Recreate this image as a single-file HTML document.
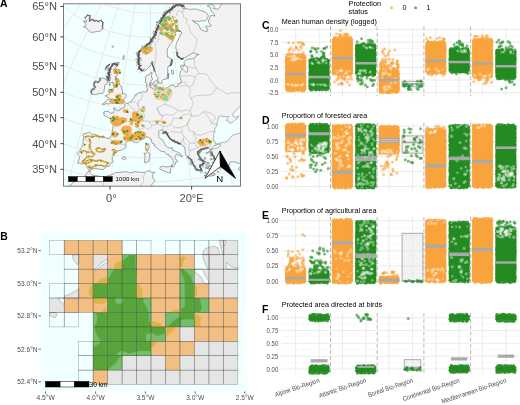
<!DOCTYPE html>
<html><head><meta charset="utf-8"><title>Figure</title>
<style>html,body{margin:0;padding:0;background:#fff;width:520px;height:405px;overflow:hidden}svg{display:block;will-change:transform}</style>
</head><body><svg width="520" height="405" viewBox="0 0 520 405"><defs><clipPath id="clipA"><rect x="63.5" y="3.8" width="177.0" height="182.39999999999998"/></clipPath></defs><g clip-path="url(#clipA)"><rect x="63.5" y="3.8" width="177.0" height="182.39999999999998" fill="#f0ffff"/><path d="M-119.7 94.9 L-114.6 102.2 L-109.2 109.4 L-103.5 116.4 L-97.7 123.2 L-91.6 129.8 L-85.4 136.2 L-79 142.4 L-72.3 148.4 L-65.5 154.2 L-58.6 159.8 L-51.4 165.2 L-44.2 170.4 L-36.7 175.3 L-29.2 180.1 L-21.5 184.6 L-13.6 188.9 L-5.7 193 L2.4 196.9 L10.5 200.6 L18.8 204.1 L27.2 207.3 L35.6 210.3 L44.2 213.1 L52.8 215.7 L61.4 218 L70.2 220.2 L79 222.1 L87.8 223.7 L96.7 225.2 L105.6 226.4 L114.6 227.4 L123.5 228.2 L132.5 228.8 L141.5 229.1 L150.5 229.2 L159.6 229.1 L168.6 228.8 L177.6 228.2 L186.5 227.4 L195.5 226.4 L204.4 225.2 L213.3 223.7 L222.1 222.1 L230.9 220.2 L239.6 218 L248.3 215.7 L256.9 213.1 L265.5 210.3 L273.9 207.3 L282.3 204.1 L290.5 200.6 L298.7 196.9 L306.8 193 L314.7 188.9 L322.6 184.6 L330.3 180.1 L337.8 175.3 L345.3 170.4 L352.5 165.2 L359.7 159.8 L366.6 154.2 L373.4 148.4 L380 142.4 L386.5 136.2 L392.7 129.8 L398.8 123.2 L404.6 116.4 L410.2 109.4 L415.6 102.2 L420.8 94.9 M-103.4 76.7 L-98.6 83.7 L-93.7 90.6 L-88.5 97.2 L-83.1 103.7 L-77.5 110.1 L-71.7 116.2 L-65.7 122.1 L-59.5 127.9 L-53.2 133.4 L-46.7 138.8 L-40 144 L-33.2 148.9 L-26.2 153.7 L-19.1 158.3 L-11.9 162.6 L-4.5 166.8 L2.9 170.7 L10.5 174.5 L18.2 178 L26 181.3 L33.9 184.5 L41.9 187.4 L49.9 190.1 L58.1 192.5 L66.2 194.8 L74.5 196.9 L82.8 198.7 L91.2 200.3 L99.6 201.7 L108 202.9 L116.5 203.9 L125 204.6 L133.5 205.2 L142 205.5 L150.5 205.6 L159.1 205.5 L167.6 205.2 L176.1 204.6 L184.6 203.9 L193.1 202.9 L201.5 201.7 L209.9 200.3 L218.3 198.7 L226.6 196.9 L234.8 194.8 L243 192.5 L251.2 190.1 L259.2 187.4 L267.2 184.5 L275.1 181.3 L282.9 178 L290.6 174.5 L298.1 170.7 L305.6 166.8 L313 162.6 L320.2 158.3 L327.3 153.7 L334.3 148.9 L341.1 144 L347.8 138.8 L354.3 133.4 L360.6 127.9 L366.8 122.1 L372.8 116.2 L378.6 110.1 L384.2 103.7 L389.6 97.2 L394.7 90.6 L399.7 83.7 L404.5 76.7 M-86.1 59.2 L-81.7 65.9 L-77.2 72.3 L-72.4 78.7 L-67.5 84.8 L-62.4 90.8 L-57 96.6 L-51.5 102.2 L-45.8 107.7 L-39.9 113 L-33.9 118.1 L-27.7 123 L-21.4 127.7 L-14.9 132.2 L-8.3 136.6 L-1.6 140.7 L5.3 144.7 L12.2 148.5 L19.3 152 L26.5 155.4 L33.8 158.6 L41.2 161.6 L48.6 164.3 L56.2 166.9 L63.8 169.3 L71.5 171.5 L79.2 173.4 L87 175.2 L94.8 176.7 L102.7 178.1 L110.6 179.2 L118.6 180.1 L126.5 180.9 L134.5 181.4 L142.5 181.7 L150.5 181.8 L158.6 181.7 L166.6 181.4 L174.5 180.9 L182.5 180.1 L190.5 179.2 L198.4 178.1 L206.3 176.7 L214.1 175.2 L221.9 173.4 L229.6 171.5 L237.3 169.3 L244.9 166.9 L252.5 164.3 L259.9 161.6 L267.3 158.6 L274.6 155.4 L281.8 152 L288.9 148.5 L295.8 144.7 L302.7 140.7 L309.4 136.6 L316 132.2 L322.5 127.7 L328.8 123 L335 118.1 L341 113 L346.9 107.7 L352.6 102.2 L358.1 96.6 L363.4 90.8 L368.6 84.8 L373.5 78.7 L378.3 72.3 L382.8 65.9 L387.1 59.2 M-67.8 42.5 L-63.9 48.7 L-59.8 54.8 L-55.5 60.7 L-51 66.4 L-46.4 72 L-41.5 77.5 L-36.5 82.8 L-31.2 87.9 L-25.9 92.9 L-20.4 97.7 L-14.7 102.3 L-8.9 106.7 L-2.9 111 L3.2 115.1 L9.4 119 L15.7 122.8 L22.2 126.3 L28.7 129.7 L35.4 132.9 L42.1 135.9 L48.9 138.7 L55.9 141.3 L62.8 143.7 L69.9 146 L77 148 L84.2 149.9 L91.5 151.5 L98.7 153 L106.1 154.3 L113.4 155.4 L120.8 156.2 L128.2 156.9 L135.7 157.4 L143.1 157.7 L150.5 157.8 L158 157.7 L165.4 157.4 L172.9 156.9 L180.3 156.2 L187.7 155.4 L195 154.3 L202.3 153 L209.6 151.5 L216.9 149.9 L224.1 148 L231.2 146 L238.2 143.7 L245.2 141.3 L252.1 138.7 L259 135.9 L265.7 132.9 L272.4 129.7 L278.9 126.3 L285.4 122.8 L291.7 119 L297.9 115.1 L304 111 L309.9 106.7 L315.8 102.3 L321.4 97.7 L327 92.9 L332.3 87.9 L337.5 82.8 L342.6 77.5 L347.4 72 L352.1 66.4 L356.6 60.7 L360.9 54.8 L365 48.7 L368.9 42.5 M-48.7 26.5 L-45.3 32.2 L-41.6 37.8 L-37.8 43.3 L-33.7 48.6 L-29.5 53.8 L-25.2 58.9 L-20.6 63.8 L-15.9 68.5 L-11 73.1 L-6 77.6 L-0.9 81.9 L4.4 86 L9.8 90 L15.4 93.8 L21 97.5 L26.8 101 L32.7 104.3 L38.7 107.4 L44.8 110.4 L51 113.2 L57.2 115.8 L63.5 118.3 L70 120.6 L76.4 122.7 L83 124.6 L89.6 126.3 L96.2 127.9 L102.9 129.2 L109.6 130.4 L116.4 131.4 L123.2 132.3 L130 132.9 L136.8 133.4 L143.7 133.6 L150.5 133.7 L157.4 133.6 L164.2 133.4 L171.1 132.9 L177.9 132.3 L184.7 131.4 L191.4 130.4 L198.2 129.2 L204.9 127.9 L211.5 126.3 L218.1 124.6 L224.7 122.7 L231.1 120.6 L237.5 118.3 L243.9 115.8 L250.1 113.2 L256.3 110.4 L262.4 107.4 L268.4 104.3 L274.3 101 L280 97.5 L285.7 93.8 L291.2 90 L296.7 86 L302 81.9 L307.1 77.6 L312.1 73.1 L317 68.5 L321.7 63.8 L326.2 58.9 L330.6 53.8 L334.8 48.6 L338.9 43.3 L342.7 37.8 L346.4 32.2 L349.8 26.5 M-28.9 11.3 L-25.9 16.5 L-22.6 21.6 L-19.2 26.6 L-15.7 31.4 L-11.9 36.2 L-8 40.8 L-4 45.3 L0.2 49.6 L4.5 53.9 L9 57.9 L13.6 61.9 L18.4 65.7 L23.2 69.3 L28.2 72.8 L33.3 76.2 L38.5 79.4 L43.8 82.4 L49.2 85.3 L54.7 88.1 L60.3 90.7 L65.9 93.1 L71.7 95.3 L77.5 97.4 L83.3 99.4 L89.3 101.1 L95.2 102.7 L101.3 104.2 L107.3 105.4 L113.4 106.5 L119.6 107.5 L125.7 108.2 L131.9 108.8 L138.1 109.2 L144.3 109.5 L150.5 109.6 L156.8 109.5 L163 109.2 L169.2 108.8 L175.4 108.2 L181.5 107.5 L187.7 106.5 L193.8 105.4 L199.8 104.2 L205.8 102.7 L211.8 101.1 L217.7 99.4 L223.6 97.4 L229.4 95.3 L235.1 93.1 L240.8 90.7 L246.4 88.1 L251.9 85.3 L257.3 82.4 L262.6 79.4 L267.8 76.2 L272.9 72.8 L277.8 69.3 L282.7 65.7 L287.4 61.9 L292.1 57.9 L296.5 53.9 L300.9 49.6 L305.1 45.3 L309.1 40.8 L313 36.2 L316.8 31.4 L320.3 26.6 L323.7 21.6 L326.9 16.5 L330 11.3 M-8.3 -3.2 L-5.7 1.5 L-2.9 6 L0 10.5 L3.1 14.9 L6.4 19.1 L9.8 23.3 L13.3 27.3 L17 31.2 L20.8 35 L24.7 38.7 L28.8 42.3 L33 45.7 L37.3 49 L41.7 52.1 L46.2 55.2 L50.8 58.1 L55.5 60.8 L60.3 63.4 L65.2 65.9 L70.1 68.2 L75.1 70.4 L80.2 72.5 L85.4 74.4 L90.6 76.1 L95.9 77.7 L101.2 79.2 L106.6 80.5 L112 81.6 L117.4 82.6 L122.9 83.5 L128.4 84.2 L133.9 84.7 L139.5 85.1 L145 85.3 L150.5 85.4 L156.1 85.3 L161.6 85.1 L167.2 84.7 L172.7 84.2 L178.2 83.5 L183.7 82.6 L189.1 81.6 L194.5 80.5 L199.9 79.2 L205.2 77.7 L210.5 76.1 L215.7 74.4 L220.9 72.5 L225.9 70.4 L231 68.2 L235.9 65.9 L240.8 63.4 L245.6 60.8 L250.3 58.1 L254.9 55.2 L259.4 52.1 L263.8 49 L268.1 45.7 L272.3 42.3 L276.3 38.7 L280.3 35 L284.1 31.2 L287.8 27.3 L291.3 23.3 L294.7 19.1 L298 14.9 L301.1 10.5 L304 6 L306.8 1.5 L309.4 -3.2 M12.9 -16.8 L15.1 -12.8 L17.4 -8.8 L19.9 -4.8 L22.6 -1 L25.4 2.7 L28.3 6.4 L31.3 9.9 L34.5 13.4 L37.7 16.7 L41.1 19.9 L44.6 23.1 L48.2 26.1 L51.9 29 L55.7 31.8 L59.6 34.5 L63.6 37 L67.7 39.5 L71.9 41.8 L76.1 44 L80.4 46 L84.8 48 L89.2 49.8 L93.7 51.5 L98.2 53 L102.8 54.4 L107.5 55.7 L112.2 56.9 L116.9 57.9 L121.6 58.8 L126.4 59.5 L131.2 60.2 L136 60.6 L140.9 61 L145.7 61.2 L150.5 61.3 L155.4 61.2 L160.2 61 L165.1 60.6 L169.9 60.2 L174.7 59.5 L179.5 58.8 L184.2 57.9 L188.9 56.9 L193.6 55.7 L198.3 54.4 L202.9 53 L207.4 51.5 L211.9 49.8 L216.3 48 L220.7 46 L225 44 L229.2 41.8 L233.4 39.5 L237.5 37 L241.5 34.5 L245.4 31.8 L249.2 29 L252.9 26.1 L256.5 23.1 L260 19.9 L263.4 16.7 L266.6 13.4 L269.8 9.9 L272.8 6.4 L275.7 2.7 L278.5 -1 L281.1 -4.8 L283.6 -8.8 L286 -12.8 L288.2 -16.8 M34.7 -29.7 L36.5 -26.2 L38.4 -22.8 L40.5 -19.5 L42.7 -16.2 L45 -13 L47.4 -9.9 L49.9 -6.9 L52.5 -3.9 L55.2 -1.1 L58.1 1.7 L61 4.4 L64 6.9 L67.1 9.4 L70.3 11.8 L73.6 14.1 L77 16.3 L80.4 18.4 L83.9 20.4 L87.5 22.3 L91.1 24.1 L94.8 25.7 L98.5 27.3 L102.3 28.8 L106.2 30.1 L110.1 31.3 L114 32.4 L118 33.4 L122 34.3 L126 35.1 L130.1 35.7 L134.1 36.2 L138.2 36.7 L142.3 37 L146.4 37.1 L150.5 37.2 L154.7 37.1 L158.8 37 L162.9 36.7 L167 36.2 L171 35.7 L175.1 35.1 L179.1 34.3 L183.1 33.4 L187.1 32.4 L191 31.3 L194.9 30.1 L198.7 28.8 L202.5 27.3 L206.3 25.7 L210 24.1 L213.6 22.3 L217.2 20.4 L220.7 18.4 L224.1 16.3 L227.5 14.1 L230.8 11.8 L234 9.4 L237.1 6.9 L240.1 4.4 L243 1.7 L245.8 -1.1 L248.6 -3.9 L251.2 -6.9 L253.7 -9.9 L256.1 -13 L258.4 -16.2 L260.6 -19.5 L262.7 -22.8 L264.6 -26.2 L266.4 -29.7 M57 -41.6 L58.4 -38.8 L60 -36 L61.6 -33.3 L63.3 -30.7 L65.1 -28.1 L67 -25.5 L69.1 -23 L71.2 -20.6 L73.3 -18.3 L75.6 -16 L77.9 -13.8 L80.4 -11.7 L82.9 -9.7 L85.4 -7.7 L88.1 -5.8 L90.8 -4 L93.6 -2.3 L96.4 -0.6 L99.3 0.9 L102.2 2.4 L105.2 3.8 L108.3 5.1 L111.3 6.3 L114.5 7.4 L117.6 8.4 L120.8 9.3 L124 10.1 L127.3 10.8 L130.6 11.5 L133.9 12 L137.2 12.5 L140.5 12.8 L143.9 13 L147.2 13.2 L150.5 13.2 L153.9 13.2 L157.2 13 L160.6 12.8 L163.9 12.5 L167.2 12 L170.5 11.5 L173.8 10.8 L177 10.1 L180.3 9.3 L183.5 8.4 L186.6 7.4 L189.7 6.3 L192.8 5.1 L195.9 3.8 L198.9 2.4 L201.8 0.9 L204.7 -0.6 L207.5 -2.3 L210.3 -4 L213 -5.8 L215.6 -7.7 L218.2 -9.7 L220.7 -11.7 L223.1 -13.8 L225.5 -16 L227.8 -18.3 L229.9 -20.6 L232 -23 L234 -25.5 L236 -28.1 L237.8 -30.7 L239.5 -33.3 L241.1 -36 L242.6 -38.8 L244.1 -41.6 M79.8 -52.7 L80.9 -50.6 L82 -48.5 L83.2 -46.4 L84.5 -44.3 L85.8 -42.4 L87.2 -40.4 L88.7 -38.5 L90.3 -36.7 L91.9 -34.9 L93.6 -33.1 L95.4 -31.4 L97.2 -29.8 L99.1 -28.2 L101.1 -26.7 L103 -25.3 L105.1 -23.9 L107.2 -22.5 L109.3 -21.3 L111.5 -20.1 L113.8 -18.9 L116 -17.9 L118.3 -16.9 L120.7 -16 L123.1 -15.1 L125.5 -14.3 L127.9 -13.6 L130.3 -13 L132.8 -12.4 L135.3 -11.9 L137.8 -11.5 L140.4 -11.2 L142.9 -10.9 L145.4 -10.7 L148 -10.6 L150.5 -10.6 L153.1 -10.6 L155.6 -10.7 L158.2 -10.9 L160.7 -11.2 L163.3 -11.5 L165.8 -11.9 L168.3 -12.4 L170.7 -13 L173.2 -13.6 L175.6 -14.3 L178 -15.1 L180.4 -16 L182.8 -16.9 L185.1 -17.9 L187.3 -18.9 L189.6 -20.1 L191.8 -21.3 L193.9 -22.5 L196 -23.9 L198 -25.3 L200 -26.7 L202 -28.2 L203.9 -29.8 L205.7 -31.4 L207.4 -33.1 L209.1 -34.9 L210.8 -36.7 L212.3 -38.5 L213.8 -40.4 L215.3 -42.4 L216.6 -44.3 L217.9 -46.4 L219.1 -48.5 L220.2 -50.6 L221.3 -52.7 M-69.6 181.1 L-65.3 172.5 L-60.8 164 L-56.3 155.6 L-51.5 147.2 L-46.7 138.8 L-41.7 130.5 L-36.5 122.2 L-31.3 114 L-25.9 105.8 L-20.4 97.7 L-14.7 89.6 L-8.9 81.6 L-3.1 73.6 L2.9 65.8 L9 57.9 L15.2 50.2 L21.6 42.5 L28 34.9 L34.5 27.4 L41.1 19.9 L47.8 12.6 L54.6 5.3 L61.5 -1.9 L68.5 -9 L75.6 -16 L82.8 -22.9 L90 -29.8 L97.3 -36.5 L104.7 -43.1 L112.2 -49.6 M-30.3 206.7 L-26.8 197.8 L-23.3 189 L-19.6 180.2 L-15.8 171.4 L-11.9 162.6 L-7.9 153.9 L-3.7 145.1 L0.5 136.4 L4.9 127.7 L9.4 119 L14 110.4 L18.7 101.8 L23.5 93.2 L28.3 84.7 L33.3 76.2 L38.4 67.7 L43.6 59.3 L48.8 51 L54.2 42.7 L59.6 34.5 L65.2 26.3 L70.8 18.2 L76.5 10.1 L82.2 2.1 L88.1 -5.8 L94 -13.6 L100 -21.4 L106.1 -29.1 L112.2 -36.7 L118.5 -44.2 M12.2 226.7 L14.8 217.7 L17.4 208.6 L20.2 199.5 L23.1 190.4 L26 181.3 L29.1 172.2 L32.2 163.1 L35.4 154 L38.7 145 L42.1 135.9 L45.6 126.8 L49.1 117.7 L52.8 108.7 L56.5 99.7 L60.3 90.7 L64.2 81.7 L68.1 72.7 L72.1 63.8 L76.2 54.9 L80.4 46 L84.6 37.2 L88.9 28.4 L93.3 19.7 L97.7 11 L102.2 2.4 L106.8 -6.2 L111.4 -14.7 L116.1 -23.2 L120.9 -31.6 L125.7 -39.9 M57 241.1 L58.7 231.9 L60.5 222.7 L62.4 213.4 L64.3 204.1 L66.2 194.8 L68.3 185.5 L70.4 176.1 L72.5 166.8 L74.8 157.4 L77 148 L79.4 138.6 L81.8 129.3 L84.2 119.9 L86.7 110.5 L89.3 101.1 L91.9 91.8 L94.5 82.4 L97.3 73.1 L100 63.7 L102.8 54.4 L105.7 45.2 L108.6 35.9 L111.6 26.7 L114.6 17.5 L117.6 8.4 L120.7 -0.7 L123.9 -9.8 L127.1 -18.8 L130.3 -27.8 L133.6 -36.7 M103.4 249.7 L104.3 240.4 L105.1 231.1 L106.1 221.7 L107 212.3 L108 202.9 L109 193.4 L110.1 184 L111.2 174.4 L112.3 164.9 L113.4 155.4 L114.6 145.8 L115.8 136.2 L117 126.6 L118.3 117 L119.6 107.5 L120.9 97.9 L122.2 88.3 L123.6 78.7 L125 69.1 L126.4 59.5 L127.8 50 L129.3 40.5 L130.8 31 L132.3 21.5 L133.9 12 L135.4 2.6 L137 -6.8 L138.6 -16.2 L140.3 -25.5 L141.9 -34.8 M150.5 252.6 L150.5 243.3 L150.5 233.9 L150.5 224.5 L150.5 215.1 L150.5 205.6 L150.5 196.1 L150.5 186.6 L150.5 177 L150.5 167.4 L150.5 157.8 L150.5 148.2 L150.5 138.6 L150.5 128.9 L150.5 119.2 L150.5 109.6 L150.5 99.9 L150.5 90.2 L150.5 80.6 L150.5 70.9 L150.5 61.3 L150.5 51.6 L150.5 42 L150.5 32.4 L150.5 22.8 L150.5 13.2 L150.5 3.7 L150.5 -5.8 L150.5 -15.3 L150.5 -24.7 L150.5 -34.1 M197.7 249.7 L196.8 240.4 L195.9 231.1 L195 221.7 L194.1 212.3 L193.1 202.9 L192.1 193.4 L191 184 L189.9 174.4 L188.8 164.9 L187.7 155.4 L186.5 145.8 L185.3 136.2 L184.1 126.6 L182.8 117 L181.5 107.5 L180.2 97.9 L178.9 88.3 L177.5 78.7 L176.1 69.1 L174.7 59.5 L173.2 50 L171.8 40.5 L170.3 31 L168.8 21.5 L167.2 12 L165.6 2.6 L164.1 -6.8 L162.4 -16.2 L160.8 -25.5 L159.2 -34.8 M244 241.1 L242.3 231.9 L240.6 222.7 L238.7 213.4 L236.8 204.1 L234.8 194.8 L232.8 185.5 L230.7 176.1 L228.5 166.8 L226.3 157.4 L224.1 148 L221.7 138.6 L219.3 129.3 L216.9 119.9 L214.4 110.5 L211.8 101.1 L209.2 91.8 L206.5 82.4 L203.8 73.1 L201.1 63.7 L198.3 54.4 L195.4 45.2 L192.5 35.9 L189.5 26.7 L186.5 17.5 L183.5 8.4 L180.4 -0.7 L177.2 -9.8 L174 -18.8 L170.8 -27.8 L167.5 -36.7 M288.9 226.7 L286.3 217.7 L283.6 208.6 L280.9 199.5 L278 190.4 L275.1 181.3 L272 172.2 L268.9 163.1 L265.7 154 L262.4 145 L259 135.9 L255.5 126.8 L251.9 117.7 L248.3 108.7 L244.6 99.7 L240.8 90.7 L236.9 81.7 L233 72.7 L229 63.8 L224.9 54.9 L220.7 46 L216.5 37.2 L212.2 28.4 L207.8 19.7 L203.4 11 L198.9 2.4 L194.3 -6.2 L189.7 -14.7 L185 -23.2 L180.2 -31.6 L175.4 -39.9 M331.4 206.7 L327.9 197.8 L324.4 189 L320.7 180.2 L316.9 171.4 L313 162.6 L308.9 153.9 L304.8 145.1 L300.5 136.4 L296.2 127.7 L291.7 119 L287.1 110.4 L282.4 101.8 L277.6 93.2 L272.7 84.7 L267.8 76.2 L262.7 67.7 L257.5 59.3 L252.2 51 L246.9 42.7 L241.5 34.5 L235.9 26.3 L230.3 18.2 L224.6 10.1 L218.8 2.1 L213 -5.8 L207.1 -13.6 L201.1 -21.4 L195 -29.1 L188.8 -36.7 L182.6 -44.2 M370.7 181.1 L366.4 172.5 L361.9 164 L357.4 155.6 L352.6 147.2 L347.8 138.8 L342.8 130.5 L337.6 122.2 L332.4 114 L327 105.8 L321.4 97.7 L315.8 89.6 L310 81.6 L304.2 73.6 L298.2 65.8 L292.1 57.9 L285.9 50.2 L279.5 42.5 L273.1 34.9 L266.6 27.4 L260 19.9 L253.3 12.6 L246.4 5.3 L239.5 -1.9 L232.6 -9 L225.5 -16 L218.3 -22.9 L211.1 -29.8 L203.8 -36.5 L196.4 -43.1 L188.9 -49.6 M405.9 150 L400.8 141.9 L395.4 133.8 L390 125.8 L384.3 117.9 L378.6 110.1 L372.6 102.3 L366.5 94.6 L360.3 87 L353.9 79.5 L347.4 72 L340.8 64.7 L334 57.4 L327.2 50.2 L320.2 43.2 L313 36.2 L305.8 29.3 L298.4 22.5 L291 15.8 L283.4 9.2 L275.7 2.7 L268 -3.7 L260.1 -9.9 L252.1 -16.1 L244.1 -22.1 L236 -28.1 L227.7 -33.9 L219.4 -39.6 L211.1 -45.1 L202.6 -50.6 L194.1 -55.9" fill="none" stroke="#ece4e4" stroke-width="0.9"/><path d="M89.4 170.8 L88.1 169 L87 167.3 L87.1 166.1 L85.1 164 L83.6 163.7 L81.2 164 L79 163 L77.6 163.1 L79.1 159 L79.7 156.5 L78.4 155.1 L77.4 154.4 L78.4 151.9 L80.2 149.9 L81.5 147.7 L83 144.6 L83 141.1 L83.3 139.2 L83.9 137.4 L82.8 135.1 L83.5 133.7 L86.1 133.7 L88.1 132.4 L89.3 132.2 L91.4 134 L94.9 134.5 L96.9 135.2 L99.8 136.4 L102.3 136.6 L105 137.6 L107.7 138.3 L109.2 138.2 L110.4 137.4 L111.7 134.2 L112.1 132.5 L112.9 128.5 L113.2 125.1 L111.4 123.4 L110.7 121.3 L110.7 119.6 L109.6 118.1 L107.7 117.3 L105.4 115.9 L104.1 115.4 L103.4 114.3 L104.7 113.3 L103.4 112.6 L104.2 111.7 L106.2 111.5 L108.5 111.3 L110.1 113.1 L112.4 113 L113.7 112.7 L114.1 110.6 L113.5 108 L115.4 108.3 L115.8 109.8 L118.5 110.7 L119.8 110.2 L120.3 109 L122.6 108.1 L124.5 107.1 L125 104 L126 103.4 L127.8 103.1 L129.4 102.3 L131 101.8 L131.7 100.5 L132.7 99.4 L134.3 97.4 L135.1 94.7 L136.3 95.1 L136.9 93.7 L139 92.6 L141.3 92.9 L142.5 91.5 L144.8 92.1 L145.7 92.4 L146.6 90.7 L147.7 90.7 L147.3 88.8 L146.8 87.3 L146.7 85.4 L146.8 83.4 L145.3 82.7 L145.6 80 L145.5 77.6 L146.6 75.2 L149 75 L150.4 73.1 L152.1 72.1 L151.9 74.3 L151.3 76 L151.5 77.7 L152.9 78.4 L152.2 80.1 L151.1 80.6 L150.5 82 L149.9 83 L149.4 84.7 L150.3 86.1 L150.5 87.6 L153.1 88.3 L153.4 90.2 L155.1 89.7 L156.5 89.2 L157.6 87.9 L159.3 88.1 L160.6 87.3 L161.3 89.2 L162.5 90.4 L163.9 89.8 L166.1 88.9 L168.2 87.3 L170.1 85.9 L172.2 85.2 L173.9 85 L174.3 86.2 L175 87.1 L177.2 86.3 L178.1 85 L178.2 83.7 L181.2 83 L181 80.1 L180.2 77.8 L179.7 75.4 L179.9 73.4 L180.6 70.9 L182.9 69.2 L184.5 70.9 L186.1 72.3 L187.4 71.8 L187.7 69.6 L186.8 66.8 L185.8 65.7 L184.5 65.3 L184.3 63.3 L183.8 61.9 L185.5 60.4 L187.1 59.5 L189.4 58.8 L191.9 58.9 L194.3 58.1 L195.7 56.2 L197.6 54.9 L199 54.5 L196.9 54.1 L194.6 53 L192.4 53.3 L189.9 54.7 L187.5 56 L185.8 57.1 L184 58 L182 59.1 L180.7 58.6 L179.2 57.4 L177.5 55.7 L177 52.8 L176.8 50.4 L175.7 48.2 L175.9 45.7 L176.4 43.2 L177.5 40.8 L178.6 38.8 L179.6 36.7 L180.5 34.8 L181.9 33.7 L181.1 31.4 L179.4 30.3 L178.5 30.5 L176.4 31.2 L174.8 32.4 L173.8 33.8 L173.6 36.3 L173.3 38.3 L172.6 41.3 L171.1 43 L169.8 44.6 L169.1 46.7 L167.5 48.3 L167.4 50.7 L167 52.7 L167.6 55.6 L167.6 57 L169.1 57.3 L170.6 58.4 L171.9 59.9 L171.6 61.9 L170.5 63.3 L171.2 64.9 L169.5 65.8 L168.1 66.7 L167.6 68.7 L167.8 71.1 L167.5 73.8 L167.5 76.4 L166.6 78.7 L166.2 79.2 L164.8 79.3 L163.2 79.4 L162.2 80.7 L162.1 83.1 L159.9 83.5 L158.6 83.1 L158.9 81.8 L158.1 80.7 L157.4 80 L158.2 78.5 L157.7 77.5 L156.9 76.1 L155.8 74.2 L155.3 72.3 L154.8 70.9 L153.9 69.4 L153.4 67 L153 65.3 L152.4 64.9 L152.1 63.2 L152 61.7 L151.3 62.7 L151.2 64.6 L150.5 65.8 L149.3 66.3 L148 68 L146.7 69.4 L145.4 70.4 L144.1 70.8 L142.8 70.7 L141.8 70.2 L140.4 69.2 L139.5 67.2 L139.4 65.7 L138.7 64 L139.1 61.8 L138.5 59.9 L138.5 57.9 L138.6 56 L138.9 54.1 L139.1 52.2 L139.7 50.8 L141.3 49.9 L142.5 48.5 L143.9 47.6 L145 46.7 L146.2 45.5 L147.3 44.6 L148.8 43.9 L150.1 42.2 L151.2 40.6 L152 39.1 L153.2 37.6 L154.6 35.7 L155.1 33.3 L156 31.3 L156.9 28.9 L158 27.4 L159 25.9 L159.8 23.9 L160.5 21.9 L161.6 19.9 L162.4 18.4 L163.6 16.8 L164.7 14.8 L165.7 13.2 L167.3 12.3 L168.7 10.8 L170.2 10.1 L171.6 8.8 L172.9 7.1 L174.3 6.1 L175.4 5.1 L177.1 5.4 L178.5 4.5 L180 5.1 L182.1 5.8 L183.3 6 L184.5 6.3 L184.3 8.1 L183.7 9.1 L185.4 8.8 L187 8.5 L189.2 9.5 L190.5 9.3 L191.8 9.1 L193.2 9.1 L194.6 9 L196.1 9.2 L197.6 9.4 L200.1 10.4 L201.5 10.8 L203 11.2 L205 11.9 L207.1 13.5 L208.3 15.7 L207.8 17.6 L206.7 19.7 L205.7 20.3 L204.7 20.9 L203.1 20.9 L201.5 20.9 L200.2 21.2 L199 21.4 L197.7 21.4 L196.4 21.3 L194.4 21.3 L192.5 20.2 L193.9 22.2 L195.7 23.1 L198.3 24.3 L199.7 26.8 L200.3 29.2 L202.7 30.4 L204.8 31.1 L207.1 31.5 L207.9 29.3 L205.8 28.1 L206.1 26.3 L208.4 26.4 L210.4 26.3 L211.4 25.6 L210 24.1 L208.5 22.1 L208.9 20.2 L209.3 18.4 L209.9 17.1 L210.5 15.7 L212.8 15.6 L214.9 16.1 L213.7 13.4 L211.4 11.3 L210.1 7.6 L207.2 5.8 L208.5 5.2 L209.9 4.6 L211.4 4.7 L212.9 4.8 L214.9 6.5 L214.1 7.5 L213.4 8.5 L215 8.7 L216.5 8.9 L218.1 9.1 L218.9 8.1 L219.7 7.2 L220.4 6.3 L221.2 5.3 L221.5 3.9 L221.8 2.5 L222.1 1.1 L222.3 -0.4 L222.5 -1.8 L223.3 -2.7 L224 -3.7 L224.7 -4.7 L225.1 -5.7 L225.6 -6.8 L226.1 -7.8 L226.5 -8.8 L226.9 -9.9 L227.9 -10.5 L228.8 -11.2 L229.7 -11.8 L229.6 -13.5 L229.4 -15.2 L229.2 -16.9 L230 -17.7 L230.8 -18.4 L231.6 -19.2 L232.4 -19.9 L233.2 -20.7 L234 -21.5 L235 -22 L236 -22.6 L237 -23.2 L238 -23.8 L239 -24.5 L240 -25.1 L240.4 -26.1 L240.7 -27.2 L241.1 -28.2 L241.4 -29.2 L241.7 -30.3 L241.9 -31.3 L242.2 -32.3 L242.5 -33.3 L242.7 -34.4 L243 -35.4 L243.2 -36.5 L243.4 -37.5 L243.6 -38.5 L243.8 -39.6 L243.9 -40.6 L244.1 -41.6 L246.8 -40.2 L249.5 -38.8 L252.2 -37.4 L254.9 -35.9 L257.6 -34.5 L260.3 -33 L263 -31.5 L265.7 -30.1 L268.3 -28.6 L271 -27 L273.7 -25.5 L276.3 -24 L278.9 -22.4 L281.6 -20.9 L284.2 -19.3 L286.8 -17.7 L289.4 -16.1 L292 -14.5 L294.6 -12.9 L297.1 -11.2 L299.7 -9.6 L302.3 -7.9 L304.8 -6.3 L307.4 -4.6 L309.9 -2.9 L312.4 -1.2 L314.9 0.5 L317.4 2.3 L319.9 4 L322.4 5.8 L324.9 7.5 L327.3 9.3 L329.8 11.1 L332.2 12.9 L334.6 14.7 L337 16.5 L339.5 18.4 L341.9 20.2 L344.2 22.1 L346.6 23.9 L349 25.8 L351.3 27.7 L353.7 29.6 L356 31.5 L358.3 33.4 L360.6 35.4 L362.9 37.3 L365.2 39.3 L367.5 41.2 L369.7 43.2 L372 45.2 L374.2 47.2 L376.4 49.2 L378.6 51.2 L380.8 53.3 L383 55.3 L385.2 57.3 L387.3 59.4 L389.5 61.5 L391.6 63.6 L393.7 65.7 L395.8 67.8 L397.9 69.9 L400 72 L402.1 74.1 L404.1 76.3 L406.1 78.4 L408.2 80.6 L410.2 82.8 L412.1 85 L414.1 87.2 L416.1 89.4 L418 91.6 L419.9 93.8 L421.9 96.1 L423.8 98.3 L425.6 100.6 L427.5 102.9 L429.4 105.1 L431.2 107.4 L433 109.7 L434.8 112 L436.6 114.3 L438.4 116.7 L440.1 119 L441.9 121.4 L443.6 123.7 L445.3 126.1 L447 128.5 L448.6 130.9 L450.3 133.3 L448.5 135.7 L446.7 138 L444.9 140.4 L443 142.8 L441.2 145.1 L439.3 147.4 L437.4 149.7 L435.4 151.9 L433.5 154.2 L431.5 156.4 L429.5 158.6 L427.5 160.8 L425.5 163 L423.4 165.1 L421.4 167.3 L419.3 169.4 L417.2 171.5 L415 173.5 L412.9 175.6 L410.7 177.6 L408.6 179.6 L406.4 181.6 L404.2 183.6 L401.9 185.5 L399.7 187.5 L397.4 189.4 L395.2 191.3 L392.9 193.1 L390.6 195 L388.2 196.8 L385.9 198.6 L383.6 200.4 L381.2 202.2 L378.8 203.9 L376.4 205.7 L374 207.4 L371.6 209 L369.1 210.7 L366.7 212.3 L364.2 214 L361.7 215.6 L359.2 217.2 L356.7 218.7 L354.2 220.3 L351.7 221.8 L349.1 223.3 L346.6 224.7 L344 226.2 L341.4 227.6 L338.8 229.1 L336.2 230.4 L333.6 231.8 L331 233.2 L328.4 234.5 L325.7 235.8 L323.1 237.1 L320.4 238.4 L317.7 239.6 L315 240.8 L312.3 242 L309.6 243.2 L306.9 244.4 L304.2 245.5 L301.5 246.7 L298.7 247.8 L296 248.8 L293.2 249.9 L290.4 250.9 L287.7 251.9 L284.9 252.9 L282.1 253.9 L279.3 254.9 L276.5 255.8 L273.7 256.7 L270.8 257.6 L268 258.5 L265.2 259.3 L262.3 260.1 L259.5 260.9 L256.6 261.7 L253.8 262.5 L250.9 263.2 L248 263.9 L245.1 264.6 L242.3 265.3 L239.4 266 L236.5 266.6 L233.6 267.2 L230.7 267.8 L227.8 268.4 L224.9 268.9 L221.9 269.4 L219 270 L216.1 270.4 L213.2 270.9 L210.2 271.3 L207.3 271.8 L204.4 272.2 L201.4 272.5 L198.5 272.9 L195.5 273.2 L192.6 273.5 L189.6 273.8 L186.7 274.1 L183.7 274.4 L180.8 274.6 L177.8 274.8 L174.9 275 L171.9 275.1 L168.9 275.3 L166 275.4 L163 275.5 L160 275.6 L157.1 275.7 L154.1 275.7 L151.1 275.7 L148.2 275.7 L145.2 275.7 L142.2 275.6 L139.3 275.5 L136.3 275.5 L133.3 275.3 L130.4 275.2 L127.4 275.1 L124.5 274.9 L121.5 274.7 L118.5 274.5 L115.6 274.2 L112.6 274 L109.7 273.7 L106.7 273.4 L103.8 273 L100.8 272.7 L97.9 272.3 L95 271.9 L92 271.5 L89.1 271.1 L86.2 270.6 L83.2 270.2 L80.3 269.7 L77.4 269.1 L74.5 268.6 L71.6 268 L68.7 267.5 L65.8 266.8 L62.9 266.2 L60 265.6 L57.1 264.9 L54.2 264.2 L51.3 263.5 L48.5 262.8 L45.6 262 L42.7 261.3 L39.9 260.5 L37.1 259.6 L34.2 258.8 L31.4 257.9 L28.6 257.1 L25.7 256.2 L22.9 255.2 L20.1 254.3 L17.3 253.3 L14.5 252.3 L11.8 251.3 L9 250.3 L6.2 249.3 L8.3 247 L10.4 244.8 L12.5 242.5 L14.6 240.3 L16.7 238 L18.8 235.7 L20.9 233.4 L23 231.1 L25 228.8 L27.1 226.5 L29.2 224.2 L31.2 221.8 L33.3 219.5 L35.9 217 L38.5 214.6 L41.1 212.1 L43.7 209.6 L46.3 207 L48.8 204.5 L51.4 202 L54.8 201.5 L58.3 201 L62.6 198.5 L66.9 195.9 L68.4 192.9 L68.5 188.5 L71.6 183.9 L75.6 180.9 L79.4 180.4 L83 179 L85.8 174.9 L87.9 171.5 L90.1 171.4 L90.2 172.9 L92.6 175.3 L95.4 175.6 L99 176 L102 177.5 L105.3 177 L108.7 175.3 L111.9 174.8 L115.3 172.6 L119.3 172.5 L123.2 171.9 L126.8 171.8 L131 173 L135 171.6 L138.9 172.2 L142 172.3 L145.1 172.4 L147.4 171 L150 170.8 L151.7 172.7 L154.6 172 L152.5 175.1 L152.9 178 L154.9 180.8 L152.6 183.7 L150.9 185.6 L152.6 188 L155 189.9 L156.7 190.8 L160.8 192.1 L164.1 191.5 L166.8 192.4 L169.4 193.2 L172.1 194 L173.5 196.7 L177.8 198.8 L181.1 199.5 L184.3 200.1 L188.7 202 L192.6 198.7 L192.6 194.3 L194.3 191.2 L198.1 188.3 L201.8 188.2 L204.5 189.2 L208.5 190.9 L213.3 191.9 L216.2 191.5 L219.1 191 L222.3 191.4 L225.6 191.7 L229.9 191.7 L233.5 188.5 L237.3 186.5 L241.7 187 L243.8 186.8 L247.8 185.6 L250.6 183.7 L251.3 181 L251.6 177.3 L251.6 174.3 L252.1 170.1 L252.6 166.3 L251 162.3 L251.2 160.2 L250.9 156.7 L248.7 157.5 L245.1 157.7 L243.3 161.1 L241.6 162.2 L239.1 163.5 L235.5 162.1 L232.5 161.7 L229.9 162.2 L229.7 165 L227.2 166.4 L224.1 165 L221.3 164.9 L218.7 165.8 L219.9 163.8 L217.2 164.4 L216.5 162.8 L215.3 160.6 L212.8 159.7 L213.3 158.6 L214.3 157.9 L213.5 155.9 L211.7 154.5 L210.5 153.8 L210.4 151.4 L210.9 150.3 L211.8 149.1 L210 149.7 L209.1 148.7 L208.9 147.8 L206.2 147.6 L204.5 148.4 L202.4 149.1 L200.7 149.9 L201.7 151.7 L199.6 152.1 L199.8 153.7 L197.8 151.4 L197.1 153 L198.6 155.6 L200 157.3 L198.4 159.3 L201.4 161 L203.4 161.6 L204.2 163.9 L201.8 163.9 L201.2 166.2 L199.6 165.5 L201.7 170.5 L199.8 171 L198.6 169.8 L197.5 169 L196.8 169.6 L196 169.5 L195.2 166.4 L193.9 165.2 L192.9 163.6 L193.8 163 L192.3 162 L191.1 160 L188.9 158.1 L187.8 156.8 L185.3 154.2 L185.3 151.3 L184.6 147 L182.9 146.3 L181.3 144.3 L179 143.3 L176.7 142.1 L174.5 140.4 L171.6 140.1 L170.5 138.8 L168.6 137 L167.4 134.6 L167.3 132.7 L165.5 131.6 L164.9 132.8 L163.9 134.3 L162.8 132.9 L163.2 130.5 L161.4 129.9 L158.7 131.2 L158.4 132.6 L159.1 133.8 L158.5 136.3 L159.6 138.2 L163.2 140.4 L164.4 143.5 L165.6 145.8 L167.5 147.2 L169.3 148 L172.6 147.8 L172 149.8 L174.6 151 L177.3 152 L179.8 153.2 L182 155.3 L181.7 157.1 L180.2 155.3 L178.3 155 L176.7 154.2 L175 156.3 L174.9 158.7 L177.3 160.4 L177.4 161.9 L175.5 162.5 L175.3 164.4 L173.9 166.7 L172.2 166.9 L172.3 165.4 L173 163.7 L174 162.1 L172.3 158.9 L171.4 156.8 L169.1 156.2 L168.6 154.3 L166.8 154.5 L165.6 153.6 L164.2 151.5 L161.5 151.6 L160 150.7 L158.5 149.3 L157 147.9 L154.5 146.2 L154.8 144.3 L152.3 143.4 L151.6 141 L151.2 139 L149.8 138.3 L147.8 137.1 L146 136.6 L144.3 138.7 L141.8 139.5 L140 140.5 L138.5 142.1 L136.4 142.8 L133.9 141.9 L132.2 140.8 L130.2 140.4 L127.6 141.2 L125.9 142.7 L125.7 144.6 L126.2 145.6 L125.7 147.5 L123.7 148.8 L121.8 150.1 L118.4 150.7 L116.8 151.9 L115.9 153 L113.4 155.8 L112 157.8 L112.4 160.3 L113.5 161.4 L111 163 L109.6 164.8 L109 166.4 L107.1 166.4 L104.9 167.7 L103.5 169.7 L101.5 169.4 L98.4 169.1 L94.6 168.3 L92.5 169 L91.2 169.7 L90.5 170.3Z M102.2 104.1 L103.6 104.9 L105.8 103.6 L107.3 103.8 L109.2 104 L111.3 102.7 L112.5 103.5 L114.6 103.2 L116.2 103.1 L117.7 103.4 L119.8 103.6 L121 104 L123.2 103.3 L124.6 102.2 L124.7 101.4 L123.2 100.6 L122.4 100.3 L124 99.2 L124.7 98.6 L126.3 96.1 L126.3 94.9 L125.3 93.8 L123 93.5 L122 93.9 L122.6 92.7 L122.4 91 L122.2 90.2 L121.7 88 L121.2 86.4 L120.4 85.3 L119.5 84.7 L119.1 82.9 L118.9 80.7 L118.3 79.1 L117.1 77.9 L115.6 77.5 L114.8 77 L116.3 76.5 L116.9 76.2 L116.5 75.3 L117.4 74.8 L118.8 73 L119.2 71.6 L120.1 70.3 L119.7 69.8 L117.1 69.4 L115.6 69.3 L113.9 69.7 L115 68.4 L115.4 67.5 L116.9 66.3 L117.7 65.5 L117.9 64.8 L117 64.8 L114.9 64.7 L113 64 L112.2 65.3 L111.4 66.7 L110.6 68 L109.7 69.3 L109.9 70.8 L109 72.3 L107.9 72.3 L109 73.8 L109.1 75.6 L108 77.8 L107.4 79.2 L108.7 78.5 L110.4 77.3 L110.6 78.9 L109.3 81.1 L108.7 81.9 L109.3 82.8 L110.6 82.8 L113 82.1 L113.1 83.8 L113.4 85.9 L114.5 86.5 L113.6 88.1 L113 89.7 L112.1 89.8 L110.4 89.7 L108.7 89.1 L109.3 90.5 L107.9 91.7 L109.6 92 L109.2 93.9 L107.9 94.9 L105.3 95.6 L105.8 96.9 L108 97.4 L108.8 98 L110.7 99.2 L112.6 98.8 L111.4 100 L109.6 99.9 L107.8 99.6 L106.6 100.3 L105.9 101.7 L104.8 102.4 L103.3 103.6Z M102.5 93.6 L103.9 91.8 L104.1 89.9 L104.6 88 L104.5 86.2 L104.7 85 L107 83.8 L107.5 82.7 L107.1 81.3 L106.6 80 L106.3 79.2 L104.7 79 L103.4 77.7 L102.3 78.2 L100.6 78.3 L99.7 79.5 L100.2 80.9 L98.7 82 L96.8 81.5 L95.1 81.3 L94.3 82.6 L95.3 83.9 L93.6 84.7 L94.6 86.2 L96.2 86.9 L94.8 87.8 L93.5 89.2 L93.9 90 L92.6 90.4 L90.9 91 L91 92.5 L91.8 94.3 L93 94.3 L95.7 94.6 L97.4 94 L99 93.7 L100.6 93.3Z M83.4 26.7 L85.1 27.5 L86.7 28.2 L87.7 29.6 L88.8 31.1 L90.6 32.3 L92.4 32.2 L94.2 32.1 L96.1 31.7 L98 31.3 L100.3 31.1 L103.2 28.8 L102.3 26.1 L103 23.8 L102.3 22 L101.2 20.2 L98.5 21.5 L96.8 20.5 L95.3 20.8 L93.7 21 L92.6 18.9 L89.5 21.1 L90 15.6 L87.4 15.6 L84.9 17.6 L85.6 18.8 L86.4 20.1 L86.6 21.8 L85 21.5 L83.5 21 L84.4 22.2 L85.2 23.3 L86.1 24.4 L85.4 26.2Z M148.4 143.4 L148.9 145.3 L148.9 147.7 L147.6 151.1 L146.2 150.1 L145.5 148.1 L145.5 146.2 L147 144.8 L148 144.8Z M147.6 151.8 L149.8 153.5 L149.4 157.3 L149 161.2 L146.8 162.1 L144.9 163 L144.5 160.2 L145 157.8 L144.6 154.9 L143.9 153.4 L146.1 153.2Z M159.8 168.2 L160.5 166.8 L163.2 166.2 L166.7 167 L170.1 166.3 L171.9 165.2 L170.6 169.1 L170.5 173 L168.1 172.7 L164.1 171 L160.2 169.2Z M204.1 175.7 L207.2 174.8 L210.3 174.2 L213.1 173.9 L215 173.5 L214.9 175 L210.2 176.2 L207.7 175.5 L204.5 176.1Z M238.4 168.7 L240.7 166.5 L243.6 165.3 L246.3 162.9 L244.9 166.9 L243.5 167.9 L241.2 170.1 L239.1 170Z M121.7 158.5 L123.4 156.7 L125.2 156.9 L126.1 158.2 L125 159.8 L123.2 158.9Z M153.5 82 L155.4 80.8 L156.7 80 L157.6 81.9 L157.2 83.8 L156.1 85.3 L154.1 84.4 L153.6 83.4Z M150 84 L151.4 82.5 L152.7 83.9 L152.2 85.2 L150.5 85.2Z M153.6 86.1 L155.8 85.6 L156.4 86.5 L154.7 87.1Z M171.3 70.2 L173.1 70.2 L173.7 72.4 L173.1 74.4 L172 74 L171.6 72.1Z M167.7 78.8 L168.6 73.4 L169.1 73.4 L168.3 78.8Z M180.2 66 L181.9 65.2 L184 65.4 L183.2 67 L181.5 68.8 L180.7 66.9Z M198.7 158.8 L201.2 160.1 L204.9 161.3 L206.2 162.1 L204.1 161 L200.8 159.7 L199.1 158.5Z M219.6 168.3 L221.2 166.4 L221.6 168.1 L220.2 169.4Z M209.8 155.4 L211.7 154.3 L212.8 155.8 L210.9 156Z M123.9 55.3 L124.3 57.3 L123.2 59.6 L123.3 57.6 L123 56.6Z M117.4 62.5 L119.2 62.3 L118.6 64.2 L117.5 63.5Z M110 63.8 L108.1 64.9 L106.9 66.6 L105.2 69.2 L105.5 70.2 L106.4 67.5 L108.3 66.4Z M107.9 67.9 L109 67.9 L109.9 69.8 L108.4 70.4 L107.8 69.3Z M107.6 72.7 L109 73.6 L108.3 74.4 L107.1 74.1Z M106.3 75.9 L107.6 76.2 L107 77.6 L106.2 77.4Z M109.2 84 L110.6 84.3 L109.4 85.8Z M112.6 45.6 L113.6 46.3 L112.6 47.5 L111.8 46.8Z M115.3 103.4 L116.7 103.4 L116 104.1Z M156 22.7 L157.3 21.7 L158.6 20.6 L160.4 20 L159.4 21.8 L157.5 22.4Z M162.8 17.4 L164 14.4 L164.6 15.3 L163.7 17.3Z M170.5 11.5 L171.8 9.8 L172.3 7.2 L171.1 9.4Z M212.4 -2.4 L214.4 -2.6 L214.7 -0.4Z" fill="#f2f2f2" stroke="#3d3d3d" stroke-width="0.45" stroke-linejoin="round"/><path d="M215.6 144.2 L219.5 143.2 L223.4 142.4 L227.3 141.6 L230 137.7 L233.1 135.2 L236.1 134.2 L239.2 133.2 L241 134.1 L243.2 133.8 L245.3 134.6 L248.8 134.8 L252 133.8 L255.5 131.8 L258.3 131.1 L259.8 129 L261.3 126.9 L260.9 123.9 L259.1 121.5 L255.8 120.8 L253 120.4 L248.8 119.1 L245.5 118.3 L242 117.6 L239.9 115.8 L241.6 113.6 L242.6 110.6 L243 107.8 L244 104.2 L240.9 106 L238.5 108 L235.9 110.6 L233.3 113.1 L232.8 115.9 L235.2 117.6 L238.5 115.9 L237.9 118.2 L235.5 119.6 L233 122 L230.2 123.4 L229.3 121.7 L226.1 120.4 L228.5 116.8 L226.3 116.5 L222.9 116.6 L220.9 115.7 L218.8 116.8 L217.8 120.6 L216.9 123.9 L217 125.9 L214.7 128 L214.9 131.5 L213.5 134.8 L213.8 137.7 L213.2 139.8 L215.1 141.9Z M211.7 148.9 L214.7 148.7 L218.2 147.6 L221.1 145.1 L219.4 144.3 L216.5 145 L214.1 145.8 L212.3 147.7Z M271.8 103.5 L274.5 107 L277.3 110.5 L280.3 112.2 L283.3 113.8 L285.8 116 L288.4 118.2 L289.5 121.3 L290.7 124.4 L291.8 127.4 L293.4 131.6 L296.4 131.5 L299.4 131.4 L302.1 130.6 L304.9 129.7 L307 127.8 L309 125.9 L311 123.9 L309.2 121.2 L307.4 118.6 L305.5 115.9 L301.4 113.9 L299.3 109.5 L295.7 106 L292.4 105.3 L288.4 103.2 L284.8 99.7 L283.3 93.7 L285.5 92.2 L287.7 90.7 L286.1 87.7 L284.4 84.6 L282.3 85.3 L280.3 85.8 L278.2 86.4 L277 88.6 L275.7 90.7 L274.4 92.9 L273 95.7 L271.5 98.6Z" fill="#f0ffff" stroke="#4a4a4a" stroke-width="0.4"/><path d="M109.2 138.2 L110.7 139.9 L113.3 141.7 L115.4 142 L117.5 142.3 L120.2 144.1 L123.7 144.9 L126.2 145.2 M83.3 139.2 L85.7 139.8 L89.8 141.5 L91.3 143.1 L89.4 145.1 L88.5 149.4 L87.5 152.2 L86.1 153.3 L86.8 155.9 L85.1 158.5 L85.8 160.6 L83.6 163.6 M127.8 103.1 L128.8 105.1 L130.9 106.3 L132.5 108.9 L134.4 109.5 L136.4 111.6 L138.6 111.7 L140.1 113.7 L142.6 113.8 L144.8 114.6 L143.8 117.8 L142.7 121 L140.7 121.5 L137.7 124.2 L137.5 127.6 L139.8 128.7 L140.3 132.1 L138.8 134.9 L140.1 137.4 L141.8 139.5 M138.6 111.7 L138.5 108.8 L139.4 107.9 L138.3 105.4 L138.1 104.4 L139.1 102 L138.3 100.5 L141 99.7 L142 96.8 L142.5 93.5 M130.6 102.4 L133.4 102.1 L135.5 102 L137.8 103.6 L137.4 105.6 L138.3 105.4 M142.7 121 L146 120.9 L148.9 121.4 L149.2 122.6 L151.9 124.6 L150.9 127.5 L147.2 129.4 L145.2 127.4 L142.8 128.3 L140.4 129.2 M149.2 121.7 L152.2 121.4 L154.9 121 L157.7 120.6 L160.3 121.5 L162.7 116 L159 112.3 L157 108 L159.2 106.8 L161.4 105.6 L163.6 104.4 L165.5 104.7 L164.2 99.5 L162.5 95.2 L162.8 90.4 M146.7 85.8 L148.9 86.1 L150.3 86.4 M151.9 124.6 L153.9 125 L157.8 123.5 L160.3 124.8 L162.9 126.2 L163 128.6 L162.8 131 M162.9 126.2 L165.9 126.5 L168.2 125.6 L170.4 124.7 L172.2 125.5 L174.7 127.7 L177.4 127.7 L180.1 127.6 L182.5 130.7 L181.3 132.3 L183.9 136.4 L183.5 138.9 L181.3 141.6 L180.9 144.3 M169.9 131.5 L172.7 131.8 L176.1 132 L178.7 132.2 L181.3 132.3 M172 140.1 L175.3 142.2 L177.5 142.5 L180.9 144.3 M170.4 124.7 L173 119.6 L173.5 118.1 L176.3 118.3 L179.1 118.5 L181.7 116.2 L185 114.3 L187.1 114.2 L189.2 114.1 M157 108 L158.4 111.4 L159.8 114.7 L162.7 116 L166.1 114.4 L168.3 114.7 L170.4 115 L172.6 115.3 L175 113.6 L178.1 110.3 L175 108.3 L172.4 107.1 L169.9 105.8 L167.7 105.3 L165.5 104.7 M178.1 110.3 L181.4 111.4 L185 109.9 L187.6 110.2 L190.2 110.5 M189.2 114.1 L192.1 116.1 L189.6 119 L187.2 124.7 L185 126 L182.6 126.8 L180.1 127.6 M190.2 110.5 L191.8 107 L193.4 103.5 L191.2 98.5 L189.4 95.4 L190.5 90.2 L188.7 86.7 L186.4 85.1 L184.7 85.5 L183.1 85.8 L181.4 86.2 L179.4 86.2 L177.4 86.3 M186.4 85.1 L185.2 81.9 L183.3 82 L181.3 82 M188.7 86.7 L190.7 86 L192.7 85.3 L194.1 81.1 L195.3 76.8 L192.9 76.1 L190.6 75.4 L189 75.5 L187.3 75.7 L185.7 75.8 L184.1 75.9 L182.5 76 L180.2 77.9 M195.3 76.8 L197.1 75.1 L198.9 73.4 L196.3 68.6 L192.9 67.9 L190.8 67.4 L188.7 66.9 L187 67.7 M196.3 68.6 L194.9 65.4 L194.6 61.9 L194.3 58.3 M198.9 73.4 L200.9 73.6 L202.8 73.9 L204.8 74.1 L206.7 74.2 L208.4 76.8 L210 79.3 L211.7 81.9 L214.2 84.9 L216.7 87.9 L215.1 90.1 L213.5 92.3 L211.9 94.5 L209.7 94.8 L207.6 95 L205.5 95.2 L203.4 95.3 L201.5 95.4 L199.6 95.5 L197.7 95.6 L195.8 95.6 L193.5 97.1 L191.2 98.5 M216.7 87.9 L219.7 89.5 L222.7 91 L227.3 94 L229.3 93.5 L231.2 92.9 L233.2 92.3 L235.9 93.3 L237.9 93 L239.9 92.7 L241.8 92.3 L242.9 96.1 L244 99.9 L242.5 103 L240.9 106 M190.2 110.5 L191.2 113.3 L192.1 116.1 L194.3 116 L196.5 115.9 L198.7 115.8 L201.1 113.8 L203.4 111.8 L205.8 112 L208.1 112.2 L212.6 114 L215.7 118.2 L213.3 120.8 L211.6 123.8 L209.8 119.2 L206.4 114.6 L203.4 111.8 M211.6 123.8 L214.2 123.9 L216.9 123.9 M189.6 119 L187.2 124.7 L188.3 127.7 L189.4 130.7 L191.8 131.4 L194.1 131.9 L195.6 134.6 L198.3 134.9 L201 135.1 L203.5 134.1 L205.9 133.1 L208.4 132.3 L210.9 131.4 L214.9 131.5 M194.1 131.9 L193.5 135 L196.2 138.4 L194.8 143.1 L197.3 147.5 L201.1 145.9 L203.6 146.1 L206 146.4 L209.1 143.3 L210.5 144.4 L209.2 147.7 M209.1 143.3 L213 140.9 L214.8 140.7 M183.9 136.4 L187.1 139.4 L189.8 143.4 L188.7 146 L188.9 150.3 L190.5 151.1 L189.4 154.2 L187.8 156.8 M188.9 150.3 L191.6 149.7 L194.3 149 L197.3 147.5 M189.8 143.4 L192.6 143 L194.8 143.1 M183.5 138.9 L183.1 141.4 L185.1 143.5 L183.9 145.2 M156 57.3 L155 63.1 L154 66 L153.8 66.5 M156 57.3 L155.9 53.9 L156.4 51 L155.2 46.7 L155.1 43.8 L156.3 42.4 L157.5 40.9 L158.7 39.4 L158.7 36.5 L159.5 32.6 L161.3 30.5 L162.7 27 L162.1 24.7 L163.8 21.6 L165.2 19.5 L166.7 19.6 L168.3 19.6 L168.9 16.1 M168.9 16.1 L170.9 15.3 L172.1 17 L173.4 17 L174.7 17 L175.6 16.1 L176.6 15.2 L177.2 12.1 L178.8 10.2 L180.2 11.3 L181.7 12.4 L183.2 11.5 L183.7 9.1 M168.9 16.1 L169.8 16.9 L171.2 17.7 L172.6 18.4 L175.1 20.9 L176.9 25.4 L178.5 30.5 M181.7 12.4 L183.2 13.5 L183.6 17.4 L185.3 18.1 L187 18.9 L186.3 23.1 L189.5 26.7 L189.6 30.2 L191.7 33.6 L193.5 35.6 L196.6 38.2 L196.8 42.2 L196.1 44.8 L195.3 47.4 L194.4 50 L192.4 53.3 M241.8 92.3 L244 92.4 L246.2 92.5 L248.4 92.5 L251.3 93.8 L254.2 95.1 L257.2 96.4 L258.4 94.3 L259.7 92.3 L260.9 90.3 L262 88.2 L261.1 83.1 L261.4 77.2 L262.4 75.2 L263.3 73.2 L264.3 71.1 L265.2 69 L267 68.2 L268.8 67.4 L270.6 66.6 L272.6 66.1 L274.5 65.7 L276.4 65.2 L278.3 64.7 L279.6 63.3 L280.8 62 L282.1 60.6 L283.3 59.3 L284.5 57.9 L286 56.9 L287.4 55.9 L288.9 54.9 L290.4 53.9 L291.8 52.8 M245.3 134.6 L247 137.9 L248.6 141.3 L250.2 144.6 L253.6 145.9 L257.1 147.1 L260.5 148.1 L263.9 149 L266.5 147.7 L269.2 146.4 L271.8 145 L274 144 L276.2 143 L278.3 141.9 L280.5 140.8 M250.9 156.7 L251.8 154.3 L254.5 153.8 L257.2 153.3 L259.5 152.2 L261.9 151.1 L264.2 150 L266.8 148.3 L269.3 146.7 L271.8 145 M261.3 126.9 L264.1 126.4 L266.8 125.9 L270.1 128.1 L275.3 129.9 L276.6 132.6 L277.9 135.3 L279.2 138.1 L280.5 140.8 M253 120.4 L255.8 119.8 L258.5 119.1 L261.2 119.2 L263.9 119.2 L266.3 118 L268.6 116.9 L271.3 117 L273.9 117 L276.6 117.1 L279.3 117.5 L282.1 117.9 M102 177.5 L103.6 180.6 L103.4 183.8 L103.3 187 L103.2 190.2 L100.8 192.3 L96.9 194.3 L93.1 196.3 L90 198.4 L86.8 200.5 L84.1 200.8 L81.4 201.1 L78.6 201.4 L75.9 201.7 L73.2 202 L70.4 202.2 M145.1 172.4 L143.4 176.9 L143.7 181.7 L140.8 185.5 L142.7 190.8 L146.4 195.6 L147.1 198.6 L147.7 201.7 L148.4 204.7 M156.7 190.8 L154.3 194.2 L151.8 197.5 L151.2 201.1 L150.5 204.7 M213.3 191.9 L213.7 195 L214.1 198.1 L214.5 201.2 L214.8 204.2 L215.3 207.2 L215.8 210.2 L216.2 213.2 L216.7 216.1 L217.1 219.1 L217.6 222.1 L218 225 L218.5 228 L218.9 231 L219.3 233.9 L219.7 236.9 M250.6 183.7 L252.2 186.2 L253.8 188.7 L255.4 191.2 M251.6 174.3 L254 172.4 L254.1 175.5" fill="none" stroke="#8a8a8a" stroke-width="0.35"/><path d="M143.3 70.1 L142 70.7 L140.6 70 L140.2 69.7 L138.9 67.8 L140 67.8 L139.1 66.5 L140.1 65.5 L138.6 64.7 L139.2 63.8 L138.8 62.8 L139.6 61.9 L139 60.8 L137.8 59.9 L139.5 58.9 L139.1 57.9 L138.6 57 L137.8 55.9 L139.5 55 L137.9 54.2 L138.8 53.2 L138.6 51.8 L140.4 51.4 L140.6 50.2 L140.5 50.7 L141.2 50 L142.4 49.6 L143.1 49 L144 47.1 L145 47.4 L145.6 46.3 L145.4 46.1 L145.9 45.6 L147.5 44.4 L148.5 43.4 L148.5 44 L149.2 43.3 L150.4 42.8 L151.7 41.8 L151.7 40.2 L152 40.4 L151.8 39.2 L152.5 39.1 L152.7 37.6 L152.5 36.9 L154.4 37.1 L155.7 35.5 L156.1 34.6 L156 33.7 L155.2 32.7 L156.6 32.5 L155.2 31.3 L155.9 30.5 L156.9 29.3 L158.1 28.7 L157.5 27.7 L156.8 27 L158.1 27 L159.8 25.6 L159.2 25 L160.6 23.7 L160.9 23 L160.7 22.6 L160.9 21.7 L161.7 20.2 L160.6 19.4 L161.5 18.7 L161.6 18 L163.3 18.1 L163.3 16.6 L163.8 16.3 L165.1 15.9 L164.6 14.9 L164.9 14.3 L165.3 13.9 L166.5 13.1 L167.3 11.6 L167.9 10.5 L168 10.9 L169.4 11 L169.5 9.9 L170.9 9.5 L172.1 8.9 L172.4 8.1 L173.2 7 L173.7 7.1 L174 7.3 L175.4 6.9 L175.8 5.3 L176.6 4.1 L177.2 4.2 L178.2 3.7 L179.2 4.2 L180.7 4.4 L181 5.5 L182 5.7 L183 5.9 L183.4 5.4" fill="none" stroke="#4a4a4a" stroke-width="0.55" stroke-linejoin="round"/><path d="M143.2 71.3 L141.6 70.6 L140.6 68.7 L140.1 69.5 L138.8 68.8 L139 67.6 L139.5 66.5 L140.1 65.8 L139.2 64.5 L137.7 63.7 L138.4 62.7 L138.2 61.8 L138.6 60.9 L139.2 59.9 L138.5 58.9 L139.7 57.9 L139.5 57 L138.2 56 L137.6 55 L138.1 53.9 L139.1 53.1 L138.2 51.6 L140.6 50.8 L140.3 51.5 L140.6 49.7 L142.5 48.4 L141.8 49.6 L143.6 47.7 L143.9 47.1 L145.2 47.9 L144.5 46.5 L145.4 45.6 L147 45.6 L146.8 44.3 L147.9 43.8 L149 44 L149.1 42.7 L149.2 42.1 L151.6 41.5 L151.2 40.8 L151.7 40.3 L151.5 38.8 L153.3 38.4 L154 37.2 L154.2 37 L154 37 L153.7 35.7 L154.3 34.7 L156 33.9 L156.2 32.7 L157 32.6 L156.5 31 L156.8 30.2 L156.5 29.2 L156.2 28.6 L156.8 28.6 L157.4 27.8 L157.3 26 L157.9 26.2 L160.1 24.2 L160.8 23.6 L159.6 23.2 L159.8 22.8 L160.6 21.6 L161.4 20.5 L162.1 20.6 L162.3 18.6 L163.3 18.6 L163.1 17.8 L163.1 16.6 L164 15.5 L164.6 15 L164.3 15.2 L165.5 13.6 L166 14.2 L167.1 13.2 L166.9 12.2 L168.1 10.6 L169 10.9 L169.5 10.8 L169.6 9.2 L171.6 8.9 L171.2 8.1 L172 8.3 L172.1 7.1 L173.2 6.1 L174.6 7.2 L175.5 5.6 L175.6 5.1 L176.8 4.9 L177.9 5.4 L178.2 4.5 L179.6 5.9 L180 4.2 L181.4 5.9 L181.9 7 L183.1 5.2 L183.7 6.3" fill="none" stroke="#4a4a4a" stroke-width="0.55" stroke-linejoin="round"/><path d="M143.2 70.6 L142 70.8 L141.4 69.5 L141.4 69.5 L139.1 68.5 L139.2 67.6 L138.4 66.6 L139.9 65.9 L139.9 64.9 L138.2 63.8 L138.5 62.8 L139.2 61.8 L137.9 60.9 L138.6 59.9 L139.7 58.9 L139.4 57.9 L139.3 57 L138.5 55.9 L137.5 55.1 L138 54.3 L139.1 53.2 L139.8 51.8 L138.9 50.9 L140.5 50 L140.9 50.4 L141.7 49 L142.1 48.8 L144.1 47.5 L144.5 48.2 L144.7 47.1 L145.3 45.6 L146 46.8 L147 45.1 L147.2 45.3 L147.2 43.4 L149.5 43.7 L150 42.9 L149.1 42.3 L150.9 40.9 L151 41.3 L150.6 39.3 L151.2 39.4 L153.3 37.9 L153.8 37.3 L153.6 37.5 L153.3 36.3 L155.5 35.6 L155.6 34.8 L156.3 33.9 L156.3 32.7 L155.4 31.9 L155.8 31.2 L155.8 30.4 L157.2 29.8 L156.6 29.2 L158.1 28.1 L157.9 27 L159.2 26.3 L158.4 26.2 L158.9 24.4 L159.5 23.9 L160.4 23 L161 21.8 L161.9 21.5 L161.1 20.6 L161.1 20.3 L162 18.6 L162.3 18.3 L162.8 17 L164.5 16.4 L164.5 16 L164.4 15.6 L163.8 14.6 L165.2 13.8 L164.9 12.2 L166.4 12.5 L166.9 11.2 L167.7 11.8 L169.2 11.4 L168.7 10 L170.2 10.5 L171 10 L172 8.1 L173.2 8.2 L173.2 7 L174.4 7.7 L174.2 6 L174.8 6.4 L176.1 4.8 L177.1 5.3 L178 5.6 L178.8 3.9 L179.1 3.7 L180.6 6.2 L180.9 4.9 L182.2 4.6 L183.1 4.7 L183.6 6.4" fill="none" stroke="#4a4a4a" stroke-width="0.55" stroke-linejoin="round"/><path d="M142.4 70 L142 70 L141.4 70.3 L141.1 69.3 L140 68.7 L139 67.6 L139.8 66.7 L139.2 65.6 L138.6 65 L138.9 63.7 L137.5 62.8 L139 61.8 L137.5 60.8 L137.4 59.9 L138.1 58.9 L138.5 58 L137.8 57 L138.2 56.1 L138.8 55.1 L139.8 54.2 L138.1 53.3 L138.4 52.6 L139 51.1 L139.9 50.9 L141 50 L141.5 49.1 L143.3 49 L143.2 48.6 L144.7 47.3 L143.9 46.5 L144.7 46.2 L146.3 46.3 L145.9 44.6 L147.1 45.3 L148 44.1 L148.4 43.5 L149.6 42.5 L150.3 42.6 L150.3 41.4 L150.2 40.3 L150.5 39.3 L151.1 39.7 L153 38.6 L153.7 37.2 L153.3 37.2 L154.8 36.4 L153.7 35.3 L153.7 35 L156.2 33.7 L156.2 32.7 L156.6 32.4 L156 31.3 L155.8 31 L156.3 29.5 L157.8 29 L157.6 28.2 L157.1 26.9 L159.5 26.8 L159.1 25.7 L158.7 24.4 L160 23.4 L159 22.9 L160.7 22.8 L160.8 21.3 L162.3 20.5 L161.6 19.9 L161.1 18.6 L161.5 18.8 L162.8 17.8 L163.5 16.8 L164.8 16 L163.5 15.6 L163.8 14.7 L165 13.8 L166.1 13.9 L167.2 13.2 L167.7 12.9 L167.8 11.1 L168 10.7 L168.8 9.7 L170 9.6 L171.3 9.3 L172 8 L172.7 8.6 L172.1 7.2 L173.9 6.1 L174.6 7.2 L175.4 6.1 L176.2 6.5 L177.2 4.8 L177.8 3.9 L178.1 3.5 L179.6 5 L180.5 5 L181.3 5.9 L182.1 6.6 L182.8 6.5 L183.9 6.6" fill="none" stroke="#4a4a4a" stroke-width="0.55" stroke-linejoin="round"/><path d="M142.8 70.7 L144.5 68.1 M142 70.2 L140.5 72.6 M141.2 69.7 L140.5 70.8 M140.4 69.2 L142 68.4 M140 68.3 L137 69.7 M139.6 67.5 L137.7 68.4 M139.3 66.7 L141.2 66.3 M139.1 65.7 L142.3 65.1 M138.9 64.7 L135.9 65.3 M138.7 63.8 L140.8 63.6 M138.7 62.8 L136.6 62.9 M138.6 61.8 L135.8 62 M138.6 60.8 L140.2 60.8 M138.5 59.9 L141.8 59.9 M138.5 58.9 L135.3 58.9 M138.5 57.9 L141.6 58 M138.6 57 L137 56.9 M138.6 56 L136.5 55.7 M138.7 55 L140.2 55.3 M138.8 54.1 L135.7 53.7 M139 53.1 L135.8 52.7 M139.1 52.2 L138.1 51.2 M139.8 51.4 L140.9 52.5 M140.6 50.7 L142.3 52.4 M141.3 49.9 L142.1 50.8 M141.9 49.3 L141 48.2 M142.6 48.8 L143.7 50 M143.2 48.2 L141.7 46.5 M143.9 47.6 L141.9 45.4 M144.6 47 L146.7 49.4 M145.2 46.4 L144.4 45.5 M145.9 45.8 L147.2 47.3 M146.6 45.2 L148.1 46.9 M147.3 44.6 L146.3 43.4 M148 44 L149.7 46.1 M148.7 43.4 L150.3 45.4 M149.4 42.8 L151.4 45.2 M150.1 42.2 L151.9 43.3 M150.6 41.5 L152.4 42.5 M151.1 40.7 L153.5 42.1 M151.5 39.9 L153.5 41.1 M152 39.1 L149.5 37.2 M152.5 38.4 L154.4 39.8 M153 37.7 L152 36.9 M153.6 37.1 L156.1 39 M154.1 36.4 L155.7 37.6 M154.6 35.7 L153.5 35.3 M154.9 34.8 L156.9 35.5 M155.2 33.9 L152.4 33 M155.5 33.1 L153.9 32.6 M155.8 32.2 L152.8 31.2 M156 31.3 L154.8 30.7 M156.4 30.5 L157.4 31 M156.8 29.7 L158.7 30.6 M157.2 29 L154.7 27.7 M157.6 28.2 L159.9 29.3 M158 27.4 L160.4 28.6 M158.4 26.5 L155.7 25.1 M158.9 25.6 L156.1 24.2 M159.3 24.8 L161.8 26.1 M159.8 23.9 L157 22.6 M160.2 23.1 L162.1 24 M160.5 22.3 L163.5 23.7 M160.9 21.5 L159.5 20.9 M161.3 20.7 L164 22 M161.6 19.9 L160.3 19.1 M162.1 19.1 L160.1 17.9 M162.6 18.4 L160.6 17.1 M163.1 17.6 L165.5 19.1 M163.6 16.8 L162 15.9 M164 16.1 L161.5 14.6 M164.4 15.4 L162.9 14.5 M164.9 14.6 L166.3 15.5 M165.3 13.9 L163.2 12.7 M165.7 13.2 L164 11.1 M166.4 12.6 L167.4 13.8 M167.2 12 L165.5 9.9 M167.9 11.4 L169.9 13.8 M168.7 10.8 L170.5 13.5 M169.4 10.3 L170.4 11.8 M170.2 9.8 L169.5 8.8 M170.9 9.3 L169.3 7 M171.6 8.8 L173.8 10.9 M172.3 8.1 L171.2 7.1 M173 7.5 L174.1 8.6 M173.6 6.8 L172 5.2 M174.3 6.1 L173.2 3 M175.1 5.8 L175.5 6.8 M176 5.5 L175.2 3.3 M176.8 5.2 L175.7 2.1 M177.7 4.9 L178.4 6.9 M178.5 4.5 L179.2 2.6 M179.4 4.9 L179.8 3.7 M180.3 5.2 L181.3 2.1 M181.2 5.5 L180.8 6.5 M182.1 5.8 L182.4 4.3 M182.9 6 L182.3 8.7 M183.7 6.1 L184.1 4.2" fill="none" stroke="#4a4a4a" stroke-width="0.55"/><path d="M117.7 65.5 L117.2 65.1 L116.2 63.6 L115.5 63.6 L114.7 64.2 L113.7 63.7 L112.9 63.8 L112.2 64.6 L112.8 66.2 L110.7 66.4 L110.2 68 L110.2 69 L110.5 69.5 L110.2 70.4 L110.2 71.2 L108.8 72.3 L108 73.1 L109.6 73.9 L108.4 74.8 L108.6 75.8 L109.5 76.4 L107.6 77.3 L107.5 78 L108.6 78.8 L107.8 79.2 L109.5 80.2" fill="none" stroke="#4a4a4a" stroke-width="0.5" stroke-linejoin="round"/><path d="M117.8 65 L117.1 63.9 L116.3 64.4 L115.6 65.1 L114.7 64.5 L114 64.8 L113.5 64.5 L112.6 64.7 L112.3 65.3 L110.8 66.9 L110.6 67.3 L111 68.2 L109.5 69.1 L109.9 70.5 L109.2 71.1 L109.9 72.3 L109.9 73.2 L108.5 73.9 L108.3 74.8 L110 76 L109.2 76.8 L109 77.5 L108.8 77.5 L108.5 78.9 L108.1 79.5 L109.9 80.6" fill="none" stroke="#4a4a4a" stroke-width="0.5" stroke-linejoin="round"/><path d="M117.7 65.8 L117.1 64.4 L116.3 65 L115.6 63.6 L114.5 63.3 L113.9 63.4 L113.1 63.7 L111.7 64.4 L112.4 66.2 L111.1 66.7 L110.2 67.6 L110.9 68.5 L108.7 69.2 L110.2 70.4 L109.5 71.1 L109 72.3 L109.7 73.1 L109 73.9 L109.9 74.8 L108.8 75.5 L109.2 76.4 L107.6 77.3 L108.2 77.5 L108.6 78.3 L108.1 79.8 L109.8 80.2" fill="none" stroke="#4a4a4a" stroke-width="0.5" stroke-linejoin="round"/><path d="M118 65.6 L117.2 65.5 L116.2 63.9 L115.5 63.7 L114.6 64.2 L113.7 63.1 L112.6 64.2 L112.5 64.8 L112.2 66 L110.6 67.1 L110 67.5 L110.4 68.4 L110.8 69.3 L109.6 70.5 L110.3 71.6 L108.8 72.3 L108 73.2 L108.6 73.9 L109.1 74.8 L108.3 75.7 L109.3 76.4 L108.7 77.4 L107.5 77.6 L107.5 78.8 L107.9 79.6 L108.2 80.6" fill="none" stroke="#4a4a4a" stroke-width="0.5" stroke-linejoin="round"/><path d="M117.9 64.8 L118 63.9 M117.1 64.6 L116.7 67.1 M116.3 64.5 L116.6 62 M115.5 64.4 L115.2 65.9 M114.6 64.3 L114.8 62.9 M113.8 64.2 L114.2 61.8 M113 64 L111.3 62.9 M112.5 64.9 L113.6 65.6 M111.9 65.8 L110.9 65.1 M111.4 66.7 L110.6 66.2 M110.8 67.5 L112.2 68.4 M110.3 68.4 L112.4 69.7 M109.7 69.3 L108.2 68.9 M109.5 70.3 L107.9 69.9 M109.3 71.3 L106.9 70.8 M109 72.3 L111.3 72.3 M109 73.1 L107.4 73.2 M109.1 74 L110.1 73.9 M109.1 74.8 L111.4 74.7 M109.1 75.6 L110.4 76.2 M108.7 76.3 L109.9 76.9 M108.4 77.1 L106 76 M108 77.8 L106.2 78.5 M108.3 78.6 L109.7 78.1 M108.7 79.5 L110 78.9 M109 80.3 L106.9 81.1" fill="none" stroke="#4a4a4a" stroke-width="0.5"/><path d="M109.6 64 L109.5 64.5 L108.9 65.1 L107.8 65.8 L107.9 65.7 L107 66.6 L106.8 67.3 L105.6 68.2" fill="none" stroke="#4a4a4a" stroke-width="0.5" stroke-linejoin="round"/><path d="M109.4 64.4 L109.3 65 L108.9 64.8 L107.8 65.8 L107.1 65.5 L106.3 66.7 L106.2 67.5 L106.4 68.5" fill="none" stroke="#4a4a4a" stroke-width="0.5" stroke-linejoin="round"/><path d="M109.6 64.3 L109.4 64.2 L108.9 64.8 L108.1 66 L108.1 66 L106.7 66.5 L105.6 67.8 L106.4 68" fill="none" stroke="#4a4a4a" stroke-width="0.5" stroke-linejoin="round"/><path d="M163.2 133.8 L164.1 132.3 L164.7 132.3 L165.4 131.5 L165.4 132.6 L167.3 133.6 L167.1 134.1 L166.6 134.8 L168.2 135.5 L168.3 135.9 L169.1 137.3 L169.3 137.5 L170 138.4 L170.2 139.3 L171.3 139.6 L171.6 139.4 L172.1 140.6 L173.1 140.8 L173.8 140.9 L174.5 142 L175.4 142.2 L176.4 141.7 L176.6 142.6 L177.8 142.4 L178.3 143.6 L179.3 142.7 L179.9 143.5 L180.3 143.7" fill="none" stroke="#4a4a4a" stroke-width="0.5" stroke-linejoin="round"/><path d="M163 132.5 L163.6 133 L164.6 132.1 L165.6 131.2 L166 131.9 L167 133.4 L166.5 134.4 L167 134.5 L168.3 135.1 L168.6 136.6 L168.7 137 L169.2 137.1 L169.7 137.5 L170.2 138.5 L170.3 139.7 L171.6 139.4 L172.5 140 L172.7 140.8 L173.8 141 L174.7 141.7 L175.3 141.8 L175.9 142.3 L177 143.1 L177.8 142.8 L177.9 143.9 L179.1 143.4 L179.6 143.1 L180.6 144.1" fill="none" stroke="#4a4a4a" stroke-width="0.5" stroke-linejoin="round"/><path d="M162.6 133.4 L164.2 131.6 L165.1 132 L165 131.6 L166 131.9 L166.8 132.6 L166.9 134 L167.6 135 L167 135.2 L168.5 135.9 L169 137.2 L168.8 138.2 L169.8 138.1 L169.8 138.2 L171 139.2 L171.4 139.8 L172.7 141.3 L172.7 141.6 L174.1 140.8 L174.7 141.2 L175.3 142.3 L175.6 142.5 L176.6 142.3 L177.7 143.5 L178.3 143.8 L178.8 143 L180 144 L180.4 144.1" fill="none" stroke="#4a4a4a" stroke-width="0.5" stroke-linejoin="round"/><path d="M162.9 132.5 L164.1 132.5 L165 132.6 L165.1 131.2 L166.6 132.2 L165.7 132.7 L167.7 133.5 L167.8 134.7 L168.5 135.6 L168 136.3 L168.1 136.7 L168.6 137.5 L169.6 138.6 L170.6 139.3 L171.7 139.5 L171.6 139.4 L172.3 141.3 L172.9 140.4 L173.7 141.6 L174.4 141.9 L175.1 141.6 L175.8 142 L176.9 142.3 L177.1 143.1 L178.3 143.9 L178.9 143.4 L179.6 143.5 L180.9 143.8" fill="none" stroke="#4a4a4a" stroke-width="0.5" stroke-linejoin="round"/><path d="M162.8 132.9 L162.3 131.9 M164.6 132 L165.5 133.7 M166 132.4 L165.1 132.9 M166.9 133.9 L168.6 132.8 M167.8 135.4 L166.7 136 M168.6 137 L169.4 136.2 M169.8 138.2 L169.1 138.9 M171 139.5 L171.9 138.7 M172.4 140.4 L172.7 139.6 M173.8 141.1 L174.7 139.1 M175.3 141.7 L174.6 143.3 M176.8 142.4 L177.5 140.7 M178.3 143 L178.8 141.8 M179.8 143.6 L179.1 145" fill="none" stroke="#4a4a4a" stroke-width="0.5"/><path d="M187.4 157.2 L188 157 L189.5 158.1 L190 158.3 L191.1 158.9 L191.6 160 L190.8 160.4 L192.5 161.8 L193 161.9 L192.1 163 L193 164 L193.9 164.4 L193.1 165.4 L194.7 165.9 L194.9 166.4 L195.4 166.9 L194.5 167.9 L195.7 168.9 L195.9 170.1 L196.9 170.4 L197.8 170.2 L198.8 170.2 L199.5 170.4 L200.6 171.1 L201.2 170.5 L201 169.7 L201.4 168.6 L200.5 168.3 L199.7 167.1 L200.2 166.1 L199.4 165.6 L200.1 165.3 L200.7 164.3 L201.8 164.2 L203 163.9 L203.5 164.2 L204.6 163.3 L203.8 162.6 L204.1 161.6 L202.5 160.8 L202.1 160.5 L201.2 159.7 L201.8 158.8 L200.5 158.1 L199.4 156.9 L199.5 156.7 L198.5 155.5 L198.6 154.9 L197.7 153.8 L198.2 153 L197.8 152.3 L197.5 151.4 L198.8 150.3 L199.3 150.7 L199.7 149.5 L200.7 149.8 L201.6 149.7 L202.2 149.5 L203.1 148.7 L203.6 149.3 L204.5 148 L205.5 148.1 L206.2 147.6 L207.1 148.4 L208 148.6" fill="none" stroke="#4a4a4a" stroke-width="0.5" stroke-linejoin="round"/><path d="M188.3 156.7 L188.2 158 L188.7 157.9 L190 158.1 L190.8 158.9 L190.8 159.6 L192.2 160.9 L192.5 161.5 L192.9 162.1 L191.7 162.7 L192.1 163.7 L192.8 164.2 L193.6 165 L194.6 166.2 L193.7 166.4 L195.2 167.4 L195.9 167.7 L196.3 168.8 L195.9 169.5 L197 169.6 L197.7 169.1 L198.7 169.7 L199.7 170.9 L200.6 170.4 L201 170.6 L201.1 169.6 L201 168.8 L200.9 168 L200.1 167.4 L200.6 166.3 L199.1 165.1 L200.4 165.1 L200.6 165 L201.8 164.6 L203 164.7 L203.6 163.9 L203.4 163.1 L204.2 162.4 L203.1 162.2 L203.5 161.4 L202.5 159.8 L201.5 159.8 L201 158.6 L201.2 158.3 L200 157.4 L198.9 157 L199 155.7 L197.7 154.8 L197.7 154 L197.6 153 L197.7 152.3 L198 151.3 L198.6 151.4 L198.9 151.1 L200.2 150.9 L200.7 150.1 L201.3 149.2 L202 148.5 L202.8 148.6 L203.6 147.9 L204.4 149.3 L205.5 147.9 L206.2 147.7 L207.1 147.1 L208 147.6" fill="none" stroke="#4a4a4a" stroke-width="0.5" stroke-linejoin="round"/><path d="M188.3 157.3 L188.1 157.5 L188.8 158.1 L190.1 159.3 L190.4 158.8 L191.7 159.9 L191 161 L191 161.6 L191.6 162.3 L191.8 163.3 L192.9 163.4 L193.3 164.3 L194.1 165.4 L193.4 165.5 L194.7 166.5 L195.5 166.9 L195.1 167.8 L195.2 168.9 L196 169.5 L196.9 170 L197.8 170.3 L198.5 169.7 L199.7 170.2 L200.5 169.5 L202.4 170.3 L200.9 170 L201 169.1 L201.3 168 L200.1 167.5 L199.9 166.2 L199.6 166.2 L200.6 165.2 L201 164.4 L201.8 164.7 L203 163.2 L203.6 163.8 L203.6 163.2 L203.1 162.7 L203 161.4 L203 161 L202.6 160 L201.3 160 L200.5 159.3 L200.7 158.4 L200.3 157.9 L199.5 156.6 L198.3 155.5 L198.9 154.8 L199.1 153.8 L197.2 153.1 L198 152.2 L198 151 L198.6 151.8 L198.9 151 L200.1 150.1 L201 149.2 L201.3 150.1 L202.5 149.8 L202.9 149 L203.6 149.2 L204.6 148.7 L205.3 148.5 L206.4 148.8 L207.1 148.4 L208.1 147.5" fill="none" stroke="#4a4a4a" stroke-width="0.5" stroke-linejoin="round"/><path d="M187.8 156.8 L189 155.6 M189.1 158.1 L188.1 159.1 M190.4 159.4 L189.5 160.3 M191.4 160.7 L192.9 160 M192.2 162.2 L190.8 162.8 M192.9 163.6 L191.4 164.4 M193.7 165.1 L192.9 165.5 M194.4 166.5 L195.3 166.1 M195.2 168 L194.5 168.4 M196 169.5 L195.9 170.6 M197.7 169.7 L197.6 171.2 M199.6 170 L199.5 170.8 M201.7 170.5 L202.7 170 M201 168.8 L199.4 169.5 M200.3 167.1 L199 167.7 M199.6 165.5 L199 164.7 M201.1 164.4 L201.5 165 M203 163.9 L203 165.4 M203.9 163.2 L202.5 163.6 M203.4 161.6 L202.4 162.4 M202.3 160.2 L203.2 159.4 M201.2 158.8 L199.7 159.9 M200 157.3 L201.6 156.1 M198.6 155.6 L200.1 155.3 M198.3 153.9 L197 154.2 M197.9 152.2 L199.7 151.9 M198.5 151 L199.1 152.2 M200 150.3 L200.6 151.6 M201.5 149.6 L200.7 147.6 M203 149 L203.6 150.6 M204.5 148.4 L204.8 149.9 M206.3 148.2 L206.5 149.6 M208 147.9 L207.9 146.8" fill="none" stroke="#4a4a4a" stroke-width="0.5"/><path d="M210.5 151.5 L210.5 151.7 L211.9 152.7 L212.6 153.2 L212 154 L213 155.1 L213.5 155.6 L214.2 156.8 L214.7 157.4 L214.2 158 L215.5 158.6 L214.4 159.4 L216 160.7 L216.5 161 L215.7 162.4 L216.2 163.1 L217.3 163.4 L217.9 163.2 L218.8 164.1 L220 164.7 L220.5 164.1 L221.2 164.5 L222.2 165.5 L223 165.4 L223.7 166 L224.7 166 L225.5 166.5 L226.6 166.3" fill="none" stroke="#4a4a4a" stroke-width="0.5" stroke-linejoin="round"/><path d="M209.8 151.9 L211.3 151.6 L210.9 152.6 L212.3 153.7 L212.3 154.6 L213.2 155 L212.8 155.8 L214.6 156.7 L214.2 157.1 L214.9 158 L214.4 159.1 L214.5 160 L214.8 160.6 L216.4 161.2 L216.2 162.4 L216.3 163.2 L217.1 162.5 L218.2 163.5 L218.9 163.3 L219.8 164.7 L220.3 165 L221.3 164.4 L222.2 165.9 L223.1 165 L223.8 165.5 L224.8 165.7 L225.4 166.4 L226.4 165.4" fill="none" stroke="#4a4a4a" stroke-width="0.5" stroke-linejoin="round"/><path d="M209.9 151.4 L211.3 151.6 L212 152.5 L212 153.4 L212.1 154.4 L212.7 155.1 L213.5 156.1 L213.2 156.3 L213.8 157.2 L214.3 158.2 L215.4 159.1 L215.5 159.9 L214.9 160.5 L216.6 161.4 L215.6 161.9 L216.3 163.2 L217.4 162.7 L218.2 163.2 L218.8 164 L219.5 165 L220.3 165 L221.3 165.2 L222.2 165.1 L223.2 164.9 L223.8 165 L224.5 165.6 L225.5 165.7 L226.3 167" fill="none" stroke="#4a4a4a" stroke-width="0.5" stroke-linejoin="round"/><path d="M210.4 151.4 L209.2 152.2 M211.4 152.9 L213.1 151.7 M212.5 154.4 L211.2 155.3 M213.5 155.9 L212.8 156.2 M214.2 157.4 L212.8 158 M214.9 159 L216.3 158.3 M215.5 160.5 L214.1 161.1 M216.2 162.1 L215.5 162.3 M217.3 163.2 L218.1 161.4 M218.9 163.9 L218.5 164.8 M220.5 164.6 L220 165.7 M222.2 165.1 L222.3 164.3 M223.9 165.5 L223.4 167.4 M225.5 166 L225.1 167.6" fill="none" stroke="#4a4a4a" stroke-width="0.5"/><g fill="#f2f2f2" stroke="#4a4a4a" stroke-width="0.45"><ellipse cx="206.3" cy="165" rx="0.8" ry="0.8"/><ellipse cx="209.6" cy="165.8" rx="1.3" ry="0.5"/><ellipse cx="210.6" cy="169" rx="1.4" ry="0.6"/><ellipse cx="208.4" cy="168" rx="0.9" ry="1"/><ellipse cx="207.9" cy="162.7" rx="0.9" ry="0.7"/><ellipse cx="206.4" cy="167.9" rx="1.5" ry="0.6"/><ellipse cx="212.9" cy="162.7" rx="0.9" ry="0.7"/><ellipse cx="215.5" cy="163.6" rx="1.1" ry="0.8"/><ellipse cx="217" cy="165.2" rx="0.9" ry="0.8"/><ellipse cx="211.1" cy="159.1" rx="0.9" ry="0.8"/><ellipse cx="209.4" cy="152.1" rx="1.2" ry="1"/><ellipse cx="206.9" cy="153.1" rx="0.8" ry="0.7"/><ellipse cx="204.8" cy="158.4" rx="1.2" ry="1"/><ellipse cx="202.6" cy="166.2" rx="0.8" ry="0.9"/><ellipse cx="205.7" cy="172.9" rx="1.1" ry="0.8"/><ellipse cx="216.1" cy="166.9" rx="0.7" ry="0.7"/><ellipse cx="211.7" cy="166.4" rx="0.9" ry="0.8"/><ellipse cx="201.5" cy="171.7" rx="0.9" ry="1"/><ellipse cx="191" cy="163.7" rx="1.3" ry="1"/><ellipse cx="191.1" cy="161.7" rx="0.9" ry="0.8"/><ellipse cx="187.5" cy="157.3" rx="1.2" ry="0.6"/><ellipse cx="217.9" cy="171.9" rx="0.8" ry="0.8"/><ellipse cx="204.7" cy="162.4" rx="1.1" ry="0.6"/><ellipse cx="208.4" cy="163.6" rx="1" ry="0.5"/><ellipse cx="207.5" cy="167.2" rx="0.8" ry="0.9"/></g><path d="M176.4 52 L176.4 52.9 L176.9 53.7 L176.8 54.6 L177.2 56.5 L177.5 56.9 L178.9 56.9 L179.2 57.6 L179.3 57 L180.7 58.2 L181.2 58.1 L182 59.9 L182.5 57.9 L183.5 58.5" fill="none" stroke="#4a4a4a" stroke-width="0.5" stroke-linejoin="round"/><path d="M175.8 52 L177 52.9 L177.7 54 L176.2 54.7 L177 55.2 L178.6 56.5 L177.9 56.9 L178.9 57 L179.4 57.1 L180.9 58.8 L180.8 59.4 L182.2 58.5 L182.6 58.8 L183.6 58.4" fill="none" stroke="#4a4a4a" stroke-width="0.5" stroke-linejoin="round"/><path d="M176.3 51.8 L177.4 52.7 L178.1 53.9 L177.4 54.6 L178.1 55.8 L177.3 56.9 L178.3 57.3 L179.4 56.6 L180 58.7 L180.8 59 L181.1 59.2 L181.7 58.8 L182.4 58.7 L183.1 59.1" fill="none" stroke="#4a4a4a" stroke-width="0.5" stroke-linejoin="round"/><path d="M177.3 51.8 L177.9 53 L177.7 53.7 L176.7 54.7 L177.8 56.3 L178.8 56.8 L178.3 57.2 L179.5 57.4 L179.8 57 L180.1 58.4 L181.7 58.7 L182.4 59.9 L182.8 58.1 L183.6 58.1" fill="none" stroke="#4a4a4a" stroke-width="0.5" stroke-linejoin="round"/><path d="M169.6 66.3 L170.6 65.3 L172.1 64.9 L170.9 64 L170.6 62.8 L172 61.9 L172.2 60.8 L171.2 59.9 L170.9 59.1" fill="none" stroke="#4a4a4a" stroke-width="0.5" stroke-linejoin="round"/><path d="M169.5 65.8 L170.8 64.7 L171.6 64.9 L171.6 63.8 L172.1 63 L172.3 61.9 L172.6 61 L171.9 59.8 L172 59.7" fill="none" stroke="#4a4a4a" stroke-width="0.5" stroke-linejoin="round"/><path d="M169.9 65.5 L170.6 65.4 L170.5 64.8 L171.9 64 L172.2 62.9 L171.1 62 L172.7 61 L172.4 60.3 L171.5 58.8" fill="none" stroke="#4a4a4a" stroke-width="0.5" stroke-linejoin="round"/><path d="M169.9 66.4 L170.4 64.7 L170.5 65 L171 63.8 L171.6 63 L170.7 61.7 L171.1 60.9 L171.8 60.5 L171.2 58.9" fill="none" stroke="#4a4a4a" stroke-width="0.5" stroke-linejoin="round"/><path d="M173.8 33.7 L174.1 33.3 L175.2 32.4 L175.7 31.9 L176.4 31.6 L177.5 30.6 L178.4 30.3 L179.5 30.9 L180.4 31.8" fill="none" stroke="#4a4a4a" stroke-width="0.5" stroke-linejoin="round"/><path d="M174.3 33.7 L174.5 32.6 L174.9 32.5 L175.5 31.4 L176.6 31.1 L177.5 30.7 L178.4 30.7 L179.4 31.3 L180.3 31.5" fill="none" stroke="#4a4a4a" stroke-width="0.5" stroke-linejoin="round"/><path d="M174 33.4 L174.6 32.7 L175.7 32.6 L175.4 32 L176.3 31 L177.4 30.2 L178.7 31.2 L179.6 31.5 L180.4 31.3" fill="none" stroke="#4a4a4a" stroke-width="0.5" stroke-linejoin="round"/><path d="M152.7 61.8 L152.8 62.8 L152.8 63.8 L152.4 65.3 L153.3 65.4 L152.9 66.7 L154.2 67.5 L154.4 68.4 L154.4 69.7 L153.8 70.5 L154.4 70.6 L155.6 71.5" fill="none" stroke="#4a4a4a" stroke-width="0.5" stroke-linejoin="round"/><path d="M152.8 61.7 L152 62.8 L152.1 63.8 L152.5 64.8 L152.6 65.8 L153.6 66.6 L154 67.6 L154.2 68.6 L153.9 69.3 L154.2 70.5 L153.9 70.5 L154.5 71.7" fill="none" stroke="#4a4a4a" stroke-width="0.5" stroke-linejoin="round"/><path d="M151.8 61.7 L152.3 62.7 L152 63.8 L152.6 65.2 L153.1 65.3 L152.7 66.6 L154.1 67.6 L153.1 68.3 L153.6 69.3 L154.7 69.8 L154.2 70.7 L155 71.3" fill="none" stroke="#4a4a4a" stroke-width="0.5" stroke-linejoin="round"/><path d="M85 18.1 L85.8 16.7 L86.8 16.4 L87.4 15.2 L88.2 15.1 L89.1 15.6 L89.6 15.6 L90.5 16.6 L90.2 17.4 L90.3 18.4 L89.8 19.3 L90.2 20.2 L89.2 21.7 L90.1 20.2 L91 19.8 L92 19.6 L92.5 19 L92.8 19.6 L93.9 20 L93.8 20.7 L94.9 20.6 L95.7 20.8 L96.9 20.3 L97.5 21.4 L98.2 22.1 L99.7 20.6 L100.2 20.8 L101.5 20.5 L101.9 21 L102.5 21.9 L103 22.8 L102.3 24 L103.1 24.6 L102.6 25.3 L102.8 26.3 L102.5 27.1 L103.3 27.8" fill="none" stroke="#4a4a4a" stroke-width="0.45" stroke-linejoin="round"/><path d="M85.1 17.4 L85.9 17.4 L86.6 16 L87.4 15 L88.2 16.1 L89.1 15.1 L90.6 15.7 L89.7 16.6 L89.9 17.4 L89.2 18.4 L90.1 19.2 L89 20.2 L89.2 21.1 L90.2 20.3 L90.9 20.1 L92.2 19.6 L92.6 19.1 L92.5 19.6 L93 20.2 L93.8 21.4 L94.8 20.9 L95.8 21.4 L96.6 20.2 L97.5 21.5 L98.4 22.1 L99.3 21.1 L100.4 20.2 L101.1 20.2 L101.2 21 L102.2 22 L103.3 22.8 L102.4 24 L102.9 24.6 L103.1 25.2 L102 26.3 L102.6 27.2 L103.2 27.9" fill="none" stroke="#4a4a4a" stroke-width="0.45" stroke-linejoin="round"/><path d="M84.9 17.6 L84.3 16.9 M87.4 15.6 L87.4 14.1 M90 15.6 L90.9 15.7 M89.7 18.4 L88.6 18.3 M89.5 21.1 L90.1 22.1 M91.8 19.4 L92.6 20.4 M93.4 20.3 L94.8 19.6 M95.8 20.7 L95.7 20.1 M98.5 21.5 L97.8 20.1 M101.2 20.2 L102.2 19.6 M102.7 22.9 L104.3 22.3 M102.5 25.4 L101.7 25.1 M102.9 27.9 L101.4 28.4" fill="none" stroke="#4a4a4a" stroke-width="0.45"/><path d="M100.5 78.3 L100.2 78.8 L100.4 79.6 L99 80.5 L98.6 81.3 L98.6 82.7 L97.7 82.6 L97 82.4 L96.2 82 L95.1 81.4 L94.8 82.5 L94.3 82.8 L94.1 83.9 L93.6 84.4 L94.5 85.6 L94.3 86.5 L93.9 86.8 L95.2 87.4 L94.2 88.9 L93.3 89.2 L92.7 88.9 L91.9 89.4 L92 90.1 L90.9 91.1 L90.9 92 L92.1 92.7 L91 93.4" fill="none" stroke="#4a4a4a" stroke-width="0.45" stroke-linejoin="round"/><path d="M100.1 77.9 L99.5 78.8 L99.2 80 L99.4 80.4 L99.3 81.3 L98.6 82.5 L98 82.6 L97 81.3 L96.1 81 L95.5 81 L94.5 81.9 L93.8 82.8 L94.2 83.9 L93.6 84.7 L93.9 85.2 L94.5 86 L93.9 86.7 L95.1 87.6 L93.7 88.9 L93.4 88.6 L93 89.4 L92.5 89.3 L91.5 90 L91.1 90.9 L91 91.8 L91.7 92.6 L92.1 93.6" fill="none" stroke="#4a4a4a" stroke-width="0.45" stroke-linejoin="round"/><path d="M100.6 78.3 L99.3 77.6 M99.9 79.8 L101.3 80.5 M99.1 81.3 L100 81.7 M97.8 81.9 L97.6 83.2 M96 81.5 L95.7 83 M94.8 82.1 L93.7 81.7 M94 83.8 L92.8 83.3 M93.9 85.4 L93.3 85.7 M94.5 87 L95.3 86.7 M94.2 88.3 L95.3 89.7 M92.8 89.4 L91.9 88.1 M91.5 90.4 L90.5 89.2 M91.1 91.8 L92 91.5 M91.6 93.4 L90.6 93.7" fill="none" stroke="#4a4a4a" stroke-width="0.45"/><path d="M120.2 71.7 L120.7 72 L120.1 73 L119 73.8 L117.9 74.6 L116.6 74.3 L115.8 73.9 L114.1 74 L113.1 73.3 L113.6 72.1 L113.1 71.7 L113.2 70.7 L113.5 70.3 L114.1 70.1 L115.8 68.9 L116.8 68.6 L118.1 69.2 L119.4 69.3 L120.3 70.1 L120.7 70.6Z" fill="#f9a33c" fill-opacity="0.92"/><g fill="#2f8f27" fill-opacity="0.85"><ellipse cx="115.7" cy="71.4" rx="0.7" ry="1.1"/><ellipse cx="120" cy="72.8" rx="1.1" ry="1.1"/><ellipse cx="116.6" cy="72.8" rx="0.8" ry="0.7"/></g><path d="M119.4 80.3 L119.5 81.6 L118.5 81.9 L117.9 82 L117.6 82.3 L116.7 82.9 L116.3 82.9 L115.4 81.9 L115.6 81.9 L115.2 80.8 L115.1 80.3 L115.7 79.9 L115.6 79 L116 78.7 L116.3 78 L117.2 78.4 L117.7 78.2 L118.7 78.2 L118.6 79 L119.2 79.2Z" fill="#f9a33c" fill-opacity="0.92"/><g fill="#2f8f27" fill-opacity="0.85"><ellipse cx="117.1" cy="81.9" rx="0.6" ry="0.9"/><ellipse cx="115.7" cy="79.2" rx="0.8" ry="1"/></g><path d="M118.6 85.5 L117.9 86.5 L118.3 86.8 L117.8 87 L116.8 88.1 L115.9 87.4 L115 87.8 L114.5 87.7 L113.3 87 L113.7 86.5 L113.3 85.5 L113.2 85 L113.6 83.7 L114.1 83.1 L115.2 83.4 L115.9 83 L117 82.6 L117.7 83.3 L118.9 83.8 L118.9 84.4Z" fill="#f9a33c" fill-opacity="0.92"/><g fill="#2f8f27" fill-opacity="0.85"><ellipse cx="116.7" cy="84.5" rx="0.8" ry="1.1"/><ellipse cx="117.4" cy="84.2" rx="0.6" ry="0.6"/><ellipse cx="117.7" cy="84.9" rx="0.5" ry="0.7"/><ellipse cx="116.3" cy="86.3" rx="1.1" ry="1.3"/></g><path d="M114.1 91.2 L114.2 91.3 L113.5 92.3 L113.3 92.5 L112.2 93 L111 93.3 L110.7 93.3 L110 92.8 L109.3 92.4 L109.5 91.4 L108.9 91.2 L109.3 90.5 L109.5 90 L110.1 89.7 L110.8 89.3 L111.1 89.3 L112.2 89.2 L113.3 89.2 L113.6 90.1 L113.2 90.1Z" fill="#f9a33c" fill-opacity="0.92"/><g fill="#2f8f27" fill-opacity="0.85"><ellipse cx="111.8" cy="89.7" rx="1" ry="0.9"/><ellipse cx="111.1" cy="90.1" rx="0.9" ry="0.8"/></g><path d="M121.6 96.2 L121.9 97.6 L121.3 97.9 L120.1 98.4 L119.1 98.3 L118 98.1 L117.2 98.6 L116.6 97.5 L115.8 97.5 L115.6 97.2 L115 96.2 L115.6 95.4 L115.1 94.7 L115.7 94.9 L117.3 94.2 L118.7 94.4 L119.3 93.5 L120.5 94.3 L121.5 94.8 L121.4 95.1Z" fill="#f9a33c" fill-opacity="0.92"/><g fill="#2f8f27" fill-opacity="0.85"><ellipse cx="117" cy="97.2" rx="1" ry="1.2"/><ellipse cx="117.3" cy="97" rx="0.8" ry="0.7"/><ellipse cx="118.5" cy="95.8" rx="0.6" ry="0.8"/></g><path d="M110 101 L111.4 99.6 L113 99 L114.4 98.7 L117 98.6 L119.1 98.6 L121 98.5 L123.3 99.7 L124.7 100 L124.9 102 L124 103.2 L121.5 103.4 L119 103.5 L116.4 103.3 L114 103.4 L111.6 103.6 L110.3 103 L109.8 101.4Z" fill="#f9a33c" fill-opacity="0.92"/><g fill="#2f8f27" fill-opacity="0.85"><ellipse cx="116.9" cy="102.1" rx="1.1" ry="0.9"/><ellipse cx="116.4" cy="100.3" rx="0.7" ry="0.5"/><ellipse cx="119.7" cy="99.3" rx="0.7" ry="0.8"/><ellipse cx="110" cy="101.5" rx="0.6" ry="0.6"/><ellipse cx="117.8" cy="102.9" rx="1.3" ry="1"/><ellipse cx="116.1" cy="102.5" rx="1" ry="0.8"/><ellipse cx="118.8" cy="99.6" rx="1.3" ry="1.4"/><ellipse cx="115.5" cy="100.2" rx="1.3" ry="0.9"/></g><path d="M128.3 111.1 L128.6 111.3 L128.2 112.4 L128 112.5 L126.7 113.1 L125.5 113.1 L124.8 112.8 L123.8 112.3 L123.2 112.2 L122.6 111.5 L123.1 111.1 L122.6 110.2 L123.2 109.9 L124.6 109.1 L124.9 108.8 L125.5 109.3 L126.7 109.4 L127.8 109.5 L128 110.1 L128 110.8Z" fill="#f9a33c" fill-opacity="0.92"/><g fill="#2f8f27" fill-opacity="0.85"><ellipse cx="127.3" cy="111.5" rx="0.7" ry="1"/><ellipse cx="127.1" cy="111.9" rx="1.1" ry="1.1"/><ellipse cx="128" cy="112.2" rx="0.7" ry="0.8"/></g><path d="M131.7 113 L132.8 112.3 L134 111.1 L136.3 111.9 L137.5 111.8 L138.3 113 L139.4 114.5 L141.5 115.1 L142.5 116 L143 117.5 L142.8 120 L141.1 121.1 L139.5 122.2 L138.1 122.6 L136 122 L134.1 121.6 L133 121 L132.6 118.6 L131.9 117 L132.2 115.1Z" fill="#f9a33c" fill-opacity="0.92"/><g fill="#2f8f27" fill-opacity="0.85"><ellipse cx="137.6" cy="114.8" rx="1.1" ry="1"/><ellipse cx="139" cy="118.1" rx="0.8" ry="0.7"/><ellipse cx="137.5" cy="114.8" rx="1" ry="1.2"/><ellipse cx="137.4" cy="115.4" rx="0.8" ry="0.9"/><ellipse cx="141.8" cy="116.4" rx="1.4" ry="0.9"/><ellipse cx="137.1" cy="114.1" rx="0.6" ry="0.6"/><ellipse cx="135.3" cy="121" rx="0.5" ry="0.5"/><ellipse cx="138.4" cy="122.3" rx="1.1" ry="1.2"/><ellipse cx="140.4" cy="117.6" rx="1" ry="1"/></g><path d="M145.9 109.7 L145.1 110.4 L145 111 L144.5 111.8 L143.6 111.9 L142.4 111.9 L141.7 112.1 L140.4 111.3 L140.2 111 L140.2 110.9 L139 109.7 L139.8 109.4 L140.5 108.5 L141.5 107.7 L141.5 107.3 L143.3 107.1 L143.8 107 L144 107.6 L145.1 108.1 L145.6 109.1Z" fill="#f7b468" fill-opacity="0.8"/><g fill="#7fbf70" fill-opacity="0.85"><ellipse cx="143.6" cy="107.2" rx="1.2" ry="1.2"/><ellipse cx="143.4" cy="111.7" rx="0.9" ry="0.9"/><ellipse cx="142.5" cy="111.1" rx="1.1" ry="1"/><ellipse cx="142" cy="111.5" rx="0.6" ry="0.7"/><ellipse cx="141.2" cy="110.2" rx="0.9" ry="0.9"/></g><path d="M110.2 118 L111.3 117.4 L113 115.8 L115.2 115.7 L118 116.5 L119.8 117.5 L122 117.5 L123.9 117.6 L126.7 118.2 L127 120.2 L126.2 122.5 L124.5 122.7 L122 124 L120.5 125 L118 126.7 L115.4 126.4 L113.5 125.5 L112.6 124.3 L110.5 122 L110.7 120.5Z" fill="#f9a33c" fill-opacity="0.92"/><g fill="#2f8f27" fill-opacity="0.85"><ellipse cx="116.8" cy="119.1" rx="0.6" ry="0.7"/><ellipse cx="110.5" cy="118.6" rx="0.9" ry="0.8"/><ellipse cx="120.2" cy="123.9" rx="0.5" ry="0.5"/><ellipse cx="122.5" cy="122.2" rx="1" ry="1"/><ellipse cx="122.9" cy="117.9" rx="0.5" ry="0.5"/><ellipse cx="123.4" cy="120.8" rx="0.8" ry="0.9"/><ellipse cx="117.6" cy="116.5" rx="0.5" ry="0.7"/><ellipse cx="114.6" cy="119.1" rx="0.9" ry="1.1"/><ellipse cx="116" cy="123.5" rx="0.5" ry="0.6"/><ellipse cx="113" cy="120.6" rx="1.2" ry="1.2"/><ellipse cx="113.4" cy="118.1" rx="1.1" ry="1"/><ellipse cx="112.9" cy="116.5" rx="0.7" ry="0.6"/></g><path d="M133.7 121.7 L133.2 122.8 L133.1 124.2 L133 124.9 L132.3 125.6 L131.5 125 L131 125.2 L130.2 125 L130 124 L130.1 122.7 L129.1 121.7 L129.7 121.1 L129.5 119.7 L129.8 118.8 L130.9 118.6 L131.8 118.3 L132.3 118.6 L133.4 118.8 L133.4 119.4 L133.9 120.8Z" fill="#f9a33c" fill-opacity="0.92"/><g fill="#2f8f27" fill-opacity="0.85"><ellipse cx="130.7" cy="119.1" rx="1" ry="1.3"/><ellipse cx="129.3" cy="121.6" rx="0.5" ry="0.5"/><ellipse cx="132.1" cy="120.3" rx="0.8" ry="0.8"/></g><path d="M139.6 125 L139 125.6 L139 126.5 L138 127.3 L137.9 127.6 L137.5 127.2 L136.5 128 L135.7 127.6 L135.4 126.6 L135 125.8 L135.2 125 L135.6 124.2 L135.3 123.2 L135.5 123.3 L136.6 122.5 L137.6 122.6 L138 122.6 L138.3 123.1 L139.1 123.4 L139.2 123.7Z" fill="#f9a33c" fill-opacity="0.92"/><g fill="#2f8f27" fill-opacity="0.85"><ellipse cx="135.8" cy="123.8" rx="1.1" ry="0.7"/><ellipse cx="137.9" cy="125.7" rx="0.6" ry="0.8"/></g><path d="M121.7 128 L122.8 126.3 L125 125.6 L126.8 125.7 L129.5 126 L130.9 127.2 L131.7 129 L131.7 130.7 L131.2 133 L129.3 134.3 L128 135.6 L125.2 135.3 L123.5 135.2 L122.8 133.7 L121.8 131.5 L121.2 130.1Z" fill="#f9a33c" fill-opacity="0.92"/><g fill="#2f8f27" fill-opacity="0.85"><ellipse cx="127.2" cy="131.4" rx="0.7" ry="0.9"/><ellipse cx="124.1" cy="131.1" rx="0.8" ry="0.9"/><ellipse cx="126.9" cy="134.7" rx="0.6" ry="0.5"/><ellipse cx="127.5" cy="135.5" rx="0.7" ry="0.7"/><ellipse cx="123.7" cy="132.2" rx="0.7" ry="0.5"/><ellipse cx="127.3" cy="130.7" rx="0.8" ry="1"/><ellipse cx="127.8" cy="131.1" rx="0.7" ry="0.8"/><ellipse cx="124.8" cy="132" rx="1" ry="1"/><ellipse cx="122.1" cy="130.4" rx="0.6" ry="0.6"/></g><path d="M118 134.4 L117.1 135.7 L117.5 136.2 L116.9 136.7 L115.6 137.6 L114.7 137.6 L113.8 137.5 L113.3 136.4 L111.7 136.4 L111.4 135.3 L111.6 134.4 L111.9 133.9 L111.4 132.8 L112.4 131.5 L113.5 131.4 L114.9 131.3 L115.8 131.5 L116 132.1 L117.2 132.5 L117.5 133.2Z" fill="#f9a33c" fill-opacity="0.92"/><g fill="#2f8f27" fill-opacity="0.85"><ellipse cx="113.2" cy="134.6" rx="0.7" ry="0.9"/><ellipse cx="113" cy="133.8" rx="1.2" ry="1.4"/><ellipse cx="117.6" cy="134.3" rx="1.2" ry="1"/></g><path d="M122.8 137 L124.5 136 L127 134.5 L129.7 134.6 L132 133.5 L134.3 133 L137 131.5 L139.2 131.8 L142 131.1 L144.6 132 L146.1 134 L145.6 136.3 L145.5 137.5 L143.3 138.7 L140 139.5 L136.6 139.4 L134 140.5 L130.7 141.3 L128 141.1 L126.1 140.7 L123.5 140.5 L123.5 139.2Z" fill="#f9a33c" fill-opacity="0.92"/><g fill="#2f8f27" fill-opacity="0.85"><ellipse cx="129.8" cy="140" rx="1" ry="0.6"/><ellipse cx="135.5" cy="132.8" rx="0.8" ry="1"/><ellipse cx="140.2" cy="132.4" rx="0.9" ry="0.9"/><ellipse cx="136.4" cy="139.4" rx="1" ry="0.9"/><ellipse cx="140.3" cy="138.7" rx="1.4" ry="1.1"/><ellipse cx="138.7" cy="136.7" rx="1.1" ry="0.8"/><ellipse cx="142.9" cy="135.3" rx="1.4" ry="1.3"/><ellipse cx="137.9" cy="131.8" rx="1.1" ry="1"/><ellipse cx="131.1" cy="138.6" rx="0.8" ry="1"/><ellipse cx="130.7" cy="138.1" rx="1" ry="1.1"/><ellipse cx="132.4" cy="136.3" rx="1" ry="1"/><ellipse cx="128.1" cy="138.2" rx="0.7" ry="0.5"/><ellipse cx="130.8" cy="137" rx="0.5" ry="0.5"/><ellipse cx="124.7" cy="138.6" rx="0.8" ry="0.8"/></g><path d="M110.6 141 L112.6 140.3 L114 140 L116.4 139.9 L118 140.5 L120.1 140.8 L121.7 141.5 L121.3 143.2 L120 144.5 L117.7 144.3 L115 145 L113.3 144.3 L111 144 L111.1 142.9Z" fill="#f9a33c" fill-opacity="0.92"/><g fill="#2f8f27" fill-opacity="0.85"><ellipse cx="120.6" cy="142.1" rx="1" ry="1.3"/><ellipse cx="111.2" cy="142.9" rx="0.8" ry="0.7"/><ellipse cx="116.5" cy="144.1" rx="0.9" ry="0.8"/><ellipse cx="113.2" cy="142.3" rx="0.9" ry="1.1"/><ellipse cx="121.6" cy="141.5" rx="0.9" ry="1.2"/><ellipse cx="115.1" cy="143" rx="0.5" ry="0.8"/></g><path d="M84.8 137.5 L88 136 L92 137 L96 135.8 L100 137 L104 136.5" fill="none" stroke="#f9a33c" stroke-width="1.47" stroke-linejoin="round" stroke-linecap="round" stroke-opacity="0.85"/><path d="M84.8 137.5 L88 136 L92 137 L96 135.8 L100 137 L104 136.5" fill="none" stroke="#3f9a30" stroke-width="0.9799999999999999" stroke-dasharray="1.6 1.3" stroke-opacity="0.85"/><path d="M89 138.5 L90.5 142 L89.2 146 L91 150" fill="none" stroke="#f9a33c" stroke-width="1.47" stroke-linejoin="round" stroke-linecap="round" stroke-opacity="0.85"/><path d="M89 138.5 L90.5 142 L89.2 146 L91 150" fill="none" stroke="#3f9a30" stroke-width="0.9799999999999999" stroke-dasharray="1.6 1.3" stroke-opacity="0.85"/><path d="M95.9 149 L99 147.6 L102 149.5 L105.6 148.5 L104 151.5 L99 152 L96 150.5" fill="none" stroke="#f9a33c" stroke-width="1.47" stroke-linejoin="round" stroke-linecap="round" stroke-opacity="0.85"/><path d="M95.9 149 L99 147.6 L102 149.5 L105.6 148.5 L104 151.5 L99 152 L96 150.5" fill="none" stroke="#3f9a30" stroke-width="0.9799999999999999" stroke-dasharray="1.6 1.3" stroke-opacity="0.85"/><path d="M80 152 L84 150.5 L88 152.5 L92 151.5 L95 154 L92 157 L88 156 L85 159 L82 162 L86 164 L90 162 L94 160" fill="none" stroke="#f9a33c" stroke-width="1.47" stroke-linejoin="round" stroke-linecap="round" stroke-opacity="0.85"/><path d="M80 152 L84 150.5 L88 152.5 L92 151.5 L95 154 L92 157 L88 156 L85 159 L82 162 L86 164 L90 162 L94 160" fill="none" stroke="#3f9a30" stroke-width="0.9799999999999999" stroke-dasharray="1.6 1.3" stroke-opacity="0.85"/><path d="M86.3 161 L90 159.5 L95 161 L100 160 L104 161.5 L108.5 163 L105 166.5 L100 165 L95 166 L91 167.5 L88 166" fill="none" stroke="#f9a33c" stroke-width="1.47" stroke-linejoin="round" stroke-linecap="round" stroke-opacity="0.85"/><path d="M86.3 161 L90 159.5 L95 161 L100 160 L104 161.5 L108.5 163 L105 166.5 L100 165 L95 166 L91 167.5 L88 166" fill="none" stroke="#3f9a30" stroke-width="0.9799999999999999" stroke-dasharray="1.6 1.3" stroke-opacity="0.85"/><path d="M88.5 167 L90.5 169 L93 168.5" fill="none" stroke="#f9a33c" stroke-width="1.47" stroke-linejoin="round" stroke-linecap="round" stroke-opacity="0.85"/><path d="M88.5 167 L90.5 169 L93 168.5" fill="none" stroke="#3f9a30" stroke-width="0.9799999999999999" stroke-dasharray="1.6 1.3" stroke-opacity="0.85"/><path d="M112 150 L114 149.4 L116.5 151 L115 153.5 L112.5 154.5" fill="none" stroke="#f9a33c" stroke-width="1.47" stroke-linejoin="round" stroke-linecap="round" stroke-opacity="0.85"/><path d="M112 150 L114 149.4 L116.5 151 L115 153.5 L112.5 154.5" fill="none" stroke="#3f9a30" stroke-width="0.9799999999999999" stroke-dasharray="1.6 1.3" stroke-opacity="0.85"/><path d="M87.3 137 L86.9 137.2 L87 137.8 L86.6 137.7 L86 138.3 L85.3 137.6 L85 137.7 L84.6 137.8 L84.7 137 L85.2 136.1 L85 136.2 L85.3 136.2 L86 135.6 L87 135.9 L87 136.1 L87.5 136.2Z" fill="#f9a33c" fill-opacity="0.75"/><g fill="#2f8f27" fill-opacity="0.85"><ellipse cx="85.8" cy="136.3" rx="0.6" ry="0.6"/></g><path d="M93.2 136.5 L92.9 137 L93.2 137.2 L92.7 137.5 L92 137.5 L91.7 137.5 L91 137.3 L90.1 137.1 L90.3 136.5 L90.8 135.7 L91.1 135.5 L91.4 135.2 L92 135.4 L92.9 135.4 L93 135.8 L92.7 136.5Z" fill="#f9a33c" fill-opacity="0.75"/><g fill="#2f8f27" fill-opacity="0.85"><ellipse cx="92.5" cy="137.2" rx="0.7" ry="0.8"/></g><path d="M99.5 136.8 L99 136.7 L99.2 137.6 L98.3 137.2 L98 137.8 L97.9 138.2 L97.1 137.8 L96.4 136.8 L96.7 136.8 L96.5 136.6 L96.8 135.9 L97.7 135.7 L98 135.5 L98.8 136.2 L99.2 135.8 L99.8 135.9Z" fill="#f9a33c" fill-opacity="0.75"/><g fill="#2f8f27" fill-opacity="0.85"><ellipse cx="99.5" cy="136.6" rx="0.6" ry="0.6"/></g><path d="M104.4 136.6 L104.8 137.3 L104.1 137.5 L103.9 137 L103 137.6 L102 138 L102.1 137.4 L101.4 136.8 L101.4 136.6 L101.2 136.3 L101.9 135.7 L101.9 135.8 L103 135.2 L103.3 135.7 L104.1 135.7 L104.8 136.4Z" fill="#f9a33c" fill-opacity="0.75"/><g fill="#2f8f27" fill-opacity="0.85"><ellipse cx="102.7" cy="137" rx="0.9" ry="0.7"/></g><path d="M91.2 141 L90.7 141.6 L91.1 141.7 L91 141.5 L90 142.2 L89.5 141.8 L89 141.9 L88.6 141.8 L88.7 141 L89.4 140.3 L89 140.2 L89.6 139.8 L90 139.8 L89.9 140.1 L90.9 140.2 L90.6 140.8Z" fill="#f9a33c" fill-opacity="0.75"/><g fill="#2f8f27" fill-opacity="0.85"><ellipse cx="90.2" cy="140.3" rx="0.7" ry="0.9"/></g><path d="M91 146 L90.6 147.1 L90.4 146.9 L90 147 L89.5 147.3 L89.2 146.7 L88.5 146.8 L88.7 146.7 L87.9 146 L88.3 145.3 L88.4 145.2 L89.3 145.5 L89.5 144.7 L90.4 145.5 L90.7 145.2 L90.4 145.9Z" fill="#f9a33c" fill-opacity="0.75"/><g fill="#2f8f27" fill-opacity="0.85"><ellipse cx="90.6" cy="146" rx="0.6" ry="0.5"/></g><path d="M99.2 148.5 L98.9 148.8 L99.2 149.4 L98.6 149.3 L98 149.7 L97.5 149.5 L97 149.2 L96.3 149.4 L96.6 148.5 L96.8 147.7 L96.9 147.7 L98 147.2 L98 147.4 L98.7 147.4 L98.9 147.5 L98.8 147.9Z" fill="#f9a33c" fill-opacity="0.75"/><g fill="#2f8f27" fill-opacity="0.85"><ellipse cx="97.7" cy="148.1" rx="0.6" ry="0.6"/></g><path d="M104.6 150 L103.8 150.8 L103.9 150.9 L103.3 151.6 L103 151.2 L101.9 150.6 L101.9 151 L102 150.2 L101.7 150 L101.8 150.1 L102.1 149.3 L102.4 148.6 L103 149 L103.1 149.1 L104.1 149.1 L104.6 149.9Z" fill="#f9a33c" fill-opacity="0.75"/><g fill="#2f8f27" fill-opacity="0.85"><ellipse cx="103.1" cy="149.3" rx="0.5" ry="0.5"/></g><path d="M83.7 151.5 L83.6 151.9 L82.9 152.4 L82.4 152.7 L82 152.5 L81.6 153.1 L80.8 152.5 L80.6 152.1 L80.7 151.5 L80.3 150.6 L81 150.6 L81.2 150.2 L82 150.2 L82.4 150.2 L83 150.8 L83.9 151.1Z" fill="#f9a33c" fill-opacity="0.75"/><g fill="#2f8f27" fill-opacity="0.85"><ellipse cx="81.7" cy="152.8" rx="0.9" ry="1"/></g><path d="M89.1 152 L88.3 152.2 L88.7 152.7 L87.7 153.3 L87.5 153.1 L87.5 152.7 L86.5 152.8 L86.8 152 L86.1 152 L86.5 151.3 L86.4 151.1 L86.9 151.1 L87.5 150.9 L87.8 150.6 L88.4 151.1 L88.8 151.9Z" fill="#f9a33c" fill-opacity="0.75"/><g fill="#2f8f27" fill-opacity="0.85"><ellipse cx="86.8" cy="152.6" rx="0.6" ry="0.5"/></g><path d="M94.3 153 L93.6 153.1 L94 153.8 L93 154 L93 154.2 L92.9 153.4 L91.8 153.7 L91.2 152.8 L91.8 153 L91.6 152.2 L92 152.2 L93.1 152.4 L93 151.9 L94.1 152.1 L94.2 152.1 L94.6 152.8Z" fill="#f9a33c" fill-opacity="0.75"/><g fill="#2f8f27" fill-opacity="0.85"><ellipse cx="92.2" cy="153.4" rx="0.6" ry="0.8"/></g><path d="M89.3 157 L88.8 157.5 L89.2 157.8 L88 157.9 L88 158.1 L87.7 158.3 L87 157.9 L87.3 157.1 L86.6 157 L87.2 156.5 L87 156 L87.6 155.9 L88 155.8 L89 155.8 L89.1 156.2 L88.6 157Z" fill="#f9a33c" fill-opacity="0.75"/><g fill="#2f8f27" fill-opacity="0.85"><ellipse cx="88.4" cy="157.6" rx="0.5" ry="0.6"/></g><path d="M85.6 161 L84.9 161.4 L85.1 161.9 L84.9 162.4 L84 162.1 L83 161.7 L83 161.9 L83 162 L82.5 161 L82.2 160 L82.9 160.1 L83.7 160.2 L84 160 L84.9 159.8 L85.1 160.2 L85.3 161Z" fill="#f9a33c" fill-opacity="0.75"/><g fill="#2f8f27" fill-opacity="0.85"><ellipse cx="83.5" cy="160.8" rx="0.7" ry="0.5"/></g><path d="M93.4 160.5 L93.4 160.4 L93.2 161.4 L92.5 161.7 L92 161.7 L91.7 161.6 L91 161.4 L90.4 161.1 L90.4 160.5 L90.8 160.2 L90.8 159.7 L91.3 159.2 L92 159.5 L92.6 159.1 L93.1 159.7 L93.8 159.9Z" fill="#f9a33c" fill-opacity="0.75"/><g fill="#2f8f27" fill-opacity="0.85"><ellipse cx="91.3" cy="160.3" rx="0.7" ry="0.7"/></g><path d="M98.6 160.8 L98.3 161.4 L98.2 161.6 L97.3 161.4 L97 161.8 L96.9 161.4 L96 161.8 L95.4 161.7 L95.5 160.8 L95.2 160.1 L96 159.9 L97 159.7 L97 159.6 L97.9 160.2 L98 160.1 L97.8 160.1Z" fill="#f9a33c" fill-opacity="0.75"/><g fill="#2f8f27" fill-opacity="0.85"><ellipse cx="97.4" cy="161" rx="0.6" ry="0.6"/></g><path d="M103.4 161 L103.7 161.6 L102.9 161.7 L102 162.6 L102 162.3 L101.7 161.9 L101.1 161.8 L100.5 160.9 L100.6 161 L100.5 160.3 L101 160.2 L101.3 160.5 L102 159.7 L102.6 159.6 L103 160.2 L103.1 160.5Z" fill="#f9a33c" fill-opacity="0.75"/><g fill="#2f8f27" fill-opacity="0.85"><ellipse cx="100.7" cy="161" rx="0.9" ry="0.7"/></g><path d="M108.6 163.5 L108.5 163.8 L107.9 164.3 L107.7 164.7 L107 164.5 L106.2 164.8 L106.1 164.5 L106.4 164.2 L105.8 163.5 L106.2 163.7 L106 162.8 L106.9 162.5 L107 162.3 L107.6 162.7 L108 162.6 L108.4 162.5Z" fill="#f9a33c" fill-opacity="0.75"/><g fill="#2f8f27" fill-opacity="0.85"><ellipse cx="108.1" cy="162.8" rx="0.8" ry="0.5"/></g><path d="M96.3 166 L95.9 166.4 L95.9 166.9 L94.8 166.4 L95 167.1 L94.5 167.3 L94 166.7 L94.3 166.7 L93.4 166 L93.7 165.7 L94 165.1 L94.7 165.2 L95 164.8 L96.1 164.8 L96 165.2 L96.1 165.9Z" fill="#f9a33c" fill-opacity="0.75"/><g fill="#2f8f27" fill-opacity="0.85"><ellipse cx="96" cy="164.8" rx="1" ry="0.7"/></g><path d="M91.1 167 L90.2 167.9 L90.4 168 L89.9 167.8 L89.5 168.3 L88.6 167.8 L88.5 168 L88.6 167 L88 167 L88.7 166.1 L88.4 166.3 L89.2 165.7 L89.5 165.7 L90.1 165.5 L90.7 166.1 L91.4 166.2Z" fill="#f9a33c" fill-opacity="0.75"/><g fill="#2f8f27" fill-opacity="0.85"><ellipse cx="89.6" cy="167.2" rx="0.6" ry="0.6"/></g><path d="M115.7 151.5 L115.3 152.3 L114.9 152.4 L114.3 152.4 L114 152.7 L113.3 152.3 L113 152.5 L112.7 152.1 L112.6 151.5 L113.2 150.7 L113 150.7 L113.4 150.5 L114 150.2 L114.8 150.6 L114.9 150.6 L115.4 151.2Z" fill="#f9a33c" fill-opacity="0.75"/><g fill="#2f8f27" fill-opacity="0.85"><ellipse cx="114" cy="152.2" rx="0.9" ry="0.7"/></g><path d="M85.9 145 L85.1 145 L85.4 145.8 L84.5 146.2 L84.5 146.1 L83.6 146.1 L83.5 145.8 L83.1 145.4 L83.2 145 L83.7 144.3 L83.5 144 L83.6 143.6 L84.5 143.6 L85.6 144 L85.7 144.2 L85.5 144.2Z" fill="#f9a33c" fill-opacity="0.75"/><g fill="#2f8f27" fill-opacity="0.85"><ellipse cx="84.8" cy="144.8" rx="1" ry="0.8"/></g><path d="M87.9 163 L87.3 163.7 L87.4 163.9 L86.5 163.9 L86.5 164.3 L86 164.4 L85.6 163.9 L85.2 163.5 L84.9 163 L85.3 162.8 L85.3 162.3 L86.5 162 L86.5 161.8 L87.2 161.4 L87.6 162.2 L87.4 162.3Z" fill="#f9a33c" fill-opacity="0.75"/><g fill="#2f8f27" fill-opacity="0.85"><ellipse cx="85.5" cy="163" rx="0.6" ry="0.7"/></g><path d="M165.6 16.9 L168.1 16.1 L171.6 16 L174.6 17.7 L177.7 20.4 L177.7 23.9 L178.5 27.3 L177.1 30.4 L175.9 32.5 L175.5 35.4 L175 37.7 L174 39.3 L173.3 41.1 L171.6 40.4 L169 39.4 L167.3 37.4 L164.7 35.9 L162.5 34.8 L161.2 33.3 L159.5 30.6 L158.6 29 L159.4 27.1 L160.4 24.7 L161.9 22.4 L163.8 19.5 L164.6 17.9Z" fill="#f9a33c" fill-opacity="0.92"/><circle cx="169.2" cy="31.2" r="1.1" fill="#f2f2f2"/><circle cx="161.6" cy="30.8" r="1.4" fill="#f2f2f2"/><circle cx="169.2" cy="21.2" r="1.7" fill="#f2f2f2"/><circle cx="164.9" cy="30.4" r="1.5" fill="#f2f2f2"/><circle cx="171.8" cy="33.9" r="1" fill="#f2f2f2"/><circle cx="167.4" cy="31.8" r="0.9" fill="#f2f2f2"/><circle cx="169.6" cy="23.4" r="1.1" fill="#f2f2f2"/><circle cx="163" cy="26" r="1.3" fill="#f2f2f2"/><circle cx="172.3" cy="19.4" r="1" fill="#f2f2f2"/><circle cx="171.3" cy="16.5" r="1.5" fill="#f2f2f2"/><circle cx="162.3" cy="32.8" r="1" fill="#f2f2f2"/><circle cx="174.7" cy="35.3" r="0.9" fill="#f2f2f2"/><circle cx="172.2" cy="22.4" r="1.3" fill="#f2f2f2"/><circle cx="169.9" cy="21.3" r="1.5" fill="#f2f2f2"/><circle cx="174.2" cy="27.6" r="1" fill="#f2f2f2"/><circle cx="172.4" cy="32" r="1.1" fill="#f2f2f2"/><circle cx="174.6" cy="25.6" r="1" fill="#f2f2f2"/><circle cx="163.5" cy="33.3" r="0.8" fill="#f2f2f2"/><circle cx="175.3" cy="19" r="1.4" fill="#f2f2f2"/><circle cx="168.1" cy="19.8" r="0.8" fill="#f2f2f2"/><circle cx="160.7" cy="25" r="1.4" fill="#f2f2f2"/><circle cx="174.1" cy="27.4" r="1.4" fill="#f2f2f2"/><circle cx="160.6" cy="24.9" r="1.3" fill="#f2f2f2"/><circle cx="168.2" cy="27.2" r="0.8" fill="#f2f2f2"/><circle cx="171.4" cy="33.1" r="0.8" fill="#f2f2f2"/><circle cx="173.5" cy="29.5" r="1.3" fill="#f2f2f2"/><circle cx="174.2" cy="34.3" r="1.2" fill="#f2f2f2"/><circle cx="170.5" cy="33.6" r="0.8" fill="#f2f2f2"/><circle cx="168.9" cy="30.4" r="0.8" fill="#f2f2f2"/><circle cx="162.1" cy="23.2" r="1.5" fill="#f2f2f2"/><circle cx="176.8" cy="24.1" r="1.1" fill="#f2f2f2"/><circle cx="167.5" cy="18.8" r="1.4" fill="#f2f2f2"/><circle cx="169.9" cy="33.6" r="1" fill="#f2f2f2"/><circle cx="173.3" cy="21.8" r="1" fill="#f2f2f2"/><g fill="#6dbb60" fill-opacity="0.85"><ellipse cx="176.5" cy="21" rx="1.4" ry="1.8"/><ellipse cx="166.7" cy="28.5" rx="0.9" ry="1.2"/><ellipse cx="172.8" cy="24.1" rx="1.2" ry="1.2"/><ellipse cx="171.5" cy="21.6" rx="0.8" ry="1"/><ellipse cx="172.2" cy="16.5" rx="0.9" ry="0.8"/><ellipse cx="167.8" cy="35.7" rx="1.2" ry="1.2"/><ellipse cx="164.8" cy="17.9" rx="1.5" ry="1.4"/><ellipse cx="167.8" cy="29.6" rx="1.6" ry="1.2"/><ellipse cx="172.3" cy="30.3" rx="1" ry="0.8"/><ellipse cx="164.6" cy="20.1" rx="1.4" ry="1.4"/><ellipse cx="165.4" cy="27.8" rx="1.5" ry="1.4"/><ellipse cx="162.3" cy="23.5" rx="0.9" ry="0.9"/><ellipse cx="176.2" cy="26.6" rx="1.4" ry="0.9"/><ellipse cx="161.1" cy="32.7" rx="1.5" ry="1.3"/><ellipse cx="165.7" cy="28.9" rx="1" ry="1.1"/><ellipse cx="166.4" cy="18.9" rx="1" ry="1.5"/><ellipse cx="173.3" cy="30.3" rx="1" ry="1.5"/><ellipse cx="170.1" cy="26.7" rx="1.2" ry="1"/><ellipse cx="167.3" cy="34.1" rx="1" ry="1"/><ellipse cx="163.4" cy="26" rx="0.8" ry="1.2"/><ellipse cx="161.3" cy="30.2" rx="1" ry="1.2"/><ellipse cx="167.3" cy="17.1" rx="0.9" ry="1"/><ellipse cx="163.2" cy="25.9" rx="1.2" ry="1.4"/><ellipse cx="169.2" cy="18.3" rx="1.8" ry="1.5"/><ellipse cx="170.9" cy="36.5" rx="1.9" ry="1.6"/><ellipse cx="165.2" cy="17.7" rx="0.9" ry="0.9"/><ellipse cx="169.2" cy="19.4" rx="1.1" ry="1.7"/><ellipse cx="172.1" cy="33.5" rx="1.3" ry="0.9"/><ellipse cx="163.7" cy="24.9" rx="1.3" ry="1"/><ellipse cx="171.2" cy="29.9" rx="1.2" ry="1.2"/><ellipse cx="166.8" cy="34" rx="1.5" ry="1.8"/><ellipse cx="167.9" cy="27.6" rx="1" ry="1.1"/><ellipse cx="176.8" cy="29.1" rx="1" ry="1"/><ellipse cx="165.4" cy="24.3" rx="1.5" ry="1.3"/><ellipse cx="172.1" cy="38" rx="1.2" ry="1.1"/><ellipse cx="169.1" cy="19.1" rx="1.6" ry="1.4"/><ellipse cx="162" cy="33.9" rx="1.6" ry="1.1"/><ellipse cx="170" cy="35.6" rx="0.6" ry="0.8"/><ellipse cx="172" cy="29.8" rx="1.5" ry="1.9"/><ellipse cx="174.7" cy="21.1" rx="0.8" ry="0.9"/><ellipse cx="161.6" cy="23.8" rx="1.8" ry="1.4"/><ellipse cx="175" cy="34.7" rx="1.2" ry="1"/><ellipse cx="176.3" cy="25.6" rx="1.1" ry="0.8"/><ellipse cx="162.3" cy="25.5" rx="1.7" ry="1.1"/><ellipse cx="164.7" cy="20.8" rx="1" ry="1.1"/></g><path d="M141.5 47.5 L143 47.6 L145 46.5 L146.5 46.3 L149 46.2 L150.8 46.5 L152.8 47.5 L153 48.9 L152 51 L151 52.3 L149 53.5 L147.8 54.3 L146 54.6 L144.5 54.4 L142.5 53.5 L142.2 51.6 L141 50.5 L140.8 48.9Z" fill="#f9a33c" fill-opacity="0.92"/><circle cx="142.1" cy="51.2" r="0.6" fill="#f2f2f2"/><circle cx="147.3" cy="52.4" r="0.9" fill="#f2f2f2"/><circle cx="146.4" cy="53.6" r="0.7" fill="#f2f2f2"/><circle cx="147.4" cy="51.9" r="0.7" fill="#f2f2f2"/><g fill="#5caf4f" fill-opacity="0.85"><ellipse cx="144.4" cy="51" rx="1.1" ry="0.7"/><ellipse cx="145.6" cy="48" rx="0.5" ry="0.8"/><ellipse cx="144.9" cy="47.2" rx="1.2" ry="1"/><ellipse cx="146.7" cy="52.7" rx="1.2" ry="1.5"/><ellipse cx="147" cy="48.8" rx="0.6" ry="0.6"/><ellipse cx="142.1" cy="48.1" rx="0.7" ry="0.8"/><ellipse cx="150.4" cy="47.5" rx="0.8" ry="1"/><ellipse cx="145.7" cy="47.8" rx="1" ry="1.1"/></g><path d="M152.8 89 L155.1 87.7 L157 87 L160 86.5 L162 86.9 L164.1 87.6 L167 88 L169.3 88.4 L171.5 89.5 L172.3 91.3 L172.6 94 L171.3 97 L170 99 L168 100 L165 100.8 L162.9 100.8 L160 100.5 L157.2 99.7 L155 98 L154.1 95.9 L153 93.5 L153.4 91.3Z" fill="#fbcf9e" fill-opacity="0.95"/><g fill="#9ccd92" fill-opacity="0.95"><ellipse cx="159.3" cy="92.6" rx="0.9" ry="0.8"/><ellipse cx="163.8" cy="99" rx="1" ry="0.9"/><ellipse cx="169.5" cy="92.2" rx="1.1" ry="1.4"/><ellipse cx="162.5" cy="87.3" rx="1" ry="0.7"/><ellipse cx="165.5" cy="98" rx="0.9" ry="1.5"/><ellipse cx="156.7" cy="95.6" rx="1.2" ry="1"/><ellipse cx="167.3" cy="99.9" rx="1.3" ry="1.5"/><ellipse cx="158.4" cy="89" rx="1.7" ry="1.3"/><ellipse cx="169.1" cy="89.5" rx="1.2" ry="0.8"/><ellipse cx="155.4" cy="88.7" rx="1" ry="1.1"/><ellipse cx="161.1" cy="89.1" rx="0.7" ry="1"/><ellipse cx="156.7" cy="97.6" rx="1.1" ry="1.2"/><ellipse cx="163" cy="88.2" rx="1.1" ry="1.3"/><ellipse cx="161.1" cy="97.1" rx="1.3" ry="1"/><ellipse cx="162.5" cy="98.4" rx="1" ry="1"/><ellipse cx="163.4" cy="90.1" rx="1.1" ry="1"/><ellipse cx="163.4" cy="98.5" rx="1.2" ry="1.2"/><ellipse cx="158.4" cy="95.6" rx="1.9" ry="1.4"/><ellipse cx="164.3" cy="96.5" rx="0.9" ry="1"/><ellipse cx="159.9" cy="89.8" rx="0.9" ry="0.9"/><ellipse cx="166" cy="98.7" rx="1.7" ry="1.2"/><ellipse cx="162.1" cy="88.5" rx="1" ry="0.9"/><ellipse cx="168.7" cy="94.1" rx="1.4" ry="1.6"/><ellipse cx="166.3" cy="88" rx="0.9" ry="0.9"/><ellipse cx="168.3" cy="91.9" rx="1.5" ry="1.4"/><ellipse cx="170.4" cy="90.1" rx="0.9" ry="1"/><ellipse cx="167.1" cy="96.8" rx="1.1" ry="1.2"/><ellipse cx="169.6" cy="89.6" rx="1.3" ry="1"/><ellipse cx="157.2" cy="87.2" rx="2" ry="1.2"/><ellipse cx="165.3" cy="99.4" rx="1.2" ry="1.5"/><ellipse cx="164.7" cy="95.2" rx="1.5" ry="1.7"/><ellipse cx="170.7" cy="91.3" rx="1.2" ry="1.3"/><ellipse cx="163.8" cy="98.1" rx="1.1" ry="1.3"/><ellipse cx="156.6" cy="96.6" rx="1" ry="1"/></g><g fill="#2f8f27" fill-opacity="0.85"><ellipse cx="160" cy="88" rx="1.2" ry="0.8"/><ellipse cx="158.5" cy="92.5" rx="1.1" ry="0.8"/><ellipse cx="162.5" cy="94.8" rx="1.2" ry="0.8"/><ellipse cx="157" cy="96.5" rx="1.1" ry="0.8"/><ellipse cx="155" cy="94.5" rx="0.9" ry="0.7"/><ellipse cx="162" cy="89.5" rx="0.9" ry="0.7"/></g><circle cx="161" cy="97.3" r="1" fill="#f9a33c"/><path d="M159.6 121.8 L158.9 122.3 L159.2 122.7 L158.2 122.6 L158.1 123.1 L157.9 123.3 L156.9 123.3 L156.6 123.1 L155.6 122.5 L155.7 121.9 L155.4 121.8 L155.6 120.9 L155.4 120.9 L155.5 120.5 L156.7 120.5 L157 120.7 L158.1 120.5 L158.5 120.2 L159.4 121 L159.9 121.9Z" fill="#f9a33c" fill-opacity="0.92"/><g fill="#2f8f27" fill-opacity="0.85"><ellipse cx="156.8" cy="122.1" rx="0.5" ry="0.5"/><ellipse cx="156.8" cy="122.9" rx="0.9" ry="0.6"/></g><path d="M166.6 122.2 L166.3 123.2 L165.4 123.2 L164.7 123.8 L164.4 123.4 L163.5 123.4 L162.6 123.4 L162 123.1 L161.4 123 L161.4 122.6 L160.9 122.2 L161.6 121.7 L161.4 121.3 L161.5 120.6 L162.7 120.8 L163.5 120.7 L164.5 120.6 L165.3 121.1 L165.4 121.3 L165.6 121.5Z" fill="#f9a33c" fill-opacity="0.92"/><g fill="#2f8f27" fill-opacity="0.85"><ellipse cx="163.9" cy="123.2" rx="0.7" ry="0.6"/><ellipse cx="164.9" cy="122.7" rx="0.7" ry="0.6"/></g><path d="M144 125.5 L144.1 125.6 L143.3 126.2 L142.4 126.4 L142.7 126.7 L141.8 126.6 L141.7 126.7 L141.3 126.2 L141.1 126.2 L141.4 125.7 L140.7 125.5 L140.4 125.2 L141.1 124.8 L141.9 124.1 L141.8 124.1 L142.3 124 L142.7 124.2 L143.2 124.2 L143.3 124.6 L143.4 125.6Z" fill="#f9a33c" fill-opacity="0.92"/><g fill="#2f8f27" fill-opacity="0.85"><ellipse cx="143.5" cy="125.9" rx="1.2" ry="0.7"/></g><path d="M143.8 136.8 L143.2 136.9 L143.5 137.7 L142.8 137.6 L143 138.2 L142.6 137.7 L142 138.1 L141.8 138.3 L141.2 137.6 L141.6 136.6 L140.9 136.8 L140.8 136.4 L141.3 136.1 L141.1 136 L142.1 135.5 L142.4 135.3 L142.9 135.3 L142.8 135.1 L143.6 135.9 L144.2 136.5Z" fill="#f9a33c" fill-opacity="0.92"/><g fill="#2f8f27" fill-opacity="0.85"><ellipse cx="142" cy="137.9" rx="0.6" ry="0.5"/></g><path d="M147.5 144.8 L147.2 144.9 L147.1 145.9 L147.1 145.6 L146.8 146.3 L146.9 146.3 L146 146.4 L145.5 145.5 L145.6 145.8 L145.9 145.7 L145.5 144.8 L145.2 144.6 L145.8 143.8 L145.4 143.6 L146.1 143.1 L146.5 143.1 L146.7 142.9 L146.6 143.6 L147.3 143.6 L147.7 144.6Z" fill="#f9a33c" fill-opacity="0.92"/><g fill="#2f8f27" fill-opacity="0.85"><ellipse cx="146.2" cy="143.8" rx="1" ry="1"/></g><path d="M148 149.8 L148.3 150.9 L147.8 151 L147.2 151.7 L147.3 151.5 L146.5 151 L146.6 151.5 L145.7 150.8 L145.9 151.1 L145.4 150.2 L145.9 149.8 L145.7 149.7 L146 148.5 L146.7 147.7 L146.6 147.9 L146.6 148 L147.3 147.6 L147.6 148.1 L147.7 148.7 L147.8 149.5Z" fill="#f9a33c" fill-opacity="0.92"/><g fill="#2f8f27" fill-opacity="0.85"><ellipse cx="146.8" cy="150.6" rx="0.4" ry="0.5"/></g><path d="M197.3 141 L199.3 140.1 L201 139 L203.4 139.1 L205 138.3 L207.4 138.4 L209 139 L210 140.2 L212 140.5 L212.3 141.4 L211.5 143.5 L208.7 143.6 L207 144.5 L204.8 145.6 L203 146.2 L200.9 145.8 L199 145 L198.6 143.9 L197.5 143.5 L197.2 142.8Z" fill="#f9a33c" fill-opacity="0.92"/><circle cx="205.3" cy="142.2" r="0.9" fill="#f2f2f2"/><circle cx="205.5" cy="142.6" r="0.7" fill="#f2f2f2"/><circle cx="206.6" cy="143.3" r="1.1" fill="#f2f2f2"/><g fill="#2f8f27" fill-opacity="0.85"><ellipse cx="200.2" cy="140.3" rx="0.9" ry="1.5"/><ellipse cx="202.3" cy="142.4" rx="1" ry="1"/><ellipse cx="209.5" cy="141.1" rx="1.4" ry="1.2"/><ellipse cx="206.3" cy="141.7" rx="0.7" ry="0.8"/><ellipse cx="207" cy="138.4" rx="0.6" ry="0.7"/><ellipse cx="210.2" cy="142.3" rx="1.3" ry="0.9"/></g><path d="M182.5 118 L182.5 117.8 L182.3 118.7 L182.4 119.4 L181.5 119 L180.6 119.5 L180.5 119.4 L180.3 118.9 L179.9 118.7 L179.7 117.9 L179.3 118 L179.4 117.5 L179.8 117.4 L180.4 117.1 L180.5 116.7 L180.4 116.4 L181.5 116.6 L181.8 116.7 L182.4 117.2 L182.8 118Z" fill="#f9a33c" fill-opacity="0.92"/><g fill="#2f8f27" fill-opacity="0.85"><ellipse cx="181" cy="118.1" rx="1" ry="0.7"/></g></g><rect x="63.5" y="3.8" width="177.0" height="182.39999999999998" fill="none" stroke="#7a7a7a" stroke-width="1"/><line x1="60.3" x2="63.5" y1="6.5" y2="6.5" stroke="#333" stroke-width="0.9"/><text x="57" y="10.4" font-family="'Liberation Sans', sans-serif" font-size="11.1" fill="#4d4d4d" text-anchor="end">65°N</text><line x1="60.3" x2="63.5" y1="36.9" y2="36.9" stroke="#333" stroke-width="0.9"/><text x="57" y="40.8" font-family="'Liberation Sans', sans-serif" font-size="11.1" fill="#4d4d4d" text-anchor="end">60°N</text><line x1="60.3" x2="63.5" y1="65.7" y2="65.7" stroke="#333" stroke-width="0.9"/><text x="57" y="69.6" font-family="'Liberation Sans', sans-serif" font-size="11.1" fill="#4d4d4d" text-anchor="end">55°N</text><line x1="60.3" x2="63.5" y1="92.3" y2="92.3" stroke="#333" stroke-width="0.9"/><text x="57" y="96.2" font-family="'Liberation Sans', sans-serif" font-size="11.1" fill="#4d4d4d" text-anchor="end">50°N</text><line x1="60.3" x2="63.5" y1="117.7" y2="117.7" stroke="#333" stroke-width="0.9"/><text x="57" y="121.6" font-family="'Liberation Sans', sans-serif" font-size="11.1" fill="#4d4d4d" text-anchor="end">45°N</text><line x1="60.3" x2="63.5" y1="143.7" y2="143.7" stroke="#333" stroke-width="0.9"/><text x="57" y="147.6" font-family="'Liberation Sans', sans-serif" font-size="11.1" fill="#4d4d4d" text-anchor="end">40°N</text><line x1="60.3" x2="63.5" y1="169.3" y2="169.3" stroke="#333" stroke-width="0.9"/><text x="57" y="173.2" font-family="'Liberation Sans', sans-serif" font-size="11.1" fill="#4d4d4d" text-anchor="end">35°N</text><line x1="110.0" x2="110.0" y1="186.2" y2="189.6" stroke="#333" stroke-width="0.9"/><text x="111.3" y="201.8" font-family="'Liberation Sans', sans-serif" font-size="11.1" fill="#4d4d4d" text-anchor="middle">0°</text><line x1="191.6" x2="191.6" y1="186.2" y2="189.6" stroke="#333" stroke-width="0.9"/><text x="191.6" y="201.8" font-family="'Liberation Sans', sans-serif" font-size="11.1" fill="#4d4d4d" text-anchor="middle">20°E</text><rect x="68.5" y="176.6" width="8.8" height="5" fill="#000" stroke="#000" stroke-width="0.5"/><rect x="77.3" y="176.6" width="8.8" height="5" fill="#fff" stroke="#000" stroke-width="0.5"/><rect x="86" y="176.6" width="8.8" height="5" fill="#000" stroke="#000" stroke-width="0.5"/><rect x="94.8" y="176.6" width="8.8" height="5" fill="#fff" stroke="#000" stroke-width="0.5"/><rect x="103.5" y="176.6" width="8.8" height="5" fill="#000" stroke="#000" stroke-width="0.5"/><text x="115.6" y="181.3" font-family="'Liberation Sans', sans-serif" font-size="6.2" fill="#000">1000 km</text><path d="M220 151 L205 178.4 L220.5 166.5 Z" fill="#fff" stroke="#000" stroke-width="0.7" stroke-linejoin="round"/><path d="M220 151 L235.6 178.4 L220.5 166.5 Z" fill="#000" stroke="#000" stroke-width="0.7" stroke-linejoin="round"/><text x="219.6" y="182.4" font-family="'Liberation Sans', sans-serif" font-size="9.6" fill="#000" text-anchor="middle">N</text><text transform="translate(0 7.1) scale(1 1)" font-family="'Liberation Sans', sans-serif" font-size="10.4" font-weight="bold" fill="#000">A</text><rect x="40.3" y="233" width="206.4" height="158.5" fill="#f0ffff"/><line x1="40.3" x2="246.7" y1="251.7" y2="249.7" stroke="#fff" stroke-width="0.8"/><line x1="40.3" x2="246.7" y1="284.2" y2="282.2" stroke="#fff" stroke-width="0.8"/><line x1="40.3" x2="246.7" y1="316.8" y2="314.8" stroke="#fff" stroke-width="0.8"/><line x1="40.3" x2="246.7" y1="350.2" y2="348.2" stroke="#fff" stroke-width="0.8"/><line x1="40.3" x2="246.7" y1="382.9" y2="380.9" stroke="#fff" stroke-width="0.8"/><line x1="49.6" x2="43.6" y1="233" y2="391.5" stroke="#fff" stroke-width="0.8"/><line x1="99.6" x2="93.6" y1="233" y2="391.5" stroke="#fff" stroke-width="0.8"/><line x1="149.4" x2="143.4" y1="233" y2="391.5" stroke="#fff" stroke-width="0.8"/><line x1="199.2" x2="193.2" y1="233" y2="391.5" stroke="#fff" stroke-width="0.8"/><line x1="248.8" x2="242.8" y1="233" y2="391.5" stroke="#fff" stroke-width="0.8"/><rect x="64.2" y="240.3" width="14.5" height="14.5" fill="#f2be82"/><rect x="78.6" y="240.3" width="14.5" height="14.5" fill="#f2be82"/><rect x="93.1" y="240.3" width="14.5" height="14.5" fill="#f2be82"/><rect x="107.6" y="240.3" width="14.5" height="14.5" fill="#f2be82"/><rect x="223.3" y="240.3" width="14.5" height="14.5" fill="#e5e5e5"/><rect x="78.6" y="254.7" width="14.5" height="14.5" fill="#f2be82"/><rect x="93.1" y="254.7" width="14.5" height="14.5" fill="#e5e5e5"/><rect x="107.6" y="254.7" width="14.5" height="14.5" fill="#f2be82"/><rect x="122.1" y="254.7" width="14.5" height="14.5" fill="#58a53b"/><rect x="136.5" y="254.7" width="14.5" height="14.5" fill="#f2be82"/><rect x="151" y="254.7" width="14.5" height="14.5" fill="#f2be82"/><rect x="165.5" y="254.7" width="14.5" height="14.5" fill="#f2be82"/><rect x="179.9" y="254.7" width="14.5" height="14.5" fill="#f2be82"/><rect x="208.9" y="254.7" width="14.5" height="14.5" fill="#e5e5e5"/><rect x="223.3" y="254.7" width="14.5" height="14.5" fill="#e5e5e5"/><rect x="78.6" y="269.2" width="14.5" height="14.5" fill="#f2be82"/><rect x="93.1" y="269.2" width="14.5" height="14.5" fill="#f2be82"/><rect x="107.6" y="269.2" width="14.5" height="14.5" fill="#58a53b"/><rect x="122.1" y="269.2" width="14.5" height="14.5" fill="#58a53b"/><rect x="136.5" y="269.2" width="14.5" height="14.5" fill="#f2be82"/><rect x="151" y="269.2" width="14.5" height="14.5" fill="#f2be82"/><rect x="165.5" y="269.2" width="14.5" height="14.5" fill="#f2be82"/><rect x="179.9" y="269.2" width="14.5" height="14.5" fill="#76bd6e"/><rect x="194.4" y="269.2" width="14.5" height="14.5" fill="#e5e5e5"/><rect x="208.9" y="269.2" width="14.5" height="14.5" fill="#e5e5e5"/><rect x="223.3" y="269.2" width="14.5" height="14.5" fill="#e5e5e5"/><rect x="78.6" y="283.6" width="14.5" height="14.5" fill="#f2be82"/><rect x="93.1" y="283.6" width="14.5" height="14.5" fill="#58a53b"/><rect x="107.6" y="283.6" width="14.5" height="14.5" fill="#58a53b"/><rect x="122.1" y="283.6" width="14.5" height="14.5" fill="#58a53b"/><rect x="136.5" y="283.6" width="14.5" height="14.5" fill="#f2be82"/><rect x="151" y="283.6" width="14.5" height="14.5" fill="#f2be82"/><rect x="165.5" y="283.6" width="14.5" height="14.5" fill="#f2be82"/><rect x="179.9" y="283.6" width="14.5" height="14.5" fill="#58a53b"/><rect x="194.4" y="283.6" width="14.5" height="14.5" fill="#f2be82"/><rect x="208.9" y="283.6" width="14.5" height="14.5" fill="#e5e5e5"/><rect x="223.3" y="283.6" width="14.5" height="14.5" fill="#e5e5e5"/><rect x="49.7" y="298" width="14.5" height="14.5" fill="#e5e5e5"/><rect x="64.2" y="298" width="14.5" height="14.5" fill="#f2be82"/><rect x="78.6" y="298" width="14.5" height="14.5" fill="#f2be82"/><rect x="93.1" y="298" width="14.5" height="14.5" fill="#f2be82"/><rect x="107.6" y="298" width="14.5" height="14.5" fill="#58a53b"/><rect x="122.1" y="298" width="14.5" height="14.5" fill="#58a53b"/><rect x="136.5" y="298" width="14.5" height="14.5" fill="#58a53b"/><rect x="151" y="298" width="14.5" height="14.5" fill="#f2be82"/><rect x="165.5" y="298" width="14.5" height="14.5" fill="#f2be82"/><rect x="179.9" y="298" width="14.5" height="14.5" fill="#58a53b"/><rect x="194.4" y="298" width="14.5" height="14.5" fill="#58a53b"/><rect x="208.9" y="298" width="14.5" height="14.5" fill="#f2be82"/><rect x="223.3" y="298" width="14.5" height="14.5" fill="#f2be82"/><rect x="93.1" y="312.5" width="14.5" height="14.5" fill="#58a53b"/><rect x="107.6" y="312.5" width="14.5" height="14.5" fill="#58a53b"/><rect x="122.1" y="312.5" width="14.5" height="14.5" fill="#58a53b"/><rect x="136.5" y="312.5" width="14.5" height="14.5" fill="#58a53b"/><rect x="151" y="312.5" width="14.5" height="14.5" fill="#f2be82"/><rect x="165.5" y="312.5" width="14.5" height="14.5" fill="#58a53b"/><rect x="179.9" y="312.5" width="14.5" height="14.5" fill="#58a53b"/><rect x="194.4" y="312.5" width="14.5" height="14.5" fill="#f2be82"/><rect x="208.9" y="312.5" width="14.5" height="14.5" fill="#f2be82"/><rect x="223.3" y="312.5" width="14.5" height="14.5" fill="#f2be82"/><rect x="93.1" y="326.9" width="14.5" height="14.5" fill="#58a53b"/><rect x="107.6" y="326.9" width="14.5" height="14.5" fill="#58a53b"/><rect x="122.1" y="326.9" width="14.5" height="14.5" fill="#58a53b"/><rect x="136.5" y="326.9" width="14.5" height="14.5" fill="#58a53b"/><rect x="151" y="326.9" width="14.5" height="14.5" fill="#58a53b"/><rect x="165.5" y="326.9" width="14.5" height="14.5" fill="#f2be82"/><rect x="179.9" y="326.9" width="14.5" height="14.5" fill="#e5e5e5"/><rect x="194.4" y="326.9" width="14.5" height="14.5" fill="#f2be82"/><rect x="208.9" y="326.9" width="14.5" height="14.5" fill="#f2be82"/><rect x="223.3" y="326.9" width="14.5" height="14.5" fill="#f2be82"/><rect x="93.1" y="341.3" width="14.5" height="14.5" fill="#58a53b"/><rect x="107.6" y="341.3" width="14.5" height="14.5" fill="#58a53b"/><rect x="122.1" y="341.3" width="14.5" height="14.5" fill="#58a53b"/><rect x="136.5" y="341.3" width="14.5" height="14.5" fill="#58a53b"/><rect x="151" y="341.3" width="14.5" height="14.5" fill="#f2be82"/><rect x="165.5" y="341.3" width="14.5" height="14.5" fill="#f2be82"/><rect x="179.9" y="341.3" width="14.5" height="14.5" fill="#f2be82"/><rect x="194.4" y="341.3" width="14.5" height="14.5" fill="#e5e5e5"/><rect x="208.9" y="341.3" width="14.5" height="14.5" fill="#e5e5e5"/><rect x="223.3" y="341.3" width="14.5" height="14.5" fill="#e5e5e5"/><rect x="93.1" y="355.7" width="14.5" height="14.5" fill="#58a53b"/><rect x="107.6" y="355.7" width="14.5" height="14.5" fill="#58a53b"/><rect x="122.1" y="355.7" width="14.5" height="14.5" fill="#e5e5e5"/><rect x="136.5" y="355.7" width="14.5" height="14.5" fill="#e5e5e5"/><rect x="151" y="355.7" width="14.5" height="14.5" fill="#e5e5e5"/><rect x="165.5" y="355.7" width="14.5" height="14.5" fill="#f2be82"/><rect x="179.9" y="355.7" width="14.5" height="14.5" fill="#e5e5e5"/><rect x="194.4" y="355.7" width="14.5" height="14.5" fill="#e5e5e5"/><rect x="208.9" y="355.7" width="14.5" height="14.5" fill="#e5e5e5"/><rect x="223.3" y="355.7" width="14.5" height="14.5" fill="#e5e5e5"/><rect x="93.1" y="370.2" width="14.5" height="14.5" fill="#f2be82"/><rect x="107.6" y="370.2" width="14.5" height="14.5" fill="#e5e5e5"/><rect x="122.1" y="370.2" width="14.5" height="14.5" fill="#e5e5e5"/><rect x="136.5" y="370.2" width="14.5" height="14.5" fill="#e5e5e5"/><rect x="151" y="370.2" width="14.5" height="14.5" fill="#e5e5e5"/><rect x="165.5" y="370.2" width="14.5" height="14.5" fill="#e5e5e5"/><rect x="179.9" y="370.2" width="14.5" height="14.5" fill="#e5e5e5"/><rect x="194.4" y="370.2" width="14.5" height="14.5" fill="#e5e5e5"/><rect x="208.9" y="370.2" width="14.5" height="14.5" fill="#e5e5e5"/><rect x="223.3" y="370.2" width="14.5" height="14.5" fill="#e5e5e5"/><path d="M122.3 254.7 L129.4 254.7 L127 257 L124 259.9 L122.3 260.5 Z" fill="#76bd6e"/><path d="M135.2 256 L136.9 255 L136.9 276 L135.6 270 Z" fill="#76bd6e"/><path d="M107.8 269.1 L114.6 269.1 L111.5 272.8 L109 278.4 L107.8 279 Z" fill="#76bd6e"/><path d="M93.4 312.5 L96.1 312.5 L97.3 317.2 L96.7 322.2 L94.9 325.9 L94.9 330.8 L97.3 335.7 L99.8 339.4 L101.7 341.3 L93.4 341.3 Z" fill="#76bd6e"/><path d="M93.4 341.3 L101 341.3 L98.6 343.7 L94.9 346.2 L93.4 347.4 Z" fill="#76bd6e"/><path d="M122.3 355.7 L122.3 370 L107.8 370 L111.5 366.5 L115.9 363.5 L118.3 358.5 Z" fill="#76bd6e"/><path d="M115.9 355.7 L118.3 352.3 L122 350.5 L125.7 352.3 L129.4 353.6 L134.4 352.3 L138.1 351.1 L151.4 351 L151.4 355.8 Z" fill="#76bd6e"/><path d="M143.6 298.1 L151.4 298.1 L151.4 326.9 L149 320 L148.6 312.5 L147.3 308.6 L145.5 304.9 L143.6 302.4 Z" fill="#76bd6e"/><path d="M146 335 L151 332.5 L158 336 L165.9 333 L165.9 341.3 L146 341.3 Z" fill="#76bd6e"/><path d="M165.9 312.5 L180.4 312.5 L180.4 317 L176 319 L172 322 L168 326.9 L165.9 326.9 Z" fill="#76bd6e"/><path d="M180.4 283.6 L184.7 283.6 L184.7 298 L180.4 298 Z" fill="#76bd6e"/><path d="M180.4 298 L184.9 298 L184.9 306 L182 308.5 L180.4 308.5 Z" fill="#76bd6e"/><path d="M180.4 320.5 L185 319.5 L194.9 319.5 L194.9 327 L181 327 Z" fill="#76bd6e"/><path d="M200 298.1 L209.4 298.1 L209.4 312.5 L199 312.5 L202 309 L201 304 Z" fill="#76bd6e"/><ellipse cx="119.3" cy="300.6" rx="4.3" ry="3.3" fill="#76bd6e"/><path d="M180.6 269.2 L183.5 269.2 L188.5 274 L191.5 277.5 L192.6 283.6 L185 283.6 L183.8 278.5 L182 274.5 Z" fill="#58a53b"/><path d="M122.3 260.5 L118.3 261.7 L115.2 263.6 L114 266 L114.6 268.5 L122.3 269.1 Z" fill="#dcb548"/><path d="M107.8 277.2 L103.5 277.8 L99.8 279.6 L97.3 282.3 L95.5 283.6 L107.8 283.6 Z" fill="#dcb548"/><path d="M93.4 283.6 L91.2 285.8 L89.3 289.5 L88.7 292.6 L89.9 295.7 L93.4 297.9 Z" fill="#dcb548"/><path d="M93.4 298.1 L107.8 298.1 L107.8 301.5 L104 303.5 L100 304 L96 303.5 L93.4 302.5 Z" fill="#dcb548"/><path d="M103 309 L107.8 308 L107.8 312.5 L102 312.5 Z" fill="#dcb548"/><path d="M136.9 283.6 L139.3 284.6 L141.8 288.3 L143 293.2 L141.8 296.9 L136.9 297.9 Z" fill="#dcb548"/><path d="M151.4 320.9 L156 321.5 L160.9 324 L162.2 327 L151.4 327 Z" fill="#dcb548"/><path d="M165.9 327 L173 327 L175 329 L171 333 L167 336 L165.9 335 Z" fill="#dcb548"/><path d="M151.4 341.3 L157 341.3 L155 345 L152.5 348 L151.4 347 Z" fill="#dcb548"/><path d="M179.8 257.4 L183.5 256.2 L186.6 258 L183.5 261.1 L182.3 266 L181 267.3 L179.8 267.3 Z" fill="#dcb548"/><path d="M195 286 L197 285.5 L197 295 L195 296 Z" fill="#dcb548"/><path d="M194.9 313.5 L198 315 L201.5 318 L200 322 L201 326.8 L194.9 326.8 Z" fill="#dcb548"/><path d="M172 310.5 L180.4 309 L180.4 312.5 L171 312.5 Z" fill="#dcb548"/><path d="M72.7 254.7 L78.9 254.7 L78.9 263.4 L77 264.6 L75.8 262.8 L73.3 259.7 L72.7 257.2 Z" fill="#e5e5e5" stroke="#666" stroke-width="0.35"/><path d="M64.4 296 L70 294 L75 291 L78.9 289 L78.9 298.1 L64.4 298.1 Z" fill="#e5e5e5" stroke="#666" stroke-width="0.35"/><path d="M49.7 312.5 L56 312.5 L57 315 L55 318 L51 316 L49.7 316 Z" fill="#e5e5e5" stroke="#666" stroke-width="0.35"/><path d="M202.8 254.7 L203.4 251 L205.5 248.5 L209 247.5 L212 246.4 L215.5 246.7 L218 248 L219.3 251.5 L219.8 254.7 Z" fill="#e5e5e5" stroke="#666" stroke-width="0.35"/><path d="M219.4 240.3 L223.9 240.3 L223.9 254.7 L222.4 254.7 L221.2 248 Z" fill="#e5e5e5" stroke="#666" stroke-width="0.35"/><path d="M202.8 254.7 L209.4 254.7 L209.4 269.1 L207.6 269.1 L205.5 264 L203.4 259.5 Z" fill="#e5e5e5" stroke="#666" stroke-width="0.35"/><path d="M58 298.1 L64.4 298.1 L64.4 305 L61 302 Z" fill="#f0ffff" stroke="#666" stroke-width="0.35"/><path d="M195 269.1 L202 269.1 L205 275 L208 280 L209.4 283.6 L205 283.6 L200 276 L195 272 Z" fill="#f0ffff" stroke="#666" stroke-width="0.35"/><path d="M95 269 L100 264 L107.9 259 L107.9 262 L100 266.5 L95 271 Z" fill="#f0ffff" stroke="#666" stroke-width="0.35"/><path d="M226 262 L230 266 L234 267.5 L238.3 268 L238.3 269.1 L226.5 269.1 Z" fill="#f0ffff" stroke="#666" stroke-width="0.35"/><path d="M223.9 240.3 L226 240.3 L225 244 L223.9 246 Z" fill="#f0ffff" stroke="#666" stroke-width="0.35"/><rect x="49.7" y="240.3" width="14.5" height="14.4" fill="none" stroke="#303030" stroke-opacity="0.42" stroke-width="0.55"/><rect x="64.2" y="240.3" width="14.5" height="14.4" fill="none" stroke="#303030" stroke-opacity="0.42" stroke-width="0.55"/><rect x="78.6" y="240.3" width="14.5" height="14.4" fill="none" stroke="#303030" stroke-opacity="0.42" stroke-width="0.55"/><rect x="93.1" y="240.3" width="14.5" height="14.4" fill="none" stroke="#303030" stroke-opacity="0.42" stroke-width="0.55"/><rect x="107.6" y="240.3" width="14.5" height="14.4" fill="none" stroke="#303030" stroke-opacity="0.42" stroke-width="0.55"/><rect x="122.1" y="240.3" width="14.5" height="14.4" fill="none" stroke="#303030" stroke-opacity="0.42" stroke-width="0.55"/><rect x="136.5" y="240.3" width="14.5" height="14.4" fill="none" stroke="#303030" stroke-opacity="0.42" stroke-width="0.55"/><rect x="165.5" y="240.3" width="14.5" height="14.4" fill="none" stroke="#303030" stroke-opacity="0.42" stroke-width="0.55"/><rect x="179.9" y="240.3" width="14.5" height="14.4" fill="none" stroke="#303030" stroke-opacity="0.42" stroke-width="0.55"/><rect x="194.4" y="240.3" width="14.5" height="14.4" fill="none" stroke="#303030" stroke-opacity="0.42" stroke-width="0.55"/><rect x="208.9" y="240.3" width="14.5" height="14.4" fill="none" stroke="#303030" stroke-opacity="0.42" stroke-width="0.55"/><rect x="223.3" y="240.3" width="14.5" height="14.4" fill="none" stroke="#303030" stroke-opacity="0.42" stroke-width="0.55"/><rect x="64.2" y="254.7" width="14.5" height="14.4" fill="none" stroke="#303030" stroke-opacity="0.42" stroke-width="0.55"/><rect x="78.6" y="254.7" width="14.5" height="14.4" fill="none" stroke="#303030" stroke-opacity="0.42" stroke-width="0.55"/><rect x="93.1" y="254.7" width="14.5" height="14.4" fill="none" stroke="#303030" stroke-opacity="0.42" stroke-width="0.55"/><rect x="107.6" y="254.7" width="14.5" height="14.4" fill="none" stroke="#303030" stroke-opacity="0.42" stroke-width="0.55"/><rect x="122.1" y="254.7" width="14.5" height="14.4" fill="none" stroke="#303030" stroke-opacity="0.42" stroke-width="0.55"/><rect x="136.5" y="254.7" width="14.5" height="14.4" fill="none" stroke="#303030" stroke-opacity="0.42" stroke-width="0.55"/><rect x="151" y="254.7" width="14.5" height="14.4" fill="none" stroke="#303030" stroke-opacity="0.42" stroke-width="0.55"/><rect x="165.5" y="254.7" width="14.5" height="14.4" fill="none" stroke="#303030" stroke-opacity="0.42" stroke-width="0.55"/><rect x="179.9" y="254.7" width="14.5" height="14.4" fill="none" stroke="#303030" stroke-opacity="0.42" stroke-width="0.55"/><rect x="194.4" y="254.7" width="14.5" height="14.4" fill="none" stroke="#303030" stroke-opacity="0.42" stroke-width="0.55"/><rect x="208.9" y="254.7" width="14.5" height="14.4" fill="none" stroke="#303030" stroke-opacity="0.42" stroke-width="0.55"/><rect x="223.3" y="254.7" width="14.5" height="14.4" fill="none" stroke="#303030" stroke-opacity="0.42" stroke-width="0.55"/><rect x="64.2" y="269.2" width="14.5" height="14.4" fill="none" stroke="#303030" stroke-opacity="0.42" stroke-width="0.55"/><rect x="78.6" y="269.2" width="14.5" height="14.4" fill="none" stroke="#303030" stroke-opacity="0.42" stroke-width="0.55"/><rect x="93.1" y="269.2" width="14.5" height="14.4" fill="none" stroke="#303030" stroke-opacity="0.42" stroke-width="0.55"/><rect x="107.6" y="269.2" width="14.5" height="14.4" fill="none" stroke="#303030" stroke-opacity="0.42" stroke-width="0.55"/><rect x="122.1" y="269.2" width="14.5" height="14.4" fill="none" stroke="#303030" stroke-opacity="0.42" stroke-width="0.55"/><rect x="136.5" y="269.2" width="14.5" height="14.4" fill="none" stroke="#303030" stroke-opacity="0.42" stroke-width="0.55"/><rect x="151" y="269.2" width="14.5" height="14.4" fill="none" stroke="#303030" stroke-opacity="0.42" stroke-width="0.55"/><rect x="165.5" y="269.2" width="14.5" height="14.4" fill="none" stroke="#303030" stroke-opacity="0.42" stroke-width="0.55"/><rect x="179.9" y="269.2" width="14.5" height="14.4" fill="none" stroke="#303030" stroke-opacity="0.42" stroke-width="0.55"/><rect x="194.4" y="269.2" width="14.5" height="14.4" fill="none" stroke="#303030" stroke-opacity="0.42" stroke-width="0.55"/><rect x="208.9" y="269.2" width="14.5" height="14.4" fill="none" stroke="#303030" stroke-opacity="0.42" stroke-width="0.55"/><rect x="223.3" y="269.2" width="14.5" height="14.4" fill="none" stroke="#303030" stroke-opacity="0.42" stroke-width="0.55"/><rect x="49.7" y="283.6" width="14.5" height="14.4" fill="none" stroke="#303030" stroke-opacity="0.42" stroke-width="0.55"/><rect x="64.2" y="283.6" width="14.5" height="14.4" fill="none" stroke="#303030" stroke-opacity="0.42" stroke-width="0.55"/><rect x="78.6" y="283.6" width="14.5" height="14.4" fill="none" stroke="#303030" stroke-opacity="0.42" stroke-width="0.55"/><rect x="93.1" y="283.6" width="14.5" height="14.4" fill="none" stroke="#303030" stroke-opacity="0.42" stroke-width="0.55"/><rect x="107.6" y="283.6" width="14.5" height="14.4" fill="none" stroke="#303030" stroke-opacity="0.42" stroke-width="0.55"/><rect x="122.1" y="283.6" width="14.5" height="14.4" fill="none" stroke="#303030" stroke-opacity="0.42" stroke-width="0.55"/><rect x="136.5" y="283.6" width="14.5" height="14.4" fill="none" stroke="#303030" stroke-opacity="0.42" stroke-width="0.55"/><rect x="151" y="283.6" width="14.5" height="14.4" fill="none" stroke="#303030" stroke-opacity="0.42" stroke-width="0.55"/><rect x="165.5" y="283.6" width="14.5" height="14.4" fill="none" stroke="#303030" stroke-opacity="0.42" stroke-width="0.55"/><rect x="179.9" y="283.6" width="14.5" height="14.4" fill="none" stroke="#303030" stroke-opacity="0.42" stroke-width="0.55"/><rect x="194.4" y="283.6" width="14.5" height="14.4" fill="none" stroke="#303030" stroke-opacity="0.42" stroke-width="0.55"/><rect x="208.9" y="283.6" width="14.5" height="14.4" fill="none" stroke="#303030" stroke-opacity="0.42" stroke-width="0.55"/><rect x="223.3" y="283.6" width="14.5" height="14.4" fill="none" stroke="#303030" stroke-opacity="0.42" stroke-width="0.55"/><rect x="49.7" y="298" width="14.5" height="14.4" fill="none" stroke="#303030" stroke-opacity="0.42" stroke-width="0.55"/><rect x="64.2" y="298" width="14.5" height="14.4" fill="none" stroke="#303030" stroke-opacity="0.42" stroke-width="0.55"/><rect x="78.6" y="298" width="14.5" height="14.4" fill="none" stroke="#303030" stroke-opacity="0.42" stroke-width="0.55"/><rect x="93.1" y="298" width="14.5" height="14.4" fill="none" stroke="#303030" stroke-opacity="0.42" stroke-width="0.55"/><rect x="107.6" y="298" width="14.5" height="14.4" fill="none" stroke="#303030" stroke-opacity="0.42" stroke-width="0.55"/><rect x="122.1" y="298" width="14.5" height="14.4" fill="none" stroke="#303030" stroke-opacity="0.42" stroke-width="0.55"/><rect x="136.5" y="298" width="14.5" height="14.4" fill="none" stroke="#303030" stroke-opacity="0.42" stroke-width="0.55"/><rect x="151" y="298" width="14.5" height="14.4" fill="none" stroke="#303030" stroke-opacity="0.42" stroke-width="0.55"/><rect x="165.5" y="298" width="14.5" height="14.4" fill="none" stroke="#303030" stroke-opacity="0.42" stroke-width="0.55"/><rect x="179.9" y="298" width="14.5" height="14.4" fill="none" stroke="#303030" stroke-opacity="0.42" stroke-width="0.55"/><rect x="194.4" y="298" width="14.5" height="14.4" fill="none" stroke="#303030" stroke-opacity="0.42" stroke-width="0.55"/><rect x="208.9" y="298" width="14.5" height="14.4" fill="none" stroke="#303030" stroke-opacity="0.42" stroke-width="0.55"/><rect x="223.3" y="298" width="14.5" height="14.4" fill="none" stroke="#303030" stroke-opacity="0.42" stroke-width="0.55"/><rect x="49.7" y="312.5" width="14.5" height="14.4" fill="none" stroke="#303030" stroke-opacity="0.42" stroke-width="0.55"/><rect x="64.2" y="312.5" width="14.5" height="14.4" fill="none" stroke="#303030" stroke-opacity="0.42" stroke-width="0.55"/><rect x="93.1" y="312.5" width="14.5" height="14.4" fill="none" stroke="#303030" stroke-opacity="0.42" stroke-width="0.55"/><rect x="107.6" y="312.5" width="14.5" height="14.4" fill="none" stroke="#303030" stroke-opacity="0.42" stroke-width="0.55"/><rect x="122.1" y="312.5" width="14.5" height="14.4" fill="none" stroke="#303030" stroke-opacity="0.42" stroke-width="0.55"/><rect x="136.5" y="312.5" width="14.5" height="14.4" fill="none" stroke="#303030" stroke-opacity="0.42" stroke-width="0.55"/><rect x="151" y="312.5" width="14.5" height="14.4" fill="none" stroke="#303030" stroke-opacity="0.42" stroke-width="0.55"/><rect x="165.5" y="312.5" width="14.5" height="14.4" fill="none" stroke="#303030" stroke-opacity="0.42" stroke-width="0.55"/><rect x="179.9" y="312.5" width="14.5" height="14.4" fill="none" stroke="#303030" stroke-opacity="0.42" stroke-width="0.55"/><rect x="194.4" y="312.5" width="14.5" height="14.4" fill="none" stroke="#303030" stroke-opacity="0.42" stroke-width="0.55"/><rect x="208.9" y="312.5" width="14.5" height="14.4" fill="none" stroke="#303030" stroke-opacity="0.42" stroke-width="0.55"/><rect x="223.3" y="312.5" width="14.5" height="14.4" fill="none" stroke="#303030" stroke-opacity="0.42" stroke-width="0.55"/><rect x="93.1" y="326.9" width="14.5" height="14.4" fill="none" stroke="#303030" stroke-opacity="0.42" stroke-width="0.55"/><rect x="107.6" y="326.9" width="14.5" height="14.4" fill="none" stroke="#303030" stroke-opacity="0.42" stroke-width="0.55"/><rect x="122.1" y="326.9" width="14.5" height="14.4" fill="none" stroke="#303030" stroke-opacity="0.42" stroke-width="0.55"/><rect x="136.5" y="326.9" width="14.5" height="14.4" fill="none" stroke="#303030" stroke-opacity="0.42" stroke-width="0.55"/><rect x="151" y="326.9" width="14.5" height="14.4" fill="none" stroke="#303030" stroke-opacity="0.42" stroke-width="0.55"/><rect x="165.5" y="326.9" width="14.5" height="14.4" fill="none" stroke="#303030" stroke-opacity="0.42" stroke-width="0.55"/><rect x="179.9" y="326.9" width="14.5" height="14.4" fill="none" stroke="#303030" stroke-opacity="0.42" stroke-width="0.55"/><rect x="194.4" y="326.9" width="14.5" height="14.4" fill="none" stroke="#303030" stroke-opacity="0.42" stroke-width="0.55"/><rect x="208.9" y="326.9" width="14.5" height="14.4" fill="none" stroke="#303030" stroke-opacity="0.42" stroke-width="0.55"/><rect x="223.3" y="326.9" width="14.5" height="14.4" fill="none" stroke="#303030" stroke-opacity="0.42" stroke-width="0.55"/><rect x="78.6" y="341.3" width="14.5" height="14.4" fill="none" stroke="#303030" stroke-opacity="0.42" stroke-width="0.55"/><rect x="93.1" y="341.3" width="14.5" height="14.4" fill="none" stroke="#303030" stroke-opacity="0.42" stroke-width="0.55"/><rect x="107.6" y="341.3" width="14.5" height="14.4" fill="none" stroke="#303030" stroke-opacity="0.42" stroke-width="0.55"/><rect x="122.1" y="341.3" width="14.5" height="14.4" fill="none" stroke="#303030" stroke-opacity="0.42" stroke-width="0.55"/><rect x="136.5" y="341.3" width="14.5" height="14.4" fill="none" stroke="#303030" stroke-opacity="0.42" stroke-width="0.55"/><rect x="151" y="341.3" width="14.5" height="14.4" fill="none" stroke="#303030" stroke-opacity="0.42" stroke-width="0.55"/><rect x="165.5" y="341.3" width="14.5" height="14.4" fill="none" stroke="#303030" stroke-opacity="0.42" stroke-width="0.55"/><rect x="179.9" y="341.3" width="14.5" height="14.4" fill="none" stroke="#303030" stroke-opacity="0.42" stroke-width="0.55"/><rect x="194.4" y="341.3" width="14.5" height="14.4" fill="none" stroke="#303030" stroke-opacity="0.42" stroke-width="0.55"/><rect x="208.9" y="341.3" width="14.5" height="14.4" fill="none" stroke="#303030" stroke-opacity="0.42" stroke-width="0.55"/><rect x="223.3" y="341.3" width="14.5" height="14.4" fill="none" stroke="#303030" stroke-opacity="0.42" stroke-width="0.55"/><rect x="78.6" y="355.7" width="14.5" height="14.4" fill="none" stroke="#303030" stroke-opacity="0.42" stroke-width="0.55"/><rect x="93.1" y="355.7" width="14.5" height="14.4" fill="none" stroke="#303030" stroke-opacity="0.42" stroke-width="0.55"/><rect x="107.6" y="355.7" width="14.5" height="14.4" fill="none" stroke="#303030" stroke-opacity="0.42" stroke-width="0.55"/><rect x="122.1" y="355.7" width="14.5" height="14.4" fill="none" stroke="#303030" stroke-opacity="0.42" stroke-width="0.55"/><rect x="136.5" y="355.7" width="14.5" height="14.4" fill="none" stroke="#303030" stroke-opacity="0.42" stroke-width="0.55"/><rect x="151" y="355.7" width="14.5" height="14.4" fill="none" stroke="#303030" stroke-opacity="0.42" stroke-width="0.55"/><rect x="165.5" y="355.7" width="14.5" height="14.4" fill="none" stroke="#303030" stroke-opacity="0.42" stroke-width="0.55"/><rect x="179.9" y="355.7" width="14.5" height="14.4" fill="none" stroke="#303030" stroke-opacity="0.42" stroke-width="0.55"/><rect x="194.4" y="355.7" width="14.5" height="14.4" fill="none" stroke="#303030" stroke-opacity="0.42" stroke-width="0.55"/><rect x="208.9" y="355.7" width="14.5" height="14.4" fill="none" stroke="#303030" stroke-opacity="0.42" stroke-width="0.55"/><rect x="223.3" y="355.7" width="14.5" height="14.4" fill="none" stroke="#303030" stroke-opacity="0.42" stroke-width="0.55"/><rect x="78.6" y="370.2" width="14.5" height="14.4" fill="none" stroke="#303030" stroke-opacity="0.42" stroke-width="0.55"/><rect x="93.1" y="370.2" width="14.5" height="14.4" fill="none" stroke="#303030" stroke-opacity="0.42" stroke-width="0.55"/><rect x="107.6" y="370.2" width="14.5" height="14.4" fill="none" stroke="#303030" stroke-opacity="0.42" stroke-width="0.55"/><rect x="122.1" y="370.2" width="14.5" height="14.4" fill="none" stroke="#303030" stroke-opacity="0.42" stroke-width="0.55"/><rect x="136.5" y="370.2" width="14.5" height="14.4" fill="none" stroke="#303030" stroke-opacity="0.42" stroke-width="0.55"/><rect x="151" y="370.2" width="14.5" height="14.4" fill="none" stroke="#303030" stroke-opacity="0.42" stroke-width="0.55"/><rect x="165.5" y="370.2" width="14.5" height="14.4" fill="none" stroke="#303030" stroke-opacity="0.42" stroke-width="0.55"/><rect x="179.9" y="370.2" width="14.5" height="14.4" fill="none" stroke="#303030" stroke-opacity="0.42" stroke-width="0.55"/><rect x="194.4" y="370.2" width="14.5" height="14.4" fill="none" stroke="#303030" stroke-opacity="0.42" stroke-width="0.55"/><rect x="208.9" y="370.2" width="14.5" height="14.4" fill="none" stroke="#303030" stroke-opacity="0.42" stroke-width="0.55"/><rect x="223.3" y="370.2" width="14.5" height="14.4" fill="none" stroke="#303030" stroke-opacity="0.42" stroke-width="0.55"/><line x1="38.5" x2="40.8" y1="250.7" y2="250.7" stroke="#333" stroke-width="0.8"/><text x="37.6" y="253.1" font-family="'Liberation Sans', sans-serif" font-size="6.6" fill="#4d4d4d" text-anchor="end">53.2°N</text><line x1="38.5" x2="40.8" y1="283.2" y2="283.2" stroke="#333" stroke-width="0.8"/><text x="37.6" y="285.6" font-family="'Liberation Sans', sans-serif" font-size="6.6" fill="#4d4d4d" text-anchor="end">53.0°N</text><line x1="38.5" x2="40.8" y1="315.8" y2="315.8" stroke="#333" stroke-width="0.8"/><text x="37.6" y="318.2" font-family="'Liberation Sans', sans-serif" font-size="6.6" fill="#4d4d4d" text-anchor="end">52.8°N</text><line x1="38.5" x2="40.8" y1="349.2" y2="349.2" stroke="#333" stroke-width="0.8"/><text x="37.6" y="351.6" font-family="'Liberation Sans', sans-serif" font-size="6.6" fill="#4d4d4d" text-anchor="end">52.6°N</text><line x1="38.5" x2="40.8" y1="381.9" y2="381.9" stroke="#333" stroke-width="0.8"/><text x="37.6" y="384.3" font-family="'Liberation Sans', sans-serif" font-size="6.6" fill="#4d4d4d" text-anchor="end">52.4°N</text><line x1="45.6" x2="45.6" y1="391.5" y2="393.6" stroke="#333" stroke-width="0.8"/><text x="45.6" y="400.2" font-family="'Liberation Sans', sans-serif" font-size="6.6" fill="#4d4d4d" text-anchor="middle">4.5°W</text><line x1="95.6" x2="95.6" y1="391.5" y2="393.6" stroke="#333" stroke-width="0.8"/><text x="95.6" y="400.2" font-family="'Liberation Sans', sans-serif" font-size="6.6" fill="#4d4d4d" text-anchor="middle">4.0°W</text><line x1="145.4" x2="145.4" y1="391.5" y2="393.6" stroke="#333" stroke-width="0.8"/><text x="145.4" y="400.2" font-family="'Liberation Sans', sans-serif" font-size="6.6" fill="#4d4d4d" text-anchor="middle">3.5°W</text><line x1="195.2" x2="195.2" y1="391.5" y2="393.6" stroke="#333" stroke-width="0.8"/><text x="195.2" y="400.2" font-family="'Liberation Sans', sans-serif" font-size="6.6" fill="#4d4d4d" text-anchor="middle">3.0°W</text><line x1="244.8" x2="244.8" y1="391.5" y2="393.6" stroke="#333" stroke-width="0.8"/><text x="244.8" y="400.2" font-family="'Liberation Sans', sans-serif" font-size="6.6" fill="#4d4d4d" text-anchor="middle">2.5°W</text><rect x="45.6" y="381.4" width="14.5" height="5.6" fill="#000" stroke="#000" stroke-width="0.5"/><rect x="60.1" y="381.4" width="14.5" height="5.6" fill="#fff" stroke="#000" stroke-width="0.5"/><rect x="74.5" y="381.4" width="14.5" height="5.6" fill="#000" stroke="#000" stroke-width="0.5"/><text x="89.6" y="386.6" font-family="'Liberation Sans', sans-serif" font-size="6.6" fill="#000">30 km</text><text transform="translate(0.3 240) scale(1 1)" font-family="'Liberation Sans', sans-serif" font-size="10.4" font-weight="bold" fill="#000">B</text><line x1="281.4" x2="519.5" y1="35.9" y2="35.9" stroke="#ededed" stroke-width="0.4"/><line x1="281.4" x2="519.5" y1="48.5" y2="48.5" stroke="#ededed" stroke-width="0.4"/><line x1="281.4" x2="519.5" y1="61.1" y2="61.1" stroke="#ededed" stroke-width="0.4"/><line x1="281.4" x2="519.5" y1="73.7" y2="73.7" stroke="#ededed" stroke-width="0.4"/><line x1="281.4" x2="519.5" y1="86.3" y2="86.3" stroke="#ededed" stroke-width="0.4"/><line x1="281.4" x2="519.5" y1="29.6" y2="29.6" stroke="#e6e6e6" stroke-width="0.75"/><text transform="translate(278.3 32.1) scale(0.86 1)" font-family="'Liberation Sans', sans-serif" font-size="7" fill="#4d4d4d" text-anchor="end">10.0</text><line x1="281.4" x2="519.5" y1="42.2" y2="42.2" stroke="#e6e6e6" stroke-width="0.75"/><text transform="translate(278.3 44.7) scale(0.86 1)" font-family="'Liberation Sans', sans-serif" font-size="7" fill="#4d4d4d" text-anchor="end">7.5</text><line x1="281.4" x2="519.5" y1="54.8" y2="54.8" stroke="#e6e6e6" stroke-width="0.75"/><text transform="translate(278.3 57.3) scale(0.86 1)" font-family="'Liberation Sans', sans-serif" font-size="7" fill="#4d4d4d" text-anchor="end">5.0</text><line x1="281.4" x2="519.5" y1="67.4" y2="67.4" stroke="#e6e6e6" stroke-width="0.75"/><text transform="translate(278.3 69.9) scale(0.86 1)" font-family="'Liberation Sans', sans-serif" font-size="7" fill="#4d4d4d" text-anchor="end">2.5</text><line x1="281.4" x2="519.5" y1="80" y2="80" stroke="#e6e6e6" stroke-width="0.75"/><text transform="translate(278.3 82.5) scale(0.86 1)" font-family="'Liberation Sans', sans-serif" font-size="7" fill="#4d4d4d" text-anchor="end">0.0</text><line x1="281.4" x2="519.5" y1="92.6" y2="92.6" stroke="#e6e6e6" stroke-width="0.75"/><text transform="translate(278.3 95.1) scale(0.86 1)" font-family="'Liberation Sans', sans-serif" font-size="7" fill="#4d4d4d" text-anchor="end">-2.5</text><line x1="295.7" x2="295.7" y1="26.5" y2="96.3" stroke="#e6e6e6" stroke-width="0.75"/><line x1="342.4" x2="342.4" y1="26.5" y2="96.3" stroke="#e6e6e6" stroke-width="0.75"/><line x1="389.1" x2="389.1" y1="26.5" y2="96.3" stroke="#e6e6e6" stroke-width="0.75"/><line x1="435.8" x2="435.8" y1="26.5" y2="96.3" stroke="#e6e6e6" stroke-width="0.75"/><line x1="482.5" x2="482.5" y1="26.5" y2="96.3" stroke="#e6e6e6" stroke-width="0.75"/><line x1="319.1" x2="319.1" y1="26.5" y2="96.3" stroke="#e6e6e6" stroke-width="0.75"/><line x1="365.8" x2="365.8" y1="26.5" y2="96.3" stroke="#e6e6e6" stroke-width="0.75"/><line x1="412.5" x2="412.5" y1="26.5" y2="96.3" stroke="#e6e6e6" stroke-width="0.75"/><line x1="459.2" x2="459.2" y1="26.5" y2="96.3" stroke="#e6e6e6" stroke-width="0.75"/><line x1="505.9" x2="505.9" y1="26.5" y2="96.3" stroke="#e6e6e6" stroke-width="0.75"/><line x1="330.5" x2="330.5" y1="26.5" y2="96.3" stroke="#ababab" stroke-width="0.85" stroke-dasharray="3.8 2.4"/><line x1="377.2" x2="377.2" y1="26.5" y2="96.3" stroke="#ababab" stroke-width="0.85" stroke-dasharray="3.8 2.4"/><line x1="423.9" x2="423.9" y1="26.5" y2="96.3" stroke="#ababab" stroke-width="0.85" stroke-dasharray="3.8 2.4"/><line x1="470.6" x2="470.6" y1="26.5" y2="96.3" stroke="#ababab" stroke-width="0.85" stroke-dasharray="3.8 2.4"/><text x="281.8" y="23.5" font-family="'Liberation Sans', sans-serif" font-size="7.2" fill="#000">Mean human density (logged)</text><text transform="translate(262.1 29.1) scale(1 1)" font-family="'Liberation Sans', sans-serif" font-size="10.4" font-weight="bold" fill="#000">C</text><rect x="285.6" y="55.5" width="20.2" height="34.8" rx="1.4" fill="#f9a33c"/><g fill="#f9a33c"><circle cx="287.2" cy="54.7" r="1.45" fill-opacity="0.85"/><circle cx="289.1" cy="55.3" r="1.45" fill-opacity="0.85"/><circle cx="290.2" cy="54.7" r="1.45" fill-opacity="0.85"/><circle cx="291.5" cy="54.8" r="1.45" fill-opacity="0.85"/><circle cx="294.2" cy="55.1" r="1.45" fill-opacity="0.85"/><circle cx="295.3" cy="55.2" r="1.45" fill-opacity="0.85"/><circle cx="296.9" cy="55.1" r="1.45" fill-opacity="0.85"/><circle cx="298.9" cy="55" r="1.45" fill-opacity="0.85"/><circle cx="301.3" cy="54.8" r="1.45" fill-opacity="0.85"/><circle cx="302.5" cy="54.6" r="1.45" fill-opacity="0.85"/><circle cx="303.6" cy="55.4" r="1.45" fill-opacity="0.85"/><circle cx="287.2" cy="90.3" r="1.45" fill-opacity="0.85"/><circle cx="288.1" cy="90.8" r="1.45" fill-opacity="0.85"/><circle cx="290.4" cy="91.1" r="1.45" fill-opacity="0.85"/><circle cx="292.3" cy="90.8" r="1.45" fill-opacity="0.85"/><circle cx="293.8" cy="90.5" r="1.45" fill-opacity="0.85"/><circle cx="294.9" cy="90.5" r="1.45" fill-opacity="0.85"/><circle cx="297.5" cy="90.5" r="1.45" fill-opacity="0.85"/><circle cx="298.7" cy="90.3" r="1.45" fill-opacity="0.85"/><circle cx="301.1" cy="90.4" r="1.45" fill-opacity="0.85"/><circle cx="302" cy="91.1" r="1.45" fill-opacity="0.85"/><circle cx="304" cy="91.1" r="1.45" fill-opacity="0.85"/><circle cx="286.5" cy="56.7" r="1.45" fill-opacity="0.9"/><circle cx="286.5" cy="59" r="1.45" fill-opacity="0.9"/><circle cx="286.2" cy="61.3" r="1.45" fill-opacity="0.9"/><circle cx="286.4" cy="63.6" r="1.45" fill-opacity="0.9"/><circle cx="286.4" cy="65.9" r="1.45" fill-opacity="0.9"/><circle cx="286.6" cy="68.3" r="1.45" fill-opacity="0.9"/><circle cx="286.3" cy="70.6" r="1.45" fill-opacity="0.9"/><circle cx="286.4" cy="72.9" r="1.45" fill-opacity="0.9"/><circle cx="286.2" cy="75.2" r="1.45" fill-opacity="0.9"/><circle cx="286.3" cy="77.5" r="1.45" fill-opacity="0.9"/><circle cx="286.3" cy="79.9" r="1.45" fill-opacity="0.9"/><circle cx="286.2" cy="82.2" r="1.45" fill-opacity="0.9"/><circle cx="286.6" cy="84.5" r="1.45" fill-opacity="0.9"/><circle cx="286.3" cy="86.8" r="1.45" fill-opacity="0.9"/><circle cx="286.6" cy="89.1" r="1.45" fill-opacity="0.9"/><circle cx="305" cy="56.7" r="1.45" fill-opacity="0.9"/><circle cx="305.1" cy="59" r="1.45" fill-opacity="0.9"/><circle cx="305.1" cy="61.3" r="1.45" fill-opacity="0.9"/><circle cx="305.1" cy="63.6" r="1.45" fill-opacity="0.9"/><circle cx="304.8" cy="65.9" r="1.45" fill-opacity="0.9"/><circle cx="305" cy="68.3" r="1.45" fill-opacity="0.9"/><circle cx="304.9" cy="70.6" r="1.45" fill-opacity="0.9"/><circle cx="305" cy="72.9" r="1.45" fill-opacity="0.9"/><circle cx="304.8" cy="75.2" r="1.45" fill-opacity="0.9"/><circle cx="305.2" cy="77.5" r="1.45" fill-opacity="0.9"/><circle cx="304.9" cy="79.9" r="1.45" fill-opacity="0.9"/><circle cx="305.1" cy="82.2" r="1.45" fill-opacity="0.9"/><circle cx="304.9" cy="84.5" r="1.45" fill-opacity="0.9"/><circle cx="305.2" cy="86.8" r="1.45" fill-opacity="0.9"/><circle cx="305.1" cy="89.1" r="1.45" fill-opacity="0.9"/><circle cx="302.1" cy="44.1" r="1.5" fill-opacity="0.6"/><circle cx="303.2" cy="54.8" r="1.5" fill-opacity="0.6"/><circle cx="289.1" cy="49.9" r="1.5" fill-opacity="0.6"/><circle cx="303.6" cy="44.9" r="1.5" fill-opacity="0.6"/><circle cx="289.8" cy="49.6" r="1.5" fill-opacity="0.6"/><circle cx="298.3" cy="54" r="1.5" fill-opacity="0.6"/><circle cx="293.4" cy="49.9" r="1.5" fill-opacity="0.6"/><circle cx="290.9" cy="47.8" r="1.5" fill-opacity="0.6"/><circle cx="302.7" cy="42.9" r="1.5" fill-opacity="0.6"/><circle cx="296.6" cy="48.5" r="1.5" fill-opacity="0.6"/><circle cx="300.3" cy="46.6" r="1.5" fill-opacity="0.6"/><circle cx="293.3" cy="42.7" r="1.5" fill-opacity="0.6"/><circle cx="288.7" cy="42.8" r="1.5" fill-opacity="0.6"/><circle cx="298.6" cy="55.1" r="1.5" fill-opacity="0.6"/><circle cx="296.1" cy="48" r="1.5" fill-opacity="0.6"/><circle cx="292.8" cy="53.8" r="1.5" fill-opacity="0.6"/><circle cx="299.1" cy="50.1" r="1.5" fill-opacity="0.6"/><circle cx="296.1" cy="47.1" r="1.5" fill-opacity="0.6"/><circle cx="303.3" cy="52.4" r="1.5" fill-opacity="0.6"/><circle cx="303.7" cy="44.4" r="1.5" fill-opacity="0.6"/><circle cx="300.4" cy="42.5" r="1.5" fill-opacity="0.6"/><circle cx="289" cy="53" r="1.5" fill-opacity="0.6"/><circle cx="301.5" cy="47.9" r="1.5" fill-opacity="0.6"/><circle cx="298.1" cy="42.6" r="1.5" fill-opacity="0.6"/></g><g fill="#fff" fill-opacity="0.38"><circle cx="295.9" cy="59.1" r="1.6"/><circle cx="290.6" cy="56.5" r="1.3"/><circle cx="293.1" cy="56.3" r="1.8"/><circle cx="293" cy="58.1" r="1.2"/><circle cx="294.8" cy="59.8" r="1.8"/><circle cx="296.1" cy="57.8" r="1.7"/><circle cx="297.1" cy="58.8" r="1.3"/><circle cx="294.2" cy="59.5" r="1.7"/><circle cx="294.5" cy="55.8" r="1.4"/><circle cx="291.5" cy="59.8" r="1.6"/><circle cx="299.4" cy="58.5" r="1.5"/><circle cx="292.9" cy="59.9" r="1.3"/><circle cx="288.1" cy="56.4" r="1.2"/><circle cx="301.5" cy="59.6" r="1.1"/><circle cx="295.3" cy="85" r="1.5"/><circle cx="292.4" cy="85.1" r="1.8"/><circle cx="297.9" cy="84.9" r="1.5"/><circle cx="288.3" cy="84.5" r="1.3"/><circle cx="301.1" cy="85.3" r="1.6"/><circle cx="302.7" cy="84.4" r="1.6"/><circle cx="296.1" cy="85.4" r="1.7"/><circle cx="287.7" cy="84.3" r="1"/><circle cx="291.4" cy="84.6" r="1.2"/></g><rect x="285.6" y="72.7" width="20.2" height="2.5" fill="#a9a9a9"/><rect x="309" y="59.7" width="20.2" height="29.6" rx="1.4" fill="#238b22"/><g fill="#238b22"><circle cx="310.6" cy="59.7" r="1.45" fill-opacity="0.85"/><circle cx="312.3" cy="59.6" r="1.45" fill-opacity="0.85"/><circle cx="314.1" cy="59.7" r="1.45" fill-opacity="0.85"/><circle cx="315.3" cy="58.9" r="1.45" fill-opacity="0.85"/><circle cx="317.3" cy="59" r="1.45" fill-opacity="0.85"/><circle cx="319.1" cy="59.2" r="1.45" fill-opacity="0.85"/><circle cx="320.2" cy="59.2" r="1.45" fill-opacity="0.85"/><circle cx="321.7" cy="59" r="1.45" fill-opacity="0.85"/><circle cx="324.6" cy="58.9" r="1.45" fill-opacity="0.85"/><circle cx="325.1" cy="59.4" r="1.45" fill-opacity="0.85"/><circle cx="327.1" cy="59.6" r="1.45" fill-opacity="0.85"/><circle cx="310.6" cy="90" r="1.45" fill-opacity="0.85"/><circle cx="311.9" cy="90.1" r="1.45" fill-opacity="0.85"/><circle cx="314.3" cy="89.4" r="1.45" fill-opacity="0.85"/><circle cx="315.9" cy="90.1" r="1.45" fill-opacity="0.85"/><circle cx="316.8" cy="89.8" r="1.45" fill-opacity="0.85"/><circle cx="319.1" cy="89.8" r="1.45" fill-opacity="0.85"/><circle cx="320.1" cy="89.9" r="1.45" fill-opacity="0.85"/><circle cx="322.5" cy="90" r="1.45" fill-opacity="0.85"/><circle cx="324.4" cy="89.6" r="1.45" fill-opacity="0.85"/><circle cx="326" cy="90.1" r="1.45" fill-opacity="0.85"/><circle cx="327.9" cy="89.4" r="1.45" fill-opacity="0.85"/><circle cx="309.6" cy="60.8" r="1.45" fill-opacity="0.9"/><circle cx="309.9" cy="63.1" r="1.45" fill-opacity="0.9"/><circle cx="309.7" cy="65.4" r="1.45" fill-opacity="0.9"/><circle cx="309.8" cy="67.7" r="1.45" fill-opacity="0.9"/><circle cx="310" cy="69.9" r="1.45" fill-opacity="0.9"/><circle cx="309.7" cy="72.2" r="1.45" fill-opacity="0.9"/><circle cx="309.7" cy="74.5" r="1.45" fill-opacity="0.9"/><circle cx="309.8" cy="76.8" r="1.45" fill-opacity="0.9"/><circle cx="309.9" cy="79.1" r="1.45" fill-opacity="0.9"/><circle cx="309.6" cy="81.3" r="1.45" fill-opacity="0.9"/><circle cx="309.7" cy="83.6" r="1.45" fill-opacity="0.9"/><circle cx="309.6" cy="85.9" r="1.45" fill-opacity="0.9"/><circle cx="309.9" cy="88.2" r="1.45" fill-opacity="0.9"/><circle cx="328.6" cy="60.8" r="1.45" fill-opacity="0.9"/><circle cx="328.3" cy="63.1" r="1.45" fill-opacity="0.9"/><circle cx="328.3" cy="65.4" r="1.45" fill-opacity="0.9"/><circle cx="328.4" cy="67.7" r="1.45" fill-opacity="0.9"/><circle cx="328.3" cy="69.9" r="1.45" fill-opacity="0.9"/><circle cx="328.3" cy="72.2" r="1.45" fill-opacity="0.9"/><circle cx="328.3" cy="74.5" r="1.45" fill-opacity="0.9"/><circle cx="328.4" cy="76.8" r="1.45" fill-opacity="0.9"/><circle cx="328.2" cy="79.1" r="1.45" fill-opacity="0.9"/><circle cx="328.5" cy="81.3" r="1.45" fill-opacity="0.9"/><circle cx="328.4" cy="83.6" r="1.45" fill-opacity="0.9"/><circle cx="328.3" cy="85.9" r="1.45" fill-opacity="0.9"/><circle cx="328.2" cy="88.2" r="1.45" fill-opacity="0.9"/><circle cx="312.3" cy="56.4" r="1.5" fill-opacity="0.6"/><circle cx="312.3" cy="47.7" r="1.5" fill-opacity="0.6"/><circle cx="326.6" cy="47" r="1.5" fill-opacity="0.6"/><circle cx="315.5" cy="49.6" r="1.5" fill-opacity="0.6"/><circle cx="321.3" cy="57.4" r="1.5" fill-opacity="0.6"/><circle cx="317.9" cy="48.5" r="1.5" fill-opacity="0.6"/><circle cx="316.8" cy="58.1" r="1.5" fill-opacity="0.6"/><circle cx="311.6" cy="55.7" r="1.5" fill-opacity="0.6"/><circle cx="324.2" cy="55.9" r="1.5" fill-opacity="0.6"/><circle cx="322.3" cy="57.3" r="1.5" fill-opacity="0.6"/><circle cx="311" cy="51" r="1.5" fill-opacity="0.6"/><circle cx="323.9" cy="53.1" r="1.5" fill-opacity="0.6"/><circle cx="314.8" cy="48.5" r="1.5" fill-opacity="0.6"/><circle cx="323.7" cy="53.3" r="1.5" fill-opacity="0.6"/><circle cx="312.2" cy="58.3" r="1.5" fill-opacity="0.6"/><circle cx="324.6" cy="48.4" r="1.5" fill-opacity="0.6"/><circle cx="323.2" cy="54.8" r="1.5" fill-opacity="0.6"/><circle cx="327.2" cy="59.7" r="1.5" fill-opacity="0.6"/><circle cx="324.2" cy="57.5" r="1.5" fill-opacity="0.6"/><circle cx="321.7" cy="51.4" r="1.5" fill-opacity="0.6"/><circle cx="323.9" cy="48.4" r="1.5" fill-opacity="0.6"/><circle cx="323.2" cy="56.4" r="1.5" fill-opacity="0.6"/><circle cx="316.8" cy="52" r="1.5" fill-opacity="0.6"/><circle cx="310.5" cy="51.7" r="1.5" fill-opacity="0.6"/></g><g fill="#fff" fill-opacity="0.38"><circle cx="319.8" cy="63.3" r="1.3"/><circle cx="322.9" cy="62.1" r="1.3"/><circle cx="326.2" cy="63.3" r="1.3"/><circle cx="323.5" cy="60.3" r="1.8"/><circle cx="322.7" cy="60.3" r="1.7"/><circle cx="312.7" cy="63.7" r="1.1"/><circle cx="312.6" cy="63.9" r="1.1"/><circle cx="318.2" cy="62.2" r="1.6"/><circle cx="326.1" cy="60.5" r="1.2"/><circle cx="311.7" cy="63" r="1.4"/><circle cx="315.9" cy="59.8" r="1.2"/><circle cx="318.3" cy="62.8" r="1"/><circle cx="325.7" cy="85.6" r="1.7"/><circle cx="317.3" cy="84.5" r="1.2"/><circle cx="311.2" cy="84.4" r="1.4"/><circle cx="313.6" cy="84.4" r="1.7"/><circle cx="313.7" cy="84.9" r="1.5"/><circle cx="319.6" cy="84.6" r="1.2"/><circle cx="321.3" cy="84.9" r="1.4"/><circle cx="324" cy="84.8" r="1.7"/><circle cx="312.9" cy="84.5" r="1.1"/></g><rect x="309" y="75.8" width="20.2" height="2.5" fill="#a9a9a9"/><rect x="332.3" y="38.5" width="20.2" height="35.5" rx="1.4" fill="#f9a33c"/><g fill="#f9a33c"><circle cx="334.4" cy="37.7" r="1.45" fill-opacity="0.85"/><circle cx="335.1" cy="37.6" r="1.45" fill-opacity="0.85"/><circle cx="336.8" cy="38" r="1.45" fill-opacity="0.85"/><circle cx="338.8" cy="37.7" r="1.45" fill-opacity="0.85"/><circle cx="339.9" cy="38.2" r="1.45" fill-opacity="0.85"/><circle cx="342.4" cy="38.4" r="1.45" fill-opacity="0.85"/><circle cx="343.6" cy="38.1" r="1.45" fill-opacity="0.85"/><circle cx="346.1" cy="37.8" r="1.45" fill-opacity="0.85"/><circle cx="347.7" cy="37.8" r="1.45" fill-opacity="0.85"/><circle cx="349.3" cy="37.7" r="1.45" fill-opacity="0.85"/><circle cx="350.9" cy="37.8" r="1.45" fill-opacity="0.85"/><circle cx="333.5" cy="74.2" r="1.45" fill-opacity="0.85"/><circle cx="335.8" cy="74.1" r="1.45" fill-opacity="0.85"/><circle cx="337.7" cy="74.5" r="1.45" fill-opacity="0.85"/><circle cx="338.6" cy="74.8" r="1.45" fill-opacity="0.85"/><circle cx="340.1" cy="74.5" r="1.45" fill-opacity="0.85"/><circle cx="341.7" cy="74.9" r="1.45" fill-opacity="0.85"/><circle cx="344" cy="74.7" r="1.45" fill-opacity="0.85"/><circle cx="345.3" cy="74.7" r="1.45" fill-opacity="0.85"/><circle cx="347.6" cy="74.6" r="1.45" fill-opacity="0.85"/><circle cx="349.6" cy="74.4" r="1.45" fill-opacity="0.85"/><circle cx="350.6" cy="74.6" r="1.45" fill-opacity="0.85"/><circle cx="333.3" cy="39.6" r="1.45" fill-opacity="0.9"/><circle cx="333" cy="41.8" r="1.45" fill-opacity="0.9"/><circle cx="333.2" cy="44" r="1.45" fill-opacity="0.9"/><circle cx="333" cy="46.3" r="1.45" fill-opacity="0.9"/><circle cx="333.1" cy="48.5" r="1.45" fill-opacity="0.9"/><circle cx="333.2" cy="50.7" r="1.45" fill-opacity="0.9"/><circle cx="332.9" cy="52.9" r="1.45" fill-opacity="0.9"/><circle cx="333.2" cy="55.1" r="1.45" fill-opacity="0.9"/><circle cx="332.9" cy="57.4" r="1.45" fill-opacity="0.9"/><circle cx="333.3" cy="59.6" r="1.45" fill-opacity="0.9"/><circle cx="333.1" cy="61.8" r="1.45" fill-opacity="0.9"/><circle cx="333.1" cy="64" r="1.45" fill-opacity="0.9"/><circle cx="333.2" cy="66.2" r="1.45" fill-opacity="0.9"/><circle cx="333.1" cy="68.5" r="1.45" fill-opacity="0.9"/><circle cx="333.2" cy="70.7" r="1.45" fill-opacity="0.9"/><circle cx="332.9" cy="72.9" r="1.45" fill-opacity="0.9"/><circle cx="351.7" cy="39.6" r="1.45" fill-opacity="0.9"/><circle cx="351.7" cy="41.8" r="1.45" fill-opacity="0.9"/><circle cx="351.9" cy="44" r="1.45" fill-opacity="0.9"/><circle cx="351.5" cy="46.3" r="1.45" fill-opacity="0.9"/><circle cx="351.7" cy="48.5" r="1.45" fill-opacity="0.9"/><circle cx="351.8" cy="50.7" r="1.45" fill-opacity="0.9"/><circle cx="351.7" cy="52.9" r="1.45" fill-opacity="0.9"/><circle cx="351.5" cy="55.1" r="1.45" fill-opacity="0.9"/><circle cx="351.7" cy="57.4" r="1.45" fill-opacity="0.9"/><circle cx="351.6" cy="59.6" r="1.45" fill-opacity="0.9"/><circle cx="351.5" cy="61.8" r="1.45" fill-opacity="0.9"/><circle cx="351.9" cy="64" r="1.45" fill-opacity="0.9"/><circle cx="351.5" cy="66.2" r="1.45" fill-opacity="0.9"/><circle cx="351.7" cy="68.5" r="1.45" fill-opacity="0.9"/><circle cx="351.8" cy="70.7" r="1.45" fill-opacity="0.9"/><circle cx="351.8" cy="72.9" r="1.45" fill-opacity="0.9"/><circle cx="348.1" cy="34.8" r="1.5" fill-opacity="0.6"/><circle cx="344.6" cy="34.1" r="1.5" fill-opacity="0.6"/><circle cx="345.7" cy="37" r="1.5" fill-opacity="0.6"/><circle cx="340.7" cy="35.6" r="1.5" fill-opacity="0.6"/><circle cx="340.5" cy="34.9" r="1.5" fill-opacity="0.6"/><circle cx="340.2" cy="36.4" r="1.5" fill-opacity="0.6"/><circle cx="347.1" cy="34.1" r="1.5" fill-opacity="0.6"/><circle cx="339.4" cy="34.4" r="1.5" fill-opacity="0.6"/><circle cx="340.2" cy="37.1" r="1.5" fill-opacity="0.6"/><circle cx="347.7" cy="37.2" r="1.5" fill-opacity="0.6"/><circle cx="346.3" cy="34" r="1.5" fill-opacity="0.6"/><circle cx="340.4" cy="30.6" r="1.5" fill-opacity="0.6"/><circle cx="343.9" cy="37.4" r="1.5" fill-opacity="0.6"/><circle cx="345.4" cy="34.9" r="1.5" fill-opacity="0.6"/><circle cx="343.9" cy="35.9" r="1.5" fill-opacity="0.6"/><circle cx="336.5" cy="33.7" r="1.5" fill-opacity="0.6"/><circle cx="338.6" cy="77.4" r="1.5" fill-opacity="0.6"/><circle cx="351.6" cy="79" r="1.5" fill-opacity="0.6"/><circle cx="341.4" cy="78.1" r="1.5" fill-opacity="0.6"/><circle cx="343.9" cy="78.3" r="1.5" fill-opacity="0.6"/><circle cx="349.6" cy="85" r="1.5" fill-opacity="0.6"/><circle cx="338.1" cy="78.4" r="1.5" fill-opacity="0.6"/><circle cx="342.3" cy="84.3" r="1.5" fill-opacity="0.6"/><circle cx="334.5" cy="82" r="1.5" fill-opacity="0.6"/><circle cx="338.9" cy="84.1" r="1.5" fill-opacity="0.6"/><circle cx="336.8" cy="79.7" r="1.5" fill-opacity="0.6"/><circle cx="348.5" cy="78.9" r="1.5" fill-opacity="0.6"/><circle cx="341.9" cy="83.6" r="1.5" fill-opacity="0.6"/><circle cx="341.6" cy="82.9" r="1.5" fill-opacity="0.6"/><circle cx="343.2" cy="78.3" r="1.5" fill-opacity="0.6"/><circle cx="339" cy="76.3" r="1.5" fill-opacity="0.6"/><circle cx="347.4" cy="82.2" r="1.5" fill-opacity="0.6"/><circle cx="346.7" cy="74.7" r="1.5" fill-opacity="0.6"/><circle cx="341.4" cy="83.5" r="1.5" fill-opacity="0.6"/><circle cx="345.8" cy="74.7" r="1.5" fill-opacity="0.6"/><circle cx="345.1" cy="76.9" r="1.5" fill-opacity="0.6"/><circle cx="344.9" cy="78.4" r="1.5" fill-opacity="0.6"/><circle cx="342" cy="77" r="1.5" fill-opacity="0.6"/><circle cx="344.8" cy="80.1" r="1.5" fill-opacity="0.6"/><circle cx="350.9" cy="76.4" r="1.5" fill-opacity="0.6"/></g><g fill="#fff" fill-opacity="0.38"><circle cx="339.1" cy="71.2" r="1.2"/><circle cx="341.1" cy="70.3" r="1.6"/><circle cx="337.2" cy="72.8" r="1.1"/><circle cx="347" cy="71.3" r="1.4"/><circle cx="345.1" cy="73.7" r="1.5"/><circle cx="346.7" cy="73.1" r="1.3"/><circle cx="341.3" cy="71" r="1.4"/><circle cx="341.4" cy="70.6" r="1.5"/><circle cx="336.2" cy="70.5" r="1.1"/><circle cx="350.2" cy="71.1" r="1"/></g><rect x="332.3" y="57" width="20.2" height="2.5" fill="#a9a9a9"/><rect x="355.7" y="45" width="20.2" height="29.4" rx="1.4" fill="#238b22"/><g fill="#238b22"><circle cx="356.7" cy="44.9" r="1.45" fill-opacity="0.85"/><circle cx="358.8" cy="45" r="1.45" fill-opacity="0.85"/><circle cx="360.5" cy="44.9" r="1.45" fill-opacity="0.85"/><circle cx="361.9" cy="44.3" r="1.45" fill-opacity="0.85"/><circle cx="363.5" cy="44.4" r="1.45" fill-opacity="0.85"/><circle cx="365.5" cy="44.6" r="1.45" fill-opacity="0.85"/><circle cx="367.8" cy="44.9" r="1.45" fill-opacity="0.85"/><circle cx="369.6" cy="44.2" r="1.45" fill-opacity="0.85"/><circle cx="370.9" cy="45" r="1.45" fill-opacity="0.85"/><circle cx="372.6" cy="44.5" r="1.45" fill-opacity="0.85"/><circle cx="374.5" cy="44.8" r="1.45" fill-opacity="0.85"/><circle cx="357.8" cy="75.2" r="1.45" fill-opacity="0.85"/><circle cx="358.3" cy="74.7" r="1.45" fill-opacity="0.85"/><circle cx="359.9" cy="75.1" r="1.45" fill-opacity="0.85"/><circle cx="362.8" cy="75.3" r="1.45" fill-opacity="0.85"/><circle cx="364.1" cy="75" r="1.45" fill-opacity="0.85"/><circle cx="365.9" cy="74.9" r="1.45" fill-opacity="0.85"/><circle cx="367.9" cy="74.9" r="1.45" fill-opacity="0.85"/><circle cx="368.8" cy="74.9" r="1.45" fill-opacity="0.85"/><circle cx="370.1" cy="75.1" r="1.45" fill-opacity="0.85"/><circle cx="372.7" cy="74.8" r="1.45" fill-opacity="0.85"/><circle cx="374.6" cy="75.1" r="1.45" fill-opacity="0.85"/><circle cx="356.4" cy="46.1" r="1.45" fill-opacity="0.9"/><circle cx="356.3" cy="48.4" r="1.45" fill-opacity="0.9"/><circle cx="356.3" cy="50.7" r="1.45" fill-opacity="0.9"/><circle cx="356.3" cy="52.9" r="1.45" fill-opacity="0.9"/><circle cx="356.4" cy="55.2" r="1.45" fill-opacity="0.9"/><circle cx="356.5" cy="57.4" r="1.45" fill-opacity="0.9"/><circle cx="356.7" cy="59.7" r="1.45" fill-opacity="0.9"/><circle cx="356.4" cy="62" r="1.45" fill-opacity="0.9"/><circle cx="356.7" cy="64.2" r="1.45" fill-opacity="0.9"/><circle cx="356.6" cy="66.5" r="1.45" fill-opacity="0.9"/><circle cx="356.7" cy="68.7" r="1.45" fill-opacity="0.9"/><circle cx="356.5" cy="71" r="1.45" fill-opacity="0.9"/><circle cx="356.3" cy="73.3" r="1.45" fill-opacity="0.9"/><circle cx="375.2" cy="46.1" r="1.45" fill-opacity="0.9"/><circle cx="375" cy="48.4" r="1.45" fill-opacity="0.9"/><circle cx="374.9" cy="50.7" r="1.45" fill-opacity="0.9"/><circle cx="375.2" cy="52.9" r="1.45" fill-opacity="0.9"/><circle cx="375.2" cy="55.2" r="1.45" fill-opacity="0.9"/><circle cx="375" cy="57.4" r="1.45" fill-opacity="0.9"/><circle cx="375" cy="59.7" r="1.45" fill-opacity="0.9"/><circle cx="375.3" cy="62" r="1.45" fill-opacity="0.9"/><circle cx="375" cy="64.2" r="1.45" fill-opacity="0.9"/><circle cx="375.2" cy="66.5" r="1.45" fill-opacity="0.9"/><circle cx="374.9" cy="68.7" r="1.45" fill-opacity="0.9"/><circle cx="375.3" cy="71" r="1.45" fill-opacity="0.9"/><circle cx="374.9" cy="73.3" r="1.45" fill-opacity="0.9"/><circle cx="357.2" cy="41.7" r="1.5" fill-opacity="0.6"/><circle cx="372.2" cy="41.9" r="1.5" fill-opacity="0.6"/><circle cx="361.6" cy="38.7" r="1.5" fill-opacity="0.6"/><circle cx="367.8" cy="43.4" r="1.5" fill-opacity="0.6"/><circle cx="368.2" cy="40.3" r="1.5" fill-opacity="0.6"/><circle cx="372.5" cy="41.2" r="1.5" fill-opacity="0.6"/><circle cx="370.6" cy="40.1" r="1.5" fill-opacity="0.6"/><circle cx="370.2" cy="42.5" r="1.5" fill-opacity="0.6"/><circle cx="370" cy="40.7" r="1.5" fill-opacity="0.6"/><circle cx="363.7" cy="42.9" r="1.5" fill-opacity="0.6"/><circle cx="374.4" cy="74.7" r="1.5" fill-opacity="0.6"/><circle cx="360.3" cy="83.7" r="1.5" fill-opacity="0.6"/><circle cx="361.7" cy="83.9" r="1.5" fill-opacity="0.6"/><circle cx="372.5" cy="80.5" r="1.5" fill-opacity="0.6"/><circle cx="361.9" cy="80.2" r="1.5" fill-opacity="0.6"/><circle cx="358" cy="78.4" r="1.5" fill-opacity="0.6"/><circle cx="361.6" cy="77.3" r="1.5" fill-opacity="0.6"/><circle cx="357.7" cy="76.6" r="1.5" fill-opacity="0.6"/><circle cx="360.5" cy="80.5" r="1.5" fill-opacity="0.6"/><circle cx="373.6" cy="84" r="1.5" fill-opacity="0.6"/><circle cx="367.1" cy="77.9" r="1.5" fill-opacity="0.6"/><circle cx="357.9" cy="81" r="1.5" fill-opacity="0.6"/><circle cx="372.9" cy="76" r="1.5" fill-opacity="0.6"/><circle cx="371.4" cy="80.6" r="1.5" fill-opacity="0.6"/><circle cx="367.6" cy="75.3" r="1.5" fill-opacity="0.6"/><circle cx="372.6" cy="85.6" r="1.5" fill-opacity="0.6"/><circle cx="366.2" cy="74.5" r="1.5" fill-opacity="0.6"/><circle cx="370.6" cy="79.2" r="1.5" fill-opacity="0.6"/><circle cx="361.5" cy="75.4" r="1.5" fill-opacity="0.6"/><circle cx="365.2" cy="85" r="1.5" fill-opacity="0.6"/><circle cx="374.5" cy="80.3" r="1.5" fill-opacity="0.6"/><circle cx="357.3" cy="78.6" r="1.5" fill-opacity="0.6"/><circle cx="359.4" cy="79.5" r="1.5" fill-opacity="0.6"/><circle cx="367.1" cy="75.5" r="1.5" fill-opacity="0.6"/><circle cx="367.3" cy="86.8" r="1.5" fill-opacity="0.6"/><circle cx="362.5" cy="82.8" r="1.5" fill-opacity="0.6"/></g><g fill="#fff" fill-opacity="0.38"><circle cx="370.1" cy="47.3" r="1.5"/><circle cx="366.7" cy="48.2" r="1.2"/><circle cx="365.6" cy="47.3" r="1.1"/><circle cx="371.2" cy="47.5" r="1.1"/><circle cx="369.8" cy="47.2" r="1.3"/><circle cx="363.6" cy="46.1" r="1.4"/><circle cx="366.8" cy="47.7" r="1.1"/><circle cx="373" cy="48.3" r="1.1"/><circle cx="360.3" cy="71.1" r="1.7"/><circle cx="358.1" cy="74" r="1.3"/><circle cx="365.3" cy="70.8" r="1.7"/><circle cx="360.2" cy="70.3" r="1.4"/><circle cx="370" cy="72.3" r="1.4"/><circle cx="363.3" cy="70.6" r="1.8"/><circle cx="359.3" cy="73.3" r="1.6"/><circle cx="370.6" cy="71.4" r="1"/><circle cx="360.1" cy="73.8" r="1.4"/><circle cx="365.9" cy="72.9" r="1.1"/></g><rect x="355.7" y="62" width="20.2" height="2.5" fill="#a9a9a9"/><g fill="#f9a33c" fill-opacity="0.65"><circle cx="382.5" cy="67" r="1.5"/><circle cx="380.9" cy="65.8" r="1.5"/><circle cx="382.3" cy="69.8" r="1.5"/><circle cx="386.5" cy="71.4" r="1.5"/><circle cx="385.1" cy="60.8" r="1.5"/><circle cx="386" cy="73.4" r="1.5"/><circle cx="384.6" cy="68.9" r="1.5"/><circle cx="393.8" cy="69" r="1.5"/><circle cx="396.2" cy="75.2" r="1.5"/><circle cx="385.6" cy="73.2" r="1.5"/><circle cx="384.6" cy="64.1" r="1.5"/><circle cx="388" cy="71.6" r="1.5"/><circle cx="397.1" cy="64.2" r="1.5"/><circle cx="393" cy="70" r="1.5"/><circle cx="382.3" cy="75.7" r="1.5"/><circle cx="392.7" cy="63.8" r="1.5"/><circle cx="396.6" cy="63.2" r="1.5"/><circle cx="381.6" cy="67.8" r="1.5"/><circle cx="397.2" cy="60.8" r="1.5"/><circle cx="396.8" cy="71.7" r="1.5"/><circle cx="381.1" cy="71.2" r="1.5"/><circle cx="388.3" cy="71.1" r="1.5"/><circle cx="393.5" cy="72.5" r="1.5"/><circle cx="398.2" cy="64.5" r="1.5"/><circle cx="394.9" cy="69" r="1.5"/><circle cx="394.3" cy="74.9" r="1.5"/><circle cx="398.2" cy="66.7" r="1.5"/><circle cx="388.2" cy="75.4" r="1.5"/><circle cx="397.3" cy="68.5" r="1.5"/><circle cx="397.2" cy="69" r="1.5"/><circle cx="386.8" cy="73.4" r="1.5"/><circle cx="388.6" cy="69.6" r="1.5"/><circle cx="387" cy="69.4" r="1.5"/><circle cx="382.5" cy="61.9" r="1.5"/><circle cx="393.8" cy="71.1" r="1.5"/><circle cx="392.3" cy="73.9" r="1.5"/><circle cx="384.1" cy="66.1" r="1.5"/><circle cx="385" cy="67.3" r="1.5"/><circle cx="393.9" cy="68.5" r="1.5"/><circle cx="385.8" cy="72" r="1.5"/><circle cx="383.3" cy="63.2" r="1.5"/><circle cx="392.7" cy="73.4" r="1.5"/><circle cx="385.4" cy="72" r="1.5"/><circle cx="380.5" cy="68.9" r="1.5"/><circle cx="390.5" cy="66.5" r="1.5"/><circle cx="386.3" cy="71.7" r="1.5"/><circle cx="390.8" cy="64.4" r="1.5"/><circle cx="392.9" cy="62.5" r="1.5"/><circle cx="397.7" cy="65.5" r="1.5"/><circle cx="384.6" cy="65.4" r="1.5"/><circle cx="398.1" cy="67.1" r="1.5"/><circle cx="391" cy="75.9" r="1.5"/><circle cx="397.4" cy="61.2" r="1.5"/><circle cx="389.5" cy="71.6" r="1.5"/><circle cx="392.8" cy="67.9" r="1.5"/><circle cx="385.9" cy="58.9" r="1.5"/><circle cx="380.5" cy="71" r="1.5"/><circle cx="381.3" cy="65.5" r="1.5"/><circle cx="386" cy="62.2" r="1.5"/><circle cx="380.5" cy="75.3" r="1.5"/><circle cx="387.9" cy="65.5" r="1.5"/><circle cx="392.9" cy="59.4" r="1.5"/><circle cx="384.4" cy="75.6" r="1.5"/><circle cx="396.4" cy="72" r="1.5"/><circle cx="381.6" cy="67.6" r="1.5"/><circle cx="380.4" cy="65.8" r="1.5"/><circle cx="380.4" cy="63.8" r="1.5"/><circle cx="391.6" cy="63.1" r="1.5"/><circle cx="382.8" cy="75" r="1.5"/><circle cx="386.1" cy="67.8" r="1.5"/><circle cx="381.5" cy="73.9" r="1.5"/><circle cx="392.3" cy="70.9" r="1.5"/><circle cx="391.3" cy="63.1" r="1.5"/><circle cx="384.7" cy="71.4" r="1.5"/><circle cx="397.4" cy="74.1" r="1.5"/><circle cx="391.7" cy="70.5" r="1.5"/><circle cx="380.2" cy="74.9" r="1.5"/><circle cx="381.1" cy="63.8" r="1.5"/><circle cx="392.7" cy="74.1" r="1.5"/><circle cx="394.4" cy="69.6" r="1.5"/><circle cx="383.2" cy="60.9" r="1.5"/><circle cx="395.6" cy="75.8" r="1.5"/><circle cx="384.4" cy="74.6" r="1.5"/><circle cx="387.3" cy="67.5" r="1.5"/><circle cx="389.2" cy="59.3" r="1.5"/><circle cx="388" cy="65.4" r="1.5"/><circle cx="393" cy="70.3" r="1.5"/><circle cx="395.9" cy="75" r="1.5"/><circle cx="385.7" cy="66.9" r="1.5"/><circle cx="397.2" cy="70.3" r="1.5"/><circle cx="381.7" cy="61.3" r="1.5"/><circle cx="398.1" cy="71.3" r="1.5"/><circle cx="380.9" cy="70.4" r="1.5"/><circle cx="389.2" cy="69.4" r="1.5"/><circle cx="397.4" cy="75.5" r="1.5"/></g><rect x="379" y="72.5" width="20.2" height="19.5" rx="1.4" fill="#f9a33c"/><g fill="#f9a33c"><circle cx="380" cy="72.4" r="1.45" fill-opacity="0.85"/><circle cx="382" cy="71.7" r="1.45" fill-opacity="0.85"/><circle cx="384" cy="71.8" r="1.45" fill-opacity="0.85"/><circle cx="385.7" cy="72.3" r="1.45" fill-opacity="0.85"/><circle cx="387.7" cy="72.5" r="1.45" fill-opacity="0.85"/><circle cx="389.2" cy="72.3" r="1.45" fill-opacity="0.85"/><circle cx="390.6" cy="71.6" r="1.45" fill-opacity="0.85"/><circle cx="392.4" cy="72.4" r="1.45" fill-opacity="0.85"/><circle cx="393.9" cy="71.9" r="1.45" fill-opacity="0.85"/><circle cx="395.1" cy="72.3" r="1.45" fill-opacity="0.85"/><circle cx="396.7" cy="72" r="1.45" fill-opacity="0.85"/><circle cx="380.3" cy="92.5" r="1.45" fill-opacity="0.85"/><circle cx="381.9" cy="92.6" r="1.45" fill-opacity="0.85"/><circle cx="383.4" cy="92.8" r="1.45" fill-opacity="0.85"/><circle cx="386.2" cy="92.4" r="1.45" fill-opacity="0.85"/><circle cx="387.2" cy="92.8" r="1.45" fill-opacity="0.85"/><circle cx="388.6" cy="92.7" r="1.45" fill-opacity="0.85"/><circle cx="390.3" cy="92.6" r="1.45" fill-opacity="0.85"/><circle cx="392.1" cy="92.5" r="1.45" fill-opacity="0.85"/><circle cx="394.6" cy="92" r="1.45" fill-opacity="0.85"/><circle cx="396.1" cy="92.5" r="1.45" fill-opacity="0.85"/><circle cx="397.2" cy="92.3" r="1.45" fill-opacity="0.85"/><circle cx="379.6" cy="73.7" r="1.45" fill-opacity="0.9"/><circle cx="379.7" cy="76.2" r="1.45" fill-opacity="0.9"/><circle cx="379.9" cy="78.6" r="1.45" fill-opacity="0.9"/><circle cx="379.6" cy="81" r="1.45" fill-opacity="0.9"/><circle cx="379.9" cy="83.5" r="1.45" fill-opacity="0.9"/><circle cx="380" cy="85.9" r="1.45" fill-opacity="0.9"/><circle cx="380" cy="88.3" r="1.45" fill-opacity="0.9"/><circle cx="380" cy="90.8" r="1.45" fill-opacity="0.9"/><circle cx="398.6" cy="73.7" r="1.45" fill-opacity="0.9"/><circle cx="398.2" cy="76.2" r="1.45" fill-opacity="0.9"/><circle cx="398.6" cy="78.6" r="1.45" fill-opacity="0.9"/><circle cx="398.3" cy="81" r="1.45" fill-opacity="0.9"/><circle cx="398.6" cy="83.5" r="1.45" fill-opacity="0.9"/><circle cx="398.6" cy="85.9" r="1.45" fill-opacity="0.9"/><circle cx="398.5" cy="88.3" r="1.45" fill-opacity="0.9"/><circle cx="398.4" cy="90.8" r="1.45" fill-opacity="0.9"/><circle cx="389.5" cy="50.8" r="1.5" fill-opacity="0.6"/><circle cx="382.2" cy="51.8" r="1.5" fill-opacity="0.6"/><circle cx="394.7" cy="50" r="1.5" fill-opacity="0.6"/><circle cx="382.5" cy="59.1" r="1.5" fill-opacity="0.6"/><circle cx="384.7" cy="48.7" r="1.5" fill-opacity="0.6"/><circle cx="383.3" cy="50" r="1.5" fill-opacity="0.6"/><circle cx="387.7" cy="55.2" r="1.5" fill-opacity="0.6"/><circle cx="383.7" cy="53.4" r="1.5" fill-opacity="0.6"/><circle cx="385.2" cy="56.1" r="1.5" fill-opacity="0.6"/><circle cx="388.4" cy="53.1" r="1.5" fill-opacity="0.6"/></g><g fill="#fff" fill-opacity="0.38"><circle cx="384.8" cy="90.1" r="1.6"/><circle cx="395.8" cy="78.5" r="1.3"/><circle cx="395.5" cy="82.4" r="1.5"/><circle cx="382.9" cy="74.3" r="1.8"/><circle cx="385.7" cy="73.1" r="1.8"/><circle cx="383.3" cy="72.8" r="1.2"/><circle cx="388.6" cy="74.2" r="1.5"/><circle cx="382.4" cy="78.7" r="1.6"/><circle cx="390.2" cy="88.2" r="1.1"/><circle cx="391.3" cy="83.1" r="1.3"/><circle cx="387.2" cy="89.3" r="1.4"/><circle cx="390.2" cy="74.7" r="1.6"/><circle cx="385" cy="86.8" r="1.8"/><circle cx="387.8" cy="86.5" r="1.3"/><circle cx="383.6" cy="87.7" r="1.5"/><circle cx="389.4" cy="86.5" r="1.7"/></g><rect x="379" y="78.8" width="20.2" height="2.5" fill="#a9a9a9"/><rect x="402.1" y="81.3" width="20.8" height="5.5" fill="#e4e4e4" fill-opacity="0.45" stroke="#a3a3a3" stroke-width="0.9"/><rect x="402.4" y="83.1" width="20.2" height="1.6" fill="#a9a9a9"/><g fill="#238b22" fill-opacity="0.6"><circle cx="411.9" cy="84.9" r="1.5"/><circle cx="408.5" cy="89.2" r="1.5"/><circle cx="409.1" cy="87.1" r="1.5"/><circle cx="410.8" cy="89.4" r="1.5"/><circle cx="420.7" cy="80.7" r="1.5"/><circle cx="421.6" cy="86.2" r="1.5"/><circle cx="404.7" cy="85.2" r="1.5"/><circle cx="404.2" cy="85.7" r="1.5"/><circle cx="406.7" cy="83.9" r="1.5"/><circle cx="408.9" cy="86.2" r="1.5"/><circle cx="418.4" cy="89.4" r="1.5"/><circle cx="409.4" cy="85.9" r="1.5"/><circle cx="403.4" cy="84" r="1.5"/><circle cx="421" cy="81.5" r="1.5"/><circle cx="419.3" cy="86.7" r="1.5"/><circle cx="408.7" cy="87.9" r="1.5"/><circle cx="408.6" cy="89" r="1.5"/><circle cx="404.8" cy="81.5" r="1.5"/><circle cx="417.1" cy="84.7" r="1.5"/><circle cx="406" cy="85.3" r="1.5"/><circle cx="408.8" cy="85.7" r="1.5"/><circle cx="417" cy="88.6" r="1.5"/><circle cx="404.4" cy="86.1" r="1.5"/><circle cx="421.4" cy="84.8" r="1.5"/><circle cx="417.5" cy="81.3" r="1.5"/><circle cx="419.4" cy="86" r="1.5"/></g><rect x="425.7" y="42.4" width="20.2" height="30.1" rx="1.4" fill="#f9a33c"/><g fill="#f9a33c"><circle cx="427.7" cy="41.7" r="1.45" fill-opacity="0.85"/><circle cx="429.4" cy="42.3" r="1.45" fill-opacity="0.85"/><circle cx="430.8" cy="42.2" r="1.45" fill-opacity="0.85"/><circle cx="431.9" cy="42.1" r="1.45" fill-opacity="0.85"/><circle cx="434.1" cy="41.8" r="1.45" fill-opacity="0.85"/><circle cx="436.2" cy="42.4" r="1.45" fill-opacity="0.85"/><circle cx="436.9" cy="42.1" r="1.45" fill-opacity="0.85"/><circle cx="439.4" cy="41.9" r="1.45" fill-opacity="0.85"/><circle cx="440.7" cy="41.7" r="1.45" fill-opacity="0.85"/><circle cx="442.6" cy="42.1" r="1.45" fill-opacity="0.85"/><circle cx="443.5" cy="42" r="1.45" fill-opacity="0.85"/><circle cx="427.7" cy="73" r="1.45" fill-opacity="0.85"/><circle cx="428.3" cy="72.9" r="1.45" fill-opacity="0.85"/><circle cx="430.4" cy="73" r="1.45" fill-opacity="0.85"/><circle cx="432.4" cy="73.4" r="1.45" fill-opacity="0.85"/><circle cx="433.7" cy="72.9" r="1.45" fill-opacity="0.85"/><circle cx="435.8" cy="73.3" r="1.45" fill-opacity="0.85"/><circle cx="437.6" cy="72.9" r="1.45" fill-opacity="0.85"/><circle cx="439.4" cy="72.9" r="1.45" fill-opacity="0.85"/><circle cx="441.3" cy="72.8" r="1.45" fill-opacity="0.85"/><circle cx="441.9" cy="73.2" r="1.45" fill-opacity="0.85"/><circle cx="443.8" cy="73.3" r="1.45" fill-opacity="0.85"/><circle cx="426.6" cy="43.6" r="1.45" fill-opacity="0.9"/><circle cx="426.5" cy="45.9" r="1.45" fill-opacity="0.9"/><circle cx="426.3" cy="48.2" r="1.45" fill-opacity="0.9"/><circle cx="426.6" cy="50.5" r="1.45" fill-opacity="0.9"/><circle cx="426.3" cy="52.8" r="1.45" fill-opacity="0.9"/><circle cx="426.7" cy="55.1" r="1.45" fill-opacity="0.9"/><circle cx="426.7" cy="57.5" r="1.45" fill-opacity="0.9"/><circle cx="426.4" cy="59.8" r="1.45" fill-opacity="0.9"/><circle cx="426.3" cy="62.1" r="1.45" fill-opacity="0.9"/><circle cx="426.7" cy="64.4" r="1.45" fill-opacity="0.9"/><circle cx="426.5" cy="66.7" r="1.45" fill-opacity="0.9"/><circle cx="426.3" cy="69" r="1.45" fill-opacity="0.9"/><circle cx="426.5" cy="71.3" r="1.45" fill-opacity="0.9"/><circle cx="445" cy="43.6" r="1.45" fill-opacity="0.9"/><circle cx="445.1" cy="45.9" r="1.45" fill-opacity="0.9"/><circle cx="445.2" cy="48.2" r="1.45" fill-opacity="0.9"/><circle cx="445.3" cy="50.5" r="1.45" fill-opacity="0.9"/><circle cx="445.3" cy="52.8" r="1.45" fill-opacity="0.9"/><circle cx="444.9" cy="55.1" r="1.45" fill-opacity="0.9"/><circle cx="445.1" cy="57.5" r="1.45" fill-opacity="0.9"/><circle cx="445.1" cy="59.8" r="1.45" fill-opacity="0.9"/><circle cx="445.3" cy="62.1" r="1.45" fill-opacity="0.9"/><circle cx="444.9" cy="64.4" r="1.45" fill-opacity="0.9"/><circle cx="445.1" cy="66.7" r="1.45" fill-opacity="0.9"/><circle cx="445.3" cy="69" r="1.45" fill-opacity="0.9"/><circle cx="445" cy="71.3" r="1.45" fill-opacity="0.9"/><circle cx="436.8" cy="38.6" r="1.5" fill-opacity="0.6"/><circle cx="443.7" cy="38.9" r="1.5" fill-opacity="0.6"/><circle cx="430.4" cy="37.6" r="1.5" fill-opacity="0.6"/><circle cx="439.7" cy="37.6" r="1.5" fill-opacity="0.6"/><circle cx="443.2" cy="38.7" r="1.5" fill-opacity="0.6"/><circle cx="443.9" cy="41.8" r="1.5" fill-opacity="0.6"/><circle cx="426.6" cy="38.5" r="1.5" fill-opacity="0.6"/><circle cx="444.4" cy="39.2" r="1.5" fill-opacity="0.6"/><circle cx="427.7" cy="41.2" r="1.5" fill-opacity="0.6"/><circle cx="443.5" cy="40.9" r="1.5" fill-opacity="0.6"/><circle cx="439.8" cy="42.2" r="1.5" fill-opacity="0.6"/><circle cx="442.1" cy="41.7" r="1.5" fill-opacity="0.6"/><circle cx="428.4" cy="73.5" r="1.5" fill-opacity="0.6"/><circle cx="429.1" cy="74.5" r="1.5" fill-opacity="0.6"/><circle cx="445" cy="73.6" r="1.5" fill-opacity="0.6"/><circle cx="436.2" cy="74.1" r="1.5" fill-opacity="0.6"/><circle cx="431.8" cy="75.2" r="1.5" fill-opacity="0.6"/><circle cx="443.4" cy="75.3" r="1.5" fill-opacity="0.6"/><circle cx="432.6" cy="73.5" r="1.5" fill-opacity="0.6"/><circle cx="443.5" cy="72.9" r="1.5" fill-opacity="0.6"/></g><g fill="#fff" fill-opacity="0.38"><circle cx="427.5" cy="69.7" r="1.7"/><circle cx="438.7" cy="71.1" r="1.6"/><circle cx="428.9" cy="69.1" r="1.4"/><circle cx="435.9" cy="69.2" r="1.6"/><circle cx="437.8" cy="71.3" r="1"/><circle cx="442.6" cy="69.8" r="1.1"/></g><rect x="425.7" y="59.4" width="20.2" height="2.5" fill="#a9a9a9"/><rect x="449.1" y="49.3" width="20.2" height="22.2" rx="1.4" fill="#238b22"/><g fill="#238b22"><circle cx="450.6" cy="49.3" r="1.45" fill-opacity="0.85"/><circle cx="452.9" cy="49.1" r="1.45" fill-opacity="0.85"/><circle cx="453.8" cy="48.8" r="1.45" fill-opacity="0.85"/><circle cx="455.9" cy="48.5" r="1.45" fill-opacity="0.85"/><circle cx="457.7" cy="49" r="1.45" fill-opacity="0.85"/><circle cx="458.5" cy="48.7" r="1.45" fill-opacity="0.85"/><circle cx="461.4" cy="49.3" r="1.45" fill-opacity="0.85"/><circle cx="462.8" cy="49.1" r="1.45" fill-opacity="0.85"/><circle cx="464" cy="48.8" r="1.45" fill-opacity="0.85"/><circle cx="465.9" cy="48.4" r="1.45" fill-opacity="0.85"/><circle cx="467.7" cy="48.9" r="1.45" fill-opacity="0.85"/><circle cx="450.9" cy="71.9" r="1.45" fill-opacity="0.85"/><circle cx="452.1" cy="71.8" r="1.45" fill-opacity="0.85"/><circle cx="453.9" cy="71.8" r="1.45" fill-opacity="0.85"/><circle cx="455.3" cy="71.6" r="1.45" fill-opacity="0.85"/><circle cx="457.3" cy="71.8" r="1.45" fill-opacity="0.85"/><circle cx="459.5" cy="72.3" r="1.45" fill-opacity="0.85"/><circle cx="460.5" cy="72.1" r="1.45" fill-opacity="0.85"/><circle cx="463" cy="71.8" r="1.45" fill-opacity="0.85"/><circle cx="464.2" cy="71.9" r="1.45" fill-opacity="0.85"/><circle cx="466" cy="72.4" r="1.45" fill-opacity="0.85"/><circle cx="467" cy="72.4" r="1.45" fill-opacity="0.85"/><circle cx="450" cy="50.4" r="1.45" fill-opacity="0.9"/><circle cx="450" cy="52.6" r="1.45" fill-opacity="0.9"/><circle cx="450" cy="54.8" r="1.45" fill-opacity="0.9"/><circle cx="450.1" cy="57.1" r="1.45" fill-opacity="0.9"/><circle cx="449.8" cy="59.3" r="1.45" fill-opacity="0.9"/><circle cx="450" cy="61.5" r="1.45" fill-opacity="0.9"/><circle cx="449.8" cy="63.7" r="1.45" fill-opacity="0.9"/><circle cx="449.9" cy="66" r="1.45" fill-opacity="0.9"/><circle cx="450" cy="68.2" r="1.45" fill-opacity="0.9"/><circle cx="449.8" cy="70.4" r="1.45" fill-opacity="0.9"/><circle cx="468.3" cy="50.4" r="1.45" fill-opacity="0.9"/><circle cx="468.6" cy="52.6" r="1.45" fill-opacity="0.9"/><circle cx="468.7" cy="54.8" r="1.45" fill-opacity="0.9"/><circle cx="468.6" cy="57.1" r="1.45" fill-opacity="0.9"/><circle cx="468.4" cy="59.3" r="1.45" fill-opacity="0.9"/><circle cx="468.6" cy="61.5" r="1.45" fill-opacity="0.9"/><circle cx="468.3" cy="63.7" r="1.45" fill-opacity="0.9"/><circle cx="468.6" cy="66" r="1.45" fill-opacity="0.9"/><circle cx="468.5" cy="68.2" r="1.45" fill-opacity="0.9"/><circle cx="468.6" cy="70.4" r="1.45" fill-opacity="0.9"/><circle cx="454.1" cy="44.5" r="1.5" fill-opacity="0.6"/><circle cx="458.5" cy="46.9" r="1.5" fill-opacity="0.6"/><circle cx="456.7" cy="47.1" r="1.5" fill-opacity="0.6"/><circle cx="460" cy="41.5" r="1.5" fill-opacity="0.6"/><circle cx="467" cy="46.1" r="1.5" fill-opacity="0.6"/><circle cx="451" cy="48.3" r="1.5" fill-opacity="0.6"/><circle cx="454.8" cy="47.3" r="1.5" fill-opacity="0.6"/><circle cx="457" cy="46.7" r="1.5" fill-opacity="0.6"/><circle cx="459" cy="43.5" r="1.5" fill-opacity="0.6"/><circle cx="462.8" cy="45.3" r="1.5" fill-opacity="0.6"/><circle cx="462.5" cy="46.2" r="1.5" fill-opacity="0.6"/><circle cx="462.5" cy="44" r="1.5" fill-opacity="0.6"/><circle cx="461.2" cy="43.7" r="1.5" fill-opacity="0.6"/><circle cx="460.4" cy="44.7" r="1.5" fill-opacity="0.6"/><circle cx="459.2" cy="40.9" r="1.5" fill-opacity="0.6"/><circle cx="457.1" cy="42.6" r="1.5" fill-opacity="0.6"/><circle cx="462.1" cy="71.7" r="1.5" fill-opacity="0.6"/><circle cx="456.5" cy="74.1" r="1.5" fill-opacity="0.6"/><circle cx="461.4" cy="71.8" r="1.5" fill-opacity="0.6"/><circle cx="466.4" cy="71.9" r="1.5" fill-opacity="0.6"/><circle cx="456.6" cy="71.9" r="1.5" fill-opacity="0.6"/><circle cx="452.1" cy="72.9" r="1.5" fill-opacity="0.6"/><circle cx="455" cy="72.4" r="1.5" fill-opacity="0.6"/><circle cx="468.2" cy="73.6" r="1.5" fill-opacity="0.6"/></g><g fill="#fff" fill-opacity="0.38"><circle cx="464.1" cy="50.6" r="1.1"/><circle cx="458.1" cy="51.4" r="1.2"/><circle cx="463.4" cy="52.3" r="1.1"/><circle cx="464.6" cy="50.4" r="1.8"/><circle cx="465.5" cy="51.6" r="1.8"/><circle cx="461.7" cy="52" r="1.2"/><circle cx="461.3" cy="50.7" r="1.7"/><circle cx="457.4" cy="50.4" r="1"/></g><rect x="449.1" y="60.8" width="20.2" height="2.5" fill="#a9a9a9"/><rect x="472.4" y="39.8" width="20.2" height="37.2" rx="1.4" fill="#f9a33c"/><g fill="#f9a33c"><circle cx="474.1" cy="39.4" r="1.45" fill-opacity="0.85"/><circle cx="476" cy="39.6" r="1.45" fill-opacity="0.85"/><circle cx="477.5" cy="39.2" r="1.45" fill-opacity="0.85"/><circle cx="478.9" cy="39.6" r="1.45" fill-opacity="0.85"/><circle cx="480.5" cy="39.1" r="1.45" fill-opacity="0.85"/><circle cx="481.9" cy="39.7" r="1.45" fill-opacity="0.85"/><circle cx="484" cy="39.6" r="1.45" fill-opacity="0.85"/><circle cx="486.1" cy="39.1" r="1.45" fill-opacity="0.85"/><circle cx="488" cy="39" r="1.45" fill-opacity="0.85"/><circle cx="489.3" cy="39.6" r="1.45" fill-opacity="0.85"/><circle cx="491.2" cy="39.1" r="1.45" fill-opacity="0.85"/><circle cx="474.2" cy="77.6" r="1.45" fill-opacity="0.85"/><circle cx="476" cy="77.3" r="1.45" fill-opacity="0.85"/><circle cx="477.5" cy="77.5" r="1.45" fill-opacity="0.85"/><circle cx="478.7" cy="77.3" r="1.45" fill-opacity="0.85"/><circle cx="480.2" cy="77.4" r="1.45" fill-opacity="0.85"/><circle cx="482.2" cy="77.4" r="1.45" fill-opacity="0.85"/><circle cx="484.5" cy="77.6" r="1.45" fill-opacity="0.85"/><circle cx="486" cy="77.9" r="1.45" fill-opacity="0.85"/><circle cx="487" cy="77.5" r="1.45" fill-opacity="0.85"/><circle cx="488.5" cy="77.4" r="1.45" fill-opacity="0.85"/><circle cx="491.4" cy="77.1" r="1.45" fill-opacity="0.85"/><circle cx="473.3" cy="41" r="1.45" fill-opacity="0.9"/><circle cx="473.4" cy="43.3" r="1.45" fill-opacity="0.9"/><circle cx="473.2" cy="45.6" r="1.45" fill-opacity="0.9"/><circle cx="473.3" cy="47.9" r="1.45" fill-opacity="0.9"/><circle cx="473.2" cy="50.3" r="1.45" fill-opacity="0.9"/><circle cx="473.1" cy="52.6" r="1.45" fill-opacity="0.9"/><circle cx="473.2" cy="54.9" r="1.45" fill-opacity="0.9"/><circle cx="473" cy="57.2" r="1.45" fill-opacity="0.9"/><circle cx="473.1" cy="59.6" r="1.45" fill-opacity="0.9"/><circle cx="473.1" cy="61.9" r="1.45" fill-opacity="0.9"/><circle cx="473.4" cy="64.2" r="1.45" fill-opacity="0.9"/><circle cx="473.1" cy="66.5" r="1.45" fill-opacity="0.9"/><circle cx="473.1" cy="68.9" r="1.45" fill-opacity="0.9"/><circle cx="473.4" cy="71.2" r="1.45" fill-opacity="0.9"/><circle cx="473" cy="73.5" r="1.45" fill-opacity="0.9"/><circle cx="473.4" cy="75.8" r="1.45" fill-opacity="0.9"/><circle cx="492" cy="41" r="1.45" fill-opacity="0.9"/><circle cx="491.9" cy="43.3" r="1.45" fill-opacity="0.9"/><circle cx="491.8" cy="45.6" r="1.45" fill-opacity="0.9"/><circle cx="491.6" cy="47.9" r="1.45" fill-opacity="0.9"/><circle cx="491.6" cy="50.3" r="1.45" fill-opacity="0.9"/><circle cx="491.6" cy="52.6" r="1.45" fill-opacity="0.9"/><circle cx="491.7" cy="54.9" r="1.45" fill-opacity="0.9"/><circle cx="491.8" cy="57.2" r="1.45" fill-opacity="0.9"/><circle cx="492" cy="59.6" r="1.45" fill-opacity="0.9"/><circle cx="491.8" cy="61.9" r="1.45" fill-opacity="0.9"/><circle cx="492" cy="64.2" r="1.45" fill-opacity="0.9"/><circle cx="491.9" cy="66.5" r="1.45" fill-opacity="0.9"/><circle cx="491.6" cy="68.9" r="1.45" fill-opacity="0.9"/><circle cx="491.8" cy="71.2" r="1.45" fill-opacity="0.9"/><circle cx="491.6" cy="73.5" r="1.45" fill-opacity="0.9"/><circle cx="491.6" cy="75.8" r="1.45" fill-opacity="0.9"/><circle cx="479.5" cy="39.6" r="1.5" fill-opacity="0.6"/><circle cx="475.1" cy="36.3" r="1.5" fill-opacity="0.6"/><circle cx="481.8" cy="38.3" r="1.5" fill-opacity="0.6"/><circle cx="486.5" cy="35.6" r="1.5" fill-opacity="0.6"/><circle cx="487.7" cy="36.6" r="1.5" fill-opacity="0.6"/><circle cx="483.2" cy="37.6" r="1.5" fill-opacity="0.6"/><circle cx="485.8" cy="37.5" r="1.5" fill-opacity="0.6"/><circle cx="488" cy="39.8" r="1.5" fill-opacity="0.6"/><circle cx="482.4" cy="35.8" r="1.5" fill-opacity="0.6"/><circle cx="475.1" cy="36.5" r="1.5" fill-opacity="0.6"/><circle cx="477.8" cy="36.3" r="1.5" fill-opacity="0.6"/><circle cx="487" cy="39.6" r="1.5" fill-opacity="0.6"/><circle cx="486.2" cy="82.9" r="1.5" fill-opacity="0.6"/><circle cx="480.5" cy="79.2" r="1.5" fill-opacity="0.6"/><circle cx="478.7" cy="80" r="1.5" fill-opacity="0.6"/><circle cx="487.5" cy="79.9" r="1.5" fill-opacity="0.6"/><circle cx="478.4" cy="77.5" r="1.5" fill-opacity="0.6"/><circle cx="485.8" cy="80.3" r="1.5" fill-opacity="0.6"/><circle cx="486.7" cy="81.5" r="1.5" fill-opacity="0.6"/><circle cx="476.6" cy="77.7" r="1.5" fill-opacity="0.6"/><circle cx="478.5" cy="79.1" r="1.5" fill-opacity="0.6"/><circle cx="491.6" cy="82.2" r="1.5" fill-opacity="0.6"/><circle cx="473.9" cy="81.7" r="1.5" fill-opacity="0.6"/><circle cx="488.1" cy="79.1" r="1.5" fill-opacity="0.6"/><circle cx="484.3" cy="83.4" r="1.5" fill-opacity="0.6"/><circle cx="479.8" cy="79.4" r="1.5" fill-opacity="0.6"/></g><g fill="#fff" fill-opacity="0.38"><circle cx="488.7" cy="75.9" r="1.3"/><circle cx="474" cy="74.6" r="1.1"/><circle cx="484.6" cy="76.6" r="1.8"/><circle cx="480.2" cy="74.2" r="1.6"/><circle cx="475.1" cy="76" r="1.3"/><circle cx="485.7" cy="75.9" r="1.4"/><circle cx="490.4" cy="74.6" r="1.4"/><circle cx="483.1" cy="76.2" r="1.1"/></g><rect x="472.4" y="62.2" width="20.2" height="2.5" fill="#a9a9a9"/><rect x="495.8" y="50.2" width="20.2" height="27.8" rx="1.4" fill="#238b22"/><g fill="#238b22"><circle cx="496.9" cy="50.1" r="1.45" fill-opacity="0.85"/><circle cx="498.5" cy="50" r="1.45" fill-opacity="0.85"/><circle cx="500.5" cy="49.9" r="1.45" fill-opacity="0.85"/><circle cx="502.2" cy="49.5" r="1.45" fill-opacity="0.85"/><circle cx="503.4" cy="50.1" r="1.45" fill-opacity="0.85"/><circle cx="506.1" cy="49.7" r="1.45" fill-opacity="0.85"/><circle cx="507.3" cy="50" r="1.45" fill-opacity="0.85"/><circle cx="509.2" cy="50" r="1.45" fill-opacity="0.85"/><circle cx="511.3" cy="49.5" r="1.45" fill-opacity="0.85"/><circle cx="512.3" cy="50.2" r="1.45" fill-opacity="0.85"/><circle cx="514.7" cy="49.9" r="1.45" fill-opacity="0.85"/><circle cx="497.5" cy="78.8" r="1.45" fill-opacity="0.85"/><circle cx="499.4" cy="78.8" r="1.45" fill-opacity="0.85"/><circle cx="500.6" cy="78.8" r="1.45" fill-opacity="0.85"/><circle cx="502.3" cy="78.2" r="1.45" fill-opacity="0.85"/><circle cx="504" cy="78.3" r="1.45" fill-opacity="0.85"/><circle cx="506.1" cy="78.7" r="1.45" fill-opacity="0.85"/><circle cx="506.9" cy="78.1" r="1.45" fill-opacity="0.85"/><circle cx="509" cy="78.4" r="1.45" fill-opacity="0.85"/><circle cx="511.4" cy="78.8" r="1.45" fill-opacity="0.85"/><circle cx="513.1" cy="78.7" r="1.45" fill-opacity="0.85"/><circle cx="514.4" cy="78.2" r="1.45" fill-opacity="0.85"/><circle cx="496.5" cy="51.4" r="1.45" fill-opacity="0.9"/><circle cx="496.4" cy="53.7" r="1.45" fill-opacity="0.9"/><circle cx="496.8" cy="56" r="1.45" fill-opacity="0.9"/><circle cx="496.5" cy="58.3" r="1.45" fill-opacity="0.9"/><circle cx="496.4" cy="60.6" r="1.45" fill-opacity="0.9"/><circle cx="496.5" cy="62.9" r="1.45" fill-opacity="0.9"/><circle cx="496.5" cy="65.3" r="1.45" fill-opacity="0.9"/><circle cx="496.7" cy="67.6" r="1.45" fill-opacity="0.9"/><circle cx="496.4" cy="69.9" r="1.45" fill-opacity="0.9"/><circle cx="496.5" cy="72.2" r="1.45" fill-opacity="0.9"/><circle cx="496.8" cy="74.5" r="1.45" fill-opacity="0.9"/><circle cx="496.8" cy="76.8" r="1.45" fill-opacity="0.9"/><circle cx="515.3" cy="51.4" r="1.45" fill-opacity="0.9"/><circle cx="515.2" cy="53.7" r="1.45" fill-opacity="0.9"/><circle cx="515.1" cy="56" r="1.45" fill-opacity="0.9"/><circle cx="515.4" cy="58.3" r="1.45" fill-opacity="0.9"/><circle cx="515.3" cy="60.6" r="1.45" fill-opacity="0.9"/><circle cx="515.2" cy="62.9" r="1.45" fill-opacity="0.9"/><circle cx="515" cy="65.3" r="1.45" fill-opacity="0.9"/><circle cx="515.1" cy="67.6" r="1.45" fill-opacity="0.9"/><circle cx="515.1" cy="69.9" r="1.45" fill-opacity="0.9"/><circle cx="515.1" cy="72.2" r="1.45" fill-opacity="0.9"/><circle cx="515" cy="74.5" r="1.45" fill-opacity="0.9"/><circle cx="515.2" cy="76.8" r="1.45" fill-opacity="0.9"/><circle cx="502" cy="42.6" r="1.5" fill-opacity="0.6"/><circle cx="502.8" cy="41.7" r="1.5" fill-opacity="0.6"/><circle cx="508.1" cy="41.6" r="1.5" fill-opacity="0.6"/><circle cx="500.3" cy="43.3" r="1.5" fill-opacity="0.6"/><circle cx="506.1" cy="47.4" r="1.5" fill-opacity="0.6"/><circle cx="509.8" cy="42.7" r="1.5" fill-opacity="0.6"/><circle cx="512.4" cy="46.8" r="1.5" fill-opacity="0.6"/><circle cx="509" cy="47.6" r="1.5" fill-opacity="0.6"/><circle cx="499.6" cy="46.4" r="1.5" fill-opacity="0.6"/><circle cx="501.4" cy="46" r="1.5" fill-opacity="0.6"/><circle cx="498.9" cy="40" r="1.5" fill-opacity="0.6"/><circle cx="497" cy="41.9" r="1.5" fill-opacity="0.6"/><circle cx="510.5" cy="45.5" r="1.5" fill-opacity="0.6"/><circle cx="499" cy="47.1" r="1.5" fill-opacity="0.6"/><circle cx="512.2" cy="81.8" r="1.5" fill-opacity="0.6"/><circle cx="500.2" cy="78.2" r="1.5" fill-opacity="0.6"/><circle cx="505.2" cy="79.6" r="1.5" fill-opacity="0.6"/><circle cx="506.6" cy="79" r="1.5" fill-opacity="0.6"/><circle cx="508.8" cy="80.1" r="1.5" fill-opacity="0.6"/><circle cx="509.3" cy="81.2" r="1.5" fill-opacity="0.6"/><circle cx="509.7" cy="79.5" r="1.5" fill-opacity="0.6"/><circle cx="510" cy="82.4" r="1.5" fill-opacity="0.6"/><circle cx="514.2" cy="84.6" r="1.5" fill-opacity="0.6"/><circle cx="501.7" cy="88.9" r="1.5" fill-opacity="0.6"/><circle cx="506.2" cy="87.7" r="1.5" fill-opacity="0.6"/></g><g fill="#fff" fill-opacity="0.38"><circle cx="501.6" cy="52.2" r="1.2"/><circle cx="510.7" cy="51.6" r="1.3"/><circle cx="505.1" cy="50.3" r="1.2"/><circle cx="514" cy="50.2" r="1.2"/><circle cx="503.5" cy="52.2" r="1"/><circle cx="513.3" cy="53.6" r="1.1"/><circle cx="503.8" cy="51.8" r="1.1"/><circle cx="510.7" cy="52.7" r="1.6"/></g><rect x="495.8" y="65" width="20.2" height="2.5" fill="#a9a9a9"/><line x1="281.4" x2="519.5" y1="133.7" y2="133.7" stroke="#ededed" stroke-width="0.4"/><line x1="281.4" x2="519.5" y1="148.8" y2="148.8" stroke="#ededed" stroke-width="0.4"/><line x1="281.4" x2="519.5" y1="163.9" y2="163.9" stroke="#ededed" stroke-width="0.4"/><line x1="281.4" x2="519.5" y1="179" y2="179" stroke="#ededed" stroke-width="0.4"/><line x1="281.4" x2="519.5" y1="126.2" y2="126.2" stroke="#e6e6e6" stroke-width="0.75"/><text transform="translate(278.3 128.7) scale(0.86 1)" font-family="'Liberation Sans', sans-serif" font-size="7" fill="#4d4d4d" text-anchor="end">1.00</text><line x1="281.4" x2="519.5" y1="141.3" y2="141.3" stroke="#e6e6e6" stroke-width="0.75"/><text transform="translate(278.3 143.8) scale(0.86 1)" font-family="'Liberation Sans', sans-serif" font-size="7" fill="#4d4d4d" text-anchor="end">0.75</text><line x1="281.4" x2="519.5" y1="156.3" y2="156.3" stroke="#e6e6e6" stroke-width="0.75"/><text transform="translate(278.3 158.8) scale(0.86 1)" font-family="'Liberation Sans', sans-serif" font-size="7" fill="#4d4d4d" text-anchor="end">0.50</text><line x1="281.4" x2="519.5" y1="171.4" y2="171.4" stroke="#e6e6e6" stroke-width="0.75"/><text transform="translate(278.3 173.9) scale(0.86 1)" font-family="'Liberation Sans', sans-serif" font-size="7" fill="#4d4d4d" text-anchor="end">0.25</text><line x1="281.4" x2="519.5" y1="186.5" y2="186.5" stroke="#e6e6e6" stroke-width="0.75"/><text transform="translate(278.3 189) scale(0.86 1)" font-family="'Liberation Sans', sans-serif" font-size="7" fill="#4d4d4d" text-anchor="end">0.00</text><line x1="295.7" x2="295.7" y1="122.5" y2="190.3" stroke="#e6e6e6" stroke-width="0.75"/><line x1="342.4" x2="342.4" y1="122.5" y2="190.3" stroke="#e6e6e6" stroke-width="0.75"/><line x1="389.1" x2="389.1" y1="122.5" y2="190.3" stroke="#e6e6e6" stroke-width="0.75"/><line x1="435.8" x2="435.8" y1="122.5" y2="190.3" stroke="#e6e6e6" stroke-width="0.75"/><line x1="482.5" x2="482.5" y1="122.5" y2="190.3" stroke="#e6e6e6" stroke-width="0.75"/><line x1="319.1" x2="319.1" y1="122.5" y2="190.3" stroke="#e6e6e6" stroke-width="0.75"/><line x1="365.8" x2="365.8" y1="122.5" y2="190.3" stroke="#e6e6e6" stroke-width="0.75"/><line x1="412.5" x2="412.5" y1="122.5" y2="190.3" stroke="#e6e6e6" stroke-width="0.75"/><line x1="459.2" x2="459.2" y1="122.5" y2="190.3" stroke="#e6e6e6" stroke-width="0.75"/><line x1="505.9" x2="505.9" y1="122.5" y2="190.3" stroke="#e6e6e6" stroke-width="0.75"/><line x1="330.5" x2="330.5" y1="122.5" y2="190.3" stroke="#ababab" stroke-width="0.85" stroke-dasharray="3.8 2.4"/><line x1="377.2" x2="377.2" y1="122.5" y2="190.3" stroke="#ababab" stroke-width="0.85" stroke-dasharray="3.8 2.4"/><line x1="423.9" x2="423.9" y1="122.5" y2="190.3" stroke="#ababab" stroke-width="0.85" stroke-dasharray="3.8 2.4"/><line x1="470.6" x2="470.6" y1="122.5" y2="190.3" stroke="#ababab" stroke-width="0.85" stroke-dasharray="3.8 2.4"/><text x="281.8" y="118" font-family="'Liberation Sans', sans-serif" font-size="7.2" fill="#000">Proportion of forested area</text><text transform="translate(262.1 123.7) scale(1 1)" font-family="'Liberation Sans', sans-serif" font-size="10.4" font-weight="bold" fill="#000">D</text><rect x="285.6" y="124.8" width="20.2" height="25.7" rx="1.4" fill="#f9a33c"/><g fill="#f9a33c"><circle cx="287.3" cy="124.8" r="1.45" fill-opacity="0.85"/><circle cx="288.4" cy="124.3" r="1.45" fill-opacity="0.85"/><circle cx="290.7" cy="124.5" r="1.45" fill-opacity="0.85"/><circle cx="292.1" cy="124" r="1.45" fill-opacity="0.85"/><circle cx="293.2" cy="124.6" r="1.45" fill-opacity="0.85"/><circle cx="295.2" cy="123.9" r="1.45" fill-opacity="0.85"/><circle cx="296.9" cy="124.8" r="1.45" fill-opacity="0.85"/><circle cx="298.8" cy="124.2" r="1.45" fill-opacity="0.85"/><circle cx="300.1" cy="124" r="1.45" fill-opacity="0.85"/><circle cx="301.9" cy="124.2" r="1.45" fill-opacity="0.85"/><circle cx="303.5" cy="124" r="1.45" fill-opacity="0.85"/><circle cx="286.7" cy="151.2" r="1.45" fill-opacity="0.85"/><circle cx="289.2" cy="150.7" r="1.45" fill-opacity="0.85"/><circle cx="289.9" cy="151" r="1.45" fill-opacity="0.85"/><circle cx="292.1" cy="150.9" r="1.45" fill-opacity="0.85"/><circle cx="294.2" cy="150.9" r="1.45" fill-opacity="0.85"/><circle cx="295.5" cy="150.9" r="1.45" fill-opacity="0.85"/><circle cx="297.2" cy="150.9" r="1.45" fill-opacity="0.85"/><circle cx="298.5" cy="150.8" r="1.45" fill-opacity="0.85"/><circle cx="300.3" cy="150.7" r="1.45" fill-opacity="0.85"/><circle cx="302.7" cy="150.6" r="1.45" fill-opacity="0.85"/><circle cx="303.6" cy="151" r="1.45" fill-opacity="0.85"/><circle cx="286.3" cy="126" r="1.45" fill-opacity="0.9"/><circle cx="286.3" cy="128.3" r="1.45" fill-opacity="0.9"/><circle cx="286.3" cy="130.6" r="1.45" fill-opacity="0.9"/><circle cx="286.4" cy="133" r="1.45" fill-opacity="0.9"/><circle cx="286.5" cy="135.3" r="1.45" fill-opacity="0.9"/><circle cx="286.6" cy="137.7" r="1.45" fill-opacity="0.9"/><circle cx="286.6" cy="140" r="1.45" fill-opacity="0.9"/><circle cx="286.4" cy="142.3" r="1.45" fill-opacity="0.9"/><circle cx="286.4" cy="144.7" r="1.45" fill-opacity="0.9"/><circle cx="286.4" cy="147" r="1.45" fill-opacity="0.9"/><circle cx="286.3" cy="149.3" r="1.45" fill-opacity="0.9"/><circle cx="305.2" cy="126" r="1.45" fill-opacity="0.9"/><circle cx="304.8" cy="128.3" r="1.45" fill-opacity="0.9"/><circle cx="304.9" cy="130.6" r="1.45" fill-opacity="0.9"/><circle cx="305.1" cy="133" r="1.45" fill-opacity="0.9"/><circle cx="305" cy="135.3" r="1.45" fill-opacity="0.9"/><circle cx="304.9" cy="137.7" r="1.45" fill-opacity="0.9"/><circle cx="305.2" cy="140" r="1.45" fill-opacity="0.9"/><circle cx="305" cy="142.3" r="1.45" fill-opacity="0.9"/><circle cx="305" cy="144.7" r="1.45" fill-opacity="0.9"/><circle cx="304.8" cy="147" r="1.45" fill-opacity="0.9"/><circle cx="305.2" cy="149.3" r="1.45" fill-opacity="0.9"/><circle cx="293.7" cy="153.4" r="1.5" fill-opacity="0.6"/><circle cx="303.9" cy="175.6" r="1.5" fill-opacity="0.6"/><circle cx="301.8" cy="176.1" r="1.5" fill-opacity="0.6"/><circle cx="287" cy="157.1" r="1.5" fill-opacity="0.6"/><circle cx="287.6" cy="163.3" r="1.5" fill-opacity="0.6"/><circle cx="286.6" cy="177.7" r="1.5" fill-opacity="0.6"/><circle cx="290.2" cy="159.7" r="1.5" fill-opacity="0.6"/><circle cx="295.7" cy="150.9" r="1.5" fill-opacity="0.6"/><circle cx="303.1" cy="152.7" r="1.5" fill-opacity="0.6"/><circle cx="293.3" cy="170" r="1.5" fill-opacity="0.6"/><circle cx="301.2" cy="174.3" r="1.5" fill-opacity="0.6"/><circle cx="302.1" cy="159.7" r="1.5" fill-opacity="0.6"/><circle cx="297.9" cy="176.8" r="1.5" fill-opacity="0.6"/><circle cx="303.1" cy="160.5" r="1.5" fill-opacity="0.6"/><circle cx="292.9" cy="177.2" r="1.5" fill-opacity="0.6"/><circle cx="302.5" cy="152.9" r="1.5" fill-opacity="0.6"/><circle cx="290.7" cy="169.3" r="1.5" fill-opacity="0.6"/><circle cx="292.2" cy="166.5" r="1.5" fill-opacity="0.6"/><circle cx="292.8" cy="176.5" r="1.5" fill-opacity="0.6"/><circle cx="287.2" cy="156.1" r="1.5" fill-opacity="0.6"/><circle cx="304.8" cy="160.2" r="1.5" fill-opacity="0.6"/><circle cx="294.9" cy="156.7" r="1.5" fill-opacity="0.6"/><circle cx="286.6" cy="178" r="1.5" fill-opacity="0.6"/><circle cx="301.6" cy="158.9" r="1.5" fill-opacity="0.6"/><circle cx="303.6" cy="153.2" r="1.5" fill-opacity="0.6"/><circle cx="289.1" cy="174.1" r="1.5" fill-opacity="0.6"/><circle cx="296.7" cy="167.3" r="1.5" fill-opacity="0.6"/><circle cx="292.1" cy="170.1" r="1.5" fill-opacity="0.6"/><circle cx="290.9" cy="161.4" r="1.5" fill-opacity="0.6"/><circle cx="289.7" cy="158.8" r="1.5" fill-opacity="0.6"/><circle cx="302.9" cy="176.1" r="1.5" fill-opacity="0.6"/><circle cx="299.3" cy="160.7" r="1.5" fill-opacity="0.6"/></g><g fill="#fff" fill-opacity="0.38"><circle cx="292" cy="144.6" r="1.3"/><circle cx="293" cy="150.1" r="1.5"/><circle cx="292.3" cy="149.9" r="1.6"/><circle cx="299.7" cy="140.3" r="1.6"/><circle cx="303.8" cy="148.6" r="1.6"/><circle cx="291.9" cy="150.2" r="1.4"/><circle cx="288.6" cy="141.5" r="1.4"/><circle cx="300.4" cy="147.3" r="1"/><circle cx="291.4" cy="149.8" r="1.2"/><circle cx="302.4" cy="148.6" r="1.6"/><circle cx="295.1" cy="142.8" r="1.7"/><circle cx="300.9" cy="143.1" r="1.6"/><circle cx="302.4" cy="144.4" r="1.3"/><circle cx="298.1" cy="147.6" r="1.3"/><circle cx="297.5" cy="145.1" r="1.4"/><circle cx="304.1" cy="140.3" r="1.8"/><circle cx="303.3" cy="139.4" r="1.4"/><circle cx="301.1" cy="140.4" r="1.3"/><circle cx="301.3" cy="147.2" r="1.4"/><circle cx="301.2" cy="139.6" r="1.6"/><circle cx="291.8" cy="149.5" r="1.6"/><circle cx="293.2" cy="149" r="1.3"/><circle cx="287.3" cy="142.8" r="1.2"/><circle cx="289" cy="142.8" r="1.6"/><circle cx="296.9" cy="143.9" r="1.2"/><circle cx="300" cy="143.1" r="1.4"/><circle cx="294.4" cy="145.9" r="1.4"/><circle cx="291.7" cy="149.3" r="1.4"/><circle cx="288.7" cy="146.9" r="1.8"/><circle cx="291.4" cy="144.7" r="1.6"/><circle cx="297.9" cy="148.4" r="1.7"/><circle cx="296.2" cy="140" r="1.6"/><circle cx="298.1" cy="149.5" r="1.5"/><circle cx="296.9" cy="143.5" r="1.4"/><circle cx="301.3" cy="149.4" r="1.6"/><circle cx="288.3" cy="149.6" r="1.6"/><circle cx="300" cy="144.3" r="1.2"/><circle cx="301.2" cy="144.4" r="1"/><circle cx="295.5" cy="142.3" r="1.7"/><circle cx="301.2" cy="142.1" r="1.2"/><circle cx="296.6" cy="142.5" r="1.5"/><circle cx="302.2" cy="149.1" r="1.2"/><circle cx="298" cy="147.6" r="1.3"/><circle cx="302.5" cy="147.9" r="1.4"/><circle cx="289.4" cy="149.5" r="1.1"/></g><rect x="285.6" y="133.6" width="20.2" height="3.1" fill="#a9a9a9"/><rect x="309" y="124.8" width="20.2" height="27.2" rx="1.4" fill="#238b22"/><g fill="#238b22"><circle cx="310.8" cy="124.5" r="1.45" fill-opacity="0.85"/><circle cx="312.3" cy="124.4" r="1.45" fill-opacity="0.85"/><circle cx="313.4" cy="124.1" r="1.45" fill-opacity="0.85"/><circle cx="315.9" cy="124.7" r="1.45" fill-opacity="0.85"/><circle cx="316.9" cy="124.1" r="1.45" fill-opacity="0.85"/><circle cx="319.5" cy="124" r="1.45" fill-opacity="0.85"/><circle cx="320.6" cy="124.5" r="1.45" fill-opacity="0.85"/><circle cx="322.2" cy="124.6" r="1.45" fill-opacity="0.85"/><circle cx="324" cy="124.6" r="1.45" fill-opacity="0.85"/><circle cx="325.2" cy="124.5" r="1.45" fill-opacity="0.85"/><circle cx="326.8" cy="124.4" r="1.45" fill-opacity="0.85"/><circle cx="310.7" cy="152.6" r="1.45" fill-opacity="0.85"/><circle cx="312.8" cy="152.8" r="1.45" fill-opacity="0.85"/><circle cx="314" cy="152.8" r="1.45" fill-opacity="0.85"/><circle cx="315.5" cy="152.7" r="1.45" fill-opacity="0.85"/><circle cx="316.9" cy="152.5" r="1.45" fill-opacity="0.85"/><circle cx="319.6" cy="152.5" r="1.45" fill-opacity="0.85"/><circle cx="320.6" cy="152.7" r="1.45" fill-opacity="0.85"/><circle cx="322.1" cy="152.7" r="1.45" fill-opacity="0.85"/><circle cx="323.4" cy="152.2" r="1.45" fill-opacity="0.85"/><circle cx="325.3" cy="152.2" r="1.45" fill-opacity="0.85"/><circle cx="328" cy="152" r="1.45" fill-opacity="0.85"/><circle cx="309.7" cy="125.9" r="1.45" fill-opacity="0.9"/><circle cx="309.8" cy="128.2" r="1.45" fill-opacity="0.9"/><circle cx="309.9" cy="130.5" r="1.45" fill-opacity="0.9"/><circle cx="309.9" cy="132.7" r="1.45" fill-opacity="0.9"/><circle cx="309.7" cy="135" r="1.45" fill-opacity="0.9"/><circle cx="309.7" cy="137.3" r="1.45" fill-opacity="0.9"/><circle cx="310" cy="139.5" r="1.45" fill-opacity="0.9"/><circle cx="309.6" cy="141.8" r="1.45" fill-opacity="0.9"/><circle cx="309.6" cy="144.1" r="1.45" fill-opacity="0.9"/><circle cx="309.7" cy="146.3" r="1.45" fill-opacity="0.9"/><circle cx="309.8" cy="148.6" r="1.45" fill-opacity="0.9"/><circle cx="310" cy="150.9" r="1.45" fill-opacity="0.9"/><circle cx="328.5" cy="125.9" r="1.45" fill-opacity="0.9"/><circle cx="328.4" cy="128.2" r="1.45" fill-opacity="0.9"/><circle cx="328.4" cy="130.5" r="1.45" fill-opacity="0.9"/><circle cx="328.5" cy="132.7" r="1.45" fill-opacity="0.9"/><circle cx="328.5" cy="135" r="1.45" fill-opacity="0.9"/><circle cx="328.3" cy="137.3" r="1.45" fill-opacity="0.9"/><circle cx="328.2" cy="139.5" r="1.45" fill-opacity="0.9"/><circle cx="328.3" cy="141.8" r="1.45" fill-opacity="0.9"/><circle cx="328.5" cy="144.1" r="1.45" fill-opacity="0.9"/><circle cx="328.5" cy="146.3" r="1.45" fill-opacity="0.9"/><circle cx="328.5" cy="148.6" r="1.45" fill-opacity="0.9"/><circle cx="328.2" cy="150.9" r="1.45" fill-opacity="0.9"/><circle cx="316.9" cy="169.8" r="1.5" fill-opacity="0.6"/><circle cx="320.8" cy="170.3" r="1.5" fill-opacity="0.6"/><circle cx="325" cy="162.8" r="1.5" fill-opacity="0.6"/><circle cx="322.3" cy="164.4" r="1.5" fill-opacity="0.6"/><circle cx="321" cy="155.1" r="1.5" fill-opacity="0.6"/><circle cx="311.2" cy="159.1" r="1.5" fill-opacity="0.6"/><circle cx="318.7" cy="154.6" r="1.5" fill-opacity="0.6"/><circle cx="324" cy="157.2" r="1.5" fill-opacity="0.6"/><circle cx="310.1" cy="154.4" r="1.5" fill-opacity="0.6"/><circle cx="315.6" cy="171.7" r="1.5" fill-opacity="0.6"/><circle cx="313.7" cy="162.1" r="1.5" fill-opacity="0.6"/><circle cx="317.3" cy="156.1" r="1.5" fill-opacity="0.6"/><circle cx="310.6" cy="167.6" r="1.5" fill-opacity="0.6"/><circle cx="328.2" cy="168.6" r="1.5" fill-opacity="0.6"/><circle cx="316.5" cy="163.1" r="1.5" fill-opacity="0.6"/><circle cx="313.2" cy="156.6" r="1.5" fill-opacity="0.6"/><circle cx="325.6" cy="158.4" r="1.5" fill-opacity="0.6"/><circle cx="324.4" cy="152.1" r="1.5" fill-opacity="0.6"/><circle cx="310.2" cy="165.2" r="1.5" fill-opacity="0.6"/><circle cx="323.4" cy="153.4" r="1.5" fill-opacity="0.6"/><circle cx="315.6" cy="165.3" r="1.5" fill-opacity="0.6"/><circle cx="313.7" cy="169.1" r="1.5" fill-opacity="0.6"/><circle cx="312" cy="160.5" r="1.5" fill-opacity="0.6"/><circle cx="311.5" cy="164.8" r="1.5" fill-opacity="0.6"/></g><g fill="#fff" fill-opacity="0.38"><circle cx="323.6" cy="144.2" r="1.4"/><circle cx="323.1" cy="148.8" r="1.5"/><circle cx="322.5" cy="144.4" r="1.1"/><circle cx="318.2" cy="145.1" r="1.1"/><circle cx="321.7" cy="143.5" r="1.6"/><circle cx="317.2" cy="146" r="1.2"/><circle cx="320.5" cy="147.5" r="1.7"/><circle cx="326" cy="142.9" r="1.8"/><circle cx="322.9" cy="145.8" r="1.7"/><circle cx="315.5" cy="148.7" r="1.5"/><circle cx="312.4" cy="150.8" r="1.4"/><circle cx="325" cy="142.7" r="1.6"/><circle cx="323.3" cy="142.9" r="1.6"/><circle cx="319.5" cy="143.7" r="1.6"/><circle cx="319.2" cy="145.7" r="1.8"/><circle cx="319.1" cy="148.5" r="1.1"/><circle cx="325.1" cy="143.7" r="1.6"/><circle cx="320.4" cy="150.4" r="1.5"/><circle cx="323.1" cy="147.5" r="1.3"/><circle cx="318.6" cy="147.2" r="1.5"/><circle cx="311" cy="144.6" r="1.1"/><circle cx="325.2" cy="144.2" r="1.6"/><circle cx="318.2" cy="149.6" r="1.1"/><circle cx="325.3" cy="146.9" r="1.4"/><circle cx="317" cy="148.5" r="1.1"/><circle cx="318.8" cy="148.5" r="1.3"/><circle cx="322.4" cy="145" r="1.3"/><circle cx="315" cy="148" r="1.6"/><circle cx="318.7" cy="146.1" r="1.7"/><circle cx="323.1" cy="149.3" r="1.3"/><circle cx="317.2" cy="150.5" r="1.8"/><circle cx="321.8" cy="151" r="1.7"/><circle cx="323.1" cy="147.7" r="1.1"/><circle cx="324.2" cy="151.9" r="1.1"/><circle cx="320.4" cy="144.8" r="1.6"/><circle cx="326.9" cy="143.9" r="1.3"/><circle cx="323.4" cy="152" r="1.4"/><circle cx="312.2" cy="145.9" r="1.1"/><circle cx="323.7" cy="148.5" r="1.7"/><circle cx="326.5" cy="146" r="1.2"/><circle cx="326.2" cy="151.4" r="1.1"/><circle cx="322.6" cy="150.7" r="1.6"/><circle cx="319.7" cy="150.5" r="1.4"/><circle cx="325.3" cy="146" r="1.7"/><circle cx="323.7" cy="144" r="1.2"/></g><rect x="309" y="132.2" width="20.2" height="3.1" fill="#a9a9a9"/><rect x="332.3" y="126" width="20.2" height="61.4" rx="1.4" fill="#f9a33c"/><g fill="#f9a33c"><circle cx="333.3" cy="125.8" r="1.45" fill-opacity="0.85"/><circle cx="335.6" cy="125.7" r="1.45" fill-opacity="0.85"/><circle cx="336.8" cy="125.9" r="1.45" fill-opacity="0.85"/><circle cx="338.6" cy="125.3" r="1.45" fill-opacity="0.85"/><circle cx="339.9" cy="125.6" r="1.45" fill-opacity="0.85"/><circle cx="342.4" cy="126" r="1.45" fill-opacity="0.85"/><circle cx="343.6" cy="125.2" r="1.45" fill-opacity="0.85"/><circle cx="346.3" cy="125.2" r="1.45" fill-opacity="0.85"/><circle cx="346.9" cy="125.3" r="1.45" fill-opacity="0.85"/><circle cx="348.9" cy="125.8" r="1.45" fill-opacity="0.85"/><circle cx="350.7" cy="125.2" r="1.45" fill-opacity="0.85"/><circle cx="334.3" cy="187.8" r="1.45" fill-opacity="0.85"/><circle cx="334.9" cy="188.2" r="1.45" fill-opacity="0.85"/><circle cx="337.8" cy="187.9" r="1.45" fill-opacity="0.85"/><circle cx="338.5" cy="187.9" r="1.45" fill-opacity="0.85"/><circle cx="340.8" cy="187.8" r="1.45" fill-opacity="0.85"/><circle cx="342" cy="187.6" r="1.45" fill-opacity="0.85"/><circle cx="343.6" cy="187.4" r="1.45" fill-opacity="0.85"/><circle cx="345.3" cy="188.3" r="1.45" fill-opacity="0.85"/><circle cx="346.6" cy="188.1" r="1.45" fill-opacity="0.85"/><circle cx="349.4" cy="187.8" r="1.45" fill-opacity="0.85"/><circle cx="350.8" cy="187.6" r="1.45" fill-opacity="0.85"/><circle cx="333.2" cy="127.1" r="1.45" fill-opacity="0.9"/><circle cx="333.2" cy="129.4" r="1.45" fill-opacity="0.9"/><circle cx="333.2" cy="131.7" r="1.45" fill-opacity="0.9"/><circle cx="333.1" cy="134" r="1.45" fill-opacity="0.9"/><circle cx="333.3" cy="136.2" r="1.45" fill-opacity="0.9"/><circle cx="333.3" cy="138.5" r="1.45" fill-opacity="0.9"/><circle cx="333.1" cy="140.8" r="1.45" fill-opacity="0.9"/><circle cx="333.2" cy="143.1" r="1.45" fill-opacity="0.9"/><circle cx="333" cy="145.3" r="1.45" fill-opacity="0.9"/><circle cx="333.3" cy="147.6" r="1.45" fill-opacity="0.9"/><circle cx="333.2" cy="149.9" r="1.45" fill-opacity="0.9"/><circle cx="333.3" cy="152.2" r="1.45" fill-opacity="0.9"/><circle cx="333" cy="154.4" r="1.45" fill-opacity="0.9"/><circle cx="333.3" cy="156.7" r="1.45" fill-opacity="0.9"/><circle cx="332.9" cy="159" r="1.45" fill-opacity="0.9"/><circle cx="333.1" cy="161.2" r="1.45" fill-opacity="0.9"/><circle cx="332.9" cy="163.5" r="1.45" fill-opacity="0.9"/><circle cx="332.9" cy="165.8" r="1.45" fill-opacity="0.9"/><circle cx="333.2" cy="168.1" r="1.45" fill-opacity="0.9"/><circle cx="332.9" cy="170.3" r="1.45" fill-opacity="0.9"/><circle cx="333" cy="172.6" r="1.45" fill-opacity="0.9"/><circle cx="332.9" cy="174.9" r="1.45" fill-opacity="0.9"/><circle cx="333.3" cy="177.2" r="1.45" fill-opacity="0.9"/><circle cx="332.9" cy="179.4" r="1.45" fill-opacity="0.9"/><circle cx="333" cy="181.7" r="1.45" fill-opacity="0.9"/><circle cx="333.3" cy="184" r="1.45" fill-opacity="0.9"/><circle cx="333.2" cy="186.3" r="1.45" fill-opacity="0.9"/><circle cx="351.8" cy="127.1" r="1.45" fill-opacity="0.9"/><circle cx="351.9" cy="129.4" r="1.45" fill-opacity="0.9"/><circle cx="351.5" cy="131.7" r="1.45" fill-opacity="0.9"/><circle cx="351.8" cy="134" r="1.45" fill-opacity="0.9"/><circle cx="351.8" cy="136.2" r="1.45" fill-opacity="0.9"/><circle cx="351.8" cy="138.5" r="1.45" fill-opacity="0.9"/><circle cx="351.8" cy="140.8" r="1.45" fill-opacity="0.9"/><circle cx="351.5" cy="143.1" r="1.45" fill-opacity="0.9"/><circle cx="351.5" cy="145.3" r="1.45" fill-opacity="0.9"/><circle cx="351.8" cy="147.6" r="1.45" fill-opacity="0.9"/><circle cx="351.8" cy="149.9" r="1.45" fill-opacity="0.9"/><circle cx="351.6" cy="152.2" r="1.45" fill-opacity="0.9"/><circle cx="351.5" cy="154.4" r="1.45" fill-opacity="0.9"/><circle cx="351.7" cy="156.7" r="1.45" fill-opacity="0.9"/><circle cx="351.5" cy="159" r="1.45" fill-opacity="0.9"/><circle cx="351.8" cy="161.2" r="1.45" fill-opacity="0.9"/><circle cx="351.6" cy="163.5" r="1.45" fill-opacity="0.9"/><circle cx="351.9" cy="165.8" r="1.45" fill-opacity="0.9"/><circle cx="351.5" cy="168.1" r="1.45" fill-opacity="0.9"/><circle cx="351.7" cy="170.3" r="1.45" fill-opacity="0.9"/><circle cx="351.5" cy="172.6" r="1.45" fill-opacity="0.9"/><circle cx="351.8" cy="174.9" r="1.45" fill-opacity="0.9"/><circle cx="351.7" cy="177.2" r="1.45" fill-opacity="0.9"/><circle cx="351.6" cy="179.4" r="1.45" fill-opacity="0.9"/><circle cx="351.9" cy="181.7" r="1.45" fill-opacity="0.9"/><circle cx="351.8" cy="184" r="1.45" fill-opacity="0.9"/><circle cx="351.6" cy="186.3" r="1.45" fill-opacity="0.9"/></g><g fill="#fff" fill-opacity="0.38"><circle cx="340.4" cy="162.3" r="1.8"/><circle cx="350.6" cy="138.6" r="1"/><circle cx="338.9" cy="157.1" r="1.3"/><circle cx="334.7" cy="153" r="1.2"/><circle cx="346.5" cy="130.4" r="1.2"/><circle cx="339.5" cy="147.1" r="1.2"/><circle cx="342.5" cy="165.7" r="1.5"/><circle cx="347.9" cy="155.9" r="1.2"/><circle cx="341.8" cy="129.3" r="1.1"/><circle cx="349.5" cy="126.9" r="1.5"/><circle cx="336.2" cy="143.6" r="1.6"/><circle cx="336.9" cy="148.6" r="1.8"/><circle cx="349.7" cy="166.3" r="1.7"/><circle cx="339" cy="148.5" r="1.5"/><circle cx="344.4" cy="132.4" r="1.1"/><circle cx="346.1" cy="126.6" r="1.3"/><circle cx="347.2" cy="155.6" r="1.7"/><circle cx="348.3" cy="152.1" r="1.5"/><circle cx="349.1" cy="165.3" r="1"/><circle cx="340.5" cy="137.3" r="1.2"/><circle cx="348.7" cy="133.5" r="1"/><circle cx="346.8" cy="133.7" r="1.2"/><circle cx="350.3" cy="137" r="1.6"/><circle cx="336.2" cy="145" r="1.2"/><circle cx="347.3" cy="167.6" r="1.1"/><circle cx="340.3" cy="156" r="1.6"/><circle cx="336.1" cy="138.5" r="1"/><circle cx="348.5" cy="138.5" r="1.7"/><circle cx="346.6" cy="155" r="1.2"/><circle cx="349.2" cy="141" r="1.8"/><circle cx="347.1" cy="144.8" r="1.7"/><circle cx="338.9" cy="168.3" r="1.5"/><circle cx="341.8" cy="142.5" r="1.4"/><circle cx="334.2" cy="137.8" r="1.6"/><circle cx="348.2" cy="155.5" r="1.1"/><circle cx="344" cy="136.1" r="1.7"/><circle cx="337.3" cy="146" r="1.5"/><circle cx="348.7" cy="166.6" r="1.7"/><circle cx="338.4" cy="143.4" r="1.7"/><circle cx="348.4" cy="159.4" r="1.3"/><circle cx="338" cy="138.1" r="1.7"/><circle cx="340.1" cy="165" r="1.7"/><circle cx="341.5" cy="142.2" r="1.5"/><circle cx="338.4" cy="135.4" r="1.2"/><circle cx="342.7" cy="137" r="1.1"/><circle cx="336.9" cy="159.1" r="1.4"/><circle cx="336.2" cy="153.2" r="1.3"/><circle cx="343.3" cy="149.9" r="1.7"/><circle cx="336" cy="159.3" r="1.7"/><circle cx="345.4" cy="149.3" r="1.1"/><circle cx="345.8" cy="146" r="1.6"/><circle cx="337.6" cy="160.2" r="1.7"/><circle cx="345.3" cy="150.1" r="1.7"/><circle cx="349.5" cy="143.2" r="1.7"/><circle cx="340.4" cy="160.2" r="1.4"/><circle cx="346.8" cy="133.3" r="1.7"/><circle cx="346.6" cy="132.8" r="1.6"/><circle cx="349.5" cy="127.5" r="1.4"/><circle cx="334.4" cy="137.4" r="1.6"/><circle cx="342.6" cy="140.3" r="1.2"/></g><rect x="332.3" y="170.6" width="20.2" height="3.1" fill="#a9a9a9"/><rect x="355.7" y="125.2" width="20.2" height="62.2" rx="1.4" fill="#238b22"/><g fill="#238b22"><circle cx="357.3" cy="124.8" r="1.45" fill-opacity="0.85"/><circle cx="359.3" cy="124.6" r="1.45" fill-opacity="0.85"/><circle cx="360.9" cy="125" r="1.45" fill-opacity="0.85"/><circle cx="361.7" cy="124.4" r="1.45" fill-opacity="0.85"/><circle cx="364.5" cy="124.6" r="1.45" fill-opacity="0.85"/><circle cx="366.2" cy="124.6" r="1.45" fill-opacity="0.85"/><circle cx="367.5" cy="124.8" r="1.45" fill-opacity="0.85"/><circle cx="368.8" cy="124.8" r="1.45" fill-opacity="0.85"/><circle cx="370.3" cy="124.8" r="1.45" fill-opacity="0.85"/><circle cx="372.4" cy="125.2" r="1.45" fill-opacity="0.85"/><circle cx="373.9" cy="124.9" r="1.45" fill-opacity="0.85"/><circle cx="357.4" cy="188.1" r="1.45" fill-opacity="0.85"/><circle cx="359" cy="188" r="1.45" fill-opacity="0.85"/><circle cx="360.7" cy="187.6" r="1.45" fill-opacity="0.85"/><circle cx="362.1" cy="188.2" r="1.45" fill-opacity="0.85"/><circle cx="364.5" cy="187.6" r="1.45" fill-opacity="0.85"/><circle cx="365" cy="188.3" r="1.45" fill-opacity="0.85"/><circle cx="367.8" cy="187.9" r="1.45" fill-opacity="0.85"/><circle cx="369.4" cy="187.9" r="1.45" fill-opacity="0.85"/><circle cx="371.3" cy="187.6" r="1.45" fill-opacity="0.85"/><circle cx="372.3" cy="188" r="1.45" fill-opacity="0.85"/><circle cx="373.7" cy="188" r="1.45" fill-opacity="0.85"/><circle cx="356.4" cy="126.3" r="1.45" fill-opacity="0.9"/><circle cx="356.6" cy="128.5" r="1.45" fill-opacity="0.9"/><circle cx="356.7" cy="130.8" r="1.45" fill-opacity="0.9"/><circle cx="356.5" cy="133" r="1.45" fill-opacity="0.9"/><circle cx="356.7" cy="135.2" r="1.45" fill-opacity="0.9"/><circle cx="356.6" cy="137.4" r="1.45" fill-opacity="0.9"/><circle cx="356.6" cy="139.6" r="1.45" fill-opacity="0.9"/><circle cx="356.3" cy="141.9" r="1.45" fill-opacity="0.9"/><circle cx="356.3" cy="144.1" r="1.45" fill-opacity="0.9"/><circle cx="356.6" cy="146.3" r="1.45" fill-opacity="0.9"/><circle cx="356.7" cy="148.5" r="1.45" fill-opacity="0.9"/><circle cx="356.6" cy="150.7" r="1.45" fill-opacity="0.9"/><circle cx="356.7" cy="153" r="1.45" fill-opacity="0.9"/><circle cx="356.3" cy="155.2" r="1.45" fill-opacity="0.9"/><circle cx="356.7" cy="157.4" r="1.45" fill-opacity="0.9"/><circle cx="356.7" cy="159.6" r="1.45" fill-opacity="0.9"/><circle cx="356.6" cy="161.9" r="1.45" fill-opacity="0.9"/><circle cx="356.5" cy="164.1" r="1.45" fill-opacity="0.9"/><circle cx="356.6" cy="166.3" r="1.45" fill-opacity="0.9"/><circle cx="356.4" cy="168.5" r="1.45" fill-opacity="0.9"/><circle cx="356.6" cy="170.7" r="1.45" fill-opacity="0.9"/><circle cx="356.6" cy="173" r="1.45" fill-opacity="0.9"/><circle cx="356.5" cy="175.2" r="1.45" fill-opacity="0.9"/><circle cx="356.4" cy="177.4" r="1.45" fill-opacity="0.9"/><circle cx="356.3" cy="179.6" r="1.45" fill-opacity="0.9"/><circle cx="356.3" cy="181.8" r="1.45" fill-opacity="0.9"/><circle cx="356.7" cy="184.1" r="1.45" fill-opacity="0.9"/><circle cx="356.4" cy="186.3" r="1.45" fill-opacity="0.9"/><circle cx="374.9" cy="126.3" r="1.45" fill-opacity="0.9"/><circle cx="375" cy="128.5" r="1.45" fill-opacity="0.9"/><circle cx="375.1" cy="130.8" r="1.45" fill-opacity="0.9"/><circle cx="375.1" cy="133" r="1.45" fill-opacity="0.9"/><circle cx="375.3" cy="135.2" r="1.45" fill-opacity="0.9"/><circle cx="375.3" cy="137.4" r="1.45" fill-opacity="0.9"/><circle cx="375.3" cy="139.6" r="1.45" fill-opacity="0.9"/><circle cx="375.3" cy="141.9" r="1.45" fill-opacity="0.9"/><circle cx="375.1" cy="144.1" r="1.45" fill-opacity="0.9"/><circle cx="374.9" cy="146.3" r="1.45" fill-opacity="0.9"/><circle cx="375.3" cy="148.5" r="1.45" fill-opacity="0.9"/><circle cx="375" cy="150.7" r="1.45" fill-opacity="0.9"/><circle cx="375.2" cy="153" r="1.45" fill-opacity="0.9"/><circle cx="375" cy="155.2" r="1.45" fill-opacity="0.9"/><circle cx="375.3" cy="157.4" r="1.45" fill-opacity="0.9"/><circle cx="375" cy="159.6" r="1.45" fill-opacity="0.9"/><circle cx="375.1" cy="161.9" r="1.45" fill-opacity="0.9"/><circle cx="375" cy="164.1" r="1.45" fill-opacity="0.9"/><circle cx="375.3" cy="166.3" r="1.45" fill-opacity="0.9"/><circle cx="375.2" cy="168.5" r="1.45" fill-opacity="0.9"/><circle cx="375.2" cy="170.7" r="1.45" fill-opacity="0.9"/><circle cx="375" cy="173" r="1.45" fill-opacity="0.9"/><circle cx="374.9" cy="175.2" r="1.45" fill-opacity="0.9"/><circle cx="375.3" cy="177.4" r="1.45" fill-opacity="0.9"/><circle cx="375.2" cy="179.6" r="1.45" fill-opacity="0.9"/><circle cx="375.2" cy="181.8" r="1.45" fill-opacity="0.9"/><circle cx="375.3" cy="184.1" r="1.45" fill-opacity="0.9"/><circle cx="375.1" cy="186.3" r="1.45" fill-opacity="0.9"/></g><g fill="#fff" fill-opacity="0.38"><circle cx="367.7" cy="136.3" r="1.2"/><circle cx="365.1" cy="157.1" r="1.5"/><circle cx="371.1" cy="182.5" r="1.3"/><circle cx="371.9" cy="176" r="1.6"/><circle cx="372.6" cy="159.5" r="1.4"/><circle cx="361.9" cy="131.8" r="1.5"/><circle cx="364.5" cy="148.8" r="1.3"/><circle cx="358.9" cy="137.1" r="1"/><circle cx="362.8" cy="167" r="1.4"/><circle cx="368" cy="183.4" r="1.6"/><circle cx="373.5" cy="172.6" r="1.1"/><circle cx="373.4" cy="149.1" r="1.4"/><circle cx="360.4" cy="184.2" r="1"/><circle cx="364.3" cy="180.9" r="1.4"/><circle cx="361" cy="183.4" r="1.8"/><circle cx="361.5" cy="149.9" r="1.2"/><circle cx="365.2" cy="157.4" r="1.7"/><circle cx="358" cy="128.4" r="1.1"/><circle cx="370.6" cy="162.9" r="1.4"/><circle cx="368.2" cy="163.4" r="1"/><circle cx="374.3" cy="140.5" r="1.3"/><circle cx="365.7" cy="184.1" r="1.2"/><circle cx="361" cy="125.4" r="1.3"/><circle cx="364.9" cy="152.5" r="1.4"/><circle cx="357.9" cy="154.7" r="1.2"/><circle cx="357.8" cy="185" r="1.6"/><circle cx="369.3" cy="154.8" r="1.3"/><circle cx="366.1" cy="148.2" r="1.7"/><circle cx="358.8" cy="145.6" r="1"/><circle cx="362.6" cy="180" r="1.1"/><circle cx="371.7" cy="162.3" r="1.5"/><circle cx="364.2" cy="134.6" r="1.2"/><circle cx="373.7" cy="126.2" r="1.4"/><circle cx="372.3" cy="133.6" r="1.8"/><circle cx="361.6" cy="176" r="1.2"/><circle cx="367.2" cy="157.9" r="1.7"/><circle cx="372.8" cy="185.4" r="1.3"/><circle cx="359.4" cy="161.6" r="1.4"/><circle cx="359.2" cy="129.6" r="1.1"/><circle cx="362.6" cy="143.9" r="1.6"/><circle cx="359.2" cy="129.9" r="1.5"/><circle cx="369.4" cy="167" r="1.6"/><circle cx="366.7" cy="166.4" r="1.6"/><circle cx="360.9" cy="130.3" r="1.6"/><circle cx="366.3" cy="137.2" r="1.2"/><circle cx="371.5" cy="152" r="1.5"/><circle cx="362" cy="152.9" r="1.6"/><circle cx="364.8" cy="166.1" r="1.7"/><circle cx="374" cy="168.3" r="1.5"/><circle cx="366.7" cy="181.2" r="1.6"/><circle cx="358.8" cy="177.6" r="1.4"/><circle cx="358.3" cy="162.9" r="1.6"/><circle cx="373.2" cy="169.7" r="1.3"/><circle cx="372.8" cy="154.4" r="1.3"/><circle cx="364.5" cy="177.1" r="1.3"/><circle cx="360.9" cy="142.4" r="1.3"/><circle cx="371.4" cy="135.3" r="1.8"/><circle cx="358.2" cy="131.3" r="1"/><circle cx="358.6" cy="183.2" r="1.5"/><circle cx="360.7" cy="144.1" r="1.2"/><circle cx="357.6" cy="168.1" r="1.7"/><circle cx="361.3" cy="160.5" r="1.2"/><circle cx="368" cy="165.9" r="1.3"/><circle cx="365.2" cy="146" r="1.7"/><circle cx="371.6" cy="158.7" r="1.5"/><circle cx="365.6" cy="160.2" r="1.5"/><circle cx="369.6" cy="155.8" r="1.1"/><circle cx="372.1" cy="145.2" r="1.3"/><circle cx="373.2" cy="177.6" r="1.5"/><circle cx="370.2" cy="131.5" r="1.5"/><circle cx="372" cy="143.3" r="1.4"/><circle cx="358.5" cy="128.7" r="1.2"/><circle cx="371.2" cy="163.1" r="1.1"/><circle cx="367.9" cy="126.6" r="1.3"/><circle cx="371.3" cy="152.7" r="1.7"/><circle cx="370.5" cy="185.4" r="1"/><circle cx="367.3" cy="134.6" r="1.8"/><circle cx="366.1" cy="130.3" r="1.3"/><circle cx="361.9" cy="150.5" r="1.2"/><circle cx="359.1" cy="140" r="1.4"/><circle cx="369.4" cy="152.9" r="1.5"/><circle cx="363.1" cy="184.5" r="1.7"/><circle cx="368.5" cy="149.1" r="1.6"/><circle cx="364.9" cy="149.9" r="1.5"/><circle cx="366.3" cy="132.1" r="1.1"/><circle cx="367.9" cy="139.2" r="1.8"/><circle cx="361.7" cy="187.4" r="1.1"/><circle cx="364.8" cy="157.5" r="1.3"/><circle cx="369.4" cy="173" r="1.4"/><circle cx="367.2" cy="163.9" r="1.5"/><circle cx="373.4" cy="182.9" r="1.8"/><circle cx="359.1" cy="178.7" r="1.4"/><circle cx="362.3" cy="173.8" r="1.5"/><circle cx="360.8" cy="128.6" r="1.3"/><circle cx="364.5" cy="129.6" r="1.2"/><circle cx="362.7" cy="178.8" r="1.3"/><circle cx="366.8" cy="175.1" r="1"/><circle cx="367.7" cy="138.7" r="1.2"/><circle cx="367.9" cy="140.6" r="1.4"/><circle cx="366.8" cy="141.9" r="1.5"/><circle cx="362" cy="127.6" r="1.2"/><circle cx="358.2" cy="179.9" r="1.3"/><circle cx="369.1" cy="137.3" r="1.6"/><circle cx="372" cy="128.8" r="1.6"/><circle cx="372.9" cy="138.7" r="1.2"/><circle cx="358.6" cy="174.2" r="1.4"/><circle cx="372.5" cy="156.7" r="1.7"/><circle cx="358.2" cy="159.2" r="1.3"/><circle cx="374.2" cy="148.5" r="1.5"/><circle cx="363.5" cy="150.4" r="1.6"/><circle cx="371.2" cy="131.2" r="1.5"/><circle cx="369.4" cy="152.3" r="1.3"/><circle cx="364.4" cy="134.1" r="1"/><circle cx="364.8" cy="130.6" r="1.7"/><circle cx="365.8" cy="137.9" r="1.8"/></g><rect x="356.2" y="156.6" width="19.2" height="3.8" fill="#d9d9d9" fill-opacity="0.55" stroke="#a9a9a9" stroke-width="1.4"/><rect x="356.2" y="157.9" width="19.2" height="1.1" fill="#a9a9a9"/><rect x="379" y="126.9" width="20.2" height="26.1" rx="1.4" fill="#f9a33c"/><g fill="#f9a33c"><circle cx="380.9" cy="126.1" r="1.45" fill-opacity="0.85"/><circle cx="382.4" cy="126.4" r="1.45" fill-opacity="0.85"/><circle cx="384" cy="126.4" r="1.45" fill-opacity="0.85"/><circle cx="385.5" cy="126.6" r="1.45" fill-opacity="0.85"/><circle cx="386.9" cy="126.8" r="1.45" fill-opacity="0.85"/><circle cx="388.8" cy="126.2" r="1.45" fill-opacity="0.85"/><circle cx="390.7" cy="126.8" r="1.45" fill-opacity="0.85"/><circle cx="392.7" cy="126.9" r="1.45" fill-opacity="0.85"/><circle cx="394.6" cy="126.3" r="1.45" fill-opacity="0.85"/><circle cx="395.8" cy="126.5" r="1.45" fill-opacity="0.85"/><circle cx="397.8" cy="126.9" r="1.45" fill-opacity="0.85"/><circle cx="379.8" cy="153.5" r="1.45" fill-opacity="0.85"/><circle cx="381.9" cy="153.4" r="1.45" fill-opacity="0.85"/><circle cx="383.9" cy="153" r="1.45" fill-opacity="0.85"/><circle cx="386.2" cy="153.6" r="1.45" fill-opacity="0.85"/><circle cx="386.7" cy="153.7" r="1.45" fill-opacity="0.85"/><circle cx="389" cy="153.6" r="1.45" fill-opacity="0.85"/><circle cx="390.9" cy="153.9" r="1.45" fill-opacity="0.85"/><circle cx="391.8" cy="153.9" r="1.45" fill-opacity="0.85"/><circle cx="394" cy="153.2" r="1.45" fill-opacity="0.85"/><circle cx="395.5" cy="153.3" r="1.45" fill-opacity="0.85"/><circle cx="397.9" cy="153.5" r="1.45" fill-opacity="0.85"/><circle cx="379.6" cy="128.1" r="1.45" fill-opacity="0.9"/><circle cx="379.9" cy="130.5" r="1.45" fill-opacity="0.9"/><circle cx="379.8" cy="132.8" r="1.45" fill-opacity="0.9"/><circle cx="380" cy="135.2" r="1.45" fill-opacity="0.9"/><circle cx="379.6" cy="137.6" r="1.45" fill-opacity="0.9"/><circle cx="380" cy="139.9" r="1.45" fill-opacity="0.9"/><circle cx="380" cy="142.3" r="1.45" fill-opacity="0.9"/><circle cx="379.6" cy="144.7" r="1.45" fill-opacity="0.9"/><circle cx="379.8" cy="147.1" r="1.45" fill-opacity="0.9"/><circle cx="379.6" cy="149.4" r="1.45" fill-opacity="0.9"/><circle cx="379.8" cy="151.8" r="1.45" fill-opacity="0.9"/><circle cx="398.2" cy="128.1" r="1.45" fill-opacity="0.9"/><circle cx="398.6" cy="130.5" r="1.45" fill-opacity="0.9"/><circle cx="398.2" cy="132.8" r="1.45" fill-opacity="0.9"/><circle cx="398.5" cy="135.2" r="1.45" fill-opacity="0.9"/><circle cx="398.5" cy="137.6" r="1.45" fill-opacity="0.9"/><circle cx="398.3" cy="139.9" r="1.45" fill-opacity="0.9"/><circle cx="398.3" cy="142.3" r="1.45" fill-opacity="0.9"/><circle cx="398.6" cy="144.7" r="1.45" fill-opacity="0.9"/><circle cx="398.2" cy="147.1" r="1.45" fill-opacity="0.9"/><circle cx="398.3" cy="149.4" r="1.45" fill-opacity="0.9"/><circle cx="398.3" cy="151.8" r="1.45" fill-opacity="0.9"/><circle cx="386.7" cy="166" r="1.5" fill-opacity="0.6"/><circle cx="390.4" cy="155.5" r="1.5" fill-opacity="0.6"/><circle cx="392.9" cy="169.1" r="1.5" fill-opacity="0.6"/><circle cx="385.5" cy="163.9" r="1.5" fill-opacity="0.6"/><circle cx="389.7" cy="153.2" r="1.5" fill-opacity="0.6"/><circle cx="388" cy="167" r="1.5" fill-opacity="0.6"/><circle cx="383.6" cy="174.4" r="1.5" fill-opacity="0.6"/><circle cx="393.1" cy="171.2" r="1.5" fill-opacity="0.6"/><circle cx="397" cy="173.1" r="1.5" fill-opacity="0.6"/><circle cx="396.9" cy="158.3" r="1.5" fill-opacity="0.6"/><circle cx="392.4" cy="162" r="1.5" fill-opacity="0.6"/><circle cx="390.9" cy="174.2" r="1.5" fill-opacity="0.6"/><circle cx="381.2" cy="166" r="1.5" fill-opacity="0.6"/><circle cx="384.3" cy="166.3" r="1.5" fill-opacity="0.6"/><circle cx="386.8" cy="161.7" r="1.5" fill-opacity="0.6"/><circle cx="391.6" cy="174.7" r="1.5" fill-opacity="0.6"/><circle cx="383" cy="169.2" r="1.5" fill-opacity="0.6"/><circle cx="396.1" cy="159.8" r="1.5" fill-opacity="0.6"/><circle cx="397.5" cy="155.7" r="1.5" fill-opacity="0.6"/><circle cx="387.1" cy="162.5" r="1.5" fill-opacity="0.6"/><circle cx="388.1" cy="164.5" r="1.5" fill-opacity="0.6"/><circle cx="387.7" cy="163.5" r="1.5" fill-opacity="0.6"/><circle cx="385" cy="168.6" r="1.5" fill-opacity="0.6"/><circle cx="387.9" cy="156.7" r="1.5" fill-opacity="0.6"/></g><g fill="#fff" fill-opacity="0.38"><circle cx="388.2" cy="149.7" r="1.4"/><circle cx="382.5" cy="152.2" r="1.3"/><circle cx="386.4" cy="152.2" r="1.7"/><circle cx="381.3" cy="152" r="1.3"/><circle cx="389.6" cy="152.2" r="1.5"/><circle cx="392.1" cy="153" r="1.4"/><circle cx="387.9" cy="152.4" r="1"/><circle cx="390.7" cy="150.4" r="1.8"/><circle cx="385.4" cy="151.6" r="1.8"/><circle cx="384.5" cy="150.8" r="1.4"/><circle cx="382.5" cy="150.6" r="1.6"/><circle cx="397.1" cy="151.9" r="1.1"/></g><rect x="379.5" y="138.3" width="19.2" height="4.2" fill="#d9d9d9" fill-opacity="0.55" stroke="#a9a9a9" stroke-width="1.4"/><rect x="379.5" y="139.8" width="19.2" height="1.1" fill="#a9a9a9"/><rect x="402.1" y="135.9" width="20.8" height="17.3" fill="#e4e4e4" fill-opacity="0.45" stroke="#a3a3a3" stroke-width="0.9"/><rect x="402.4" y="141.7" width="20.2" height="1.6" fill="#a9a9a9"/><g fill="#238b22" fill-opacity="0.6"><circle cx="420.1" cy="158.3" r="1.5"/><circle cx="408" cy="146.4" r="1.5"/><circle cx="414.9" cy="140.3" r="1.5"/><circle cx="405.3" cy="159.7" r="1.5"/><circle cx="406.3" cy="146.9" r="1.5"/><circle cx="411.4" cy="162.2" r="1.5"/><circle cx="413.6" cy="144.4" r="1.5"/><circle cx="421.3" cy="141.7" r="1.5"/><circle cx="416.7" cy="137.3" r="1.5"/><circle cx="417.2" cy="156.5" r="1.5"/><circle cx="418.5" cy="146.6" r="1.5"/><circle cx="407.4" cy="152.1" r="1.5"/><circle cx="420" cy="140.1" r="1.5"/><circle cx="403.7" cy="135.5" r="1.5"/><circle cx="420.5" cy="128.8" r="1.5"/><circle cx="404.3" cy="132.3" r="1.5"/><circle cx="419.7" cy="142.9" r="1.5"/><circle cx="416" cy="154.9" r="1.5"/><circle cx="411.3" cy="155.8" r="1.5"/><circle cx="411.8" cy="148.8" r="1.5"/><circle cx="408.9" cy="128.7" r="1.5"/><circle cx="414.2" cy="138.5" r="1.5"/><circle cx="408.4" cy="161.3" r="1.5"/><circle cx="410" cy="132.4" r="1.5"/><circle cx="414.9" cy="148.6" r="1.5"/><circle cx="404.4" cy="141.6" r="1.5"/><circle cx="414.5" cy="139" r="1.5"/><circle cx="421.4" cy="158.3" r="1.5"/><circle cx="412.6" cy="162.7" r="1.5"/><circle cx="403.9" cy="137" r="1.5"/><circle cx="420.1" cy="147.5" r="1.5"/><circle cx="406.4" cy="149.8" r="1.5"/><circle cx="416.7" cy="151" r="1.5"/><circle cx="404.1" cy="130" r="1.5"/><circle cx="410.8" cy="129.2" r="1.5"/><circle cx="404.8" cy="152.5" r="1.5"/></g><rect x="425.7" y="130" width="20.2" height="56.8" rx="1.4" fill="#f9a33c"/><g fill="#f9a33c"><circle cx="427.1" cy="129.9" r="1.45" fill-opacity="0.85"/><circle cx="429.4" cy="129.7" r="1.45" fill-opacity="0.85"/><circle cx="431.1" cy="129.5" r="1.45" fill-opacity="0.85"/><circle cx="432.4" cy="129.6" r="1.45" fill-opacity="0.85"/><circle cx="434.2" cy="129.8" r="1.45" fill-opacity="0.85"/><circle cx="435.3" cy="129.2" r="1.45" fill-opacity="0.85"/><circle cx="436.9" cy="129.7" r="1.45" fill-opacity="0.85"/><circle cx="439.3" cy="129.7" r="1.45" fill-opacity="0.85"/><circle cx="440.5" cy="129.2" r="1.45" fill-opacity="0.85"/><circle cx="442" cy="129.8" r="1.45" fill-opacity="0.85"/><circle cx="444.6" cy="129.8" r="1.45" fill-opacity="0.85"/><circle cx="426.9" cy="187.6" r="1.45" fill-opacity="0.85"/><circle cx="428.6" cy="187.7" r="1.45" fill-opacity="0.85"/><circle cx="431" cy="187.6" r="1.45" fill-opacity="0.85"/><circle cx="431.9" cy="187" r="1.45" fill-opacity="0.85"/><circle cx="434.3" cy="187.5" r="1.45" fill-opacity="0.85"/><circle cx="435.3" cy="187" r="1.45" fill-opacity="0.85"/><circle cx="437" cy="186.9" r="1.45" fill-opacity="0.85"/><circle cx="438.9" cy="187.3" r="1.45" fill-opacity="0.85"/><circle cx="440.9" cy="186.8" r="1.45" fill-opacity="0.85"/><circle cx="442" cy="186.9" r="1.45" fill-opacity="0.85"/><circle cx="443.8" cy="187" r="1.45" fill-opacity="0.85"/><circle cx="426.7" cy="131.1" r="1.45" fill-opacity="0.9"/><circle cx="426.4" cy="133.4" r="1.45" fill-opacity="0.9"/><circle cx="426.3" cy="135.7" r="1.45" fill-opacity="0.9"/><circle cx="426.6" cy="138" r="1.45" fill-opacity="0.9"/><circle cx="426.7" cy="140.2" r="1.45" fill-opacity="0.9"/><circle cx="426.6" cy="142.5" r="1.45" fill-opacity="0.9"/><circle cx="426.6" cy="144.8" r="1.45" fill-opacity="0.9"/><circle cx="426.4" cy="147" r="1.45" fill-opacity="0.9"/><circle cx="426.5" cy="149.3" r="1.45" fill-opacity="0.9"/><circle cx="426.4" cy="151.6" r="1.45" fill-opacity="0.9"/><circle cx="426.7" cy="153.9" r="1.45" fill-opacity="0.9"/><circle cx="426.7" cy="156.1" r="1.45" fill-opacity="0.9"/><circle cx="426.5" cy="158.4" r="1.45" fill-opacity="0.9"/><circle cx="426.7" cy="160.7" r="1.45" fill-opacity="0.9"/><circle cx="426.6" cy="162.9" r="1.45" fill-opacity="0.9"/><circle cx="426.6" cy="165.2" r="1.45" fill-opacity="0.9"/><circle cx="426.4" cy="167.5" r="1.45" fill-opacity="0.9"/><circle cx="426.4" cy="169.8" r="1.45" fill-opacity="0.9"/><circle cx="426.4" cy="172" r="1.45" fill-opacity="0.9"/><circle cx="426.7" cy="174.3" r="1.45" fill-opacity="0.9"/><circle cx="426.7" cy="176.6" r="1.45" fill-opacity="0.9"/><circle cx="426.7" cy="178.8" r="1.45" fill-opacity="0.9"/><circle cx="426.7" cy="181.1" r="1.45" fill-opacity="0.9"/><circle cx="426.7" cy="183.4" r="1.45" fill-opacity="0.9"/><circle cx="426.5" cy="185.7" r="1.45" fill-opacity="0.9"/><circle cx="445.2" cy="131.1" r="1.45" fill-opacity="0.9"/><circle cx="444.9" cy="133.4" r="1.45" fill-opacity="0.9"/><circle cx="445.2" cy="135.7" r="1.45" fill-opacity="0.9"/><circle cx="444.9" cy="138" r="1.45" fill-opacity="0.9"/><circle cx="445.3" cy="140.2" r="1.45" fill-opacity="0.9"/><circle cx="445.3" cy="142.5" r="1.45" fill-opacity="0.9"/><circle cx="444.9" cy="144.8" r="1.45" fill-opacity="0.9"/><circle cx="445.2" cy="147" r="1.45" fill-opacity="0.9"/><circle cx="445.3" cy="149.3" r="1.45" fill-opacity="0.9"/><circle cx="444.9" cy="151.6" r="1.45" fill-opacity="0.9"/><circle cx="445.1" cy="153.9" r="1.45" fill-opacity="0.9"/><circle cx="445.1" cy="156.1" r="1.45" fill-opacity="0.9"/><circle cx="445.2" cy="158.4" r="1.45" fill-opacity="0.9"/><circle cx="445.3" cy="160.7" r="1.45" fill-opacity="0.9"/><circle cx="445.2" cy="162.9" r="1.45" fill-opacity="0.9"/><circle cx="445" cy="165.2" r="1.45" fill-opacity="0.9"/><circle cx="445.1" cy="167.5" r="1.45" fill-opacity="0.9"/><circle cx="445.1" cy="169.8" r="1.45" fill-opacity="0.9"/><circle cx="444.9" cy="172" r="1.45" fill-opacity="0.9"/><circle cx="444.9" cy="174.3" r="1.45" fill-opacity="0.9"/><circle cx="445" cy="176.6" r="1.45" fill-opacity="0.9"/><circle cx="444.9" cy="178.8" r="1.45" fill-opacity="0.9"/><circle cx="445" cy="181.1" r="1.45" fill-opacity="0.9"/><circle cx="445.2" cy="183.4" r="1.45" fill-opacity="0.9"/><circle cx="445.3" cy="185.7" r="1.45" fill-opacity="0.9"/><circle cx="438.5" cy="127.8" r="1.5" fill-opacity="0.6"/><circle cx="439" cy="129" r="1.5" fill-opacity="0.6"/><circle cx="426.6" cy="128.6" r="1.5" fill-opacity="0.6"/><circle cx="429.5" cy="129.5" r="1.5" fill-opacity="0.6"/><circle cx="436" cy="126.7" r="1.5" fill-opacity="0.6"/><circle cx="440.5" cy="128.3" r="1.5" fill-opacity="0.6"/><circle cx="444" cy="127.2" r="1.5" fill-opacity="0.6"/><circle cx="442.2" cy="128.5" r="1.5" fill-opacity="0.6"/><circle cx="427.9" cy="127.9" r="1.5" fill-opacity="0.6"/><circle cx="438.4" cy="126" r="1.5" fill-opacity="0.6"/></g><g fill="#fff" fill-opacity="0.38"><circle cx="434.8" cy="131.3" r="1.3"/><circle cx="435.4" cy="130.5" r="1.2"/><circle cx="430.3" cy="132.7" r="1.8"/><circle cx="433.8" cy="132.6" r="1.6"/><circle cx="435.2" cy="131.7" r="1.6"/><circle cx="430.7" cy="132.5" r="1.7"/></g><rect x="425.7" y="164.2" width="20.2" height="3.1" fill="#a9a9a9"/><rect x="449.1" y="126" width="20.2" height="61.2" rx="1.4" fill="#238b22"/><g fill="#238b22"><circle cx="449.9" cy="126" r="1.45" fill-opacity="0.85"/><circle cx="452.2" cy="125.7" r="1.45" fill-opacity="0.85"/><circle cx="453.9" cy="125.6" r="1.45" fill-opacity="0.85"/><circle cx="455.6" cy="125.2" r="1.45" fill-opacity="0.85"/><circle cx="457.9" cy="125.7" r="1.45" fill-opacity="0.85"/><circle cx="458.7" cy="125.4" r="1.45" fill-opacity="0.85"/><circle cx="460.3" cy="125.6" r="1.45" fill-opacity="0.85"/><circle cx="462.7" cy="126" r="1.45" fill-opacity="0.85"/><circle cx="464.5" cy="125.3" r="1.45" fill-opacity="0.85"/><circle cx="465.6" cy="125.8" r="1.45" fill-opacity="0.85"/><circle cx="467.5" cy="125.7" r="1.45" fill-opacity="0.85"/><circle cx="451" cy="187.7" r="1.45" fill-opacity="0.85"/><circle cx="452" cy="187.9" r="1.45" fill-opacity="0.85"/><circle cx="454.1" cy="187.3" r="1.45" fill-opacity="0.85"/><circle cx="455.5" cy="187.6" r="1.45" fill-opacity="0.85"/><circle cx="457.9" cy="187.5" r="1.45" fill-opacity="0.85"/><circle cx="459" cy="188.1" r="1.45" fill-opacity="0.85"/><circle cx="460.6" cy="187.9" r="1.45" fill-opacity="0.85"/><circle cx="461.9" cy="187.6" r="1.45" fill-opacity="0.85"/><circle cx="463.7" cy="188" r="1.45" fill-opacity="0.85"/><circle cx="465.9" cy="187.4" r="1.45" fill-opacity="0.85"/><circle cx="466.9" cy="187.6" r="1.45" fill-opacity="0.85"/><circle cx="449.7" cy="127.1" r="1.45" fill-opacity="0.9"/><circle cx="449.9" cy="129.4" r="1.45" fill-opacity="0.9"/><circle cx="450" cy="131.7" r="1.45" fill-opacity="0.9"/><circle cx="449.8" cy="133.9" r="1.45" fill-opacity="0.9"/><circle cx="449.7" cy="136.2" r="1.45" fill-opacity="0.9"/><circle cx="449.8" cy="138.5" r="1.45" fill-opacity="0.9"/><circle cx="449.7" cy="140.7" r="1.45" fill-opacity="0.9"/><circle cx="450.1" cy="143" r="1.45" fill-opacity="0.9"/><circle cx="449.7" cy="145.3" r="1.45" fill-opacity="0.9"/><circle cx="450" cy="147.5" r="1.45" fill-opacity="0.9"/><circle cx="449.8" cy="149.8" r="1.45" fill-opacity="0.9"/><circle cx="450" cy="152.1" r="1.45" fill-opacity="0.9"/><circle cx="450" cy="154.3" r="1.45" fill-opacity="0.9"/><circle cx="449.7" cy="156.6" r="1.45" fill-opacity="0.9"/><circle cx="450" cy="158.9" r="1.45" fill-opacity="0.9"/><circle cx="450.1" cy="161.1" r="1.45" fill-opacity="0.9"/><circle cx="449.9" cy="163.4" r="1.45" fill-opacity="0.9"/><circle cx="450" cy="165.7" r="1.45" fill-opacity="0.9"/><circle cx="449.8" cy="167.9" r="1.45" fill-opacity="0.9"/><circle cx="449.7" cy="170.2" r="1.45" fill-opacity="0.9"/><circle cx="450" cy="172.5" r="1.45" fill-opacity="0.9"/><circle cx="450.1" cy="174.7" r="1.45" fill-opacity="0.9"/><circle cx="449.8" cy="177" r="1.45" fill-opacity="0.9"/><circle cx="449.7" cy="179.3" r="1.45" fill-opacity="0.9"/><circle cx="449.8" cy="181.5" r="1.45" fill-opacity="0.9"/><circle cx="450" cy="183.8" r="1.45" fill-opacity="0.9"/><circle cx="449.8" cy="186.1" r="1.45" fill-opacity="0.9"/><circle cx="468.7" cy="127.1" r="1.45" fill-opacity="0.9"/><circle cx="468.6" cy="129.4" r="1.45" fill-opacity="0.9"/><circle cx="468.7" cy="131.7" r="1.45" fill-opacity="0.9"/><circle cx="468.5" cy="133.9" r="1.45" fill-opacity="0.9"/><circle cx="468.6" cy="136.2" r="1.45" fill-opacity="0.9"/><circle cx="468.7" cy="138.5" r="1.45" fill-opacity="0.9"/><circle cx="468.3" cy="140.7" r="1.45" fill-opacity="0.9"/><circle cx="468.5" cy="143" r="1.45" fill-opacity="0.9"/><circle cx="468.3" cy="145.3" r="1.45" fill-opacity="0.9"/><circle cx="468.6" cy="147.5" r="1.45" fill-opacity="0.9"/><circle cx="468.4" cy="149.8" r="1.45" fill-opacity="0.9"/><circle cx="468.6" cy="152.1" r="1.45" fill-opacity="0.9"/><circle cx="468.4" cy="154.3" r="1.45" fill-opacity="0.9"/><circle cx="468.6" cy="156.6" r="1.45" fill-opacity="0.9"/><circle cx="468.6" cy="158.9" r="1.45" fill-opacity="0.9"/><circle cx="468.7" cy="161.1" r="1.45" fill-opacity="0.9"/><circle cx="468.7" cy="163.4" r="1.45" fill-opacity="0.9"/><circle cx="468.5" cy="165.7" r="1.45" fill-opacity="0.9"/><circle cx="468.6" cy="167.9" r="1.45" fill-opacity="0.9"/><circle cx="468.3" cy="170.2" r="1.45" fill-opacity="0.9"/><circle cx="468.3" cy="172.5" r="1.45" fill-opacity="0.9"/><circle cx="468.6" cy="174.7" r="1.45" fill-opacity="0.9"/><circle cx="468.7" cy="177" r="1.45" fill-opacity="0.9"/><circle cx="468.6" cy="179.3" r="1.45" fill-opacity="0.9"/><circle cx="468.5" cy="181.5" r="1.45" fill-opacity="0.9"/><circle cx="468.6" cy="183.8" r="1.45" fill-opacity="0.9"/><circle cx="468.6" cy="186.1" r="1.45" fill-opacity="0.9"/></g><g fill="#fff" fill-opacity="0.38"><circle cx="456.9" cy="160.7" r="1.7"/><circle cx="466.1" cy="148.5" r="1.6"/><circle cx="464.9" cy="174.4" r="1.8"/><circle cx="459.2" cy="186.4" r="1.3"/><circle cx="467.2" cy="170.7" r="1.5"/><circle cx="451.4" cy="127.6" r="1.4"/><circle cx="465.8" cy="174" r="1.3"/><circle cx="459.4" cy="157.5" r="1.1"/><circle cx="459.6" cy="126.1" r="1.4"/><circle cx="453.8" cy="178.7" r="1.7"/><circle cx="459.9" cy="142.5" r="1.6"/><circle cx="466.8" cy="134.9" r="1.8"/><circle cx="450.7" cy="185.2" r="1.5"/><circle cx="465.7" cy="166.9" r="1.2"/><circle cx="464.5" cy="133.6" r="1.2"/><circle cx="452.3" cy="130" r="1.5"/><circle cx="463.4" cy="158.7" r="1.6"/><circle cx="466.6" cy="126.2" r="1.7"/><circle cx="463.8" cy="182.9" r="1.3"/><circle cx="466.2" cy="141.1" r="1.3"/><circle cx="462.6" cy="155.8" r="1.6"/><circle cx="461.3" cy="168.3" r="1.4"/><circle cx="457.4" cy="172.8" r="1.2"/><circle cx="465.1" cy="181.5" r="1.6"/><circle cx="451.5" cy="136.3" r="1.7"/><circle cx="455.3" cy="183.5" r="1.5"/><circle cx="457.4" cy="127.1" r="1.6"/><circle cx="464.4" cy="148" r="1.7"/></g><rect x="449.1" y="156.6" width="20.2" height="3.6" fill="#a9a9a9"/><rect x="472.4" y="125.5" width="20.2" height="61.3" rx="1.4" fill="#f9a33c"/><g fill="#f9a33c"><circle cx="473.4" cy="124.9" r="1.45" fill-opacity="0.85"/><circle cx="475.4" cy="125.3" r="1.45" fill-opacity="0.85"/><circle cx="477.1" cy="125.1" r="1.45" fill-opacity="0.85"/><circle cx="479.5" cy="124.8" r="1.45" fill-opacity="0.85"/><circle cx="480" cy="125.4" r="1.45" fill-opacity="0.85"/><circle cx="483" cy="125" r="1.45" fill-opacity="0.85"/><circle cx="484.2" cy="125.2" r="1.45" fill-opacity="0.85"/><circle cx="486.2" cy="125" r="1.45" fill-opacity="0.85"/><circle cx="487.5" cy="125.3" r="1.45" fill-opacity="0.85"/><circle cx="489.5" cy="125.3" r="1.45" fill-opacity="0.85"/><circle cx="490.3" cy="125" r="1.45" fill-opacity="0.85"/><circle cx="474.3" cy="187.1" r="1.45" fill-opacity="0.85"/><circle cx="475.3" cy="186.9" r="1.45" fill-opacity="0.85"/><circle cx="477.4" cy="187.5" r="1.45" fill-opacity="0.85"/><circle cx="478.4" cy="187.3" r="1.45" fill-opacity="0.85"/><circle cx="480.7" cy="186.9" r="1.45" fill-opacity="0.85"/><circle cx="482.4" cy="187" r="1.45" fill-opacity="0.85"/><circle cx="483.6" cy="187.7" r="1.45" fill-opacity="0.85"/><circle cx="485.2" cy="187.1" r="1.45" fill-opacity="0.85"/><circle cx="487.6" cy="187.2" r="1.45" fill-opacity="0.85"/><circle cx="488.4" cy="187.6" r="1.45" fill-opacity="0.85"/><circle cx="490.4" cy="187.2" r="1.45" fill-opacity="0.85"/><circle cx="473.4" cy="126.6" r="1.45" fill-opacity="0.9"/><circle cx="473.4" cy="128.9" r="1.45" fill-opacity="0.9"/><circle cx="473.4" cy="131.2" r="1.45" fill-opacity="0.9"/><circle cx="473.2" cy="133.4" r="1.45" fill-opacity="0.9"/><circle cx="473.3" cy="135.7" r="1.45" fill-opacity="0.9"/><circle cx="473.4" cy="138" r="1.45" fill-opacity="0.9"/><circle cx="473" cy="140.3" r="1.45" fill-opacity="0.9"/><circle cx="473.4" cy="142.5" r="1.45" fill-opacity="0.9"/><circle cx="473" cy="144.8" r="1.45" fill-opacity="0.9"/><circle cx="473.3" cy="147.1" r="1.45" fill-opacity="0.9"/><circle cx="473.1" cy="149.3" r="1.45" fill-opacity="0.9"/><circle cx="473.1" cy="151.6" r="1.45" fill-opacity="0.9"/><circle cx="473" cy="153.9" r="1.45" fill-opacity="0.9"/><circle cx="473.4" cy="156.2" r="1.45" fill-opacity="0.9"/><circle cx="473" cy="158.4" r="1.45" fill-opacity="0.9"/><circle cx="473.4" cy="160.7" r="1.45" fill-opacity="0.9"/><circle cx="473" cy="163" r="1.45" fill-opacity="0.9"/><circle cx="473.1" cy="165.2" r="1.45" fill-opacity="0.9"/><circle cx="473.1" cy="167.5" r="1.45" fill-opacity="0.9"/><circle cx="473.4" cy="169.8" r="1.45" fill-opacity="0.9"/><circle cx="473" cy="172" r="1.45" fill-opacity="0.9"/><circle cx="473.4" cy="174.3" r="1.45" fill-opacity="0.9"/><circle cx="473.1" cy="176.6" r="1.45" fill-opacity="0.9"/><circle cx="473.4" cy="178.9" r="1.45" fill-opacity="0.9"/><circle cx="473.3" cy="181.1" r="1.45" fill-opacity="0.9"/><circle cx="473.1" cy="183.4" r="1.45" fill-opacity="0.9"/><circle cx="473.2" cy="185.7" r="1.45" fill-opacity="0.9"/><circle cx="491.6" cy="126.6" r="1.45" fill-opacity="0.9"/><circle cx="491.8" cy="128.9" r="1.45" fill-opacity="0.9"/><circle cx="491.6" cy="131.2" r="1.45" fill-opacity="0.9"/><circle cx="491.9" cy="133.4" r="1.45" fill-opacity="0.9"/><circle cx="491.8" cy="135.7" r="1.45" fill-opacity="0.9"/><circle cx="491.7" cy="138" r="1.45" fill-opacity="0.9"/><circle cx="491.6" cy="140.3" r="1.45" fill-opacity="0.9"/><circle cx="492" cy="142.5" r="1.45" fill-opacity="0.9"/><circle cx="491.6" cy="144.8" r="1.45" fill-opacity="0.9"/><circle cx="491.7" cy="147.1" r="1.45" fill-opacity="0.9"/><circle cx="491.6" cy="149.3" r="1.45" fill-opacity="0.9"/><circle cx="491.7" cy="151.6" r="1.45" fill-opacity="0.9"/><circle cx="491.8" cy="153.9" r="1.45" fill-opacity="0.9"/><circle cx="491.8" cy="156.2" r="1.45" fill-opacity="0.9"/><circle cx="491.7" cy="158.4" r="1.45" fill-opacity="0.9"/><circle cx="491.7" cy="160.7" r="1.45" fill-opacity="0.9"/><circle cx="491.9" cy="163" r="1.45" fill-opacity="0.9"/><circle cx="491.7" cy="165.2" r="1.45" fill-opacity="0.9"/><circle cx="491.7" cy="167.5" r="1.45" fill-opacity="0.9"/><circle cx="491.8" cy="169.8" r="1.45" fill-opacity="0.9"/><circle cx="491.7" cy="172" r="1.45" fill-opacity="0.9"/><circle cx="491.9" cy="174.3" r="1.45" fill-opacity="0.9"/><circle cx="491.6" cy="176.6" r="1.45" fill-opacity="0.9"/><circle cx="491.7" cy="178.9" r="1.45" fill-opacity="0.9"/><circle cx="491.8" cy="181.1" r="1.45" fill-opacity="0.9"/><circle cx="491.7" cy="183.4" r="1.45" fill-opacity="0.9"/><circle cx="492" cy="185.7" r="1.45" fill-opacity="0.9"/></g><g fill="#fff" fill-opacity="0.38"><circle cx="481.2" cy="126.4" r="1.4"/><circle cx="477.7" cy="127.6" r="1.7"/><circle cx="478.5" cy="127.9" r="1.1"/><circle cx="479.3" cy="127.5" r="1.2"/><circle cx="484.4" cy="125.7" r="1.7"/></g><rect x="472.4" y="159.9" width="20.2" height="3.1" fill="#a9a9a9"/><rect x="495.8" y="125.5" width="20.2" height="61.3" rx="1.4" fill="#238b22"/><g fill="#238b22"><circle cx="497.8" cy="125" r="1.45" fill-opacity="0.85"/><circle cx="498.9" cy="124.6" r="1.45" fill-opacity="0.85"/><circle cx="500.9" cy="124.6" r="1.45" fill-opacity="0.85"/><circle cx="502.6" cy="124.9" r="1.45" fill-opacity="0.85"/><circle cx="504.3" cy="125.4" r="1.45" fill-opacity="0.85"/><circle cx="505.4" cy="125.4" r="1.45" fill-opacity="0.85"/><circle cx="508" cy="124.6" r="1.45" fill-opacity="0.85"/><circle cx="509.3" cy="125.4" r="1.45" fill-opacity="0.85"/><circle cx="510.3" cy="125.1" r="1.45" fill-opacity="0.85"/><circle cx="512.3" cy="125.3" r="1.45" fill-opacity="0.85"/><circle cx="513.6" cy="124.9" r="1.45" fill-opacity="0.85"/><circle cx="497.7" cy="186.9" r="1.45" fill-opacity="0.85"/><circle cx="498.7" cy="187.1" r="1.45" fill-opacity="0.85"/><circle cx="500.7" cy="187.3" r="1.45" fill-opacity="0.85"/><circle cx="502.2" cy="187.6" r="1.45" fill-opacity="0.85"/><circle cx="503.9" cy="187.1" r="1.45" fill-opacity="0.85"/><circle cx="506.1" cy="187.6" r="1.45" fill-opacity="0.85"/><circle cx="507.9" cy="187" r="1.45" fill-opacity="0.85"/><circle cx="508.7" cy="187.2" r="1.45" fill-opacity="0.85"/><circle cx="511.4" cy="187.4" r="1.45" fill-opacity="0.85"/><circle cx="512.7" cy="187.1" r="1.45" fill-opacity="0.85"/><circle cx="514.8" cy="187" r="1.45" fill-opacity="0.85"/><circle cx="496.6" cy="126.6" r="1.45" fill-opacity="0.9"/><circle cx="496.7" cy="128.9" r="1.45" fill-opacity="0.9"/><circle cx="496.8" cy="131.2" r="1.45" fill-opacity="0.9"/><circle cx="496.8" cy="133.4" r="1.45" fill-opacity="0.9"/><circle cx="496.5" cy="135.7" r="1.45" fill-opacity="0.9"/><circle cx="496.5" cy="138" r="1.45" fill-opacity="0.9"/><circle cx="496.8" cy="140.3" r="1.45" fill-opacity="0.9"/><circle cx="496.6" cy="142.5" r="1.45" fill-opacity="0.9"/><circle cx="496.5" cy="144.8" r="1.45" fill-opacity="0.9"/><circle cx="496.4" cy="147.1" r="1.45" fill-opacity="0.9"/><circle cx="496.8" cy="149.3" r="1.45" fill-opacity="0.9"/><circle cx="496.8" cy="151.6" r="1.45" fill-opacity="0.9"/><circle cx="496.6" cy="153.9" r="1.45" fill-opacity="0.9"/><circle cx="496.5" cy="156.2" r="1.45" fill-opacity="0.9"/><circle cx="496.7" cy="158.4" r="1.45" fill-opacity="0.9"/><circle cx="496.8" cy="160.7" r="1.45" fill-opacity="0.9"/><circle cx="496.6" cy="163" r="1.45" fill-opacity="0.9"/><circle cx="496.7" cy="165.2" r="1.45" fill-opacity="0.9"/><circle cx="496.8" cy="167.5" r="1.45" fill-opacity="0.9"/><circle cx="496.7" cy="169.8" r="1.45" fill-opacity="0.9"/><circle cx="496.6" cy="172" r="1.45" fill-opacity="0.9"/><circle cx="496.4" cy="174.3" r="1.45" fill-opacity="0.9"/><circle cx="496.7" cy="176.6" r="1.45" fill-opacity="0.9"/><circle cx="496.8" cy="178.9" r="1.45" fill-opacity="0.9"/><circle cx="496.8" cy="181.1" r="1.45" fill-opacity="0.9"/><circle cx="496.4" cy="183.4" r="1.45" fill-opacity="0.9"/><circle cx="496.4" cy="185.7" r="1.45" fill-opacity="0.9"/><circle cx="515.3" cy="126.6" r="1.45" fill-opacity="0.9"/><circle cx="515.4" cy="128.9" r="1.45" fill-opacity="0.9"/><circle cx="515" cy="131.2" r="1.45" fill-opacity="0.9"/><circle cx="515.3" cy="133.4" r="1.45" fill-opacity="0.9"/><circle cx="515.1" cy="135.7" r="1.45" fill-opacity="0.9"/><circle cx="515.4" cy="138" r="1.45" fill-opacity="0.9"/><circle cx="515.1" cy="140.3" r="1.45" fill-opacity="0.9"/><circle cx="515" cy="142.5" r="1.45" fill-opacity="0.9"/><circle cx="515.3" cy="144.8" r="1.45" fill-opacity="0.9"/><circle cx="515.1" cy="147.1" r="1.45" fill-opacity="0.9"/><circle cx="515.2" cy="149.3" r="1.45" fill-opacity="0.9"/><circle cx="515" cy="151.6" r="1.45" fill-opacity="0.9"/><circle cx="515.1" cy="153.9" r="1.45" fill-opacity="0.9"/><circle cx="515" cy="156.2" r="1.45" fill-opacity="0.9"/><circle cx="515.1" cy="158.4" r="1.45" fill-opacity="0.9"/><circle cx="515.2" cy="160.7" r="1.45" fill-opacity="0.9"/><circle cx="515.1" cy="163" r="1.45" fill-opacity="0.9"/><circle cx="515.3" cy="165.2" r="1.45" fill-opacity="0.9"/><circle cx="515.4" cy="167.5" r="1.45" fill-opacity="0.9"/><circle cx="515.2" cy="169.8" r="1.45" fill-opacity="0.9"/><circle cx="515" cy="172" r="1.45" fill-opacity="0.9"/><circle cx="515.4" cy="174.3" r="1.45" fill-opacity="0.9"/><circle cx="515" cy="176.6" r="1.45" fill-opacity="0.9"/><circle cx="515.1" cy="178.9" r="1.45" fill-opacity="0.9"/><circle cx="515.2" cy="181.1" r="1.45" fill-opacity="0.9"/><circle cx="515.3" cy="183.4" r="1.45" fill-opacity="0.9"/><circle cx="515.1" cy="185.7" r="1.45" fill-opacity="0.9"/></g><g fill="#fff" fill-opacity="0.38"><circle cx="508.1" cy="174.6" r="1.4"/><circle cx="504.4" cy="171.2" r="1.3"/><circle cx="507.6" cy="171.4" r="1.4"/><circle cx="509.5" cy="174" r="1.7"/><circle cx="503.2" cy="179.1" r="1.7"/><circle cx="511.1" cy="167.3" r="1.3"/><circle cx="511.7" cy="173.6" r="1.5"/><circle cx="512.3" cy="186.2" r="1.1"/><circle cx="510.4" cy="176" r="1.1"/><circle cx="514.3" cy="176.8" r="1.2"/><circle cx="502.3" cy="167.5" r="1.3"/><circle cx="504.7" cy="171.2" r="1.7"/><circle cx="507.4" cy="176.3" r="1.1"/><circle cx="513.6" cy="166.4" r="1.3"/><circle cx="503.1" cy="185.7" r="1.5"/><circle cx="498.9" cy="179.4" r="1.1"/><circle cx="499.6" cy="174.6" r="1.2"/><circle cx="502.7" cy="169.3" r="1.4"/><circle cx="503.1" cy="171.8" r="1.4"/><circle cx="498.1" cy="179.9" r="1.8"/><circle cx="513.1" cy="174.4" r="1"/><circle cx="499.1" cy="166.3" r="1.7"/><circle cx="511.8" cy="174" r="1.6"/><circle cx="503.5" cy="166.9" r="1.3"/><circle cx="510.2" cy="174.9" r="1.1"/><circle cx="505.5" cy="185.2" r="1.3"/><circle cx="502.1" cy="180.2" r="1.6"/><circle cx="505.5" cy="174.1" r="1.2"/><circle cx="512" cy="169.4" r="1.5"/><circle cx="510.6" cy="174.2" r="1.7"/><circle cx="514.4" cy="168.5" r="1"/><circle cx="501.9" cy="178.4" r="1.2"/><circle cx="507.7" cy="175.8" r="1.3"/><circle cx="513.6" cy="180.6" r="1.1"/><circle cx="507.8" cy="170.2" r="1.3"/><circle cx="506" cy="171.9" r="1.6"/><circle cx="513.4" cy="184.8" r="1.7"/><circle cx="512.4" cy="172.6" r="1.6"/><circle cx="513.6" cy="168.8" r="1.2"/><circle cx="509.2" cy="179.9" r="1.7"/><circle cx="514.1" cy="179.5" r="1"/><circle cx="500.7" cy="165.8" r="1.5"/><circle cx="498.8" cy="174.2" r="1.2"/><circle cx="504.2" cy="177.6" r="1.6"/><circle cx="512.3" cy="175.2" r="1.6"/><circle cx="503.5" cy="175.8" r="1.2"/><circle cx="503.4" cy="171.4" r="1.3"/><circle cx="505.4" cy="168.9" r="1.1"/><circle cx="506.8" cy="183.9" r="1.1"/><circle cx="501.7" cy="172.1" r="1.1"/><circle cx="500.5" cy="175.5" r="1.1"/><circle cx="504.7" cy="180.3" r="1.5"/><circle cx="506" cy="175.2" r="1.2"/><circle cx="505.6" cy="174.3" r="1.3"/><circle cx="501.6" cy="183" r="1.2"/><circle cx="510.7" cy="172.5" r="1.7"/><circle cx="503.5" cy="177.3" r="1.5"/><circle cx="501.5" cy="183" r="1.5"/><circle cx="504" cy="180.5" r="1.1"/><circle cx="501" cy="178.2" r="1.3"/><circle cx="513.8" cy="176.9" r="1.1"/><circle cx="506.6" cy="166.6" r="1.8"/><circle cx="508.3" cy="166" r="1"/><circle cx="499.4" cy="177" r="1.5"/><circle cx="508.5" cy="172.9" r="1.2"/><circle cx="500.5" cy="166.6" r="1.2"/><circle cx="500.8" cy="168.6" r="1.4"/><circle cx="511.4" cy="174.5" r="1.4"/><circle cx="509.5" cy="176.8" r="1.7"/><circle cx="498" cy="177.7" r="1.4"/></g><rect x="495.8" y="146.4" width="20.2" height="2.6" fill="#a9a9a9"/><line x1="281.4" x2="519.5" y1="228.2" y2="228.2" stroke="#ededed" stroke-width="0.4"/><line x1="281.4" x2="519.5" y1="243.3" y2="243.3" stroke="#ededed" stroke-width="0.4"/><line x1="281.4" x2="519.5" y1="258.4" y2="258.4" stroke="#ededed" stroke-width="0.4"/><line x1="281.4" x2="519.5" y1="273.5" y2="273.5" stroke="#ededed" stroke-width="0.4"/><line x1="281.4" x2="519.5" y1="220.7" y2="220.7" stroke="#e6e6e6" stroke-width="0.75"/><text transform="translate(278.3 223.2) scale(0.86 1)" font-family="'Liberation Sans', sans-serif" font-size="7" fill="#4d4d4d" text-anchor="end">1.00</text><line x1="281.4" x2="519.5" y1="235.8" y2="235.8" stroke="#e6e6e6" stroke-width="0.75"/><text transform="translate(278.3 238.3) scale(0.86 1)" font-family="'Liberation Sans', sans-serif" font-size="7" fill="#4d4d4d" text-anchor="end">0.75</text><line x1="281.4" x2="519.5" y1="250.8" y2="250.8" stroke="#e6e6e6" stroke-width="0.75"/><text transform="translate(278.3 253.3) scale(0.86 1)" font-family="'Liberation Sans', sans-serif" font-size="7" fill="#4d4d4d" text-anchor="end">0.50</text><line x1="281.4" x2="519.5" y1="265.9" y2="265.9" stroke="#e6e6e6" stroke-width="0.75"/><text transform="translate(278.3 268.4) scale(0.86 1)" font-family="'Liberation Sans', sans-serif" font-size="7" fill="#4d4d4d" text-anchor="end">0.25</text><line x1="281.4" x2="519.5" y1="281" y2="281" stroke="#e6e6e6" stroke-width="0.75"/><text transform="translate(278.3 283.5) scale(0.86 1)" font-family="'Liberation Sans', sans-serif" font-size="7" fill="#4d4d4d" text-anchor="end">0.00</text><line x1="295.7" x2="295.7" y1="217" y2="284.8" stroke="#e6e6e6" stroke-width="0.75"/><line x1="342.4" x2="342.4" y1="217" y2="284.8" stroke="#e6e6e6" stroke-width="0.75"/><line x1="389.1" x2="389.1" y1="217" y2="284.8" stroke="#e6e6e6" stroke-width="0.75"/><line x1="435.8" x2="435.8" y1="217" y2="284.8" stroke="#e6e6e6" stroke-width="0.75"/><line x1="482.5" x2="482.5" y1="217" y2="284.8" stroke="#e6e6e6" stroke-width="0.75"/><line x1="319.1" x2="319.1" y1="217" y2="284.8" stroke="#e6e6e6" stroke-width="0.75"/><line x1="365.8" x2="365.8" y1="217" y2="284.8" stroke="#e6e6e6" stroke-width="0.75"/><line x1="412.5" x2="412.5" y1="217" y2="284.8" stroke="#e6e6e6" stroke-width="0.75"/><line x1="459.2" x2="459.2" y1="217" y2="284.8" stroke="#e6e6e6" stroke-width="0.75"/><line x1="505.9" x2="505.9" y1="217" y2="284.8" stroke="#e6e6e6" stroke-width="0.75"/><line x1="330.5" x2="330.5" y1="217" y2="284.8" stroke="#ababab" stroke-width="0.85" stroke-dasharray="3.8 2.4"/><line x1="377.2" x2="377.2" y1="217" y2="284.8" stroke="#ababab" stroke-width="0.85" stroke-dasharray="3.8 2.4"/><line x1="423.9" x2="423.9" y1="217" y2="284.8" stroke="#ababab" stroke-width="0.85" stroke-dasharray="3.8 2.4"/><line x1="470.6" x2="470.6" y1="217" y2="284.8" stroke="#ababab" stroke-width="0.85" stroke-dasharray="3.8 2.4"/><text x="281.8" y="212.8" font-family="'Liberation Sans', sans-serif" font-size="7.2" fill="#000">Proportion of agricultural area</text><text transform="translate(262.1 218.5) scale(1 1)" font-family="'Liberation Sans', sans-serif" font-size="10.4" font-weight="bold" fill="#000">E</text><rect x="285.6" y="268.5" width="20.2" height="13.9" rx="1.4" fill="#f9a33c"/><g fill="#f9a33c"><circle cx="286.4" cy="268" r="1.45" fill-opacity="0.85"/><circle cx="288.2" cy="268" r="1.45" fill-opacity="0.85"/><circle cx="290" cy="267.7" r="1.45" fill-opacity="0.85"/><circle cx="291.6" cy="267.9" r="1.45" fill-opacity="0.85"/><circle cx="294.1" cy="268.3" r="1.45" fill-opacity="0.85"/><circle cx="295.7" cy="268.2" r="1.45" fill-opacity="0.85"/><circle cx="296.9" cy="268.3" r="1.45" fill-opacity="0.85"/><circle cx="298.3" cy="267.9" r="1.45" fill-opacity="0.85"/><circle cx="300" cy="268.3" r="1.45" fill-opacity="0.85"/><circle cx="301.7" cy="267.8" r="1.45" fill-opacity="0.85"/><circle cx="304" cy="268.1" r="1.45" fill-opacity="0.85"/><circle cx="287.2" cy="283.1" r="1.45" fill-opacity="0.85"/><circle cx="288.9" cy="282.9" r="1.45" fill-opacity="0.85"/><circle cx="290.2" cy="282.9" r="1.45" fill-opacity="0.85"/><circle cx="292.8" cy="282.9" r="1.45" fill-opacity="0.85"/><circle cx="293.8" cy="283.2" r="1.45" fill-opacity="0.85"/><circle cx="294.9" cy="282.5" r="1.45" fill-opacity="0.85"/><circle cx="297.6" cy="283.2" r="1.45" fill-opacity="0.85"/><circle cx="298.3" cy="282.4" r="1.45" fill-opacity="0.85"/><circle cx="299.9" cy="282.9" r="1.45" fill-opacity="0.85"/><circle cx="301.8" cy="282.9" r="1.45" fill-opacity="0.85"/><circle cx="304.2" cy="282.4" r="1.45" fill-opacity="0.85"/><circle cx="286.6" cy="269.7" r="1.45" fill-opacity="0.9"/><circle cx="286.3" cy="272" r="1.45" fill-opacity="0.9"/><circle cx="286.4" cy="274.3" r="1.45" fill-opacity="0.9"/><circle cx="286.3" cy="276.6" r="1.45" fill-opacity="0.9"/><circle cx="286.3" cy="278.9" r="1.45" fill-opacity="0.9"/><circle cx="286.4" cy="281.2" r="1.45" fill-opacity="0.9"/><circle cx="304.8" cy="269.7" r="1.45" fill-opacity="0.9"/><circle cx="305" cy="272" r="1.45" fill-opacity="0.9"/><circle cx="304.9" cy="274.3" r="1.45" fill-opacity="0.9"/><circle cx="304.9" cy="276.6" r="1.45" fill-opacity="0.9"/><circle cx="304.8" cy="278.9" r="1.45" fill-opacity="0.9"/><circle cx="304.9" cy="281.2" r="1.45" fill-opacity="0.9"/><circle cx="304.6" cy="235.8" r="1.5" fill-opacity="0.6"/><circle cx="302.5" cy="234.5" r="1.5" fill-opacity="0.6"/><circle cx="288.3" cy="253.8" r="1.5" fill-opacity="0.6"/><circle cx="302.8" cy="249.7" r="1.5" fill-opacity="0.6"/><circle cx="288.4" cy="251.2" r="1.5" fill-opacity="0.6"/><circle cx="299.5" cy="254.1" r="1.5" fill-opacity="0.6"/><circle cx="295.7" cy="255.8" r="1.5" fill-opacity="0.6"/><circle cx="292.3" cy="251.8" r="1.5" fill-opacity="0.6"/><circle cx="298.2" cy="251" r="1.5" fill-opacity="0.6"/><circle cx="288" cy="256.1" r="1.5" fill-opacity="0.6"/><circle cx="293" cy="261.1" r="1.5" fill-opacity="0.6"/><circle cx="297.5" cy="257.5" r="1.5" fill-opacity="0.6"/><circle cx="291.6" cy="268.3" r="1.5" fill-opacity="0.6"/><circle cx="303.1" cy="265.2" r="1.5" fill-opacity="0.6"/><circle cx="303.5" cy="259.7" r="1.5" fill-opacity="0.6"/><circle cx="298.4" cy="265.5" r="1.5" fill-opacity="0.6"/><circle cx="291.6" cy="258.8" r="1.5" fill-opacity="0.6"/><circle cx="303" cy="257.7" r="1.5" fill-opacity="0.6"/><circle cx="288.1" cy="266.2" r="1.5" fill-opacity="0.6"/><circle cx="290.4" cy="262.9" r="1.5" fill-opacity="0.6"/><circle cx="297.1" cy="265.7" r="1.5" fill-opacity="0.6"/><circle cx="299.9" cy="267.8" r="1.5" fill-opacity="0.6"/><circle cx="293.3" cy="257.7" r="1.5" fill-opacity="0.6"/><circle cx="303.3" cy="263.4" r="1.5" fill-opacity="0.6"/><circle cx="289.9" cy="261" r="1.5" fill-opacity="0.6"/><circle cx="291" cy="259.9" r="1.5" fill-opacity="0.6"/><circle cx="292.8" cy="258.4" r="1.5" fill-opacity="0.6"/><circle cx="295.9" cy="259.5" r="1.5" fill-opacity="0.6"/><circle cx="304.1" cy="267.2" r="1.5" fill-opacity="0.6"/><circle cx="297" cy="258.4" r="1.5" fill-opacity="0.6"/><circle cx="289.3" cy="264.6" r="1.5" fill-opacity="0.6"/><circle cx="290.2" cy="262.9" r="1.5" fill-opacity="0.6"/><circle cx="292.4" cy="260.9" r="1.5" fill-opacity="0.6"/><circle cx="290.8" cy="266.3" r="1.5" fill-opacity="0.6"/><circle cx="297.3" cy="263" r="1.5" fill-opacity="0.6"/><circle cx="303.6" cy="260.5" r="1.5" fill-opacity="0.6"/><circle cx="292.5" cy="260.5" r="1.5" fill-opacity="0.6"/><circle cx="295.5" cy="264.8" r="1.5" fill-opacity="0.6"/><circle cx="289.3" cy="265.2" r="1.5" fill-opacity="0.6"/><circle cx="300.1" cy="258.3" r="1.5" fill-opacity="0.6"/><circle cx="302.3" cy="261.2" r="1.5" fill-opacity="0.6"/><circle cx="290.9" cy="259.3" r="1.5" fill-opacity="0.6"/><circle cx="293.1" cy="266.9" r="1.5" fill-opacity="0.6"/><circle cx="290.5" cy="257.8" r="1.5" fill-opacity="0.6"/><circle cx="291.4" cy="265.7" r="1.5" fill-opacity="0.6"/><circle cx="301.9" cy="263.2" r="1.5" fill-opacity="0.6"/></g><g fill="#fff" fill-opacity="0.38"><circle cx="300" cy="270.6" r="1.8"/><circle cx="302.1" cy="269.5" r="1.4"/><circle cx="289.4" cy="269.2" r="1.3"/><circle cx="300.3" cy="269" r="1.4"/><circle cx="302.1" cy="268.7" r="1.5"/><circle cx="289.6" cy="270.1" r="1.4"/><circle cx="297.1" cy="271.7" r="1.4"/><circle cx="296.6" cy="270.6" r="1.5"/><circle cx="289.7" cy="269.2" r="1"/><circle cx="287.3" cy="271.4" r="1.2"/></g><rect x="285.6" y="276.8" width="20.2" height="2.6" fill="#a9a9a9"/><rect x="309" y="271" width="20.2" height="11.4" rx="1.4" fill="#238b22"/><g fill="#238b22"><circle cx="310.6" cy="270.6" r="1.45" fill-opacity="0.85"/><circle cx="312.7" cy="270.8" r="1.45" fill-opacity="0.85"/><circle cx="313.3" cy="270.9" r="1.45" fill-opacity="0.85"/><circle cx="315.5" cy="270.7" r="1.45" fill-opacity="0.85"/><circle cx="317.2" cy="270.4" r="1.45" fill-opacity="0.85"/><circle cx="318.7" cy="270.4" r="1.45" fill-opacity="0.85"/><circle cx="320" cy="270.5" r="1.45" fill-opacity="0.85"/><circle cx="322.9" cy="270.2" r="1.45" fill-opacity="0.85"/><circle cx="324.1" cy="270.1" r="1.45" fill-opacity="0.85"/><circle cx="325.3" cy="270.7" r="1.45" fill-opacity="0.85"/><circle cx="327.3" cy="270.5" r="1.45" fill-opacity="0.85"/><circle cx="310.9" cy="282.8" r="1.45" fill-opacity="0.85"/><circle cx="311.6" cy="283" r="1.45" fill-opacity="0.85"/><circle cx="313.5" cy="283.2" r="1.45" fill-opacity="0.85"/><circle cx="315.2" cy="282.7" r="1.45" fill-opacity="0.85"/><circle cx="316.7" cy="282.7" r="1.45" fill-opacity="0.85"/><circle cx="319.1" cy="282.6" r="1.45" fill-opacity="0.85"/><circle cx="320" cy="282.9" r="1.45" fill-opacity="0.85"/><circle cx="322.6" cy="282.5" r="1.45" fill-opacity="0.85"/><circle cx="323.9" cy="282.5" r="1.45" fill-opacity="0.85"/><circle cx="325" cy="282.7" r="1.45" fill-opacity="0.85"/><circle cx="327.1" cy="283.2" r="1.45" fill-opacity="0.85"/><circle cx="309.6" cy="272.1" r="1.45" fill-opacity="0.9"/><circle cx="309.9" cy="274.4" r="1.45" fill-opacity="0.9"/><circle cx="309.9" cy="276.7" r="1.45" fill-opacity="0.9"/><circle cx="309.8" cy="279" r="1.45" fill-opacity="0.9"/><circle cx="309.8" cy="281.3" r="1.45" fill-opacity="0.9"/><circle cx="328.3" cy="272.1" r="1.45" fill-opacity="0.9"/><circle cx="328.3" cy="274.4" r="1.45" fill-opacity="0.9"/><circle cx="328.2" cy="276.7" r="1.45" fill-opacity="0.9"/><circle cx="328.6" cy="279" r="1.45" fill-opacity="0.9"/><circle cx="328.2" cy="281.3" r="1.45" fill-opacity="0.9"/><circle cx="323.2" cy="248.8" r="1.5" fill-opacity="0.6"/><circle cx="319.3" cy="252.9" r="1.5" fill-opacity="0.6"/><circle cx="312.8" cy="250.8" r="1.5" fill-opacity="0.6"/><circle cx="312.1" cy="257.4" r="1.5" fill-opacity="0.6"/><circle cx="323.8" cy="250.8" r="1.5" fill-opacity="0.6"/><circle cx="327.4" cy="250.9" r="1.5" fill-opacity="0.6"/><circle cx="319.6" cy="249.3" r="1.5" fill-opacity="0.6"/><circle cx="319.1" cy="254" r="1.5" fill-opacity="0.6"/><circle cx="310.7" cy="257.1" r="1.5" fill-opacity="0.6"/><circle cx="324.5" cy="254.1" r="1.5" fill-opacity="0.6"/><circle cx="320" cy="247.7" r="1.5" fill-opacity="0.6"/><circle cx="317.3" cy="252.7" r="1.5" fill-opacity="0.6"/><circle cx="321.4" cy="265.9" r="1.5" fill-opacity="0.6"/><circle cx="326.5" cy="267.7" r="1.5" fill-opacity="0.6"/><circle cx="328.3" cy="267.2" r="1.5" fill-opacity="0.6"/><circle cx="314.8" cy="267.3" r="1.5" fill-opacity="0.6"/><circle cx="311.2" cy="261.6" r="1.5" fill-opacity="0.6"/><circle cx="312.1" cy="263" r="1.5" fill-opacity="0.6"/><circle cx="322.6" cy="267.5" r="1.5" fill-opacity="0.6"/><circle cx="316.9" cy="266.7" r="1.5" fill-opacity="0.6"/><circle cx="314.6" cy="265.1" r="1.5" fill-opacity="0.6"/><circle cx="310.1" cy="270.1" r="1.5" fill-opacity="0.6"/><circle cx="320.4" cy="263.5" r="1.5" fill-opacity="0.6"/><circle cx="325.7" cy="262" r="1.5" fill-opacity="0.6"/><circle cx="316.7" cy="265.3" r="1.5" fill-opacity="0.6"/><circle cx="315.1" cy="260.7" r="1.5" fill-opacity="0.6"/><circle cx="315.1" cy="266.5" r="1.5" fill-opacity="0.6"/><circle cx="320.6" cy="260.5" r="1.5" fill-opacity="0.6"/><circle cx="325.5" cy="263.3" r="1.5" fill-opacity="0.6"/><circle cx="323.2" cy="267.6" r="1.5" fill-opacity="0.6"/><circle cx="324.8" cy="269.8" r="1.5" fill-opacity="0.6"/><circle cx="320.4" cy="263.6" r="1.5" fill-opacity="0.6"/><circle cx="313.6" cy="262.8" r="1.5" fill-opacity="0.6"/><circle cx="311.9" cy="262.3" r="1.5" fill-opacity="0.6"/><circle cx="314" cy="262.6" r="1.5" fill-opacity="0.6"/><circle cx="314.5" cy="267.4" r="1.5" fill-opacity="0.6"/><circle cx="317.6" cy="260.5" r="1.5" fill-opacity="0.6"/><circle cx="322.6" cy="262.2" r="1.5" fill-opacity="0.6"/><circle cx="320.2" cy="262.4" r="1.5" fill-opacity="0.6"/><circle cx="318.8" cy="261.9" r="1.5" fill-opacity="0.6"/><circle cx="315.5" cy="269.5" r="1.5" fill-opacity="0.6"/><circle cx="318" cy="265.8" r="1.5" fill-opacity="0.6"/><circle cx="310.2" cy="260.8" r="1.5" fill-opacity="0.6"/><circle cx="316.1" cy="269.3" r="1.5" fill-opacity="0.6"/><circle cx="317.5" cy="267.5" r="1.5" fill-opacity="0.6"/><circle cx="313.5" cy="269.2" r="1.5" fill-opacity="0.6"/><circle cx="320" cy="265.3" r="1.5" fill-opacity="0.6"/><circle cx="310.4" cy="268.7" r="1.5" fill-opacity="0.6"/></g><g fill="#fff" fill-opacity="0.38"><circle cx="318.7" cy="272.1" r="1.5"/><circle cx="319.8" cy="271.4" r="1.6"/><circle cx="314.4" cy="273.2" r="1.4"/><circle cx="317.2" cy="271.9" r="1.3"/><circle cx="310.8" cy="273.8" r="1.8"/><circle cx="311.9" cy="271.1" r="1.2"/><circle cx="325.2" cy="271.9" r="1.7"/><circle cx="317.2" cy="273.8" r="1"/><circle cx="325.9" cy="272.9" r="1.1"/><circle cx="310.6" cy="273.5" r="1.6"/></g><rect x="309" y="278.7" width="20.2" height="2.2" fill="#a9a9a9"/><rect x="332.3" y="220.2" width="20.2" height="62.2" rx="1.4" fill="#f9a33c"/><g fill="#f9a33c"><circle cx="333.8" cy="219.4" r="1.45" fill-opacity="0.85"/><circle cx="336" cy="220.2" r="1.45" fill-opacity="0.85"/><circle cx="337.2" cy="220" r="1.45" fill-opacity="0.85"/><circle cx="338.8" cy="220.1" r="1.45" fill-opacity="0.85"/><circle cx="340.4" cy="219.8" r="1.45" fill-opacity="0.85"/><circle cx="341.6" cy="219.8" r="1.45" fill-opacity="0.85"/><circle cx="344.5" cy="220.1" r="1.45" fill-opacity="0.85"/><circle cx="346.2" cy="219.8" r="1.45" fill-opacity="0.85"/><circle cx="346.9" cy="219.3" r="1.45" fill-opacity="0.85"/><circle cx="349" cy="219.8" r="1.45" fill-opacity="0.85"/><circle cx="350.5" cy="219.4" r="1.45" fill-opacity="0.85"/><circle cx="333.3" cy="282.6" r="1.45" fill-opacity="0.85"/><circle cx="335.2" cy="282.5" r="1.45" fill-opacity="0.85"/><circle cx="337.6" cy="282.8" r="1.45" fill-opacity="0.85"/><circle cx="339" cy="283.2" r="1.45" fill-opacity="0.85"/><circle cx="340.5" cy="282.6" r="1.45" fill-opacity="0.85"/><circle cx="342.3" cy="282.9" r="1.45" fill-opacity="0.85"/><circle cx="343.6" cy="282.6" r="1.45" fill-opacity="0.85"/><circle cx="345.4" cy="283.1" r="1.45" fill-opacity="0.85"/><circle cx="346.9" cy="283.3" r="1.45" fill-opacity="0.85"/><circle cx="348.6" cy="282.6" r="1.45" fill-opacity="0.85"/><circle cx="350.2" cy="282.8" r="1.45" fill-opacity="0.85"/><circle cx="333" cy="221.3" r="1.45" fill-opacity="0.9"/><circle cx="333.2" cy="223.5" r="1.45" fill-opacity="0.9"/><circle cx="333.3" cy="225.8" r="1.45" fill-opacity="0.9"/><circle cx="333" cy="228" r="1.45" fill-opacity="0.9"/><circle cx="333.3" cy="230.2" r="1.45" fill-opacity="0.9"/><circle cx="333" cy="232.4" r="1.45" fill-opacity="0.9"/><circle cx="333.1" cy="234.6" r="1.45" fill-opacity="0.9"/><circle cx="332.9" cy="236.9" r="1.45" fill-opacity="0.9"/><circle cx="333.3" cy="239.1" r="1.45" fill-opacity="0.9"/><circle cx="333" cy="241.3" r="1.45" fill-opacity="0.9"/><circle cx="333.2" cy="243.5" r="1.45" fill-opacity="0.9"/><circle cx="332.9" cy="245.7" r="1.45" fill-opacity="0.9"/><circle cx="333.2" cy="248" r="1.45" fill-opacity="0.9"/><circle cx="333" cy="250.2" r="1.45" fill-opacity="0.9"/><circle cx="333.1" cy="252.4" r="1.45" fill-opacity="0.9"/><circle cx="333.2" cy="254.6" r="1.45" fill-opacity="0.9"/><circle cx="332.9" cy="256.9" r="1.45" fill-opacity="0.9"/><circle cx="333.1" cy="259.1" r="1.45" fill-opacity="0.9"/><circle cx="333.3" cy="261.3" r="1.45" fill-opacity="0.9"/><circle cx="332.9" cy="263.5" r="1.45" fill-opacity="0.9"/><circle cx="333.1" cy="265.7" r="1.45" fill-opacity="0.9"/><circle cx="332.9" cy="268" r="1.45" fill-opacity="0.9"/><circle cx="332.9" cy="270.2" r="1.45" fill-opacity="0.9"/><circle cx="333.1" cy="272.4" r="1.45" fill-opacity="0.9"/><circle cx="333.1" cy="274.6" r="1.45" fill-opacity="0.9"/><circle cx="333.2" cy="276.8" r="1.45" fill-opacity="0.9"/><circle cx="333.3" cy="279.1" r="1.45" fill-opacity="0.9"/><circle cx="333.2" cy="281.3" r="1.45" fill-opacity="0.9"/><circle cx="351.6" cy="221.3" r="1.45" fill-opacity="0.9"/><circle cx="351.7" cy="223.5" r="1.45" fill-opacity="0.9"/><circle cx="351.8" cy="225.8" r="1.45" fill-opacity="0.9"/><circle cx="351.9" cy="228" r="1.45" fill-opacity="0.9"/><circle cx="351.8" cy="230.2" r="1.45" fill-opacity="0.9"/><circle cx="351.7" cy="232.4" r="1.45" fill-opacity="0.9"/><circle cx="351.5" cy="234.6" r="1.45" fill-opacity="0.9"/><circle cx="351.9" cy="236.9" r="1.45" fill-opacity="0.9"/><circle cx="351.6" cy="239.1" r="1.45" fill-opacity="0.9"/><circle cx="351.7" cy="241.3" r="1.45" fill-opacity="0.9"/><circle cx="351.9" cy="243.5" r="1.45" fill-opacity="0.9"/><circle cx="351.6" cy="245.7" r="1.45" fill-opacity="0.9"/><circle cx="351.9" cy="248" r="1.45" fill-opacity="0.9"/><circle cx="351.6" cy="250.2" r="1.45" fill-opacity="0.9"/><circle cx="351.5" cy="252.4" r="1.45" fill-opacity="0.9"/><circle cx="351.7" cy="254.6" r="1.45" fill-opacity="0.9"/><circle cx="351.8" cy="256.9" r="1.45" fill-opacity="0.9"/><circle cx="351.7" cy="259.1" r="1.45" fill-opacity="0.9"/><circle cx="351.9" cy="261.3" r="1.45" fill-opacity="0.9"/><circle cx="351.6" cy="263.5" r="1.45" fill-opacity="0.9"/><circle cx="351.9" cy="265.7" r="1.45" fill-opacity="0.9"/><circle cx="351.5" cy="268" r="1.45" fill-opacity="0.9"/><circle cx="351.6" cy="270.2" r="1.45" fill-opacity="0.9"/><circle cx="351.5" cy="272.4" r="1.45" fill-opacity="0.9"/><circle cx="351.8" cy="274.6" r="1.45" fill-opacity="0.9"/><circle cx="351.7" cy="276.8" r="1.45" fill-opacity="0.9"/><circle cx="351.8" cy="279.1" r="1.45" fill-opacity="0.9"/><circle cx="351.6" cy="281.3" r="1.45" fill-opacity="0.9"/></g><g fill="#fff" fill-opacity="0.38"><circle cx="350.8" cy="273.5" r="1.1"/><circle cx="348.7" cy="260.2" r="1.7"/><circle cx="337.8" cy="277.9" r="1.5"/><circle cx="341.2" cy="252.8" r="1.5"/><circle cx="341.1" cy="258.3" r="1.3"/><circle cx="335.1" cy="252.7" r="1.6"/><circle cx="350.7" cy="250.1" r="1.7"/><circle cx="347.3" cy="281.6" r="1"/><circle cx="339.3" cy="253.7" r="1.1"/><circle cx="349.5" cy="251.9" r="1.7"/><circle cx="338.2" cy="274.5" r="1.7"/><circle cx="339.4" cy="276.2" r="1.1"/><circle cx="340.9" cy="254.3" r="1.7"/><circle cx="341.2" cy="252.4" r="1.3"/><circle cx="336.5" cy="278.6" r="1.5"/><circle cx="344.9" cy="260.3" r="1.7"/><circle cx="348.3" cy="276.4" r="1.2"/><circle cx="336" cy="258.8" r="1.2"/><circle cx="347.2" cy="253.8" r="1"/><circle cx="347.3" cy="256.1" r="1.6"/><circle cx="340.4" cy="281.2" r="1"/><circle cx="338.8" cy="275.9" r="1.6"/><circle cx="334.5" cy="250.6" r="1.5"/><circle cx="343.5" cy="271.9" r="1.4"/><circle cx="336.1" cy="269.1" r="1.1"/></g><rect x="332.3" y="241.1" width="20.2" height="3.1" fill="#a9a9a9"/><rect x="355.7" y="221.9" width="20.2" height="60.5" rx="1.4" fill="#238b22"/><g fill="#238b22"><circle cx="357" cy="221.4" r="1.45" fill-opacity="0.85"/><circle cx="358.5" cy="221.7" r="1.45" fill-opacity="0.85"/><circle cx="360.5" cy="221.5" r="1.45" fill-opacity="0.85"/><circle cx="361.9" cy="221.1" r="1.45" fill-opacity="0.85"/><circle cx="364.5" cy="221.9" r="1.45" fill-opacity="0.85"/><circle cx="365.6" cy="221.7" r="1.45" fill-opacity="0.85"/><circle cx="367.1" cy="221.9" r="1.45" fill-opacity="0.85"/><circle cx="368.4" cy="221.9" r="1.45" fill-opacity="0.85"/><circle cx="370.2" cy="221.3" r="1.45" fill-opacity="0.85"/><circle cx="371.8" cy="221.1" r="1.45" fill-opacity="0.85"/><circle cx="374.5" cy="221.7" r="1.45" fill-opacity="0.85"/><circle cx="357.4" cy="283.3" r="1.45" fill-opacity="0.85"/><circle cx="358.3" cy="282.9" r="1.45" fill-opacity="0.85"/><circle cx="360.5" cy="282.7" r="1.45" fill-opacity="0.85"/><circle cx="362" cy="282.5" r="1.45" fill-opacity="0.85"/><circle cx="364.1" cy="282.6" r="1.45" fill-opacity="0.85"/><circle cx="365.5" cy="283.2" r="1.45" fill-opacity="0.85"/><circle cx="367.1" cy="282.7" r="1.45" fill-opacity="0.85"/><circle cx="369.6" cy="282.9" r="1.45" fill-opacity="0.85"/><circle cx="370.8" cy="282.6" r="1.45" fill-opacity="0.85"/><circle cx="372.6" cy="282.7" r="1.45" fill-opacity="0.85"/><circle cx="374.1" cy="282.8" r="1.45" fill-opacity="0.85"/><circle cx="356.3" cy="223" r="1.45" fill-opacity="0.9"/><circle cx="356.7" cy="225.3" r="1.45" fill-opacity="0.9"/><circle cx="356.6" cy="227.5" r="1.45" fill-opacity="0.9"/><circle cx="356.7" cy="229.7" r="1.45" fill-opacity="0.9"/><circle cx="356.4" cy="232" r="1.45" fill-opacity="0.9"/><circle cx="356.4" cy="234.2" r="1.45" fill-opacity="0.9"/><circle cx="356.3" cy="236.5" r="1.45" fill-opacity="0.9"/><circle cx="356.4" cy="238.7" r="1.45" fill-opacity="0.9"/><circle cx="356.4" cy="240.9" r="1.45" fill-opacity="0.9"/><circle cx="356.3" cy="243.2" r="1.45" fill-opacity="0.9"/><circle cx="356.4" cy="245.4" r="1.45" fill-opacity="0.9"/><circle cx="356.4" cy="247.7" r="1.45" fill-opacity="0.9"/><circle cx="356.7" cy="249.9" r="1.45" fill-opacity="0.9"/><circle cx="356.5" cy="252.1" r="1.45" fill-opacity="0.9"/><circle cx="356.7" cy="254.4" r="1.45" fill-opacity="0.9"/><circle cx="356.3" cy="256.6" r="1.45" fill-opacity="0.9"/><circle cx="356.3" cy="258.9" r="1.45" fill-opacity="0.9"/><circle cx="356.7" cy="261.1" r="1.45" fill-opacity="0.9"/><circle cx="356.3" cy="263.4" r="1.45" fill-opacity="0.9"/><circle cx="356.3" cy="265.6" r="1.45" fill-opacity="0.9"/><circle cx="356.5" cy="267.8" r="1.45" fill-opacity="0.9"/><circle cx="356.4" cy="270.1" r="1.45" fill-opacity="0.9"/><circle cx="356.3" cy="272.3" r="1.45" fill-opacity="0.9"/><circle cx="356.6" cy="274.6" r="1.45" fill-opacity="0.9"/><circle cx="356.6" cy="276.8" r="1.45" fill-opacity="0.9"/><circle cx="356.3" cy="279" r="1.45" fill-opacity="0.9"/><circle cx="356.5" cy="281.3" r="1.45" fill-opacity="0.9"/><circle cx="375.1" cy="223" r="1.45" fill-opacity="0.9"/><circle cx="375.3" cy="225.3" r="1.45" fill-opacity="0.9"/><circle cx="374.9" cy="227.5" r="1.45" fill-opacity="0.9"/><circle cx="375" cy="229.7" r="1.45" fill-opacity="0.9"/><circle cx="375.1" cy="232" r="1.45" fill-opacity="0.9"/><circle cx="374.9" cy="234.2" r="1.45" fill-opacity="0.9"/><circle cx="375.3" cy="236.5" r="1.45" fill-opacity="0.9"/><circle cx="375.3" cy="238.7" r="1.45" fill-opacity="0.9"/><circle cx="375" cy="240.9" r="1.45" fill-opacity="0.9"/><circle cx="375.2" cy="243.2" r="1.45" fill-opacity="0.9"/><circle cx="375" cy="245.4" r="1.45" fill-opacity="0.9"/><circle cx="375.3" cy="247.7" r="1.45" fill-opacity="0.9"/><circle cx="375" cy="249.9" r="1.45" fill-opacity="0.9"/><circle cx="374.9" cy="252.1" r="1.45" fill-opacity="0.9"/><circle cx="374.9" cy="254.4" r="1.45" fill-opacity="0.9"/><circle cx="375.1" cy="256.6" r="1.45" fill-opacity="0.9"/><circle cx="374.9" cy="258.9" r="1.45" fill-opacity="0.9"/><circle cx="375.3" cy="261.1" r="1.45" fill-opacity="0.9"/><circle cx="375.2" cy="263.4" r="1.45" fill-opacity="0.9"/><circle cx="375.1" cy="265.6" r="1.45" fill-opacity="0.9"/><circle cx="375.2" cy="267.8" r="1.45" fill-opacity="0.9"/><circle cx="375.1" cy="270.1" r="1.45" fill-opacity="0.9"/><circle cx="375.3" cy="272.3" r="1.45" fill-opacity="0.9"/><circle cx="375.2" cy="274.6" r="1.45" fill-opacity="0.9"/><circle cx="375.1" cy="276.8" r="1.45" fill-opacity="0.9"/><circle cx="375" cy="279" r="1.45" fill-opacity="0.9"/><circle cx="374.9" cy="281.3" r="1.45" fill-opacity="0.9"/></g><g fill="#fff" fill-opacity="0.38"><circle cx="363.3" cy="241" r="1.1"/><circle cx="361.7" cy="277.9" r="1.4"/><circle cx="366.7" cy="225.9" r="1.5"/><circle cx="373.9" cy="226.7" r="1.1"/><circle cx="369.8" cy="237.8" r="1.3"/><circle cx="361.3" cy="274.9" r="1.3"/><circle cx="371.9" cy="263.8" r="1.7"/><circle cx="366.3" cy="239.3" r="1.3"/><circle cx="361.2" cy="262.8" r="1.7"/><circle cx="360.3" cy="265.1" r="1.3"/><circle cx="373.1" cy="242.2" r="1.4"/><circle cx="373.1" cy="259.2" r="1.3"/><circle cx="362.3" cy="279.1" r="1"/><circle cx="369.1" cy="228.1" r="1.3"/><circle cx="366.4" cy="272.3" r="1.5"/><circle cx="367.3" cy="243.2" r="1.6"/><circle cx="365.6" cy="244.7" r="1.7"/><circle cx="363.3" cy="278.1" r="1.1"/><circle cx="364.9" cy="272.9" r="1.8"/><circle cx="363.6" cy="268.1" r="1.7"/><circle cx="369.4" cy="255" r="1.7"/><circle cx="373.4" cy="257" r="1.3"/><circle cx="368.2" cy="244.8" r="1.3"/><circle cx="366.3" cy="264.7" r="1.6"/><circle cx="366.9" cy="271.9" r="1.7"/><circle cx="371.9" cy="269.2" r="1"/><circle cx="368.1" cy="222.8" r="1.3"/><circle cx="364" cy="274.7" r="1.6"/><circle cx="368" cy="236.8" r="1.7"/><circle cx="363.5" cy="274.1" r="1.4"/><circle cx="363.2" cy="254.3" r="1.4"/><circle cx="372.3" cy="280.3" r="1.3"/><circle cx="373.4" cy="263.3" r="1.3"/><circle cx="370.9" cy="273.2" r="1.7"/><circle cx="373" cy="227" r="1.8"/><circle cx="368.1" cy="236.5" r="1.1"/><circle cx="369.3" cy="258.3" r="1.6"/><circle cx="362.3" cy="273.7" r="1.1"/><circle cx="357.7" cy="271.3" r="1.2"/><circle cx="370.5" cy="236.2" r="1.4"/><circle cx="368.7" cy="272.6" r="1.7"/><circle cx="372.3" cy="269.5" r="1.2"/><circle cx="368" cy="243.4" r="1.5"/><circle cx="371" cy="269" r="1.2"/><circle cx="369.9" cy="229.2" r="1.5"/><circle cx="358.3" cy="238.7" r="1"/><circle cx="361.9" cy="236.9" r="1.2"/><circle cx="360.2" cy="225" r="1.3"/><circle cx="360.8" cy="227.5" r="1.4"/><circle cx="372.1" cy="273.2" r="1.3"/><circle cx="361.9" cy="229.5" r="1.5"/><circle cx="367" cy="246.5" r="1.6"/><circle cx="371.9" cy="261.8" r="1.1"/><circle cx="357.9" cy="239.9" r="1.4"/><circle cx="361.6" cy="259.1" r="1"/><circle cx="360.2" cy="250" r="1.2"/><circle cx="373.4" cy="245" r="1.3"/><circle cx="363.6" cy="264.8" r="1.3"/><circle cx="360.4" cy="230.4" r="1.6"/><circle cx="362.1" cy="247.9" r="1.8"/><circle cx="361.8" cy="275" r="1.3"/><circle cx="360.1" cy="256.2" r="1.3"/><circle cx="371.1" cy="239.1" r="1.1"/><circle cx="361.3" cy="281.9" r="1.3"/><circle cx="372.8" cy="226.5" r="1.7"/><circle cx="366.3" cy="226" r="1.3"/><circle cx="363" cy="258.6" r="1.8"/><circle cx="371.2" cy="235.1" r="1.2"/><circle cx="364.6" cy="261.2" r="1.4"/><circle cx="367.9" cy="253.5" r="1.1"/><circle cx="373.8" cy="225.5" r="1.2"/><circle cx="361.4" cy="243.5" r="1.5"/><circle cx="364.1" cy="281.4" r="1.3"/><circle cx="357.8" cy="243" r="1.1"/><circle cx="362.8" cy="224.8" r="1.8"/><circle cx="366.6" cy="230.4" r="1.2"/><circle cx="371.5" cy="224.1" r="1.1"/><circle cx="371.2" cy="230.1" r="1.2"/><circle cx="373.3" cy="233.9" r="1.2"/><circle cx="362.5" cy="272.2" r="1.5"/><circle cx="363.1" cy="240.7" r="1.7"/><circle cx="360.3" cy="276.8" r="1.6"/><circle cx="362.4" cy="230.3" r="1.1"/><circle cx="369.7" cy="261.1" r="1.6"/><circle cx="364" cy="268.7" r="1.1"/><circle cx="364.8" cy="222.2" r="1.7"/><circle cx="367.8" cy="249" r="1.7"/><circle cx="369.9" cy="274.1" r="1.5"/><circle cx="370" cy="235.9" r="1.3"/><circle cx="361.1" cy="264.6" r="1.8"/><circle cx="370.7" cy="231.8" r="1.7"/><circle cx="372" cy="231.1" r="1.5"/><circle cx="361.6" cy="258.4" r="1.3"/><circle cx="364.8" cy="236.1" r="1.5"/><circle cx="369.3" cy="266" r="1.3"/><circle cx="370.3" cy="242.2" r="1.8"/><circle cx="364.3" cy="235.3" r="1.2"/><circle cx="357.6" cy="280.9" r="1.7"/><circle cx="362.9" cy="268.3" r="1.5"/><circle cx="368.1" cy="244.3" r="1.3"/><circle cx="365.1" cy="277.3" r="1.6"/><circle cx="363.6" cy="256.8" r="1.8"/><circle cx="372.7" cy="233.7" r="1.8"/><circle cx="367.7" cy="273.3" r="1.5"/><circle cx="364.7" cy="278.1" r="1.7"/><circle cx="371.9" cy="268.8" r="1.4"/><circle cx="358.9" cy="261.4" r="1.1"/><circle cx="369.8" cy="228.4" r="1.3"/><circle cx="358.6" cy="276.9" r="1.1"/><circle cx="364.4" cy="272.5" r="1.2"/></g><rect x="356.2" y="254.2" width="19.2" height="3.2" fill="#d9d9d9" fill-opacity="0.55" stroke="#a9a9a9" stroke-width="1.4"/><rect x="356.2" y="255.2" width="19.2" height="1.1" fill="#a9a9a9"/><rect x="379" y="277.5" width="20.2" height="5" rx="1.4" fill="#f9a33c"/><g fill="#f9a33c"><circle cx="380.9" cy="277.3" r="1.45" fill-opacity="0.85"/><circle cx="382.8" cy="277.3" r="1.45" fill-opacity="0.85"/><circle cx="384.3" cy="277.1" r="1.45" fill-opacity="0.85"/><circle cx="386.1" cy="277.2" r="1.45" fill-opacity="0.85"/><circle cx="387.8" cy="277.2" r="1.45" fill-opacity="0.85"/><circle cx="388.9" cy="276.9" r="1.45" fill-opacity="0.85"/><circle cx="390.7" cy="276.9" r="1.45" fill-opacity="0.85"/><circle cx="392.6" cy="277.3" r="1.45" fill-opacity="0.85"/><circle cx="393.3" cy="276.8" r="1.45" fill-opacity="0.85"/><circle cx="395.8" cy="277" r="1.45" fill-opacity="0.85"/><circle cx="397.4" cy="276.7" r="1.45" fill-opacity="0.85"/><circle cx="380.2" cy="283.3" r="1.45" fill-opacity="0.85"/><circle cx="381.7" cy="283.1" r="1.45" fill-opacity="0.85"/><circle cx="384.5" cy="282.6" r="1.45" fill-opacity="0.85"/><circle cx="385.9" cy="282.7" r="1.45" fill-opacity="0.85"/><circle cx="386.6" cy="282.9" r="1.45" fill-opacity="0.85"/><circle cx="389.2" cy="282.8" r="1.45" fill-opacity="0.85"/><circle cx="391.2" cy="282.5" r="1.45" fill-opacity="0.85"/><circle cx="392" cy="282.8" r="1.45" fill-opacity="0.85"/><circle cx="393.8" cy="282.8" r="1.45" fill-opacity="0.85"/><circle cx="395" cy="282.7" r="1.45" fill-opacity="0.85"/><circle cx="397.1" cy="283.1" r="1.45" fill-opacity="0.85"/><circle cx="379.7" cy="278.8" r="1.45" fill-opacity="0.9"/><circle cx="379.9" cy="281.2" r="1.45" fill-opacity="0.9"/><circle cx="398.4" cy="278.8" r="1.45" fill-opacity="0.9"/><circle cx="398.3" cy="281.2" r="1.45" fill-opacity="0.9"/><circle cx="384.1" cy="272.3" r="1.5" fill-opacity="0.6"/><circle cx="388.3" cy="276.9" r="1.5" fill-opacity="0.6"/><circle cx="383.9" cy="273.2" r="1.5" fill-opacity="0.6"/><circle cx="392.9" cy="276.7" r="1.5" fill-opacity="0.6"/><circle cx="394.7" cy="275.6" r="1.5" fill-opacity="0.6"/><circle cx="393.4" cy="272.8" r="1.5" fill-opacity="0.6"/><circle cx="392.2" cy="271.7" r="1.5" fill-opacity="0.6"/><circle cx="392.1" cy="273.3" r="1.5" fill-opacity="0.6"/><circle cx="386.4" cy="272.7" r="1.5" fill-opacity="0.6"/><circle cx="397.2" cy="275.5" r="1.5" fill-opacity="0.6"/><circle cx="383" cy="273.4" r="1.5" fill-opacity="0.6"/><circle cx="392.3" cy="272.1" r="1.5" fill-opacity="0.6"/><circle cx="380.2" cy="276.8" r="1.5" fill-opacity="0.6"/><circle cx="383" cy="273.4" r="1.5" fill-opacity="0.6"/><circle cx="382.3" cy="277.2" r="1.5" fill-opacity="0.6"/><circle cx="394.1" cy="271.7" r="1.5" fill-opacity="0.6"/></g><rect x="379" y="278.6" width="20.2" height="3.1" fill="#a9a9a9"/><rect x="402.1" y="233.3" width="20.8" height="48.2" fill="#e4e4e4" fill-opacity="0.45" stroke="#a3a3a3" stroke-width="0.9"/><rect x="402.4" y="280.2" width="20.2" height="1.4" fill="#a9a9a9"/><g fill="#238b22" fill-opacity="0.6"><circle cx="421.7" cy="281.6" r="1.5"/><circle cx="405.4" cy="280.9" r="1.5"/><circle cx="412.9" cy="281.8" r="1.5"/><circle cx="417.2" cy="280.3" r="1.5"/><circle cx="411.6" cy="281.6" r="1.5"/><circle cx="413.3" cy="281.4" r="1.5"/><circle cx="421.1" cy="282" r="1.5"/><circle cx="418.7" cy="281.2" r="1.5"/><circle cx="409" cy="280.5" r="1.5"/><circle cx="406.4" cy="281.4" r="1.5"/><circle cx="417.5" cy="281.7" r="1.5"/><circle cx="420.1" cy="280.7" r="1.5"/></g><rect x="425.7" y="220.9" width="20.2" height="60.4" rx="1.4" fill="#f9a33c"/><g fill="#f9a33c"><circle cx="427" cy="220.7" r="1.45" fill-opacity="0.85"/><circle cx="428.9" cy="220" r="1.45" fill-opacity="0.85"/><circle cx="430.9" cy="220.5" r="1.45" fill-opacity="0.85"/><circle cx="431.8" cy="220.1" r="1.45" fill-opacity="0.85"/><circle cx="434.5" cy="220.2" r="1.45" fill-opacity="0.85"/><circle cx="435.3" cy="220.5" r="1.45" fill-opacity="0.85"/><circle cx="437.4" cy="220.1" r="1.45" fill-opacity="0.85"/><circle cx="438.7" cy="220.5" r="1.45" fill-opacity="0.85"/><circle cx="440.1" cy="220.9" r="1.45" fill-opacity="0.85"/><circle cx="442" cy="220.2" r="1.45" fill-opacity="0.85"/><circle cx="444.3" cy="220.5" r="1.45" fill-opacity="0.85"/><circle cx="427.1" cy="281.5" r="1.45" fill-opacity="0.85"/><circle cx="429.2" cy="281.7" r="1.45" fill-opacity="0.85"/><circle cx="430" cy="281.9" r="1.45" fill-opacity="0.85"/><circle cx="432.9" cy="281.4" r="1.45" fill-opacity="0.85"/><circle cx="434.6" cy="281.4" r="1.45" fill-opacity="0.85"/><circle cx="435.4" cy="282.2" r="1.45" fill-opacity="0.85"/><circle cx="438" cy="281.5" r="1.45" fill-opacity="0.85"/><circle cx="439.3" cy="281.9" r="1.45" fill-opacity="0.85"/><circle cx="440.6" cy="282" r="1.45" fill-opacity="0.85"/><circle cx="442.6" cy="281.5" r="1.45" fill-opacity="0.85"/><circle cx="444.1" cy="281.9" r="1.45" fill-opacity="0.85"/><circle cx="426.6" cy="222" r="1.45" fill-opacity="0.9"/><circle cx="426.5" cy="224.3" r="1.45" fill-opacity="0.9"/><circle cx="426.6" cy="226.5" r="1.45" fill-opacity="0.9"/><circle cx="426.3" cy="228.7" r="1.45" fill-opacity="0.9"/><circle cx="426.3" cy="231" r="1.45" fill-opacity="0.9"/><circle cx="426.3" cy="233.2" r="1.45" fill-opacity="0.9"/><circle cx="426.6" cy="235.4" r="1.45" fill-opacity="0.9"/><circle cx="426.5" cy="237.7" r="1.45" fill-opacity="0.9"/><circle cx="426.7" cy="239.9" r="1.45" fill-opacity="0.9"/><circle cx="426.7" cy="242.2" r="1.45" fill-opacity="0.9"/><circle cx="426.3" cy="244.4" r="1.45" fill-opacity="0.9"/><circle cx="426.4" cy="246.6" r="1.45" fill-opacity="0.9"/><circle cx="426.5" cy="248.9" r="1.45" fill-opacity="0.9"/><circle cx="426.5" cy="251.1" r="1.45" fill-opacity="0.9"/><circle cx="426.7" cy="253.3" r="1.45" fill-opacity="0.9"/><circle cx="426.5" cy="255.6" r="1.45" fill-opacity="0.9"/><circle cx="426.4" cy="257.8" r="1.45" fill-opacity="0.9"/><circle cx="426.6" cy="260" r="1.45" fill-opacity="0.9"/><circle cx="426.4" cy="262.3" r="1.45" fill-opacity="0.9"/><circle cx="426.5" cy="264.5" r="1.45" fill-opacity="0.9"/><circle cx="426.3" cy="266.8" r="1.45" fill-opacity="0.9"/><circle cx="426.5" cy="269" r="1.45" fill-opacity="0.9"/><circle cx="426.5" cy="271.2" r="1.45" fill-opacity="0.9"/><circle cx="426.6" cy="273.5" r="1.45" fill-opacity="0.9"/><circle cx="426.5" cy="275.7" r="1.45" fill-opacity="0.9"/><circle cx="426.5" cy="277.9" r="1.45" fill-opacity="0.9"/><circle cx="426.6" cy="280.2" r="1.45" fill-opacity="0.9"/><circle cx="444.9" cy="222" r="1.45" fill-opacity="0.9"/><circle cx="445.2" cy="224.3" r="1.45" fill-opacity="0.9"/><circle cx="445.2" cy="226.5" r="1.45" fill-opacity="0.9"/><circle cx="445.2" cy="228.7" r="1.45" fill-opacity="0.9"/><circle cx="445" cy="231" r="1.45" fill-opacity="0.9"/><circle cx="444.9" cy="233.2" r="1.45" fill-opacity="0.9"/><circle cx="445.3" cy="235.4" r="1.45" fill-opacity="0.9"/><circle cx="445.3" cy="237.7" r="1.45" fill-opacity="0.9"/><circle cx="445.3" cy="239.9" r="1.45" fill-opacity="0.9"/><circle cx="445.1" cy="242.2" r="1.45" fill-opacity="0.9"/><circle cx="445.3" cy="244.4" r="1.45" fill-opacity="0.9"/><circle cx="445.3" cy="246.6" r="1.45" fill-opacity="0.9"/><circle cx="445.1" cy="248.9" r="1.45" fill-opacity="0.9"/><circle cx="445.3" cy="251.1" r="1.45" fill-opacity="0.9"/><circle cx="445.3" cy="253.3" r="1.45" fill-opacity="0.9"/><circle cx="444.9" cy="255.6" r="1.45" fill-opacity="0.9"/><circle cx="444.9" cy="257.8" r="1.45" fill-opacity="0.9"/><circle cx="445.1" cy="260" r="1.45" fill-opacity="0.9"/><circle cx="445.1" cy="262.3" r="1.45" fill-opacity="0.9"/><circle cx="445.2" cy="264.5" r="1.45" fill-opacity="0.9"/><circle cx="445.1" cy="266.8" r="1.45" fill-opacity="0.9"/><circle cx="445.3" cy="269" r="1.45" fill-opacity="0.9"/><circle cx="445.3" cy="271.2" r="1.45" fill-opacity="0.9"/><circle cx="444.9" cy="273.5" r="1.45" fill-opacity="0.9"/><circle cx="445" cy="275.7" r="1.45" fill-opacity="0.9"/><circle cx="445.3" cy="277.9" r="1.45" fill-opacity="0.9"/><circle cx="445.2" cy="280.2" r="1.45" fill-opacity="0.9"/></g><g fill="#fff" fill-opacity="0.38"><circle cx="438" cy="220.9" r="1.1"/><circle cx="444.2" cy="222.5" r="1.1"/><circle cx="435.5" cy="223.5" r="1.8"/><circle cx="428.4" cy="223.6" r="1.5"/><circle cx="432" cy="223.6" r="1.6"/><circle cx="430.8" cy="221.7" r="1.3"/><circle cx="443.7" cy="271.8" r="1.2"/><circle cx="435.6" cy="273.5" r="1.6"/><circle cx="437.7" cy="280.6" r="1.7"/><circle cx="438.5" cy="269.7" r="1.1"/><circle cx="437.4" cy="279.3" r="1.1"/><circle cx="436.2" cy="279.1" r="1.4"/><circle cx="442.7" cy="269.1" r="1.4"/><circle cx="428.6" cy="279.2" r="1.5"/><circle cx="436.4" cy="272.9" r="1.5"/><circle cx="443" cy="278.7" r="1.1"/><circle cx="429.3" cy="279.2" r="1"/><circle cx="432.1" cy="271.9" r="1.6"/><circle cx="433.9" cy="275.3" r="1.6"/><circle cx="438.2" cy="280.2" r="1.5"/><circle cx="432.3" cy="279.2" r="1.8"/><circle cx="428.1" cy="270.3" r="1.7"/><circle cx="433" cy="270.3" r="1.4"/><circle cx="434.5" cy="269.4" r="1.3"/><circle cx="437.6" cy="269.1" r="1.4"/><circle cx="440.7" cy="270.1" r="1.3"/><circle cx="442.2" cy="268.3" r="1.3"/><circle cx="432.2" cy="269.2" r="1.2"/></g><rect x="425.7" y="244.6" width="20.2" height="3.1" fill="#a9a9a9"/><rect x="449.1" y="222.8" width="20.2" height="58.5" rx="1.4" fill="#238b22"/><g fill="#238b22"><circle cx="450" cy="222.5" r="1.45" fill-opacity="0.85"/><circle cx="451.8" cy="222.6" r="1.45" fill-opacity="0.85"/><circle cx="454.2" cy="222.7" r="1.45" fill-opacity="0.85"/><circle cx="455" cy="222.6" r="1.45" fill-opacity="0.85"/><circle cx="457.1" cy="222.7" r="1.45" fill-opacity="0.85"/><circle cx="459.2" cy="222" r="1.45" fill-opacity="0.85"/><circle cx="461.2" cy="222.4" r="1.45" fill-opacity="0.85"/><circle cx="462.8" cy="222.1" r="1.45" fill-opacity="0.85"/><circle cx="464.3" cy="222.1" r="1.45" fill-opacity="0.85"/><circle cx="465.6" cy="222.1" r="1.45" fill-opacity="0.85"/><circle cx="467.5" cy="222.1" r="1.45" fill-opacity="0.85"/><circle cx="450.9" cy="281.4" r="1.45" fill-opacity="0.85"/><circle cx="452.7" cy="281.3" r="1.45" fill-opacity="0.85"/><circle cx="453.9" cy="281.8" r="1.45" fill-opacity="0.85"/><circle cx="456.1" cy="281.4" r="1.45" fill-opacity="0.85"/><circle cx="457.6" cy="281.6" r="1.45" fill-opacity="0.85"/><circle cx="458.4" cy="281.6" r="1.45" fill-opacity="0.85"/><circle cx="460.9" cy="281.4" r="1.45" fill-opacity="0.85"/><circle cx="462.9" cy="281.3" r="1.45" fill-opacity="0.85"/><circle cx="463.8" cy="281.6" r="1.45" fill-opacity="0.85"/><circle cx="465.2" cy="282.1" r="1.45" fill-opacity="0.85"/><circle cx="468.1" cy="282.1" r="1.45" fill-opacity="0.85"/><circle cx="449.7" cy="223.9" r="1.45" fill-opacity="0.9"/><circle cx="450.1" cy="226.2" r="1.45" fill-opacity="0.9"/><circle cx="449.8" cy="228.4" r="1.45" fill-opacity="0.9"/><circle cx="449.8" cy="230.7" r="1.45" fill-opacity="0.9"/><circle cx="450" cy="232.9" r="1.45" fill-opacity="0.9"/><circle cx="449.7" cy="235.2" r="1.45" fill-opacity="0.9"/><circle cx="449.7" cy="237.4" r="1.45" fill-opacity="0.9"/><circle cx="450.1" cy="239.7" r="1.45" fill-opacity="0.9"/><circle cx="449.8" cy="241.9" r="1.45" fill-opacity="0.9"/><circle cx="450" cy="244.2" r="1.45" fill-opacity="0.9"/><circle cx="449.9" cy="246.4" r="1.45" fill-opacity="0.9"/><circle cx="449.7" cy="248.7" r="1.45" fill-opacity="0.9"/><circle cx="449.9" cy="250.9" r="1.45" fill-opacity="0.9"/><circle cx="449.7" cy="253.2" r="1.45" fill-opacity="0.9"/><circle cx="449.7" cy="255.4" r="1.45" fill-opacity="0.9"/><circle cx="449.7" cy="257.7" r="1.45" fill-opacity="0.9"/><circle cx="449.9" cy="259.9" r="1.45" fill-opacity="0.9"/><circle cx="449.8" cy="262.2" r="1.45" fill-opacity="0.9"/><circle cx="449.8" cy="264.4" r="1.45" fill-opacity="0.9"/><circle cx="450.1" cy="266.7" r="1.45" fill-opacity="0.9"/><circle cx="450.1" cy="268.9" r="1.45" fill-opacity="0.9"/><circle cx="450" cy="271.2" r="1.45" fill-opacity="0.9"/><circle cx="449.8" cy="273.4" r="1.45" fill-opacity="0.9"/><circle cx="450" cy="275.7" r="1.45" fill-opacity="0.9"/><circle cx="450" cy="277.9" r="1.45" fill-opacity="0.9"/><circle cx="449.9" cy="280.2" r="1.45" fill-opacity="0.9"/><circle cx="468.4" cy="223.9" r="1.45" fill-opacity="0.9"/><circle cx="468.4" cy="226.2" r="1.45" fill-opacity="0.9"/><circle cx="468.5" cy="228.4" r="1.45" fill-opacity="0.9"/><circle cx="468.4" cy="230.7" r="1.45" fill-opacity="0.9"/><circle cx="468.7" cy="232.9" r="1.45" fill-opacity="0.9"/><circle cx="468.5" cy="235.2" r="1.45" fill-opacity="0.9"/><circle cx="468.6" cy="237.4" r="1.45" fill-opacity="0.9"/><circle cx="468.7" cy="239.7" r="1.45" fill-opacity="0.9"/><circle cx="468.6" cy="241.9" r="1.45" fill-opacity="0.9"/><circle cx="468.3" cy="244.2" r="1.45" fill-opacity="0.9"/><circle cx="468.4" cy="246.4" r="1.45" fill-opacity="0.9"/><circle cx="468.7" cy="248.7" r="1.45" fill-opacity="0.9"/><circle cx="468.3" cy="250.9" r="1.45" fill-opacity="0.9"/><circle cx="468.4" cy="253.2" r="1.45" fill-opacity="0.9"/><circle cx="468.6" cy="255.4" r="1.45" fill-opacity="0.9"/><circle cx="468.7" cy="257.7" r="1.45" fill-opacity="0.9"/><circle cx="468.7" cy="259.9" r="1.45" fill-opacity="0.9"/><circle cx="468.6" cy="262.2" r="1.45" fill-opacity="0.9"/><circle cx="468.6" cy="264.4" r="1.45" fill-opacity="0.9"/><circle cx="468.4" cy="266.7" r="1.45" fill-opacity="0.9"/><circle cx="468.3" cy="268.9" r="1.45" fill-opacity="0.9"/><circle cx="468.6" cy="271.2" r="1.45" fill-opacity="0.9"/><circle cx="468.3" cy="273.4" r="1.45" fill-opacity="0.9"/><circle cx="468.6" cy="275.7" r="1.45" fill-opacity="0.9"/><circle cx="468.3" cy="277.9" r="1.45" fill-opacity="0.9"/><circle cx="468.3" cy="280.2" r="1.45" fill-opacity="0.9"/></g><g fill="#fff" fill-opacity="0.38"><circle cx="453.5" cy="281" r="1.5"/><circle cx="467.4" cy="226.4" r="1"/><circle cx="465" cy="262.8" r="1.2"/><circle cx="451.3" cy="223.3" r="1"/><circle cx="459.7" cy="266.7" r="1.7"/><circle cx="460.8" cy="259.6" r="1.2"/><circle cx="467.3" cy="235.8" r="1.8"/><circle cx="464.2" cy="248.3" r="1.6"/><circle cx="454.1" cy="239" r="1.6"/><circle cx="467.4" cy="278.8" r="1.3"/><circle cx="456.1" cy="226.6" r="1.1"/><circle cx="455.9" cy="280.3" r="1.7"/><circle cx="467" cy="237.1" r="1.4"/><circle cx="460.9" cy="271.3" r="1.6"/><circle cx="452.2" cy="227" r="1.3"/><circle cx="466.2" cy="273.9" r="1.6"/><circle cx="451.5" cy="257.6" r="1.7"/><circle cx="461.2" cy="261.2" r="1.7"/><circle cx="461.2" cy="236.6" r="1.5"/><circle cx="452.3" cy="266.8" r="1.6"/><circle cx="461.4" cy="275.3" r="1.1"/><circle cx="452.4" cy="276.3" r="1.2"/><circle cx="460.7" cy="272.6" r="1.3"/><circle cx="461.7" cy="269.6" r="1.1"/><circle cx="464.5" cy="236.3" r="1.6"/><circle cx="459.6" cy="227.1" r="1.6"/><circle cx="451.8" cy="241.7" r="1.3"/><circle cx="463.1" cy="277.2" r="1.2"/><circle cx="462" cy="272" r="1.2"/><circle cx="453.7" cy="238.4" r="1.3"/><circle cx="455.6" cy="243.8" r="1.7"/><circle cx="459.1" cy="267.1" r="1.8"/><circle cx="466.9" cy="262" r="1.7"/><circle cx="462.5" cy="259.7" r="1.6"/></g><rect x="449.1" y="252.5" width="20.2" height="3.6" fill="#a9a9a9"/><rect x="472.4" y="219.3" width="20.2" height="62.5" rx="1.4" fill="#f9a33c"/><g fill="#f9a33c"><circle cx="474.2" cy="218.5" r="1.45" fill-opacity="0.85"/><circle cx="475.4" cy="219" r="1.45" fill-opacity="0.85"/><circle cx="476.9" cy="218.5" r="1.45" fill-opacity="0.85"/><circle cx="479.5" cy="218.9" r="1.45" fill-opacity="0.85"/><circle cx="480.5" cy="219.2" r="1.45" fill-opacity="0.85"/><circle cx="483" cy="218.7" r="1.45" fill-opacity="0.85"/><circle cx="484.6" cy="218.7" r="1.45" fill-opacity="0.85"/><circle cx="485.7" cy="218.6" r="1.45" fill-opacity="0.85"/><circle cx="487.9" cy="218.5" r="1.45" fill-opacity="0.85"/><circle cx="488.9" cy="218.8" r="1.45" fill-opacity="0.85"/><circle cx="491.4" cy="218.8" r="1.45" fill-opacity="0.85"/><circle cx="474.3" cy="282.3" r="1.45" fill-opacity="0.85"/><circle cx="476" cy="281.9" r="1.45" fill-opacity="0.85"/><circle cx="476.6" cy="281.9" r="1.45" fill-opacity="0.85"/><circle cx="478.9" cy="282.1" r="1.45" fill-opacity="0.85"/><circle cx="481.3" cy="282.7" r="1.45" fill-opacity="0.85"/><circle cx="481.8" cy="282.6" r="1.45" fill-opacity="0.85"/><circle cx="484" cy="282.6" r="1.45" fill-opacity="0.85"/><circle cx="485.5" cy="282.5" r="1.45" fill-opacity="0.85"/><circle cx="486.7" cy="282.2" r="1.45" fill-opacity="0.85"/><circle cx="488.9" cy="282" r="1.45" fill-opacity="0.85"/><circle cx="490.5" cy="282.2" r="1.45" fill-opacity="0.85"/><circle cx="473.2" cy="220.4" r="1.45" fill-opacity="0.9"/><circle cx="473.2" cy="222.6" r="1.45" fill-opacity="0.9"/><circle cx="473.3" cy="224.9" r="1.45" fill-opacity="0.9"/><circle cx="473.4" cy="227.1" r="1.45" fill-opacity="0.9"/><circle cx="473.4" cy="229.3" r="1.45" fill-opacity="0.9"/><circle cx="473.3" cy="231.6" r="1.45" fill-opacity="0.9"/><circle cx="473.1" cy="233.8" r="1.45" fill-opacity="0.9"/><circle cx="473.2" cy="236" r="1.45" fill-opacity="0.9"/><circle cx="473.2" cy="238.3" r="1.45" fill-opacity="0.9"/><circle cx="473.1" cy="240.5" r="1.45" fill-opacity="0.9"/><circle cx="473.1" cy="242.7" r="1.45" fill-opacity="0.9"/><circle cx="473.1" cy="245" r="1.45" fill-opacity="0.9"/><circle cx="473.2" cy="247.2" r="1.45" fill-opacity="0.9"/><circle cx="473" cy="249.4" r="1.45" fill-opacity="0.9"/><circle cx="473.2" cy="251.7" r="1.45" fill-opacity="0.9"/><circle cx="473.2" cy="253.9" r="1.45" fill-opacity="0.9"/><circle cx="473" cy="256.1" r="1.45" fill-opacity="0.9"/><circle cx="473.1" cy="258.4" r="1.45" fill-opacity="0.9"/><circle cx="473.4" cy="260.6" r="1.45" fill-opacity="0.9"/><circle cx="473.2" cy="262.8" r="1.45" fill-opacity="0.9"/><circle cx="473" cy="265.1" r="1.45" fill-opacity="0.9"/><circle cx="473.2" cy="267.3" r="1.45" fill-opacity="0.9"/><circle cx="473.3" cy="269.5" r="1.45" fill-opacity="0.9"/><circle cx="473" cy="271.8" r="1.45" fill-opacity="0.9"/><circle cx="473.2" cy="274" r="1.45" fill-opacity="0.9"/><circle cx="473.1" cy="276.2" r="1.45" fill-opacity="0.9"/><circle cx="473.2" cy="278.5" r="1.45" fill-opacity="0.9"/><circle cx="473.4" cy="280.7" r="1.45" fill-opacity="0.9"/><circle cx="491.7" cy="220.4" r="1.45" fill-opacity="0.9"/><circle cx="491.6" cy="222.6" r="1.45" fill-opacity="0.9"/><circle cx="491.6" cy="224.9" r="1.45" fill-opacity="0.9"/><circle cx="491.9" cy="227.1" r="1.45" fill-opacity="0.9"/><circle cx="491.6" cy="229.3" r="1.45" fill-opacity="0.9"/><circle cx="491.8" cy="231.6" r="1.45" fill-opacity="0.9"/><circle cx="492" cy="233.8" r="1.45" fill-opacity="0.9"/><circle cx="491.9" cy="236" r="1.45" fill-opacity="0.9"/><circle cx="491.9" cy="238.3" r="1.45" fill-opacity="0.9"/><circle cx="491.6" cy="240.5" r="1.45" fill-opacity="0.9"/><circle cx="491.8" cy="242.7" r="1.45" fill-opacity="0.9"/><circle cx="491.7" cy="245" r="1.45" fill-opacity="0.9"/><circle cx="491.8" cy="247.2" r="1.45" fill-opacity="0.9"/><circle cx="491.6" cy="249.4" r="1.45" fill-opacity="0.9"/><circle cx="491.6" cy="251.7" r="1.45" fill-opacity="0.9"/><circle cx="492" cy="253.9" r="1.45" fill-opacity="0.9"/><circle cx="492" cy="256.1" r="1.45" fill-opacity="0.9"/><circle cx="491.6" cy="258.4" r="1.45" fill-opacity="0.9"/><circle cx="492" cy="260.6" r="1.45" fill-opacity="0.9"/><circle cx="491.6" cy="262.8" r="1.45" fill-opacity="0.9"/><circle cx="491.7" cy="265.1" r="1.45" fill-opacity="0.9"/><circle cx="492" cy="267.3" r="1.45" fill-opacity="0.9"/><circle cx="492" cy="269.5" r="1.45" fill-opacity="0.9"/><circle cx="491.8" cy="271.8" r="1.45" fill-opacity="0.9"/><circle cx="491.9" cy="274" r="1.45" fill-opacity="0.9"/><circle cx="491.7" cy="276.2" r="1.45" fill-opacity="0.9"/><circle cx="492" cy="278.5" r="1.45" fill-opacity="0.9"/><circle cx="491.7" cy="280.7" r="1.45" fill-opacity="0.9"/></g><rect x="472.4" y="248" width="20.2" height="3.1" fill="#a9a9a9"/><rect x="495.8" y="228" width="20.2" height="53.8" rx="1.4" fill="#238b22"/><g fill="#238b22"><circle cx="496.9" cy="227.9" r="1.45" fill-opacity="0.85"/><circle cx="499.1" cy="227.5" r="1.45" fill-opacity="0.85"/><circle cx="501.2" cy="227.9" r="1.45" fill-opacity="0.85"/><circle cx="502.8" cy="227.2" r="1.45" fill-opacity="0.85"/><circle cx="504.4" cy="227.9" r="1.45" fill-opacity="0.85"/><circle cx="505.3" cy="227.9" r="1.45" fill-opacity="0.85"/><circle cx="507.2" cy="227.3" r="1.45" fill-opacity="0.85"/><circle cx="508.6" cy="227.6" r="1.45" fill-opacity="0.85"/><circle cx="510.2" cy="227.4" r="1.45" fill-opacity="0.85"/><circle cx="512" cy="227.3" r="1.45" fill-opacity="0.85"/><circle cx="514.3" cy="227.8" r="1.45" fill-opacity="0.85"/><circle cx="497.5" cy="282.1" r="1.45" fill-opacity="0.85"/><circle cx="499" cy="282.3" r="1.45" fill-opacity="0.85"/><circle cx="500.3" cy="282.2" r="1.45" fill-opacity="0.85"/><circle cx="502.7" cy="282.6" r="1.45" fill-opacity="0.85"/><circle cx="504.5" cy="282.3" r="1.45" fill-opacity="0.85"/><circle cx="506.2" cy="281.9" r="1.45" fill-opacity="0.85"/><circle cx="508.1" cy="281.8" r="1.45" fill-opacity="0.85"/><circle cx="509.7" cy="282.5" r="1.45" fill-opacity="0.85"/><circle cx="510.7" cy="282.5" r="1.45" fill-opacity="0.85"/><circle cx="513.1" cy="281.9" r="1.45" fill-opacity="0.85"/><circle cx="514.4" cy="281.8" r="1.45" fill-opacity="0.85"/><circle cx="496.7" cy="229.1" r="1.45" fill-opacity="0.9"/><circle cx="496.4" cy="231.4" r="1.45" fill-opacity="0.9"/><circle cx="496.7" cy="233.6" r="1.45" fill-opacity="0.9"/><circle cx="496.4" cy="235.8" r="1.45" fill-opacity="0.9"/><circle cx="496.6" cy="238.1" r="1.45" fill-opacity="0.9"/><circle cx="496.8" cy="240.3" r="1.45" fill-opacity="0.9"/><circle cx="496.5" cy="242.6" r="1.45" fill-opacity="0.9"/><circle cx="496.8" cy="244.8" r="1.45" fill-opacity="0.9"/><circle cx="496.6" cy="247.1" r="1.45" fill-opacity="0.9"/><circle cx="496.4" cy="249.3" r="1.45" fill-opacity="0.9"/><circle cx="496.8" cy="251.5" r="1.45" fill-opacity="0.9"/><circle cx="496.4" cy="253.8" r="1.45" fill-opacity="0.9"/><circle cx="496.6" cy="256" r="1.45" fill-opacity="0.9"/><circle cx="496.8" cy="258.3" r="1.45" fill-opacity="0.9"/><circle cx="496.8" cy="260.5" r="1.45" fill-opacity="0.9"/><circle cx="496.6" cy="262.7" r="1.45" fill-opacity="0.9"/><circle cx="496.5" cy="265" r="1.45" fill-opacity="0.9"/><circle cx="496.6" cy="267.2" r="1.45" fill-opacity="0.9"/><circle cx="496.5" cy="269.5" r="1.45" fill-opacity="0.9"/><circle cx="496.5" cy="271.7" r="1.45" fill-opacity="0.9"/><circle cx="496.5" cy="274" r="1.45" fill-opacity="0.9"/><circle cx="496.5" cy="276.2" r="1.45" fill-opacity="0.9"/><circle cx="496.4" cy="278.4" r="1.45" fill-opacity="0.9"/><circle cx="496.7" cy="280.7" r="1.45" fill-opacity="0.9"/><circle cx="515" cy="229.1" r="1.45" fill-opacity="0.9"/><circle cx="515.2" cy="231.4" r="1.45" fill-opacity="0.9"/><circle cx="515.1" cy="233.6" r="1.45" fill-opacity="0.9"/><circle cx="515.3" cy="235.8" r="1.45" fill-opacity="0.9"/><circle cx="515.2" cy="238.1" r="1.45" fill-opacity="0.9"/><circle cx="515.2" cy="240.3" r="1.45" fill-opacity="0.9"/><circle cx="515.3" cy="242.6" r="1.45" fill-opacity="0.9"/><circle cx="515.2" cy="244.8" r="1.45" fill-opacity="0.9"/><circle cx="515.4" cy="247.1" r="1.45" fill-opacity="0.9"/><circle cx="515.2" cy="249.3" r="1.45" fill-opacity="0.9"/><circle cx="515.4" cy="251.5" r="1.45" fill-opacity="0.9"/><circle cx="515.4" cy="253.8" r="1.45" fill-opacity="0.9"/><circle cx="515.3" cy="256" r="1.45" fill-opacity="0.9"/><circle cx="515.1" cy="258.3" r="1.45" fill-opacity="0.9"/><circle cx="515.2" cy="260.5" r="1.45" fill-opacity="0.9"/><circle cx="515" cy="262.7" r="1.45" fill-opacity="0.9"/><circle cx="515.3" cy="265" r="1.45" fill-opacity="0.9"/><circle cx="515.3" cy="267.2" r="1.45" fill-opacity="0.9"/><circle cx="515.4" cy="269.5" r="1.45" fill-opacity="0.9"/><circle cx="515" cy="271.7" r="1.45" fill-opacity="0.9"/><circle cx="515" cy="274" r="1.45" fill-opacity="0.9"/><circle cx="515.3" cy="276.2" r="1.45" fill-opacity="0.9"/><circle cx="515.3" cy="278.4" r="1.45" fill-opacity="0.9"/><circle cx="515" cy="280.7" r="1.45" fill-opacity="0.9"/><circle cx="502.7" cy="221.2" r="1.5" fill-opacity="0.6"/><circle cx="497.6" cy="223.4" r="1.5" fill-opacity="0.6"/><circle cx="500.4" cy="221.7" r="1.5" fill-opacity="0.6"/><circle cx="499.4" cy="221.1" r="1.5" fill-opacity="0.6"/><circle cx="503.5" cy="221.2" r="1.5" fill-opacity="0.6"/><circle cx="508.9" cy="226.2" r="1.5" fill-opacity="0.6"/><circle cx="505.3" cy="225.2" r="1.5" fill-opacity="0.6"/><circle cx="497.5" cy="222.3" r="1.5" fill-opacity="0.6"/><circle cx="514.2" cy="222.3" r="1.5" fill-opacity="0.6"/><circle cx="507.2" cy="226.7" r="1.5" fill-opacity="0.6"/><circle cx="510.4" cy="225.3" r="1.5" fill-opacity="0.6"/><circle cx="501.1" cy="226.8" r="1.5" fill-opacity="0.6"/><circle cx="508.6" cy="226.6" r="1.5" fill-opacity="0.6"/><circle cx="502" cy="222.9" r="1.5" fill-opacity="0.6"/><circle cx="506.8" cy="222.2" r="1.5" fill-opacity="0.6"/><circle cx="511.3" cy="227.8" r="1.5" fill-opacity="0.6"/><circle cx="498.9" cy="222.2" r="1.5" fill-opacity="0.6"/><circle cx="499.7" cy="223" r="1.5" fill-opacity="0.6"/><circle cx="510.2" cy="222" r="1.5" fill-opacity="0.6"/><circle cx="507.1" cy="223.2" r="1.5" fill-opacity="0.6"/><circle cx="514.9" cy="223.2" r="1.5" fill-opacity="0.6"/><circle cx="499.2" cy="225.1" r="1.5" fill-opacity="0.6"/></g><g fill="#fff" fill-opacity="0.38"><circle cx="502.3" cy="235.4" r="1.4"/><circle cx="505.7" cy="230.7" r="1.2"/><circle cx="500.1" cy="231" r="1.8"/><circle cx="502.2" cy="230" r="1.3"/><circle cx="501.3" cy="229.1" r="1.3"/><circle cx="506.5" cy="233.5" r="1.3"/><circle cx="510.1" cy="234.4" r="1.2"/><circle cx="508" cy="230.3" r="1.3"/><circle cx="497.6" cy="235.9" r="1.4"/><circle cx="501" cy="231.3" r="1.7"/><circle cx="510.8" cy="230.1" r="1.7"/><circle cx="499.4" cy="237.2" r="1.1"/><circle cx="502.8" cy="228.8" r="1.7"/><circle cx="500" cy="234.1" r="1.1"/><circle cx="508" cy="235.1" r="1"/><circle cx="500.6" cy="233.6" r="1.2"/><circle cx="514.3" cy="229" r="1.4"/><circle cx="500.9" cy="233.9" r="1.3"/><circle cx="510.1" cy="234.1" r="1.7"/><circle cx="501.5" cy="230.4" r="1.3"/><circle cx="511.3" cy="230.9" r="1.3"/><circle cx="505.9" cy="231.5" r="1.5"/><circle cx="497.5" cy="231.4" r="1.6"/><circle cx="511.9" cy="229.1" r="1.2"/><circle cx="506.5" cy="230.4" r="1.7"/><circle cx="505.6" cy="231.6" r="1.3"/><circle cx="502.3" cy="229.1" r="1.7"/><circle cx="501.7" cy="236.9" r="1.7"/><circle cx="509.6" cy="228.2" r="1"/><circle cx="504.4" cy="232" r="1.3"/><circle cx="503.4" cy="236.9" r="1"/><circle cx="510.1" cy="229" r="1.1"/><circle cx="500.7" cy="228.6" r="1.8"/><circle cx="499.9" cy="232.2" r="1.5"/><circle cx="506.8" cy="231.6" r="1.8"/><circle cx="506.5" cy="234.6" r="1.8"/><circle cx="505.1" cy="232.8" r="1.7"/><circle cx="509.6" cy="237.1" r="1.3"/><circle cx="497.6" cy="231.8" r="1.2"/><circle cx="505.7" cy="235.4" r="1.7"/><circle cx="507" cy="234.4" r="1.6"/><circle cx="508.7" cy="232.7" r="1.4"/><circle cx="510.4" cy="231.3" r="1.1"/><circle cx="513.7" cy="237.3" r="1.7"/><circle cx="505" cy="232.4" r="1.3"/></g><rect x="495.8" y="261.3" width="20.2" height="2.4" fill="#a9a9a9"/><line x1="281.4" x2="519.5" y1="324.1" y2="324.1" stroke="#ededed" stroke-width="0.4"/><line x1="281.4" x2="519.5" y1="336.9" y2="336.9" stroke="#ededed" stroke-width="0.4"/><line x1="281.4" x2="519.5" y1="349.8" y2="349.8" stroke="#ededed" stroke-width="0.4"/><line x1="281.4" x2="519.5" y1="362.6" y2="362.6" stroke="#ededed" stroke-width="0.4"/><line x1="281.4" x2="519.5" y1="317.7" y2="317.7" stroke="#e6e6e6" stroke-width="0.75"/><text transform="translate(278.3 320.2) scale(0.86 1)" font-family="'Liberation Sans', sans-serif" font-size="7" fill="#4d4d4d" text-anchor="end">1.00</text><line x1="281.4" x2="519.5" y1="330.5" y2="330.5" stroke="#e6e6e6" stroke-width="0.75"/><text transform="translate(278.3 333) scale(0.86 1)" font-family="'Liberation Sans', sans-serif" font-size="7" fill="#4d4d4d" text-anchor="end">0.75</text><line x1="281.4" x2="519.5" y1="343.4" y2="343.4" stroke="#e6e6e6" stroke-width="0.75"/><text transform="translate(278.3 345.9) scale(0.86 1)" font-family="'Liberation Sans', sans-serif" font-size="7" fill="#4d4d4d" text-anchor="end">0.50</text><line x1="281.4" x2="519.5" y1="356.2" y2="356.2" stroke="#e6e6e6" stroke-width="0.75"/><text transform="translate(278.3 358.7) scale(0.86 1)" font-family="'Liberation Sans', sans-serif" font-size="7" fill="#4d4d4d" text-anchor="end">0.25</text><line x1="281.4" x2="519.5" y1="369" y2="369" stroke="#e6e6e6" stroke-width="0.75"/><text transform="translate(278.3 371.5) scale(0.86 1)" font-family="'Liberation Sans', sans-serif" font-size="7" fill="#4d4d4d" text-anchor="end">0.00</text><line x1="295.7" x2="295.7" y1="313" y2="373.5" stroke="#e6e6e6" stroke-width="0.75"/><line x1="342.4" x2="342.4" y1="313" y2="373.5" stroke="#e6e6e6" stroke-width="0.75"/><line x1="389.1" x2="389.1" y1="313" y2="373.5" stroke="#e6e6e6" stroke-width="0.75"/><line x1="435.8" x2="435.8" y1="313" y2="373.5" stroke="#e6e6e6" stroke-width="0.75"/><line x1="482.5" x2="482.5" y1="313" y2="373.5" stroke="#e6e6e6" stroke-width="0.75"/><line x1="319.1" x2="319.1" y1="313" y2="373.5" stroke="#e6e6e6" stroke-width="0.75"/><line x1="365.8" x2="365.8" y1="313" y2="373.5" stroke="#e6e6e6" stroke-width="0.75"/><line x1="412.5" x2="412.5" y1="313" y2="373.5" stroke="#e6e6e6" stroke-width="0.75"/><line x1="459.2" x2="459.2" y1="313" y2="373.5" stroke="#e6e6e6" stroke-width="0.75"/><line x1="505.9" x2="505.9" y1="313" y2="373.5" stroke="#e6e6e6" stroke-width="0.75"/><line x1="330.5" x2="330.5" y1="313" y2="373.5" stroke="#ababab" stroke-width="0.85" stroke-dasharray="3.8 2.4"/><line x1="377.2" x2="377.2" y1="313" y2="373.5" stroke="#ababab" stroke-width="0.85" stroke-dasharray="3.8 2.4"/><line x1="423.9" x2="423.9" y1="313" y2="373.5" stroke="#ababab" stroke-width="0.85" stroke-dasharray="3.8 2.4"/><line x1="470.6" x2="470.6" y1="313" y2="373.5" stroke="#ababab" stroke-width="0.85" stroke-dasharray="3.8 2.4"/><text x="281.8" y="307.4" font-family="'Liberation Sans', sans-serif" font-size="7.2" fill="#000">Protected area directed at birds</text><text transform="translate(262.1 312.8) scale(1 1)" font-family="'Liberation Sans', sans-serif" font-size="10.4" font-weight="bold" fill="#000">F</text><rect x="309" y="315.3" width="20.2" height="4.9" rx="1.4" fill="#238b22"/><g fill="#238b22"><circle cx="310.4" cy="315.1" r="1.45" fill-opacity="0.85"/><circle cx="312.6" cy="314.5" r="1.45" fill-opacity="0.85"/><circle cx="313.9" cy="314.5" r="1.45" fill-opacity="0.85"/><circle cx="315.3" cy="314.5" r="1.45" fill-opacity="0.85"/><circle cx="317.9" cy="314.7" r="1.45" fill-opacity="0.85"/><circle cx="319.6" cy="314.6" r="1.45" fill-opacity="0.85"/><circle cx="320.9" cy="314.9" r="1.45" fill-opacity="0.85"/><circle cx="321.7" cy="315.2" r="1.45" fill-opacity="0.85"/><circle cx="324.4" cy="315.1" r="1.45" fill-opacity="0.85"/><circle cx="325.9" cy="315.2" r="1.45" fill-opacity="0.85"/><circle cx="327.7" cy="314.4" r="1.45" fill-opacity="0.85"/><circle cx="310.6" cy="320.2" r="1.45" fill-opacity="0.85"/><circle cx="312.5" cy="320.6" r="1.45" fill-opacity="0.85"/><circle cx="314.4" cy="320.3" r="1.45" fill-opacity="0.85"/><circle cx="315.3" cy="321" r="1.45" fill-opacity="0.85"/><circle cx="317.7" cy="321" r="1.45" fill-opacity="0.85"/><circle cx="319" cy="320.8" r="1.45" fill-opacity="0.85"/><circle cx="321.2" cy="320.8" r="1.45" fill-opacity="0.85"/><circle cx="321.8" cy="320.3" r="1.45" fill-opacity="0.85"/><circle cx="323.3" cy="320.3" r="1.45" fill-opacity="0.85"/><circle cx="325.1" cy="320.5" r="1.45" fill-opacity="0.85"/><circle cx="327.5" cy="321" r="1.45" fill-opacity="0.85"/><circle cx="309.8" cy="316.5" r="1.45" fill-opacity="0.9"/><circle cx="309.6" cy="319" r="1.45" fill-opacity="0.9"/><circle cx="328.6" cy="316.5" r="1.45" fill-opacity="0.9"/><circle cx="328.6" cy="319" r="1.45" fill-opacity="0.9"/></g><rect x="309" y="366.3" width="20.2" height="6.3" rx="1.4" fill="#238b22"/><g fill="#238b22"><circle cx="311.1" cy="366.3" r="1.45" fill-opacity="0.85"/><circle cx="312.3" cy="365.7" r="1.45" fill-opacity="0.85"/><circle cx="313.9" cy="366.1" r="1.45" fill-opacity="0.85"/><circle cx="316.1" cy="365.8" r="1.45" fill-opacity="0.85"/><circle cx="316.6" cy="366" r="1.45" fill-opacity="0.85"/><circle cx="319.2" cy="366.1" r="1.45" fill-opacity="0.85"/><circle cx="321" cy="366.1" r="1.45" fill-opacity="0.85"/><circle cx="322.2" cy="366" r="1.45" fill-opacity="0.85"/><circle cx="323.5" cy="365.5" r="1.45" fill-opacity="0.85"/><circle cx="325.5" cy="365.6" r="1.45" fill-opacity="0.85"/><circle cx="327.9" cy="366" r="1.45" fill-opacity="0.85"/><circle cx="309.8" cy="373.1" r="1.45" fill-opacity="0.85"/><circle cx="311.8" cy="373.4" r="1.45" fill-opacity="0.85"/><circle cx="313.4" cy="373.2" r="1.45" fill-opacity="0.85"/><circle cx="314.9" cy="372.8" r="1.45" fill-opacity="0.85"/><circle cx="316.8" cy="373.4" r="1.45" fill-opacity="0.85"/><circle cx="319.1" cy="373.2" r="1.45" fill-opacity="0.85"/><circle cx="320.1" cy="372.9" r="1.45" fill-opacity="0.85"/><circle cx="322.8" cy="373.2" r="1.45" fill-opacity="0.85"/><circle cx="324.4" cy="373.1" r="1.45" fill-opacity="0.85"/><circle cx="325.3" cy="373.4" r="1.45" fill-opacity="0.85"/><circle cx="327.1" cy="372.8" r="1.45" fill-opacity="0.85"/><circle cx="309.9" cy="367.9" r="1.45" fill-opacity="0.9"/><circle cx="309.6" cy="371" r="1.45" fill-opacity="0.9"/><circle cx="328.5" cy="367.9" r="1.45" fill-opacity="0.9"/><circle cx="328.5" cy="371" r="1.45" fill-opacity="0.9"/></g><rect x="310.7" y="359.2" width="16.8" height="3.2" fill="#a9a9a9"/><g fill="#238b22" fill-opacity="0.55"><circle cx="363.7" cy="317.6" r="1.5"/><circle cx="365.6" cy="314.3" r="1.5"/><circle cx="358.1" cy="316.4" r="1.5"/><circle cx="356.7" cy="315.1" r="1.5"/><circle cx="363.3" cy="318.5" r="1.5"/><circle cx="366.1" cy="315" r="1.5"/><circle cx="370.6" cy="319.7" r="1.5"/><circle cx="368.8" cy="318.9" r="1.5"/><circle cx="361.3" cy="320.1" r="1.5"/><circle cx="367.4" cy="315" r="1.5"/><circle cx="369.2" cy="318.5" r="1.5"/><circle cx="367.1" cy="317.3" r="1.5"/><circle cx="370.7" cy="319.2" r="1.5"/><circle cx="367.4" cy="314.2" r="1.5"/><circle cx="360.9" cy="321.1" r="1.5"/><circle cx="364" cy="318.5" r="1.5"/><circle cx="359" cy="318" r="1.5"/><circle cx="367.8" cy="319.5" r="1.5"/></g><rect x="355.7" y="366.3" width="20.2" height="6.3" rx="1.4" fill="#238b22"/><g fill="#238b22"><circle cx="357.8" cy="365.9" r="1.45" fill-opacity="0.85"/><circle cx="358.6" cy="366.2" r="1.45" fill-opacity="0.85"/><circle cx="360.3" cy="365.9" r="1.45" fill-opacity="0.85"/><circle cx="362.9" cy="365.8" r="1.45" fill-opacity="0.85"/><circle cx="364.2" cy="365.6" r="1.45" fill-opacity="0.85"/><circle cx="365" cy="366.1" r="1.45" fill-opacity="0.85"/><circle cx="367.4" cy="366.2" r="1.45" fill-opacity="0.85"/><circle cx="368.5" cy="365.6" r="1.45" fill-opacity="0.85"/><circle cx="370.9" cy="366.2" r="1.45" fill-opacity="0.85"/><circle cx="371.9" cy="365.5" r="1.45" fill-opacity="0.85"/><circle cx="374" cy="366" r="1.45" fill-opacity="0.85"/><circle cx="357.5" cy="373.2" r="1.45" fill-opacity="0.85"/><circle cx="359.5" cy="372.7" r="1.45" fill-opacity="0.85"/><circle cx="360.9" cy="373" r="1.45" fill-opacity="0.85"/><circle cx="361.9" cy="373" r="1.45" fill-opacity="0.85"/><circle cx="363.3" cy="372.7" r="1.45" fill-opacity="0.85"/><circle cx="365.1" cy="373.2" r="1.45" fill-opacity="0.85"/><circle cx="367.6" cy="372.8" r="1.45" fill-opacity="0.85"/><circle cx="368.8" cy="373.3" r="1.45" fill-opacity="0.85"/><circle cx="370.6" cy="372.9" r="1.45" fill-opacity="0.85"/><circle cx="373" cy="373.1" r="1.45" fill-opacity="0.85"/><circle cx="374.1" cy="373.1" r="1.45" fill-opacity="0.85"/><circle cx="356.3" cy="367.9" r="1.45" fill-opacity="0.9"/><circle cx="356.4" cy="371" r="1.45" fill-opacity="0.9"/><circle cx="375.2" cy="367.9" r="1.45" fill-opacity="0.9"/><circle cx="375.2" cy="371" r="1.45" fill-opacity="0.9"/></g><rect x="357.4" y="365.9" width="16.8" height="2" fill="#a9a9a9"/><circle cx="408.3" cy="318.5" r="1.5" fill="#238b22" fill-opacity="0.6"/><rect x="404.2" y="359.7" width="16.6" height="8.6" fill="#e4e4e4" fill-opacity="0.45" stroke="#a3a3a3" stroke-width="0.9"/><rect x="404.3" y="366.7" width="16.4" height="1.6" fill="#a9a9a9"/><g fill="#238b22" fill-opacity="0.6"><circle cx="419.4" cy="368.4" r="1.5"/><circle cx="412.1" cy="368.1" r="1.5"/><circle cx="406.9" cy="367.6" r="1.5"/><circle cx="407.1" cy="367.9" r="1.5"/><circle cx="411.4" cy="368.7" r="1.5"/><circle cx="417.2" cy="370" r="1.5"/><circle cx="413.2" cy="369.6" r="1.5"/><circle cx="411.9" cy="368.4" r="1.5"/><circle cx="412.6" cy="369.5" r="1.5"/><circle cx="420.6" cy="370.2" r="1.5"/><circle cx="404.8" cy="369.5" r="1.5"/><circle cx="405.2" cy="369.5" r="1.5"/><circle cx="418.7" cy="369.7" r="1.5"/><circle cx="405.7" cy="368.8" r="1.5"/><circle cx="407.1" cy="369.6" r="1.5"/><circle cx="416.2" cy="369.9" r="1.5"/><circle cx="409.9" cy="369.4" r="1.5"/><circle cx="407.3" cy="370.6" r="1.5"/><circle cx="420.3" cy="367.4" r="1.5"/><circle cx="413.6" cy="369.8" r="1.5"/></g><rect x="449.1" y="315.1" width="20.2" height="5.5" rx="1.4" fill="#238b22"/><g fill="#238b22"><circle cx="450.2" cy="315.1" r="1.45" fill-opacity="0.85"/><circle cx="451.6" cy="314.5" r="1.45" fill-opacity="0.85"/><circle cx="453.3" cy="314.8" r="1.45" fill-opacity="0.85"/><circle cx="456.1" cy="315.1" r="1.45" fill-opacity="0.85"/><circle cx="457.6" cy="314.7" r="1.45" fill-opacity="0.85"/><circle cx="458.9" cy="314.7" r="1.45" fill-opacity="0.85"/><circle cx="460.5" cy="314.3" r="1.45" fill-opacity="0.85"/><circle cx="462.6" cy="314.8" r="1.45" fill-opacity="0.85"/><circle cx="463.6" cy="314.6" r="1.45" fill-opacity="0.85"/><circle cx="466.5" cy="314.3" r="1.45" fill-opacity="0.85"/><circle cx="466.9" cy="314.8" r="1.45" fill-opacity="0.85"/><circle cx="450.5" cy="321" r="1.45" fill-opacity="0.85"/><circle cx="451.7" cy="320.8" r="1.45" fill-opacity="0.85"/><circle cx="454" cy="321.2" r="1.45" fill-opacity="0.85"/><circle cx="455.9" cy="321.2" r="1.45" fill-opacity="0.85"/><circle cx="457.6" cy="320.6" r="1.45" fill-opacity="0.85"/><circle cx="458.6" cy="320.9" r="1.45" fill-opacity="0.85"/><circle cx="460.4" cy="320.9" r="1.45" fill-opacity="0.85"/><circle cx="462.3" cy="320.9" r="1.45" fill-opacity="0.85"/><circle cx="463.4" cy="321.4" r="1.45" fill-opacity="0.85"/><circle cx="466.4" cy="321.2" r="1.45" fill-opacity="0.85"/><circle cx="467.2" cy="321" r="1.45" fill-opacity="0.85"/><circle cx="450.1" cy="316.5" r="1.45" fill-opacity="0.9"/><circle cx="449.9" cy="319.2" r="1.45" fill-opacity="0.9"/><circle cx="468.6" cy="316.5" r="1.45" fill-opacity="0.9"/><circle cx="468.6" cy="319.2" r="1.45" fill-opacity="0.9"/></g><rect x="449.1" y="366.3" width="20.2" height="5.5" rx="1.4" fill="#238b22"/><g fill="#238b22"><circle cx="451.2" cy="365.7" r="1.45" fill-opacity="0.85"/><circle cx="451.7" cy="365.8" r="1.45" fill-opacity="0.85"/><circle cx="454.5" cy="366.2" r="1.45" fill-opacity="0.85"/><circle cx="455" cy="366.3" r="1.45" fill-opacity="0.85"/><circle cx="456.8" cy="366.2" r="1.45" fill-opacity="0.85"/><circle cx="459.4" cy="365.8" r="1.45" fill-opacity="0.85"/><circle cx="461" cy="365.8" r="1.45" fill-opacity="0.85"/><circle cx="462.2" cy="365.6" r="1.45" fill-opacity="0.85"/><circle cx="463.7" cy="366" r="1.45" fill-opacity="0.85"/><circle cx="465.7" cy="365.7" r="1.45" fill-opacity="0.85"/><circle cx="467.8" cy="365.8" r="1.45" fill-opacity="0.85"/><circle cx="450.7" cy="372.1" r="1.45" fill-opacity="0.85"/><circle cx="452.4" cy="372.6" r="1.45" fill-opacity="0.85"/><circle cx="453.9" cy="372.5" r="1.45" fill-opacity="0.85"/><circle cx="455.7" cy="372.3" r="1.45" fill-opacity="0.85"/><circle cx="457.5" cy="371.9" r="1.45" fill-opacity="0.85"/><circle cx="458.6" cy="372" r="1.45" fill-opacity="0.85"/><circle cx="460.8" cy="372.4" r="1.45" fill-opacity="0.85"/><circle cx="462.7" cy="372" r="1.45" fill-opacity="0.85"/><circle cx="463.9" cy="371.9" r="1.45" fill-opacity="0.85"/><circle cx="466" cy="372.2" r="1.45" fill-opacity="0.85"/><circle cx="467.2" cy="372" r="1.45" fill-opacity="0.85"/><circle cx="450.1" cy="367.7" r="1.45" fill-opacity="0.9"/><circle cx="449.9" cy="370.4" r="1.45" fill-opacity="0.9"/><circle cx="468.7" cy="367.7" r="1.45" fill-opacity="0.9"/><circle cx="468.4" cy="370.4" r="1.45" fill-opacity="0.9"/></g><rect x="451" y="357.3" width="16.4" height="3.2" fill="#a9a9a9"/><rect x="495.8" y="315.1" width="20.2" height="5.5" rx="1.4" fill="#238b22"/><g fill="#238b22"><circle cx="496.9" cy="314.5" r="1.45" fill-opacity="0.85"/><circle cx="499.5" cy="315" r="1.45" fill-opacity="0.85"/><circle cx="501.1" cy="314.6" r="1.45" fill-opacity="0.85"/><circle cx="502.9" cy="314.2" r="1.45" fill-opacity="0.85"/><circle cx="503.9" cy="314.3" r="1.45" fill-opacity="0.85"/><circle cx="505.3" cy="314.7" r="1.45" fill-opacity="0.85"/><circle cx="507.3" cy="314.9" r="1.45" fill-opacity="0.85"/><circle cx="509.1" cy="314.4" r="1.45" fill-opacity="0.85"/><circle cx="510.3" cy="314.7" r="1.45" fill-opacity="0.85"/><circle cx="512.5" cy="314.9" r="1.45" fill-opacity="0.85"/><circle cx="514.4" cy="314.9" r="1.45" fill-opacity="0.85"/><circle cx="497.4" cy="321.1" r="1.45" fill-opacity="0.85"/><circle cx="499.3" cy="321.4" r="1.45" fill-opacity="0.85"/><circle cx="501.2" cy="321.1" r="1.45" fill-opacity="0.85"/><circle cx="502" cy="320.8" r="1.45" fill-opacity="0.85"/><circle cx="504.4" cy="321.3" r="1.45" fill-opacity="0.85"/><circle cx="506.1" cy="321.4" r="1.45" fill-opacity="0.85"/><circle cx="507.5" cy="321.4" r="1.45" fill-opacity="0.85"/><circle cx="509.3" cy="321.2" r="1.45" fill-opacity="0.85"/><circle cx="511.3" cy="321.2" r="1.45" fill-opacity="0.85"/><circle cx="512.9" cy="321.4" r="1.45" fill-opacity="0.85"/><circle cx="514" cy="321.3" r="1.45" fill-opacity="0.85"/><circle cx="496.5" cy="316.5" r="1.45" fill-opacity="0.9"/><circle cx="496.6" cy="319.2" r="1.45" fill-opacity="0.9"/><circle cx="515.4" cy="316.5" r="1.45" fill-opacity="0.9"/><circle cx="515.4" cy="319.2" r="1.45" fill-opacity="0.9"/></g><rect x="495.8" y="366.3" width="20.2" height="5.5" rx="1.4" fill="#238b22"/><g fill="#238b22"><circle cx="497.9" cy="365.6" r="1.45" fill-opacity="0.85"/><circle cx="499.4" cy="365.5" r="1.45" fill-opacity="0.85"/><circle cx="500.8" cy="366.1" r="1.45" fill-opacity="0.85"/><circle cx="501.7" cy="365.6" r="1.45" fill-opacity="0.85"/><circle cx="504.4" cy="365.6" r="1.45" fill-opacity="0.85"/><circle cx="505.8" cy="365.7" r="1.45" fill-opacity="0.85"/><circle cx="507.7" cy="365.8" r="1.45" fill-opacity="0.85"/><circle cx="509.3" cy="366.1" r="1.45" fill-opacity="0.85"/><circle cx="510.8" cy="365.7" r="1.45" fill-opacity="0.85"/><circle cx="512.6" cy="366.1" r="1.45" fill-opacity="0.85"/><circle cx="513.7" cy="365.7" r="1.45" fill-opacity="0.85"/><circle cx="496.8" cy="372.5" r="1.45" fill-opacity="0.85"/><circle cx="498.5" cy="372.5" r="1.45" fill-opacity="0.85"/><circle cx="500.5" cy="372.6" r="1.45" fill-opacity="0.85"/><circle cx="502" cy="371.9" r="1.45" fill-opacity="0.85"/><circle cx="504.3" cy="372.5" r="1.45" fill-opacity="0.85"/><circle cx="505.5" cy="372.2" r="1.45" fill-opacity="0.85"/><circle cx="507.6" cy="372.1" r="1.45" fill-opacity="0.85"/><circle cx="509" cy="372.3" r="1.45" fill-opacity="0.85"/><circle cx="510.5" cy="371.9" r="1.45" fill-opacity="0.85"/><circle cx="513" cy="371.9" r="1.45" fill-opacity="0.85"/><circle cx="514.8" cy="372.6" r="1.45" fill-opacity="0.85"/><circle cx="496.6" cy="367.7" r="1.45" fill-opacity="0.9"/><circle cx="496.8" cy="370.4" r="1.45" fill-opacity="0.9"/><circle cx="515" cy="367.7" r="1.45" fill-opacity="0.9"/><circle cx="515.2" cy="370.4" r="1.45" fill-opacity="0.9"/></g><rect x="497.7" y="354.6" width="16.4" height="3.2" fill="#a9a9a9"/><text x="0" y="0" transform="translate(320 382.2) rotate(-18.5) scale(0.87 1)" font-family="'Liberation Sans', sans-serif" font-size="6.7" fill="#4d4d4d" text-anchor="end">Alpine Bio-Region</text><text x="0" y="0" transform="translate(366.7 382.2) rotate(-18.5) scale(0.87 1)" font-family="'Liberation Sans', sans-serif" font-size="6.7" fill="#4d4d4d" text-anchor="end">Atlantic Bio-Region</text><text x="0" y="0" transform="translate(413.4 382.2) rotate(-18.5) scale(0.87 1)" font-family="'Liberation Sans', sans-serif" font-size="6.7" fill="#4d4d4d" text-anchor="end">Boreal Bio-Region</text><text x="0" y="0" transform="translate(460.1 382.2) rotate(-18.5) scale(0.87 1)" font-family="'Liberation Sans', sans-serif" font-size="6.7" fill="#4d4d4d" text-anchor="end">Continental Bio-Region</text><text x="0" y="0" transform="translate(506.8 382.2) rotate(-18.5) scale(0.87 1)" font-family="'Liberation Sans', sans-serif" font-size="6.7" fill="#4d4d4d" text-anchor="end">Mediterranean Bio-Region</text><text x="348.6" y="6.0" font-family="'Liberation Sans', sans-serif" font-size="7.2" fill="#000">Protection</text><text x="348.6" y="13.9" font-family="'Liberation Sans', sans-serif" font-size="7.2" fill="#000">status</text><circle cx="391.5" cy="7.8" r="1.5" fill="#f9a33c" fill-opacity="0.7"/><text x="402.4" y="10.2" font-family="'Liberation Sans', sans-serif" font-size="7.2" fill="#000">0</text><circle cx="415.6" cy="7.8" r="1.5" fill="#238b22" fill-opacity="0.7"/><text x="426.4" y="10.2" font-family="'Liberation Sans', sans-serif" font-size="7.2" fill="#000">1</text></svg></body></html>
